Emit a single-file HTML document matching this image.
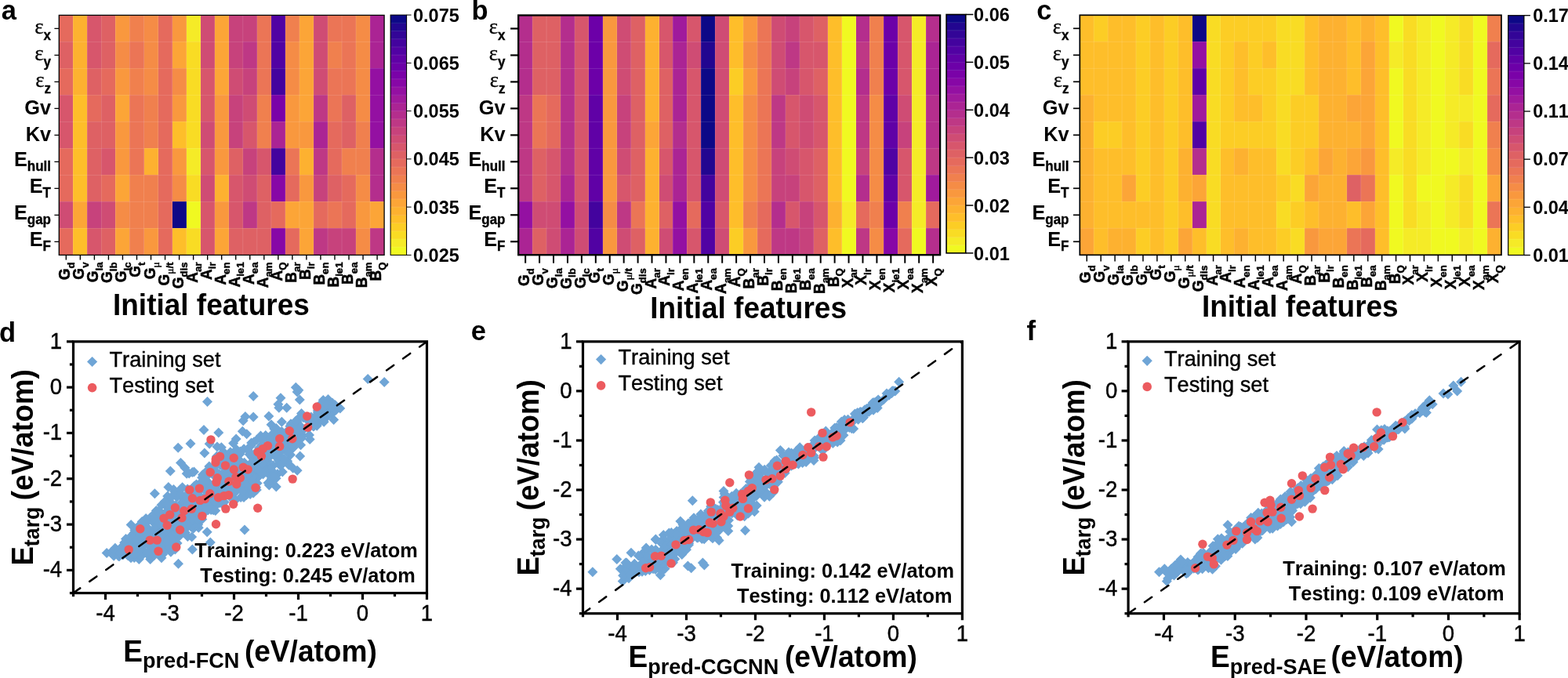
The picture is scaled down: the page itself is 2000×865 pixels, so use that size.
<!DOCTYPE html>
<html lang="en"><head><meta charset="utf-8"><title>Feature importance heatmaps and parity plots</title>
<style>html,body{margin:0;padding:0;background:#fff;}body{width:2000px;height:865px;overflow:hidden;}svg{display:block;font-family:"Liberation Sans", sans-serif;}text{fill:#000;font-kerning:none;}</style>
</head><body>
<svg width="2000" height="865" viewBox="0 0 2000 865">
<rect width="2000" height="865" fill="#fff"/>
<text transform="translate(1.7 25.4) scale(1 1.04)" font-size="34.5" font-weight="bold">a</text>
<text transform="translate(601.5 25.3) scale(1 1.04)" font-size="34.5" font-weight="bold">b</text>
<text transform="translate(1322.2 25.4) scale(1 1.04)" font-size="34.5" font-weight="bold">c</text>
<text transform="translate(-1 436.2) scale(1 1.04)" font-size="34.5" font-weight="bold">d</text>
<text transform="translate(600.8 433.8) scale(1 1.04)" font-size="34.5" font-weight="bold">e</text>
<text transform="translate(1309.5 433.8) scale(1 1.04)" font-size="34.5" font-weight="bold">f</text>
<g shape-rendering="crispEdges">
<rect x="75.3" y="19.4" width="18.33" height="34.3" fill="#e56a5d"/>
<rect x="93.33" y="19.4" width="18.34" height="34.3" fill="#fdb130"/>
<rect x="111.37" y="19.4" width="18.33" height="34.3" fill="#d7566c"/>
<rect x="129.41" y="19.4" width="18.33" height="34.3" fill="#de6164"/>
<rect x="147.44" y="19.4" width="18.33" height="34.3" fill="#f9983e"/>
<rect x="165.47" y="19.4" width="18.33" height="34.3" fill="#f0804e"/>
<rect x="183.51" y="19.4" width="18.34" height="34.3" fill="#f58c46"/>
<rect x="201.55" y="19.4" width="18.33" height="34.3" fill="#e56a5d"/>
<rect x="219.58" y="19.4" width="18.34" height="34.3" fill="#f9983e"/>
<rect x="237.62" y="19.4" width="18.33" height="34.3" fill="#f5eb27"/>
<rect x="255.65" y="19.4" width="18.34" height="34.3" fill="#cf4c74"/>
<rect x="273.69" y="19.4" width="18.34" height="34.3" fill="#fca537"/>
<rect x="291.72" y="19.4" width="18.33" height="34.3" fill="#c7427c"/>
<rect x="309.75" y="19.4" width="18.34" height="34.3" fill="#c7427c"/>
<rect x="327.79" y="19.4" width="18.33" height="34.3" fill="#eb7556"/>
<rect x="345.82" y="19.4" width="18.34" height="34.3" fill="#5102a3"/>
<rect x="363.86" y="19.4" width="18.34" height="34.3" fill="#f0804e"/>
<rect x="381.9" y="19.4" width="18.33" height="34.3" fill="#fca537"/>
<rect x="399.93" y="19.4" width="18.34" height="34.3" fill="#cf4c74"/>
<rect x="417.97" y="19.4" width="18.33" height="34.3" fill="#eb7556"/>
<rect x="436" y="19.4" width="18.34" height="34.3" fill="#eb7556"/>
<rect x="454.04" y="19.4" width="18.33" height="34.3" fill="#f58c46"/>
<rect x="472.07" y="19.4" width="18.34" height="34.3" fill="#ab2494"/>
<rect x="75.3" y="53.4" width="18.33" height="34.3" fill="#de6164"/>
<rect x="93.33" y="53.4" width="18.34" height="34.3" fill="#fdb130"/>
<rect x="111.37" y="53.4" width="18.33" height="34.3" fill="#d7566c"/>
<rect x="129.41" y="53.4" width="18.33" height="34.3" fill="#de6164"/>
<rect x="147.44" y="53.4" width="18.33" height="34.3" fill="#f58c46"/>
<rect x="165.47" y="53.4" width="18.33" height="34.3" fill="#eb7556"/>
<rect x="183.51" y="53.4" width="18.34" height="34.3" fill="#f58c46"/>
<rect x="201.55" y="53.4" width="18.33" height="34.3" fill="#e56a5d"/>
<rect x="219.58" y="53.4" width="18.34" height="34.3" fill="#fca537"/>
<rect x="237.62" y="53.4" width="18.33" height="34.3" fill="#f9dc24"/>
<rect x="255.65" y="53.4" width="18.34" height="34.3" fill="#cf4c74"/>
<rect x="273.69" y="53.4" width="18.34" height="34.3" fill="#fca537"/>
<rect x="291.72" y="53.4" width="18.33" height="34.3" fill="#c7427c"/>
<rect x="309.75" y="53.4" width="18.34" height="34.3" fill="#be3885"/>
<rect x="327.79" y="53.4" width="18.33" height="34.3" fill="#eb7556"/>
<rect x="345.82" y="53.4" width="18.34" height="34.3" fill="#5102a3"/>
<rect x="363.86" y="53.4" width="18.34" height="34.3" fill="#f58c46"/>
<rect x="381.9" y="53.4" width="18.33" height="34.3" fill="#fca537"/>
<rect x="399.93" y="53.4" width="18.34" height="34.3" fill="#cf4c74"/>
<rect x="417.97" y="53.4" width="18.33" height="34.3" fill="#f0804e"/>
<rect x="436" y="53.4" width="18.34" height="34.3" fill="#eb7556"/>
<rect x="454.04" y="53.4" width="18.33" height="34.3" fill="#f58c46"/>
<rect x="472.07" y="53.4" width="18.34" height="34.3" fill="#ab2494"/>
<rect x="75.3" y="87.4" width="18.33" height="34.3" fill="#e56a5d"/>
<rect x="93.33" y="87.4" width="18.34" height="34.3" fill="#fdb130"/>
<rect x="111.37" y="87.4" width="18.33" height="34.3" fill="#de6164"/>
<rect x="129.41" y="87.4" width="18.33" height="34.3" fill="#e56a5d"/>
<rect x="147.44" y="87.4" width="18.33" height="34.3" fill="#f9983e"/>
<rect x="165.47" y="87.4" width="18.33" height="34.3" fill="#f0804e"/>
<rect x="183.51" y="87.4" width="18.34" height="34.3" fill="#f58c46"/>
<rect x="201.55" y="87.4" width="18.33" height="34.3" fill="#e56a5d"/>
<rect x="219.58" y="87.4" width="18.34" height="34.3" fill="#f58c46"/>
<rect x="237.62" y="87.4" width="18.33" height="34.3" fill="#f9dc24"/>
<rect x="255.65" y="87.4" width="18.34" height="34.3" fill="#d7566c"/>
<rect x="273.69" y="87.4" width="18.34" height="34.3" fill="#fca537"/>
<rect x="291.72" y="87.4" width="18.33" height="34.3" fill="#cf4c74"/>
<rect x="309.75" y="87.4" width="18.34" height="34.3" fill="#c7427c"/>
<rect x="327.79" y="87.4" width="18.33" height="34.3" fill="#eb7556"/>
<rect x="345.82" y="87.4" width="18.34" height="34.3" fill="#43039e"/>
<rect x="363.86" y="87.4" width="18.34" height="34.3" fill="#f58c46"/>
<rect x="381.9" y="87.4" width="18.33" height="34.3" fill="#fca537"/>
<rect x="399.93" y="87.4" width="18.34" height="34.3" fill="#cf4c74"/>
<rect x="417.97" y="87.4" width="18.33" height="34.3" fill="#eb7556"/>
<rect x="436" y="87.4" width="18.34" height="34.3" fill="#eb7556"/>
<rect x="454.04" y="87.4" width="18.33" height="34.3" fill="#f58c46"/>
<rect x="472.07" y="87.4" width="18.34" height="34.3" fill="#9410a2"/>
<rect x="75.3" y="121.4" width="18.33" height="34.3" fill="#d7566c"/>
<rect x="93.33" y="121.4" width="18.34" height="34.3" fill="#febe2a"/>
<rect x="111.37" y="121.4" width="18.33" height="34.3" fill="#e56a5d"/>
<rect x="129.41" y="121.4" width="18.33" height="34.3" fill="#de6164"/>
<rect x="147.44" y="121.4" width="18.33" height="34.3" fill="#fca537"/>
<rect x="165.47" y="121.4" width="18.33" height="34.3" fill="#eb7556"/>
<rect x="183.51" y="121.4" width="18.34" height="34.3" fill="#f0804e"/>
<rect x="201.55" y="121.4" width="18.33" height="34.3" fill="#e56a5d"/>
<rect x="219.58" y="121.4" width="18.34" height="34.3" fill="#f9983e"/>
<rect x="237.62" y="121.4" width="18.33" height="34.3" fill="#f9dc24"/>
<rect x="255.65" y="121.4" width="18.34" height="34.3" fill="#d7566c"/>
<rect x="273.69" y="121.4" width="18.34" height="34.3" fill="#f9983e"/>
<rect x="291.72" y="121.4" width="18.33" height="34.3" fill="#c7427c"/>
<rect x="309.75" y="121.4" width="18.34" height="34.3" fill="#cf4c74"/>
<rect x="327.79" y="121.4" width="18.33" height="34.3" fill="#f0804e"/>
<rect x="345.82" y="121.4" width="18.34" height="34.3" fill="#7a02a8"/>
<rect x="363.86" y="121.4" width="18.34" height="34.3" fill="#f9983e"/>
<rect x="381.9" y="121.4" width="18.33" height="34.3" fill="#fca537"/>
<rect x="399.93" y="121.4" width="18.34" height="34.3" fill="#be3885"/>
<rect x="417.97" y="121.4" width="18.33" height="34.3" fill="#eb7556"/>
<rect x="436" y="121.4" width="18.34" height="34.3" fill="#de6164"/>
<rect x="454.04" y="121.4" width="18.33" height="34.3" fill="#f58c46"/>
<rect x="472.07" y="121.4" width="18.34" height="34.3" fill="#9410a2"/>
<rect x="75.3" y="155.4" width="18.33" height="34.3" fill="#d7566c"/>
<rect x="93.33" y="155.4" width="18.34" height="34.3" fill="#febe2a"/>
<rect x="111.37" y="155.4" width="18.33" height="34.3" fill="#de6164"/>
<rect x="129.41" y="155.4" width="18.33" height="34.3" fill="#de6164"/>
<rect x="147.44" y="155.4" width="18.33" height="34.3" fill="#f9983e"/>
<rect x="165.47" y="155.4" width="18.33" height="34.3" fill="#eb7556"/>
<rect x="183.51" y="155.4" width="18.34" height="34.3" fill="#f0804e"/>
<rect x="201.55" y="155.4" width="18.33" height="34.3" fill="#e56a5d"/>
<rect x="219.58" y="155.4" width="18.34" height="34.3" fill="#febe2a"/>
<rect x="237.62" y="155.4" width="18.33" height="34.3" fill="#f9dc24"/>
<rect x="255.65" y="155.4" width="18.34" height="34.3" fill="#cf4c74"/>
<rect x="273.69" y="155.4" width="18.34" height="34.3" fill="#f9983e"/>
<rect x="291.72" y="155.4" width="18.33" height="34.3" fill="#c7427c"/>
<rect x="309.75" y="155.4" width="18.34" height="34.3" fill="#d7566c"/>
<rect x="327.79" y="155.4" width="18.33" height="34.3" fill="#f0804e"/>
<rect x="345.82" y="155.4" width="18.34" height="34.3" fill="#ab2494"/>
<rect x="363.86" y="155.4" width="18.34" height="34.3" fill="#f9983e"/>
<rect x="381.9" y="155.4" width="18.33" height="34.3" fill="#f9983e"/>
<rect x="399.93" y="155.4" width="18.34" height="34.3" fill="#ab2494"/>
<rect x="417.97" y="155.4" width="18.33" height="34.3" fill="#e56a5d"/>
<rect x="436" y="155.4" width="18.34" height="34.3" fill="#de6164"/>
<rect x="454.04" y="155.4" width="18.33" height="34.3" fill="#f0804e"/>
<rect x="472.07" y="155.4" width="18.34" height="34.3" fill="#9410a2"/>
<rect x="75.3" y="189.4" width="18.33" height="34.3" fill="#e56a5d"/>
<rect x="93.33" y="189.4" width="18.34" height="34.3" fill="#febe2a"/>
<rect x="111.37" y="189.4" width="18.33" height="34.3" fill="#de6164"/>
<rect x="129.41" y="189.4" width="18.33" height="34.3" fill="#d7566c"/>
<rect x="147.44" y="189.4" width="18.33" height="34.3" fill="#f9983e"/>
<rect x="165.47" y="189.4" width="18.33" height="34.3" fill="#eb7556"/>
<rect x="183.51" y="189.4" width="18.34" height="34.3" fill="#fdb130"/>
<rect x="201.55" y="189.4" width="18.33" height="34.3" fill="#e56a5d"/>
<rect x="219.58" y="189.4" width="18.34" height="34.3" fill="#f9983e"/>
<rect x="237.62" y="189.4" width="18.33" height="34.3" fill="#f5eb27"/>
<rect x="255.65" y="189.4" width="18.34" height="34.3" fill="#d7566c"/>
<rect x="273.69" y="189.4" width="18.34" height="34.3" fill="#f9983e"/>
<rect x="291.72" y="189.4" width="18.33" height="34.3" fill="#de6164"/>
<rect x="309.75" y="189.4" width="18.34" height="34.3" fill="#c7427c"/>
<rect x="327.79" y="189.4" width="18.33" height="34.3" fill="#d7566c"/>
<rect x="345.82" y="189.4" width="18.34" height="34.3" fill="#43039e"/>
<rect x="363.86" y="189.4" width="18.34" height="34.3" fill="#eb7556"/>
<rect x="381.9" y="189.4" width="18.33" height="34.3" fill="#fdb130"/>
<rect x="399.93" y="189.4" width="18.34" height="34.3" fill="#be3885"/>
<rect x="417.97" y="189.4" width="18.33" height="34.3" fill="#e56a5d"/>
<rect x="436" y="189.4" width="18.34" height="34.3" fill="#f0804e"/>
<rect x="454.04" y="189.4" width="18.33" height="34.3" fill="#f0804e"/>
<rect x="472.07" y="189.4" width="18.34" height="34.3" fill="#b42e8d"/>
<rect x="75.3" y="223.4" width="18.33" height="34.3" fill="#e56a5d"/>
<rect x="93.33" y="223.4" width="18.34" height="34.3" fill="#febe2a"/>
<rect x="111.37" y="223.4" width="18.33" height="34.3" fill="#de6164"/>
<rect x="129.41" y="223.4" width="18.33" height="34.3" fill="#e56a5d"/>
<rect x="147.44" y="223.4" width="18.33" height="34.3" fill="#fca537"/>
<rect x="165.47" y="223.4" width="18.33" height="34.3" fill="#f0804e"/>
<rect x="183.51" y="223.4" width="18.34" height="34.3" fill="#f0804e"/>
<rect x="201.55" y="223.4" width="18.33" height="34.3" fill="#e56a5d"/>
<rect x="219.58" y="223.4" width="18.34" height="34.3" fill="#f58c46"/>
<rect x="237.62" y="223.4" width="18.33" height="34.3" fill="#f9dc24"/>
<rect x="255.65" y="223.4" width="18.34" height="34.3" fill="#cf4c74"/>
<rect x="273.69" y="223.4" width="18.34" height="34.3" fill="#fdb130"/>
<rect x="291.72" y="223.4" width="18.33" height="34.3" fill="#d7566c"/>
<rect x="309.75" y="223.4" width="18.34" height="34.3" fill="#cf4c74"/>
<rect x="327.79" y="223.4" width="18.33" height="34.3" fill="#de6164"/>
<rect x="345.82" y="223.4" width="18.34" height="34.3" fill="#8707a6"/>
<rect x="363.86" y="223.4" width="18.34" height="34.3" fill="#e56a5d"/>
<rect x="381.9" y="223.4" width="18.33" height="34.3" fill="#f9983e"/>
<rect x="399.93" y="223.4" width="18.34" height="34.3" fill="#c7427c"/>
<rect x="417.97" y="223.4" width="18.33" height="34.3" fill="#de6164"/>
<rect x="436" y="223.4" width="18.34" height="34.3" fill="#e56a5d"/>
<rect x="454.04" y="223.4" width="18.33" height="34.3" fill="#f58c46"/>
<rect x="472.07" y="223.4" width="18.34" height="34.3" fill="#b42e8d"/>
<rect x="75.3" y="257.4" width="18.33" height="34.3" fill="#cf4c74"/>
<rect x="93.33" y="257.4" width="18.34" height="34.3" fill="#fca537"/>
<rect x="111.37" y="257.4" width="18.33" height="34.3" fill="#c7427c"/>
<rect x="129.41" y="257.4" width="18.33" height="34.3" fill="#cf4c74"/>
<rect x="147.44" y="257.4" width="18.33" height="34.3" fill="#f58c46"/>
<rect x="165.47" y="257.4" width="18.33" height="34.3" fill="#f0804e"/>
<rect x="183.51" y="257.4" width="18.34" height="34.3" fill="#f0804e"/>
<rect x="201.55" y="257.4" width="18.33" height="34.3" fill="#e56a5d"/>
<rect x="219.58" y="257.4" width="18.34" height="34.3" fill="#0d0887"/>
<rect x="237.62" y="257.4" width="18.33" height="34.3" fill="#f0f921"/>
<rect x="255.65" y="257.4" width="18.34" height="34.3" fill="#d7566c"/>
<rect x="273.69" y="257.4" width="18.34" height="34.3" fill="#f9983e"/>
<rect x="291.72" y="257.4" width="18.33" height="34.3" fill="#d7566c"/>
<rect x="309.75" y="257.4" width="18.34" height="34.3" fill="#be3885"/>
<rect x="327.79" y="257.4" width="18.33" height="34.3" fill="#de6164"/>
<rect x="345.82" y="257.4" width="18.34" height="34.3" fill="#e56a5d"/>
<rect x="363.86" y="257.4" width="18.34" height="34.3" fill="#fca537"/>
<rect x="381.9" y="257.4" width="18.33" height="34.3" fill="#fca537"/>
<rect x="399.93" y="257.4" width="18.34" height="34.3" fill="#e56a5d"/>
<rect x="417.97" y="257.4" width="18.33" height="34.3" fill="#eb7556"/>
<rect x="436" y="257.4" width="18.34" height="34.3" fill="#e56a5d"/>
<rect x="454.04" y="257.4" width="18.33" height="34.3" fill="#f9983e"/>
<rect x="472.07" y="257.4" width="18.34" height="34.3" fill="#fca537"/>
<rect x="75.3" y="291.4" width="18.33" height="34.3" fill="#e56a5d"/>
<rect x="93.33" y="291.4" width="18.34" height="34.3" fill="#febe2a"/>
<rect x="111.37" y="291.4" width="18.33" height="34.3" fill="#d7566c"/>
<rect x="129.41" y="291.4" width="18.33" height="34.3" fill="#de6164"/>
<rect x="147.44" y="291.4" width="18.33" height="34.3" fill="#fca537"/>
<rect x="165.47" y="291.4" width="18.33" height="34.3" fill="#f0804e"/>
<rect x="183.51" y="291.4" width="18.34" height="34.3" fill="#f9983e"/>
<rect x="201.55" y="291.4" width="18.33" height="34.3" fill="#e56a5d"/>
<rect x="219.58" y="291.4" width="18.34" height="34.3" fill="#febe2a"/>
<rect x="237.62" y="291.4" width="18.33" height="34.3" fill="#f9dc24"/>
<rect x="255.65" y="291.4" width="18.34" height="34.3" fill="#d7566c"/>
<rect x="273.69" y="291.4" width="18.34" height="34.3" fill="#fca537"/>
<rect x="291.72" y="291.4" width="18.33" height="34.3" fill="#de6164"/>
<rect x="309.75" y="291.4" width="18.34" height="34.3" fill="#de6164"/>
<rect x="327.79" y="291.4" width="18.33" height="34.3" fill="#de6164"/>
<rect x="345.82" y="291.4" width="18.34" height="34.3" fill="#8707a6"/>
<rect x="363.86" y="291.4" width="18.34" height="34.3" fill="#e56a5d"/>
<rect x="381.9" y="291.4" width="18.33" height="34.3" fill="#fca537"/>
<rect x="399.93" y="291.4" width="18.34" height="34.3" fill="#be3885"/>
<rect x="417.97" y="291.4" width="18.33" height="34.3" fill="#c7427c"/>
<rect x="436" y="291.4" width="18.34" height="34.3" fill="#c7427c"/>
<rect x="454.04" y="291.4" width="18.33" height="34.3" fill="#f58c46"/>
<rect x="472.07" y="291.4" width="18.34" height="34.3" fill="#be3885"/>
</g>
<g stroke="#fff" stroke-opacity="0.22" stroke-width="0.6">
<line x1="75.3" y1="53.4" x2="490.11" y2="53.4"/>
<line x1="75.3" y1="87.4" x2="490.11" y2="87.4"/>
<line x1="75.3" y1="121.4" x2="490.11" y2="121.4"/>
<line x1="75.3" y1="155.4" x2="490.11" y2="155.4"/>
<line x1="75.3" y1="189.4" x2="490.11" y2="189.4"/>
<line x1="75.3" y1="223.4" x2="490.11" y2="223.4"/>
<line x1="75.3" y1="257.4" x2="490.11" y2="257.4"/>
<line x1="75.3" y1="291.4" x2="490.11" y2="291.4"/>
<line x1="93.33" y1="19.4" x2="93.33" y2="325.4"/>
<line x1="111.37" y1="19.4" x2="111.37" y2="325.4"/>
<line x1="129.41" y1="19.4" x2="129.41" y2="325.4"/>
<line x1="147.44" y1="19.4" x2="147.44" y2="325.4"/>
<line x1="165.47" y1="19.4" x2="165.47" y2="325.4"/>
<line x1="183.51" y1="19.4" x2="183.51" y2="325.4"/>
<line x1="201.55" y1="19.4" x2="201.55" y2="325.4"/>
<line x1="219.58" y1="19.4" x2="219.58" y2="325.4"/>
<line x1="237.62" y1="19.4" x2="237.62" y2="325.4"/>
<line x1="255.65" y1="19.4" x2="255.65" y2="325.4"/>
<line x1="273.69" y1="19.4" x2="273.69" y2="325.4"/>
<line x1="291.72" y1="19.4" x2="291.72" y2="325.4"/>
<line x1="309.75" y1="19.4" x2="309.75" y2="325.4"/>
<line x1="327.79" y1="19.4" x2="327.79" y2="325.4"/>
<line x1="345.82" y1="19.4" x2="345.82" y2="325.4"/>
<line x1="363.86" y1="19.4" x2="363.86" y2="325.4"/>
<line x1="381.9" y1="19.4" x2="381.9" y2="325.4"/>
<line x1="399.93" y1="19.4" x2="399.93" y2="325.4"/>
<line x1="417.97" y1="19.4" x2="417.97" y2="325.4"/>
<line x1="436" y1="19.4" x2="436" y2="325.4"/>
<line x1="454.04" y1="19.4" x2="454.04" y2="325.4"/>
<line x1="472.07" y1="19.4" x2="472.07" y2="325.4"/>
</g>
<rect x="75.3" y="19.4" width="414.81" height="306" fill="none" stroke="#000" stroke-width="1.3"/>
<line x1="69.4" y1="36.4" x2="75.3" y2="36.4" stroke="#000" stroke-width="1.3"/>
<text transform="translate(65 42.9) scale(1 1.04)" text-anchor="end" font-weight="bold" font-size="17"><tspan font-family='"Liberation Serif", "DejaVu Serif", serif' font-weight="normal" font-size="27" stroke="#000" stroke-width="0.3">ε</tspan><tspan dy="7.5" dx="0" stroke="#000" stroke-width="0.35">x</tspan></text>
<line x1="69.4" y1="70.4" x2="75.3" y2="70.4" stroke="#000" stroke-width="1.3"/>
<text transform="translate(65 76.9) scale(1 1.04)" text-anchor="end" font-weight="bold" font-size="17"><tspan font-family='"Liberation Serif", "DejaVu Serif", serif' font-weight="normal" font-size="27" stroke="#000" stroke-width="0.3">ε</tspan><tspan dy="7.5" dx="0" stroke="#000" stroke-width="0.35">y</tspan></text>
<line x1="69.4" y1="104.4" x2="75.3" y2="104.4" stroke="#000" stroke-width="1.3"/>
<text transform="translate(65 110.9) scale(1 1.04)" text-anchor="end" font-weight="bold" font-size="17"><tspan font-family='"Liberation Serif", "DejaVu Serif", serif' font-weight="normal" font-size="27" stroke="#000" stroke-width="0.3">ε</tspan><tspan dy="7.5" dx="0" stroke="#000" stroke-width="0.35">z</tspan></text>
<line x1="69.4" y1="138.4" x2="75.3" y2="138.4" stroke="#000" stroke-width="1.3"/>
<text transform="translate(65 146.1) scale(1 1.04)" text-anchor="end" font-weight="bold" font-size="25.3">Gv</text>
<line x1="69.4" y1="172.4" x2="75.3" y2="172.4" stroke="#000" stroke-width="1.3"/>
<text transform="translate(65 180.1) scale(1 1.04)" text-anchor="end" font-weight="bold" font-size="25.3">Kv</text>
<line x1="69.4" y1="206.4" x2="75.3" y2="206.4" stroke="#000" stroke-width="1.3"/>
<text transform="translate(65 211.8) scale(1 1.04)" text-anchor="end" font-weight="bold" font-size="25.3">E<tspan font-size="17" dy="6.2" dx="0" stroke="#000" stroke-width="0.35">hull</tspan></text>
<line x1="69.4" y1="240.4" x2="75.3" y2="240.4" stroke="#000" stroke-width="1.3"/>
<text transform="translate(65 245.8) scale(1 1.04)" text-anchor="end" font-weight="bold" font-size="25.3">E<tspan font-size="17" dy="6.2" dx="0" stroke="#000" stroke-width="0.35">T</tspan></text>
<line x1="69.4" y1="274.4" x2="75.3" y2="274.4" stroke="#000" stroke-width="1.3"/>
<text transform="translate(65 279.8) scale(1 1.04)" text-anchor="end" font-weight="bold" font-size="25.3">E<tspan font-size="17" dy="6.2" dx="0" stroke="#000" stroke-width="0.35">gap</tspan></text>
<line x1="69.4" y1="308.4" x2="75.3" y2="308.4" stroke="#000" stroke-width="1.3"/>
<text transform="translate(65 313.8) scale(1 1.04)" text-anchor="end" font-weight="bold" font-size="25.3">E<tspan font-size="17" dy="6.2" dx="0" stroke="#000" stroke-width="0.35">F</tspan></text>
<line x1="84.32" y1="325.4" x2="84.32" y2="331.6" stroke="#000" stroke-width="1.4"/>
<text transform="translate(94.82 334.5) rotate(-90) scale(1,0.97)" text-anchor="end" font-weight="bold" font-size="13.2" stroke="#000" stroke-width="0.45">d</text>
<text transform="translate(89.32 342.56) rotate(-90) scale(1,1.1)" text-anchor="end" font-weight="bold" font-size="19" stroke="#000" stroke-width="0.5">G</text>
<line x1="102.35" y1="325.4" x2="102.35" y2="331.6" stroke="#000" stroke-width="1.4"/>
<text transform="translate(112.85 334.5) rotate(-90) scale(1,0.97)" text-anchor="end" font-weight="bold" font-size="13.2" stroke="#000" stroke-width="0.45">v</text>
<text transform="translate(107.35 341.84) rotate(-90) scale(1,1.1)" text-anchor="end" font-weight="bold" font-size="19" stroke="#000" stroke-width="0.5">G</text>
<line x1="120.39" y1="325.4" x2="120.39" y2="331.6" stroke="#000" stroke-width="1.4"/>
<text transform="translate(130.89 334.5) rotate(-90) scale(1,0.97)" text-anchor="end" font-weight="bold" font-size="13.2" stroke="#000" stroke-width="0.45">la</text>
<text transform="translate(125.39 345.51) rotate(-90) scale(1,1.1)" text-anchor="end" font-weight="bold" font-size="19" stroke="#000" stroke-width="0.5">G</text>
<line x1="138.42" y1="325.4" x2="138.42" y2="331.6" stroke="#000" stroke-width="1.4"/>
<text transform="translate(148.92 334.5) rotate(-90) scale(1,0.97)" text-anchor="end" font-weight="bold" font-size="13.2" stroke="#000" stroke-width="0.45">lb</text>
<text transform="translate(143.42 346.23) rotate(-90) scale(1,1.1)" text-anchor="end" font-weight="bold" font-size="19" stroke="#000" stroke-width="0.5">G</text>
<line x1="156.46" y1="325.4" x2="156.46" y2="331.6" stroke="#000" stroke-width="1.4"/>
<text transform="translate(166.96 334.5) rotate(-90) scale(1,0.97)" text-anchor="end" font-weight="bold" font-size="13.2" stroke="#000" stroke-width="0.45">lc</text>
<text transform="translate(161.46 345.51) rotate(-90) scale(1,1.1)" text-anchor="end" font-weight="bold" font-size="19" stroke="#000" stroke-width="0.5">G</text>
<line x1="174.49" y1="325.4" x2="174.49" y2="331.6" stroke="#000" stroke-width="1.4"/>
<text transform="translate(184.99 334.5) rotate(-90) scale(1,0.97)" text-anchor="end" font-weight="bold" font-size="13.2" stroke="#000" stroke-width="0.45">t</text>
<text transform="translate(179.49 338.9) rotate(-90) scale(1,1.1)" text-anchor="end" font-weight="bold" font-size="19" stroke="#000" stroke-width="0.5">G</text>
<line x1="192.53" y1="325.4" x2="192.53" y2="331.6" stroke="#000" stroke-width="1.4"/>
<text transform="translate(203.03 334.5) rotate(-90) scale(1,0.97)" text-anchor="end" font-weight="bold" font-size="13.2" stroke="#000" stroke-width="0.45"><tspan font-family='"Liberation Serif", "DejaVu Serif", serif' font-weight="normal">μ</tspan></text>
<text transform="translate(197.53 341.58) rotate(-90) scale(1,1.1)" text-anchor="end" font-weight="bold" font-size="19" stroke="#000" stroke-width="0.5">G</text>
<line x1="210.56" y1="325.4" x2="210.56" y2="331.6" stroke="#000" stroke-width="1.4"/>
<text transform="translate(221.06 334.5) rotate(-90) scale(1,0.97)" text-anchor="end" font-weight="bold" font-size="13.2" stroke="#000" stroke-width="0.45"><tspan font-family='"Liberation Serif", "DejaVu Serif", serif' font-weight="normal">μ</tspan>/t</text>
<text transform="translate(215.56 349.64) rotate(-90) scale(1,1.1)" text-anchor="end" font-weight="bold" font-size="19" stroke="#000" stroke-width="0.5">G</text>
<line x1="228.6" y1="325.4" x2="228.6" y2="331.6" stroke="#000" stroke-width="1.4"/>
<text transform="translate(239.1 334.5) rotate(-90) scale(1,0.97)" text-anchor="end" font-weight="bold" font-size="13.2" stroke="#000" stroke-width="0.45">dis</text>
<text transform="translate(233.6 353.57) rotate(-90) scale(1,1.1)" text-anchor="end" font-weight="bold" font-size="19" stroke="#000" stroke-width="0.5">G</text>
<line x1="246.63" y1="325.4" x2="246.63" y2="331.6" stroke="#000" stroke-width="1.4"/>
<text transform="translate(257.13 334.5) rotate(-90) scale(1,0.97)" text-anchor="end" font-weight="bold" font-size="13.2" stroke="#000" stroke-width="0.45">ar</text>
<text transform="translate(251.63 346.98) rotate(-90) scale(1,1.1)" text-anchor="end" font-weight="bold" font-size="19" stroke="#000" stroke-width="0.5">A</text>
<line x1="264.67" y1="325.4" x2="264.67" y2="331.6" stroke="#000" stroke-width="1.4"/>
<text transform="translate(275.17 334.5) rotate(-90) scale(1,0.97)" text-anchor="end" font-weight="bold" font-size="13.2" stroke="#000" stroke-width="0.45">ir</text>
<text transform="translate(269.67 343.3) rotate(-90) scale(1,1.1)" text-anchor="end" font-weight="bold" font-size="19" stroke="#000" stroke-width="0.5">A</text>
<line x1="282.7" y1="325.4" x2="282.7" y2="331.6" stroke="#000" stroke-width="1.4"/>
<text transform="translate(293.2 334.5) rotate(-90) scale(1,0.97)" text-anchor="end" font-weight="bold" font-size="13.2" stroke="#000" stroke-width="0.45">en</text>
<text transform="translate(287.7 349.9) rotate(-90) scale(1,1.1)" text-anchor="end" font-weight="bold" font-size="19" stroke="#000" stroke-width="0.5">A</text>
<line x1="300.74" y1="325.4" x2="300.74" y2="331.6" stroke="#000" stroke-width="1.4"/>
<text transform="translate(311.24 334.5) rotate(-90) scale(1,0.97)" text-anchor="end" font-weight="bold" font-size="13.2" stroke="#000" stroke-width="0.45">ie1</text>
<text transform="translate(305.74 352.85) rotate(-90) scale(1,1.1)" text-anchor="end" font-weight="bold" font-size="19" stroke="#000" stroke-width="0.5">A</text>
<line x1="318.77" y1="325.4" x2="318.77" y2="331.6" stroke="#000" stroke-width="1.4"/>
<text transform="translate(329.27 334.5) rotate(-90) scale(1,0.97)" text-anchor="end" font-weight="bold" font-size="13.2" stroke="#000" stroke-width="0.45">ea</text>
<text transform="translate(323.77 349.18) rotate(-90) scale(1,1.1)" text-anchor="end" font-weight="bold" font-size="19" stroke="#000" stroke-width="0.5">A</text>
<line x1="336.81" y1="325.4" x2="336.81" y2="331.6" stroke="#000" stroke-width="1.4"/>
<text transform="translate(347.31 334.5) rotate(-90) scale(1,0.97)" text-anchor="end" font-weight="bold" font-size="13.2" stroke="#000" stroke-width="0.45">am</text>
<text transform="translate(341.81 353.58) rotate(-90) scale(1,1.1)" text-anchor="end" font-weight="bold" font-size="19" stroke="#000" stroke-width="0.5">A</text>
<line x1="354.84" y1="325.4" x2="354.84" y2="331.6" stroke="#000" stroke-width="1.4"/>
<text transform="translate(365.34 334.5) rotate(-90) scale(1,0.97)" text-anchor="end" font-weight="bold" font-size="13.2" stroke="#000" stroke-width="0.45">Q</text>
<text transform="translate(359.84 344.77) rotate(-90) scale(1,1.1)" text-anchor="end" font-weight="bold" font-size="19" stroke="#000" stroke-width="0.5">A</text>
<line x1="372.88" y1="325.4" x2="372.88" y2="331.6" stroke="#000" stroke-width="1.4"/>
<text transform="translate(383.38 334.5) rotate(-90) scale(1,0.97)" text-anchor="end" font-weight="bold" font-size="13.2" stroke="#000" stroke-width="0.45">ar</text>
<text transform="translate(377.88 346.98) rotate(-90) scale(1,1.1)" text-anchor="end" font-weight="bold" font-size="19" stroke="#000" stroke-width="0.5">B</text>
<line x1="390.91" y1="325.4" x2="390.91" y2="331.6" stroke="#000" stroke-width="1.4"/>
<text transform="translate(401.41 334.5) rotate(-90) scale(1,0.97)" text-anchor="end" font-weight="bold" font-size="13.2" stroke="#000" stroke-width="0.45">ir</text>
<text transform="translate(395.91 343.3) rotate(-90) scale(1,1.1)" text-anchor="end" font-weight="bold" font-size="19" stroke="#000" stroke-width="0.5">B</text>
<line x1="408.95" y1="325.4" x2="408.95" y2="331.6" stroke="#000" stroke-width="1.4"/>
<text transform="translate(419.45 334.5) rotate(-90) scale(1,0.97)" text-anchor="end" font-weight="bold" font-size="13.2" stroke="#000" stroke-width="0.45">en</text>
<text transform="translate(413.95 349.9) rotate(-90) scale(1,1.1)" text-anchor="end" font-weight="bold" font-size="19" stroke="#000" stroke-width="0.5">B</text>
<line x1="426.98" y1="325.4" x2="426.98" y2="331.6" stroke="#000" stroke-width="1.4"/>
<text transform="translate(437.48 334.5) rotate(-90) scale(1,0.97)" text-anchor="end" font-weight="bold" font-size="13.2" stroke="#000" stroke-width="0.45">ie1</text>
<text transform="translate(431.98 352.85) rotate(-90) scale(1,1.1)" text-anchor="end" font-weight="bold" font-size="19" stroke="#000" stroke-width="0.5">B</text>
<line x1="445.02" y1="325.4" x2="445.02" y2="331.6" stroke="#000" stroke-width="1.4"/>
<text transform="translate(455.52 334.5) rotate(-90) scale(1,0.97)" text-anchor="end" font-weight="bold" font-size="13.2" stroke="#000" stroke-width="0.45">ea</text>
<text transform="translate(450.02 349.18) rotate(-90) scale(1,1.1)" text-anchor="end" font-weight="bold" font-size="19" stroke="#000" stroke-width="0.5">B</text>
<line x1="463.05" y1="325.4" x2="463.05" y2="331.6" stroke="#000" stroke-width="1.4"/>
<text transform="translate(473.55 334.5) rotate(-90) scale(1,0.97)" text-anchor="end" font-weight="bold" font-size="13.2" stroke="#000" stroke-width="0.45">am</text>
<text transform="translate(468.05 353.58) rotate(-90) scale(1,1.1)" text-anchor="end" font-weight="bold" font-size="19" stroke="#000" stroke-width="0.5">B</text>
<line x1="481.09" y1="325.4" x2="481.09" y2="331.6" stroke="#000" stroke-width="1.4"/>
<text transform="translate(491.59 334.5) rotate(-90) scale(1,0.97)" text-anchor="end" font-weight="bold" font-size="13.2" stroke="#000" stroke-width="0.45">Q</text>
<text transform="translate(486.09 344.77) rotate(-90) scale(1,1.1)" text-anchor="end" font-weight="bold" font-size="19" stroke="#000" stroke-width="0.5">B</text>
<g shape-rendering="crispEdges">
<rect x="498.1" y="315.19" width="20.5" height="10.51" fill="#f0f921"/>
<rect x="498.1" y="304.98" width="20.5" height="10.51" fill="#f5eb27"/>
<rect x="498.1" y="294.77" width="20.5" height="10.51" fill="#f9dc24"/>
<rect x="498.1" y="284.56" width="20.5" height="10.51" fill="#fccd25"/>
<rect x="498.1" y="274.35" width="20.5" height="10.51" fill="#febe2a"/>
<rect x="498.1" y="264.14" width="20.5" height="10.51" fill="#fdb130"/>
<rect x="498.1" y="253.93" width="20.5" height="10.51" fill="#fca537"/>
<rect x="498.1" y="243.72" width="20.5" height="10.51" fill="#f9983e"/>
<rect x="498.1" y="233.51" width="20.5" height="10.51" fill="#f58c46"/>
<rect x="498.1" y="223.3" width="20.5" height="10.51" fill="#f0804e"/>
<rect x="498.1" y="213.09" width="20.5" height="10.51" fill="#eb7556"/>
<rect x="498.1" y="202.88" width="20.5" height="10.51" fill="#e56a5d"/>
<rect x="498.1" y="192.67" width="20.5" height="10.51" fill="#de6164"/>
<rect x="498.1" y="182.46" width="20.5" height="10.51" fill="#d7566c"/>
<rect x="498.1" y="172.25" width="20.5" height="10.51" fill="#cf4c74"/>
<rect x="498.1" y="162.04" width="20.5" height="10.51" fill="#c7427c"/>
<rect x="498.1" y="151.83" width="20.5" height="10.51" fill="#be3885"/>
<rect x="498.1" y="141.62" width="20.5" height="10.51" fill="#b42e8d"/>
<rect x="498.1" y="131.41" width="20.5" height="10.51" fill="#ab2494"/>
<rect x="498.1" y="121.2" width="20.5" height="10.51" fill="#a01a9c"/>
<rect x="498.1" y="110.99" width="20.5" height="10.51" fill="#9410a2"/>
<rect x="498.1" y="100.78" width="20.5" height="10.51" fill="#8707a6"/>
<rect x="498.1" y="90.57" width="20.5" height="10.51" fill="#7a02a8"/>
<rect x="498.1" y="80.36" width="20.5" height="10.51" fill="#6c00a8"/>
<rect x="498.1" y="70.15" width="20.5" height="10.51" fill="#6001a6"/>
<rect x="498.1" y="59.94" width="20.5" height="10.51" fill="#5102a3"/>
<rect x="498.1" y="49.73" width="20.5" height="10.51" fill="#43039e"/>
<rect x="498.1" y="39.52" width="20.5" height="10.51" fill="#330597"/>
<rect x="498.1" y="29.31" width="20.5" height="10.51" fill="#220690"/>
<rect x="498.1" y="19.1" width="20.5" height="10.51" fill="#0d0887"/>
</g>
<g stroke="#fff" stroke-opacity="0.2" stroke-width="0.6">
<line x1="498.1" y1="29.31" x2="518.6" y2="29.31"/>
<line x1="498.1" y1="39.52" x2="518.6" y2="39.52"/>
<line x1="498.1" y1="49.73" x2="518.6" y2="49.73"/>
<line x1="498.1" y1="59.94" x2="518.6" y2="59.94"/>
<line x1="498.1" y1="70.15" x2="518.6" y2="70.15"/>
<line x1="498.1" y1="80.36" x2="518.6" y2="80.36"/>
<line x1="498.1" y1="90.57" x2="518.6" y2="90.57"/>
<line x1="498.1" y1="100.78" x2="518.6" y2="100.78"/>
<line x1="498.1" y1="110.99" x2="518.6" y2="110.99"/>
<line x1="498.1" y1="121.2" x2="518.6" y2="121.2"/>
<line x1="498.1" y1="131.41" x2="518.6" y2="131.41"/>
<line x1="498.1" y1="141.62" x2="518.6" y2="141.62"/>
<line x1="498.1" y1="151.83" x2="518.6" y2="151.83"/>
<line x1="498.1" y1="162.04" x2="518.6" y2="162.04"/>
<line x1="498.1" y1="172.25" x2="518.6" y2="172.25"/>
<line x1="498.1" y1="182.46" x2="518.6" y2="182.46"/>
<line x1="498.1" y1="192.67" x2="518.6" y2="192.67"/>
<line x1="498.1" y1="202.88" x2="518.6" y2="202.88"/>
<line x1="498.1" y1="213.09" x2="518.6" y2="213.09"/>
<line x1="498.1" y1="223.3" x2="518.6" y2="223.3"/>
<line x1="498.1" y1="233.51" x2="518.6" y2="233.51"/>
<line x1="498.1" y1="243.72" x2="518.6" y2="243.72"/>
<line x1="498.1" y1="253.93" x2="518.6" y2="253.93"/>
<line x1="498.1" y1="264.14" x2="518.6" y2="264.14"/>
<line x1="498.1" y1="274.35" x2="518.6" y2="274.35"/>
<line x1="498.1" y1="284.56" x2="518.6" y2="284.56"/>
<line x1="498.1" y1="294.77" x2="518.6" y2="294.77"/>
<line x1="498.1" y1="304.98" x2="518.6" y2="304.98"/>
<line x1="498.1" y1="315.19" x2="518.6" y2="315.19"/>
</g>
<rect x="498.1" y="19.1" width="20.5" height="306.3" fill="none" stroke="#000" stroke-width="1"/>
<line x1="518.6" y1="19.1" x2="524.6" y2="19.1" stroke="#000" stroke-width="1"/>
<text transform="translate(527 27.6) scale(1 1.04)" font-size="23.5" font-weight="bold">0.075</text>
<line x1="518.6" y1="80.36" x2="524.6" y2="80.36" stroke="#000" stroke-width="1"/>
<text transform="translate(527 88.86) scale(1 1.04)" font-size="23.5" font-weight="bold">0.065</text>
<line x1="518.6" y1="141.62" x2="524.6" y2="141.62" stroke="#000" stroke-width="1"/>
<text transform="translate(527 150.12) scale(1 1.04)" font-size="23.5" font-weight="bold">0.055</text>
<line x1="518.6" y1="202.88" x2="524.6" y2="202.88" stroke="#000" stroke-width="1"/>
<text transform="translate(527 211.38) scale(1 1.04)" font-size="23.5" font-weight="bold">0.045</text>
<line x1="518.6" y1="264.14" x2="524.6" y2="264.14" stroke="#000" stroke-width="1"/>
<text transform="translate(527 272.64) scale(1 1.04)" font-size="23.5" font-weight="bold">0.035</text>
<line x1="518.6" y1="325.4" x2="524.6" y2="325.4" stroke="#000" stroke-width="1"/>
<text transform="translate(527 333.9) scale(1 1.04)" font-size="23.5" font-weight="bold">0.025</text>
<text transform="translate(144 401.7) scale(1 1.04)" font-size="37" font-weight="bold">Initial features</text>
<g shape-rendering="crispEdges">
<rect x="661.2" y="19.5" width="18.23" height="34.27" fill="#b42e8d"/>
<rect x="679.13" y="19.5" width="18.23" height="34.27" fill="#de6164"/>
<rect x="697.06" y="19.5" width="18.23" height="34.27" fill="#de6164"/>
<rect x="714.99" y="19.5" width="18.23" height="34.27" fill="#b42e8d"/>
<rect x="732.92" y="19.5" width="18.23" height="34.27" fill="#d7566c"/>
<rect x="750.85" y="19.5" width="18.23" height="34.27" fill="#6c00a8"/>
<rect x="768.78" y="19.5" width="18.23" height="34.27" fill="#f9983e"/>
<rect x="786.71" y="19.5" width="18.23" height="34.27" fill="#cf4c74"/>
<rect x="804.64" y="19.5" width="18.23" height="34.27" fill="#de6164"/>
<rect x="822.57" y="19.5" width="18.23" height="34.27" fill="#fdb130"/>
<rect x="840.5" y="19.5" width="18.23" height="34.27" fill="#d7566c"/>
<rect x="858.43" y="19.5" width="18.23" height="34.27" fill="#a01a9c"/>
<rect x="876.36" y="19.5" width="18.23" height="34.27" fill="#d7566c"/>
<rect x="894.29" y="19.5" width="18.23" height="34.27" fill="#0d0887"/>
<rect x="912.22" y="19.5" width="18.23" height="34.27" fill="#cf4c74"/>
<rect x="930.15" y="19.5" width="18.23" height="34.27" fill="#febe2a"/>
<rect x="948.08" y="19.5" width="18.23" height="34.27" fill="#f9983e"/>
<rect x="966.01" y="19.5" width="18.23" height="34.27" fill="#eb7556"/>
<rect x="983.94" y="19.5" width="18.23" height="34.27" fill="#cf4c74"/>
<rect x="1001.87" y="19.5" width="18.23" height="34.27" fill="#c7427c"/>
<rect x="1019.8" y="19.5" width="18.23" height="34.27" fill="#d7566c"/>
<rect x="1037.73" y="19.5" width="18.23" height="34.27" fill="#de6164"/>
<rect x="1055.66" y="19.5" width="18.23" height="34.27" fill="#febe2a"/>
<rect x="1073.59" y="19.5" width="18.23" height="34.27" fill="#f0f921"/>
<rect x="1091.52" y="19.5" width="18.23" height="34.27" fill="#b42e8d"/>
<rect x="1109.45" y="19.5" width="18.23" height="34.27" fill="#f0804e"/>
<rect x="1127.38" y="19.5" width="18.23" height="34.27" fill="#6c00a8"/>
<rect x="1145.31" y="19.5" width="18.23" height="34.27" fill="#d7566c"/>
<rect x="1163.24" y="19.5" width="18.23" height="34.27" fill="#f5eb27"/>
<rect x="1181.17" y="19.5" width="18.23" height="34.27" fill="#b42e8d"/>
<rect x="661.2" y="53.47" width="18.23" height="34.27" fill="#b42e8d"/>
<rect x="679.13" y="53.47" width="18.23" height="34.27" fill="#de6164"/>
<rect x="697.06" y="53.47" width="18.23" height="34.27" fill="#de6164"/>
<rect x="714.99" y="53.47" width="18.23" height="34.27" fill="#b42e8d"/>
<rect x="732.92" y="53.47" width="18.23" height="34.27" fill="#d7566c"/>
<rect x="750.85" y="53.47" width="18.23" height="34.27" fill="#6c00a8"/>
<rect x="768.78" y="53.47" width="18.23" height="34.27" fill="#f9983e"/>
<rect x="786.71" y="53.47" width="18.23" height="34.27" fill="#cf4c74"/>
<rect x="804.64" y="53.47" width="18.23" height="34.27" fill="#de6164"/>
<rect x="822.57" y="53.47" width="18.23" height="34.27" fill="#fdb130"/>
<rect x="840.5" y="53.47" width="18.23" height="34.27" fill="#d7566c"/>
<rect x="858.43" y="53.47" width="18.23" height="34.27" fill="#ab2494"/>
<rect x="876.36" y="53.47" width="18.23" height="34.27" fill="#cf4c74"/>
<rect x="894.29" y="53.47" width="18.23" height="34.27" fill="#220690"/>
<rect x="912.22" y="53.47" width="18.23" height="34.27" fill="#cf4c74"/>
<rect x="930.15" y="53.47" width="18.23" height="34.27" fill="#febe2a"/>
<rect x="948.08" y="53.47" width="18.23" height="34.27" fill="#f58c46"/>
<rect x="966.01" y="53.47" width="18.23" height="34.27" fill="#eb7556"/>
<rect x="983.94" y="53.47" width="18.23" height="34.27" fill="#cf4c74"/>
<rect x="1001.87" y="53.47" width="18.23" height="34.27" fill="#be3885"/>
<rect x="1019.8" y="53.47" width="18.23" height="34.27" fill="#d7566c"/>
<rect x="1037.73" y="53.47" width="18.23" height="34.27" fill="#d7566c"/>
<rect x="1055.66" y="53.47" width="18.23" height="34.27" fill="#febe2a"/>
<rect x="1073.59" y="53.47" width="18.23" height="34.27" fill="#f0f921"/>
<rect x="1091.52" y="53.47" width="18.23" height="34.27" fill="#be3885"/>
<rect x="1109.45" y="53.47" width="18.23" height="34.27" fill="#f0804e"/>
<rect x="1127.38" y="53.47" width="18.23" height="34.27" fill="#6c00a8"/>
<rect x="1145.31" y="53.47" width="18.23" height="34.27" fill="#d7566c"/>
<rect x="1163.24" y="53.47" width="18.23" height="34.27" fill="#f5eb27"/>
<rect x="1181.17" y="53.47" width="18.23" height="34.27" fill="#ab2494"/>
<rect x="661.2" y="87.44" width="18.23" height="34.27" fill="#b42e8d"/>
<rect x="679.13" y="87.44" width="18.23" height="34.27" fill="#de6164"/>
<rect x="697.06" y="87.44" width="18.23" height="34.27" fill="#de6164"/>
<rect x="714.99" y="87.44" width="18.23" height="34.27" fill="#b42e8d"/>
<rect x="732.92" y="87.44" width="18.23" height="34.27" fill="#d7566c"/>
<rect x="750.85" y="87.44" width="18.23" height="34.27" fill="#6c00a8"/>
<rect x="768.78" y="87.44" width="18.23" height="34.27" fill="#f9983e"/>
<rect x="786.71" y="87.44" width="18.23" height="34.27" fill="#cf4c74"/>
<rect x="804.64" y="87.44" width="18.23" height="34.27" fill="#de6164"/>
<rect x="822.57" y="87.44" width="18.23" height="34.27" fill="#fdb130"/>
<rect x="840.5" y="87.44" width="18.23" height="34.27" fill="#de6164"/>
<rect x="858.43" y="87.44" width="18.23" height="34.27" fill="#ab2494"/>
<rect x="876.36" y="87.44" width="18.23" height="34.27" fill="#d7566c"/>
<rect x="894.29" y="87.44" width="18.23" height="34.27" fill="#0d0887"/>
<rect x="912.22" y="87.44" width="18.23" height="34.27" fill="#cf4c74"/>
<rect x="930.15" y="87.44" width="18.23" height="34.27" fill="#fccd25"/>
<rect x="948.08" y="87.44" width="18.23" height="34.27" fill="#f9983e"/>
<rect x="966.01" y="87.44" width="18.23" height="34.27" fill="#eb7556"/>
<rect x="983.94" y="87.44" width="18.23" height="34.27" fill="#cf4c74"/>
<rect x="1001.87" y="87.44" width="18.23" height="34.27" fill="#c7427c"/>
<rect x="1019.8" y="87.44" width="18.23" height="34.27" fill="#d7566c"/>
<rect x="1037.73" y="87.44" width="18.23" height="34.27" fill="#de6164"/>
<rect x="1055.66" y="87.44" width="18.23" height="34.27" fill="#febe2a"/>
<rect x="1073.59" y="87.44" width="18.23" height="34.27" fill="#f0f921"/>
<rect x="1091.52" y="87.44" width="18.23" height="34.27" fill="#b42e8d"/>
<rect x="1109.45" y="87.44" width="18.23" height="34.27" fill="#f0804e"/>
<rect x="1127.38" y="87.44" width="18.23" height="34.27" fill="#6c00a8"/>
<rect x="1145.31" y="87.44" width="18.23" height="34.27" fill="#d7566c"/>
<rect x="1163.24" y="87.44" width="18.23" height="34.27" fill="#f5eb27"/>
<rect x="1181.17" y="87.44" width="18.23" height="34.27" fill="#ab2494"/>
<rect x="661.2" y="121.41" width="18.23" height="34.27" fill="#be3885"/>
<rect x="679.13" y="121.41" width="18.23" height="34.27" fill="#eb7556"/>
<rect x="697.06" y="121.41" width="18.23" height="34.27" fill="#e56a5d"/>
<rect x="714.99" y="121.41" width="18.23" height="34.27" fill="#b42e8d"/>
<rect x="732.92" y="121.41" width="18.23" height="34.27" fill="#d7566c"/>
<rect x="750.85" y="121.41" width="18.23" height="34.27" fill="#6001a6"/>
<rect x="768.78" y="121.41" width="18.23" height="34.27" fill="#f9983e"/>
<rect x="786.71" y="121.41" width="18.23" height="34.27" fill="#c7427c"/>
<rect x="804.64" y="121.41" width="18.23" height="34.27" fill="#de6164"/>
<rect x="822.57" y="121.41" width="18.23" height="34.27" fill="#fdb130"/>
<rect x="840.5" y="121.41" width="18.23" height="34.27" fill="#de6164"/>
<rect x="858.43" y="121.41" width="18.23" height="34.27" fill="#ab2494"/>
<rect x="876.36" y="121.41" width="18.23" height="34.27" fill="#d7566c"/>
<rect x="894.29" y="121.41" width="18.23" height="34.27" fill="#0d0887"/>
<rect x="912.22" y="121.41" width="18.23" height="34.27" fill="#cf4c74"/>
<rect x="930.15" y="121.41" width="18.23" height="34.27" fill="#febe2a"/>
<rect x="948.08" y="121.41" width="18.23" height="34.27" fill="#f58c46"/>
<rect x="966.01" y="121.41" width="18.23" height="34.27" fill="#eb7556"/>
<rect x="983.94" y="121.41" width="18.23" height="34.27" fill="#be3885"/>
<rect x="1001.87" y="121.41" width="18.23" height="34.27" fill="#d7566c"/>
<rect x="1019.8" y="121.41" width="18.23" height="34.27" fill="#cf4c74"/>
<rect x="1037.73" y="121.41" width="18.23" height="34.27" fill="#d7566c"/>
<rect x="1055.66" y="121.41" width="18.23" height="34.27" fill="#febe2a"/>
<rect x="1073.59" y="121.41" width="18.23" height="34.27" fill="#f0f921"/>
<rect x="1091.52" y="121.41" width="18.23" height="34.27" fill="#be3885"/>
<rect x="1109.45" y="121.41" width="18.23" height="34.27" fill="#f58c46"/>
<rect x="1127.38" y="121.41" width="18.23" height="34.27" fill="#6001a6"/>
<rect x="1145.31" y="121.41" width="18.23" height="34.27" fill="#cf4c74"/>
<rect x="1163.24" y="121.41" width="18.23" height="34.27" fill="#f5eb27"/>
<rect x="1181.17" y="121.41" width="18.23" height="34.27" fill="#b42e8d"/>
<rect x="661.2" y="155.38" width="18.23" height="34.27" fill="#be3885"/>
<rect x="679.13" y="155.38" width="18.23" height="34.27" fill="#eb7556"/>
<rect x="697.06" y="155.38" width="18.23" height="34.27" fill="#e56a5d"/>
<rect x="714.99" y="155.38" width="18.23" height="34.27" fill="#b42e8d"/>
<rect x="732.92" y="155.38" width="18.23" height="34.27" fill="#d7566c"/>
<rect x="750.85" y="155.38" width="18.23" height="34.27" fill="#6001a6"/>
<rect x="768.78" y="155.38" width="18.23" height="34.27" fill="#f9983e"/>
<rect x="786.71" y="155.38" width="18.23" height="34.27" fill="#c7427c"/>
<rect x="804.64" y="155.38" width="18.23" height="34.27" fill="#de6164"/>
<rect x="822.57" y="155.38" width="18.23" height="34.27" fill="#fca537"/>
<rect x="840.5" y="155.38" width="18.23" height="34.27" fill="#de6164"/>
<rect x="858.43" y="155.38" width="18.23" height="34.27" fill="#b42e8d"/>
<rect x="876.36" y="155.38" width="18.23" height="34.27" fill="#d7566c"/>
<rect x="894.29" y="155.38" width="18.23" height="34.27" fill="#0d0887"/>
<rect x="912.22" y="155.38" width="18.23" height="34.27" fill="#cf4c74"/>
<rect x="930.15" y="155.38" width="18.23" height="34.27" fill="#febe2a"/>
<rect x="948.08" y="155.38" width="18.23" height="34.27" fill="#f58c46"/>
<rect x="966.01" y="155.38" width="18.23" height="34.27" fill="#eb7556"/>
<rect x="983.94" y="155.38" width="18.23" height="34.27" fill="#be3885"/>
<rect x="1001.87" y="155.38" width="18.23" height="34.27" fill="#d7566c"/>
<rect x="1019.8" y="155.38" width="18.23" height="34.27" fill="#cf4c74"/>
<rect x="1037.73" y="155.38" width="18.23" height="34.27" fill="#d7566c"/>
<rect x="1055.66" y="155.38" width="18.23" height="34.27" fill="#febe2a"/>
<rect x="1073.59" y="155.38" width="18.23" height="34.27" fill="#f0f921"/>
<rect x="1091.52" y="155.38" width="18.23" height="34.27" fill="#be3885"/>
<rect x="1109.45" y="155.38" width="18.23" height="34.27" fill="#f58c46"/>
<rect x="1127.38" y="155.38" width="18.23" height="34.27" fill="#6001a6"/>
<rect x="1145.31" y="155.38" width="18.23" height="34.27" fill="#c7427c"/>
<rect x="1163.24" y="155.38" width="18.23" height="34.27" fill="#f5eb27"/>
<rect x="1181.17" y="155.38" width="18.23" height="34.27" fill="#b42e8d"/>
<rect x="661.2" y="189.35" width="18.23" height="34.27" fill="#be3885"/>
<rect x="679.13" y="189.35" width="18.23" height="34.27" fill="#de6164"/>
<rect x="697.06" y="189.35" width="18.23" height="34.27" fill="#d7566c"/>
<rect x="714.99" y="189.35" width="18.23" height="34.27" fill="#b42e8d"/>
<rect x="732.92" y="189.35" width="18.23" height="34.27" fill="#d7566c"/>
<rect x="750.85" y="189.35" width="18.23" height="34.27" fill="#6001a6"/>
<rect x="768.78" y="189.35" width="18.23" height="34.27" fill="#f9983e"/>
<rect x="786.71" y="189.35" width="18.23" height="34.27" fill="#cf4c74"/>
<rect x="804.64" y="189.35" width="18.23" height="34.27" fill="#de6164"/>
<rect x="822.57" y="189.35" width="18.23" height="34.27" fill="#fdb130"/>
<rect x="840.5" y="189.35" width="18.23" height="34.27" fill="#d7566c"/>
<rect x="858.43" y="189.35" width="18.23" height="34.27" fill="#ab2494"/>
<rect x="876.36" y="189.35" width="18.23" height="34.27" fill="#d7566c"/>
<rect x="894.29" y="189.35" width="18.23" height="34.27" fill="#220690"/>
<rect x="912.22" y="189.35" width="18.23" height="34.27" fill="#cf4c74"/>
<rect x="930.15" y="189.35" width="18.23" height="34.27" fill="#febe2a"/>
<rect x="948.08" y="189.35" width="18.23" height="34.27" fill="#f58c46"/>
<rect x="966.01" y="189.35" width="18.23" height="34.27" fill="#eb7556"/>
<rect x="983.94" y="189.35" width="18.23" height="34.27" fill="#c7427c"/>
<rect x="1001.87" y="189.35" width="18.23" height="34.27" fill="#cf4c74"/>
<rect x="1019.8" y="189.35" width="18.23" height="34.27" fill="#d7566c"/>
<rect x="1037.73" y="189.35" width="18.23" height="34.27" fill="#de6164"/>
<rect x="1055.66" y="189.35" width="18.23" height="34.27" fill="#febe2a"/>
<rect x="1073.59" y="189.35" width="18.23" height="34.27" fill="#f0f921"/>
<rect x="1091.52" y="189.35" width="18.23" height="34.27" fill="#c7427c"/>
<rect x="1109.45" y="189.35" width="18.23" height="34.27" fill="#f58c46"/>
<rect x="1127.38" y="189.35" width="18.23" height="34.27" fill="#5102a3"/>
<rect x="1145.31" y="189.35" width="18.23" height="34.27" fill="#d7566c"/>
<rect x="1163.24" y="189.35" width="18.23" height="34.27" fill="#f5eb27"/>
<rect x="1181.17" y="189.35" width="18.23" height="34.27" fill="#be3885"/>
<rect x="661.2" y="223.32" width="18.23" height="34.27" fill="#be3885"/>
<rect x="679.13" y="223.32" width="18.23" height="34.27" fill="#de6164"/>
<rect x="697.06" y="223.32" width="18.23" height="34.27" fill="#d7566c"/>
<rect x="714.99" y="223.32" width="18.23" height="34.27" fill="#ab2494"/>
<rect x="732.92" y="223.32" width="18.23" height="34.27" fill="#d7566c"/>
<rect x="750.85" y="223.32" width="18.23" height="34.27" fill="#6001a6"/>
<rect x="768.78" y="223.32" width="18.23" height="34.27" fill="#f9983e"/>
<rect x="786.71" y="223.32" width="18.23" height="34.27" fill="#d7566c"/>
<rect x="804.64" y="223.32" width="18.23" height="34.27" fill="#de6164"/>
<rect x="822.57" y="223.32" width="18.23" height="34.27" fill="#fdb130"/>
<rect x="840.5" y="223.32" width="18.23" height="34.27" fill="#cf4c74"/>
<rect x="858.43" y="223.32" width="18.23" height="34.27" fill="#ab2494"/>
<rect x="876.36" y="223.32" width="18.23" height="34.27" fill="#d7566c"/>
<rect x="894.29" y="223.32" width="18.23" height="34.27" fill="#43039e"/>
<rect x="912.22" y="223.32" width="18.23" height="34.27" fill="#cf4c74"/>
<rect x="930.15" y="223.32" width="18.23" height="34.27" fill="#febe2a"/>
<rect x="948.08" y="223.32" width="18.23" height="34.27" fill="#f58c46"/>
<rect x="966.01" y="223.32" width="18.23" height="34.27" fill="#eb7556"/>
<rect x="983.94" y="223.32" width="18.23" height="34.27" fill="#c7427c"/>
<rect x="1001.87" y="223.32" width="18.23" height="34.27" fill="#c7427c"/>
<rect x="1019.8" y="223.32" width="18.23" height="34.27" fill="#d7566c"/>
<rect x="1037.73" y="223.32" width="18.23" height="34.27" fill="#de6164"/>
<rect x="1055.66" y="223.32" width="18.23" height="34.27" fill="#febe2a"/>
<rect x="1073.59" y="223.32" width="18.23" height="34.27" fill="#f0f921"/>
<rect x="1091.52" y="223.32" width="18.23" height="34.27" fill="#b42e8d"/>
<rect x="1109.45" y="223.32" width="18.23" height="34.27" fill="#f58c46"/>
<rect x="1127.38" y="223.32" width="18.23" height="34.27" fill="#6001a6"/>
<rect x="1145.31" y="223.32" width="18.23" height="34.27" fill="#d7566c"/>
<rect x="1163.24" y="223.32" width="18.23" height="34.27" fill="#f5eb27"/>
<rect x="1181.17" y="223.32" width="18.23" height="34.27" fill="#a01a9c"/>
<rect x="661.2" y="257.29" width="18.23" height="34.27" fill="#9410a2"/>
<rect x="679.13" y="257.29" width="18.23" height="34.27" fill="#cf4c74"/>
<rect x="697.06" y="257.29" width="18.23" height="34.27" fill="#cf4c74"/>
<rect x="714.99" y="257.29" width="18.23" height="34.27" fill="#9410a2"/>
<rect x="732.92" y="257.29" width="18.23" height="34.27" fill="#cf4c74"/>
<rect x="750.85" y="257.29" width="18.23" height="34.27" fill="#43039e"/>
<rect x="768.78" y="257.29" width="18.23" height="34.27" fill="#f58c46"/>
<rect x="786.71" y="257.29" width="18.23" height="34.27" fill="#be3885"/>
<rect x="804.64" y="257.29" width="18.23" height="34.27" fill="#eb7556"/>
<rect x="822.57" y="257.29" width="18.23" height="34.27" fill="#fdb130"/>
<rect x="840.5" y="257.29" width="18.23" height="34.27" fill="#de6164"/>
<rect x="858.43" y="257.29" width="18.23" height="34.27" fill="#9410a2"/>
<rect x="876.36" y="257.29" width="18.23" height="34.27" fill="#e56a5d"/>
<rect x="894.29" y="257.29" width="18.23" height="34.27" fill="#5102a3"/>
<rect x="912.22" y="257.29" width="18.23" height="34.27" fill="#d7566c"/>
<rect x="930.15" y="257.29" width="18.23" height="34.27" fill="#febe2a"/>
<rect x="948.08" y="257.29" width="18.23" height="34.27" fill="#f0804e"/>
<rect x="966.01" y="257.29" width="18.23" height="34.27" fill="#e56a5d"/>
<rect x="983.94" y="257.29" width="18.23" height="34.27" fill="#b42e8d"/>
<rect x="1001.87" y="257.29" width="18.23" height="34.27" fill="#d7566c"/>
<rect x="1019.8" y="257.29" width="18.23" height="34.27" fill="#c7427c"/>
<rect x="1037.73" y="257.29" width="18.23" height="34.27" fill="#d7566c"/>
<rect x="1055.66" y="257.29" width="18.23" height="34.27" fill="#fdb130"/>
<rect x="1073.59" y="257.29" width="18.23" height="34.27" fill="#f5eb27"/>
<rect x="1091.52" y="257.29" width="18.23" height="34.27" fill="#e56a5d"/>
<rect x="1109.45" y="257.29" width="18.23" height="34.27" fill="#f0804e"/>
<rect x="1127.38" y="257.29" width="18.23" height="34.27" fill="#6c00a8"/>
<rect x="1145.31" y="257.29" width="18.23" height="34.27" fill="#f0804e"/>
<rect x="1163.24" y="257.29" width="18.23" height="34.27" fill="#f5eb27"/>
<rect x="1181.17" y="257.29" width="18.23" height="34.27" fill="#e56a5d"/>
<rect x="661.2" y="291.26" width="18.23" height="34.27" fill="#ab2494"/>
<rect x="679.13" y="291.26" width="18.23" height="34.27" fill="#de6164"/>
<rect x="697.06" y="291.26" width="18.23" height="34.27" fill="#cf4c74"/>
<rect x="714.99" y="291.26" width="18.23" height="34.27" fill="#ab2494"/>
<rect x="732.92" y="291.26" width="18.23" height="34.27" fill="#cf4c74"/>
<rect x="750.85" y="291.26" width="18.23" height="34.27" fill="#5102a3"/>
<rect x="768.78" y="291.26" width="18.23" height="34.27" fill="#f9983e"/>
<rect x="786.71" y="291.26" width="18.23" height="34.27" fill="#cf4c74"/>
<rect x="804.64" y="291.26" width="18.23" height="34.27" fill="#de6164"/>
<rect x="822.57" y="291.26" width="18.23" height="34.27" fill="#fdb130"/>
<rect x="840.5" y="291.26" width="18.23" height="34.27" fill="#cf4c74"/>
<rect x="858.43" y="291.26" width="18.23" height="34.27" fill="#9410a2"/>
<rect x="876.36" y="291.26" width="18.23" height="34.27" fill="#d7566c"/>
<rect x="894.29" y="291.26" width="18.23" height="34.27" fill="#5102a3"/>
<rect x="912.22" y="291.26" width="18.23" height="34.27" fill="#cf4c74"/>
<rect x="930.15" y="291.26" width="18.23" height="34.27" fill="#fccd25"/>
<rect x="948.08" y="291.26" width="18.23" height="34.27" fill="#f9983e"/>
<rect x="966.01" y="291.26" width="18.23" height="34.27" fill="#e56a5d"/>
<rect x="983.94" y="291.26" width="18.23" height="34.27" fill="#be3885"/>
<rect x="1001.87" y="291.26" width="18.23" height="34.27" fill="#be3885"/>
<rect x="1019.8" y="291.26" width="18.23" height="34.27" fill="#c7427c"/>
<rect x="1037.73" y="291.26" width="18.23" height="34.27" fill="#de6164"/>
<rect x="1055.66" y="291.26" width="18.23" height="34.27" fill="#febe2a"/>
<rect x="1073.59" y="291.26" width="18.23" height="34.27" fill="#f0f921"/>
<rect x="1091.52" y="291.26" width="18.23" height="34.27" fill="#be3885"/>
<rect x="1109.45" y="291.26" width="18.23" height="34.27" fill="#f58c46"/>
<rect x="1127.38" y="291.26" width="18.23" height="34.27" fill="#8707a6"/>
<rect x="1145.31" y="291.26" width="18.23" height="34.27" fill="#e56a5d"/>
<rect x="1163.24" y="291.26" width="18.23" height="34.27" fill="#f0f921"/>
<rect x="1181.17" y="291.26" width="18.23" height="34.27" fill="#b42e8d"/>
</g>
<g stroke="#fff" stroke-opacity="0.22" stroke-width="0.6">
<line x1="661.2" y1="53.47" x2="1199.1" y2="53.47"/>
<line x1="661.2" y1="87.44" x2="1199.1" y2="87.44"/>
<line x1="661.2" y1="121.41" x2="1199.1" y2="121.41"/>
<line x1="661.2" y1="155.38" x2="1199.1" y2="155.38"/>
<line x1="661.2" y1="189.35" x2="1199.1" y2="189.35"/>
<line x1="661.2" y1="223.32" x2="1199.1" y2="223.32"/>
<line x1="661.2" y1="257.29" x2="1199.1" y2="257.29"/>
<line x1="661.2" y1="291.26" x2="1199.1" y2="291.26"/>
<line x1="679.13" y1="19.5" x2="679.13" y2="325.23"/>
<line x1="697.06" y1="19.5" x2="697.06" y2="325.23"/>
<line x1="714.99" y1="19.5" x2="714.99" y2="325.23"/>
<line x1="732.92" y1="19.5" x2="732.92" y2="325.23"/>
<line x1="750.85" y1="19.5" x2="750.85" y2="325.23"/>
<line x1="768.78" y1="19.5" x2="768.78" y2="325.23"/>
<line x1="786.71" y1="19.5" x2="786.71" y2="325.23"/>
<line x1="804.64" y1="19.5" x2="804.64" y2="325.23"/>
<line x1="822.57" y1="19.5" x2="822.57" y2="325.23"/>
<line x1="840.5" y1="19.5" x2="840.5" y2="325.23"/>
<line x1="858.43" y1="19.5" x2="858.43" y2="325.23"/>
<line x1="876.36" y1="19.5" x2="876.36" y2="325.23"/>
<line x1="894.29" y1="19.5" x2="894.29" y2="325.23"/>
<line x1="912.22" y1="19.5" x2="912.22" y2="325.23"/>
<line x1="930.15" y1="19.5" x2="930.15" y2="325.23"/>
<line x1="948.08" y1="19.5" x2="948.08" y2="325.23"/>
<line x1="966.01" y1="19.5" x2="966.01" y2="325.23"/>
<line x1="983.94" y1="19.5" x2="983.94" y2="325.23"/>
<line x1="1001.87" y1="19.5" x2="1001.87" y2="325.23"/>
<line x1="1019.8" y1="19.5" x2="1019.8" y2="325.23"/>
<line x1="1037.73" y1="19.5" x2="1037.73" y2="325.23"/>
<line x1="1055.66" y1="19.5" x2="1055.66" y2="325.23"/>
<line x1="1073.59" y1="19.5" x2="1073.59" y2="325.23"/>
<line x1="1091.52" y1="19.5" x2="1091.52" y2="325.23"/>
<line x1="1109.45" y1="19.5" x2="1109.45" y2="325.23"/>
<line x1="1127.38" y1="19.5" x2="1127.38" y2="325.23"/>
<line x1="1145.31" y1="19.5" x2="1145.31" y2="325.23"/>
<line x1="1163.24" y1="19.5" x2="1163.24" y2="325.23"/>
<line x1="1181.17" y1="19.5" x2="1181.17" y2="325.23"/>
</g>
<rect x="661.2" y="19.5" width="537.9" height="305.73" fill="none" stroke="#000" stroke-width="2.3"/>
<line x1="651.1" y1="36.48" x2="661.2" y2="36.48" stroke="#000" stroke-width="2.2"/>
<text transform="translate(644.5 42.98) scale(1 1.04)" text-anchor="end" font-weight="bold" font-size="17"><tspan font-family='"Liberation Serif", "DejaVu Serif", serif' font-weight="normal" font-size="27" stroke="#000" stroke-width="0.3">ε</tspan><tspan dy="7.5" dx="0" stroke="#000" stroke-width="0.35">x</tspan></text>
<line x1="651.1" y1="70.45" x2="661.2" y2="70.45" stroke="#000" stroke-width="2.2"/>
<text transform="translate(644.5 76.95) scale(1 1.04)" text-anchor="end" font-weight="bold" font-size="17"><tspan font-family='"Liberation Serif", "DejaVu Serif", serif' font-weight="normal" font-size="27" stroke="#000" stroke-width="0.3">ε</tspan><tspan dy="7.5" dx="0" stroke="#000" stroke-width="0.35">y</tspan></text>
<line x1="651.1" y1="104.42" x2="661.2" y2="104.42" stroke="#000" stroke-width="2.2"/>
<text transform="translate(644.5 110.92) scale(1 1.04)" text-anchor="end" font-weight="bold" font-size="17"><tspan font-family='"Liberation Serif", "DejaVu Serif", serif' font-weight="normal" font-size="27" stroke="#000" stroke-width="0.3">ε</tspan><tspan dy="7.5" dx="0" stroke="#000" stroke-width="0.35">z</tspan></text>
<line x1="651.1" y1="138.39" x2="661.2" y2="138.39" stroke="#000" stroke-width="2.2"/>
<text transform="translate(644.5 146.09) scale(1 1.04)" text-anchor="end" font-weight="bold" font-size="25.3">Gv</text>
<line x1="651.1" y1="172.37" x2="661.2" y2="172.37" stroke="#000" stroke-width="2.2"/>
<text transform="translate(644.5 180.06) scale(1 1.04)" text-anchor="end" font-weight="bold" font-size="25.3">Kv</text>
<line x1="651.1" y1="206.33" x2="661.2" y2="206.33" stroke="#000" stroke-width="2.2"/>
<text transform="translate(644.5 211.73) scale(1 1.04)" text-anchor="end" font-weight="bold" font-size="25.3">E<tspan font-size="17" dy="6.2" dx="0" stroke="#000" stroke-width="0.35">hull</tspan></text>
<line x1="651.1" y1="240.31" x2="661.2" y2="240.31" stroke="#000" stroke-width="2.2"/>
<text transform="translate(644.5 245.71) scale(1 1.04)" text-anchor="end" font-weight="bold" font-size="25.3">E<tspan font-size="17" dy="6.2" dx="0" stroke="#000" stroke-width="0.35">T</tspan></text>
<line x1="651.1" y1="274.27" x2="661.2" y2="274.27" stroke="#000" stroke-width="2.2"/>
<text transform="translate(644.5 279.67) scale(1 1.04)" text-anchor="end" font-weight="bold" font-size="25.3">E<tspan font-size="17" dy="6.2" dx="0" stroke="#000" stroke-width="0.35">gap</tspan></text>
<line x1="651.1" y1="308.25" x2="661.2" y2="308.25" stroke="#000" stroke-width="2.2"/>
<text transform="translate(644.5 313.64) scale(1 1.04)" text-anchor="end" font-weight="bold" font-size="25.3">E<tspan font-size="17" dy="6.2" dx="0" stroke="#000" stroke-width="0.35">F</tspan></text>
<line x1="670.17" y1="325.2" x2="670.17" y2="335.7" stroke="#000" stroke-width="2"/>
<text transform="translate(680.67 342.2) rotate(-90) scale(1,0.97)" text-anchor="end" font-weight="bold" font-size="13.2" stroke="#000" stroke-width="0.45">d</text>
<text transform="translate(675.17 350.26) rotate(-90) scale(1,1.1)" text-anchor="end" font-weight="bold" font-size="19" stroke="#000" stroke-width="0.5">G</text>
<line x1="688.1" y1="325.2" x2="688.1" y2="335.7" stroke="#000" stroke-width="2"/>
<text transform="translate(698.6 342.2) rotate(-90) scale(1,0.97)" text-anchor="end" font-weight="bold" font-size="13.2" stroke="#000" stroke-width="0.45">v</text>
<text transform="translate(693.1 349.54) rotate(-90) scale(1,1.1)" text-anchor="end" font-weight="bold" font-size="19" stroke="#000" stroke-width="0.5">G</text>
<line x1="706.03" y1="325.2" x2="706.03" y2="335.7" stroke="#000" stroke-width="2"/>
<text transform="translate(716.53 342.2) rotate(-90) scale(1,0.97)" text-anchor="end" font-weight="bold" font-size="13.2" stroke="#000" stroke-width="0.45">la</text>
<text transform="translate(711.03 353.21) rotate(-90) scale(1,1.1)" text-anchor="end" font-weight="bold" font-size="19" stroke="#000" stroke-width="0.5">G</text>
<line x1="723.96" y1="325.2" x2="723.96" y2="335.7" stroke="#000" stroke-width="2"/>
<text transform="translate(734.46 342.2) rotate(-90) scale(1,0.97)" text-anchor="end" font-weight="bold" font-size="13.2" stroke="#000" stroke-width="0.45">lb</text>
<text transform="translate(728.96 353.93) rotate(-90) scale(1,1.1)" text-anchor="end" font-weight="bold" font-size="19" stroke="#000" stroke-width="0.5">G</text>
<line x1="741.88" y1="325.2" x2="741.88" y2="335.7" stroke="#000" stroke-width="2"/>
<text transform="translate(752.38 342.2) rotate(-90) scale(1,0.97)" text-anchor="end" font-weight="bold" font-size="13.2" stroke="#000" stroke-width="0.45">lc</text>
<text transform="translate(746.88 353.21) rotate(-90) scale(1,1.1)" text-anchor="end" font-weight="bold" font-size="19" stroke="#000" stroke-width="0.5">G</text>
<line x1="759.82" y1="325.2" x2="759.82" y2="335.7" stroke="#000" stroke-width="2"/>
<text transform="translate(770.32 342.2) rotate(-90) scale(1,0.97)" text-anchor="end" font-weight="bold" font-size="13.2" stroke="#000" stroke-width="0.45">t</text>
<text transform="translate(764.82 346.6) rotate(-90) scale(1,1.1)" text-anchor="end" font-weight="bold" font-size="19" stroke="#000" stroke-width="0.5">G</text>
<line x1="777.75" y1="325.2" x2="777.75" y2="335.7" stroke="#000" stroke-width="2"/>
<text transform="translate(788.25 342.2) rotate(-90) scale(1,0.97)" text-anchor="end" font-weight="bold" font-size="13.2" stroke="#000" stroke-width="0.45"><tspan font-family='"Liberation Serif", "DejaVu Serif", serif' font-weight="normal">μ</tspan></text>
<text transform="translate(782.75 349.28) rotate(-90) scale(1,1.1)" text-anchor="end" font-weight="bold" font-size="19" stroke="#000" stroke-width="0.5">G</text>
<line x1="795.68" y1="325.2" x2="795.68" y2="335.7" stroke="#000" stroke-width="2"/>
<text transform="translate(806.18 342.2) rotate(-90) scale(1,0.97)" text-anchor="end" font-weight="bold" font-size="13.2" stroke="#000" stroke-width="0.45"><tspan font-family='"Liberation Serif", "DejaVu Serif", serif' font-weight="normal">μ</tspan>/t</text>
<text transform="translate(800.68 357.34) rotate(-90) scale(1,1.1)" text-anchor="end" font-weight="bold" font-size="19" stroke="#000" stroke-width="0.5">G</text>
<line x1="813.61" y1="325.2" x2="813.61" y2="335.7" stroke="#000" stroke-width="2"/>
<text transform="translate(824.11 342.2) rotate(-90) scale(1,0.97)" text-anchor="end" font-weight="bold" font-size="13.2" stroke="#000" stroke-width="0.45">dis</text>
<text transform="translate(818.61 361.27) rotate(-90) scale(1,1.1)" text-anchor="end" font-weight="bold" font-size="19" stroke="#000" stroke-width="0.5">G</text>
<line x1="831.54" y1="325.2" x2="831.54" y2="335.7" stroke="#000" stroke-width="2"/>
<text transform="translate(842.04 342.2) rotate(-90) scale(1,0.97)" text-anchor="end" font-weight="bold" font-size="13.2" stroke="#000" stroke-width="0.45">ar</text>
<text transform="translate(836.54 354.68) rotate(-90) scale(1,1.1)" text-anchor="end" font-weight="bold" font-size="19" stroke="#000" stroke-width="0.5">A</text>
<line x1="849.47" y1="325.2" x2="849.47" y2="335.7" stroke="#000" stroke-width="2"/>
<text transform="translate(859.97 342.2) rotate(-90) scale(1,0.97)" text-anchor="end" font-weight="bold" font-size="13.2" stroke="#000" stroke-width="0.45">ir</text>
<text transform="translate(854.47 351) rotate(-90) scale(1,1.1)" text-anchor="end" font-weight="bold" font-size="19" stroke="#000" stroke-width="0.5">A</text>
<line x1="867.39" y1="325.2" x2="867.39" y2="335.7" stroke="#000" stroke-width="2"/>
<text transform="translate(877.89 342.2) rotate(-90) scale(1,0.97)" text-anchor="end" font-weight="bold" font-size="13.2" stroke="#000" stroke-width="0.45">en</text>
<text transform="translate(872.39 357.6) rotate(-90) scale(1,1.1)" text-anchor="end" font-weight="bold" font-size="19" stroke="#000" stroke-width="0.5">A</text>
<line x1="885.33" y1="325.2" x2="885.33" y2="335.7" stroke="#000" stroke-width="2"/>
<text transform="translate(895.83 342.2) rotate(-90) scale(1,0.97)" text-anchor="end" font-weight="bold" font-size="13.2" stroke="#000" stroke-width="0.45">ie1</text>
<text transform="translate(890.33 360.55) rotate(-90) scale(1,1.1)" text-anchor="end" font-weight="bold" font-size="19" stroke="#000" stroke-width="0.5">A</text>
<line x1="903.26" y1="325.2" x2="903.26" y2="335.7" stroke="#000" stroke-width="2"/>
<text transform="translate(913.76 342.2) rotate(-90) scale(1,0.97)" text-anchor="end" font-weight="bold" font-size="13.2" stroke="#000" stroke-width="0.45">ea</text>
<text transform="translate(908.26 356.88) rotate(-90) scale(1,1.1)" text-anchor="end" font-weight="bold" font-size="19" stroke="#000" stroke-width="0.5">A</text>
<line x1="921.19" y1="325.2" x2="921.19" y2="335.7" stroke="#000" stroke-width="2"/>
<text transform="translate(931.69 342.2) rotate(-90) scale(1,0.97)" text-anchor="end" font-weight="bold" font-size="13.2" stroke="#000" stroke-width="0.45">am</text>
<text transform="translate(926.19 361.28) rotate(-90) scale(1,1.1)" text-anchor="end" font-weight="bold" font-size="19" stroke="#000" stroke-width="0.5">A</text>
<line x1="939.12" y1="325.2" x2="939.12" y2="335.7" stroke="#000" stroke-width="2"/>
<text transform="translate(949.62 342.2) rotate(-90) scale(1,0.97)" text-anchor="end" font-weight="bold" font-size="13.2" stroke="#000" stroke-width="0.45">Q</text>
<text transform="translate(944.12 352.47) rotate(-90) scale(1,1.1)" text-anchor="end" font-weight="bold" font-size="19" stroke="#000" stroke-width="0.5">A</text>
<line x1="957.05" y1="325.2" x2="957.05" y2="335.7" stroke="#000" stroke-width="2"/>
<text transform="translate(967.55 342.2) rotate(-90) scale(1,0.97)" text-anchor="end" font-weight="bold" font-size="13.2" stroke="#000" stroke-width="0.45">ar</text>
<text transform="translate(962.05 354.68) rotate(-90) scale(1,1.1)" text-anchor="end" font-weight="bold" font-size="19" stroke="#000" stroke-width="0.5">B</text>
<line x1="974.98" y1="325.2" x2="974.98" y2="335.7" stroke="#000" stroke-width="2"/>
<text transform="translate(985.48 342.2) rotate(-90) scale(1,0.97)" text-anchor="end" font-weight="bold" font-size="13.2" stroke="#000" stroke-width="0.45">ir</text>
<text transform="translate(979.98 351) rotate(-90) scale(1,1.1)" text-anchor="end" font-weight="bold" font-size="19" stroke="#000" stroke-width="0.5">B</text>
<line x1="992.9" y1="325.2" x2="992.9" y2="335.7" stroke="#000" stroke-width="2"/>
<text transform="translate(1003.4 342.2) rotate(-90) scale(1,0.97)" text-anchor="end" font-weight="bold" font-size="13.2" stroke="#000" stroke-width="0.45">en</text>
<text transform="translate(997.9 357.6) rotate(-90) scale(1,1.1)" text-anchor="end" font-weight="bold" font-size="19" stroke="#000" stroke-width="0.5">B</text>
<line x1="1010.84" y1="325.2" x2="1010.84" y2="335.7" stroke="#000" stroke-width="2"/>
<text transform="translate(1021.34 342.2) rotate(-90) scale(1,0.97)" text-anchor="end" font-weight="bold" font-size="13.2" stroke="#000" stroke-width="0.45">ie1</text>
<text transform="translate(1015.84 360.55) rotate(-90) scale(1,1.1)" text-anchor="end" font-weight="bold" font-size="19" stroke="#000" stroke-width="0.5">B</text>
<line x1="1028.77" y1="325.2" x2="1028.77" y2="335.7" stroke="#000" stroke-width="2"/>
<text transform="translate(1039.27 342.2) rotate(-90) scale(1,0.97)" text-anchor="end" font-weight="bold" font-size="13.2" stroke="#000" stroke-width="0.45">ea</text>
<text transform="translate(1033.77 356.88) rotate(-90) scale(1,1.1)" text-anchor="end" font-weight="bold" font-size="19" stroke="#000" stroke-width="0.5">B</text>
<line x1="1046.7" y1="325.2" x2="1046.7" y2="335.7" stroke="#000" stroke-width="2"/>
<text transform="translate(1057.2 342.2) rotate(-90) scale(1,0.97)" text-anchor="end" font-weight="bold" font-size="13.2" stroke="#000" stroke-width="0.45">am</text>
<text transform="translate(1051.7 361.28) rotate(-90) scale(1,1.1)" text-anchor="end" font-weight="bold" font-size="19" stroke="#000" stroke-width="0.5">B</text>
<line x1="1064.62" y1="325.2" x2="1064.62" y2="335.7" stroke="#000" stroke-width="2"/>
<text transform="translate(1075.12 342.2) rotate(-90) scale(1,0.97)" text-anchor="end" font-weight="bold" font-size="13.2" stroke="#000" stroke-width="0.45">Q</text>
<text transform="translate(1069.62 352.47) rotate(-90) scale(1,1.1)" text-anchor="end" font-weight="bold" font-size="19" stroke="#000" stroke-width="0.5">B</text>
<line x1="1082.56" y1="325.2" x2="1082.56" y2="335.7" stroke="#000" stroke-width="2"/>
<text transform="translate(1093.06 342.2) rotate(-90) scale(1,0.97)" text-anchor="end" font-weight="bold" font-size="13.2" stroke="#000" stroke-width="0.45">ar</text>
<text transform="translate(1087.56 354.68) rotate(-90) scale(1,1.1)" text-anchor="end" font-weight="bold" font-size="19" stroke="#000" stroke-width="0.5">X</text>
<line x1="1100.49" y1="325.2" x2="1100.49" y2="335.7" stroke="#000" stroke-width="2"/>
<text transform="translate(1110.99 342.2) rotate(-90) scale(1,0.97)" text-anchor="end" font-weight="bold" font-size="13.2" stroke="#000" stroke-width="0.45">ir</text>
<text transform="translate(1105.49 351) rotate(-90) scale(1,1.1)" text-anchor="end" font-weight="bold" font-size="19" stroke="#000" stroke-width="0.5">X</text>
<line x1="1118.41" y1="325.2" x2="1118.41" y2="335.7" stroke="#000" stroke-width="2"/>
<text transform="translate(1128.91 342.2) rotate(-90) scale(1,0.97)" text-anchor="end" font-weight="bold" font-size="13.2" stroke="#000" stroke-width="0.45">en</text>
<text transform="translate(1123.41 357.6) rotate(-90) scale(1,1.1)" text-anchor="end" font-weight="bold" font-size="19" stroke="#000" stroke-width="0.5">X</text>
<line x1="1136.35" y1="325.2" x2="1136.35" y2="335.7" stroke="#000" stroke-width="2"/>
<text transform="translate(1146.85 342.2) rotate(-90) scale(1,0.97)" text-anchor="end" font-weight="bold" font-size="13.2" stroke="#000" stroke-width="0.45">ie1</text>
<text transform="translate(1141.35 360.55) rotate(-90) scale(1,1.1)" text-anchor="end" font-weight="bold" font-size="19" stroke="#000" stroke-width="0.5">X</text>
<line x1="1154.28" y1="325.2" x2="1154.28" y2="335.7" stroke="#000" stroke-width="2"/>
<text transform="translate(1164.78 342.2) rotate(-90) scale(1,0.97)" text-anchor="end" font-weight="bold" font-size="13.2" stroke="#000" stroke-width="0.45">ea</text>
<text transform="translate(1159.28 356.88) rotate(-90) scale(1,1.1)" text-anchor="end" font-weight="bold" font-size="19" stroke="#000" stroke-width="0.5">X</text>
<line x1="1172.2" y1="325.2" x2="1172.2" y2="335.7" stroke="#000" stroke-width="2"/>
<text transform="translate(1182.7 342.2) rotate(-90) scale(1,0.97)" text-anchor="end" font-weight="bold" font-size="13.2" stroke="#000" stroke-width="0.45">am</text>
<text transform="translate(1177.2 361.28) rotate(-90) scale(1,1.1)" text-anchor="end" font-weight="bold" font-size="19" stroke="#000" stroke-width="0.5">X</text>
<line x1="1190.13" y1="325.2" x2="1190.13" y2="335.7" stroke="#000" stroke-width="2"/>
<text transform="translate(1200.63 342.2) rotate(-90) scale(1,0.97)" text-anchor="end" font-weight="bold" font-size="13.2" stroke="#000" stroke-width="0.45">Q</text>
<text transform="translate(1195.13 352.47) rotate(-90) scale(1,1.1)" text-anchor="end" font-weight="bold" font-size="19" stroke="#000" stroke-width="0.5">X</text>
<g shape-rendering="crispEdges">
<rect x="1207.1" y="312.75" width="24.7" height="10.45" fill="#f0f921"/>
<rect x="1207.1" y="302.61" width="24.7" height="10.45" fill="#f5eb27"/>
<rect x="1207.1" y="292.46" width="24.7" height="10.45" fill="#f9dc24"/>
<rect x="1207.1" y="282.31" width="24.7" height="10.45" fill="#fccd25"/>
<rect x="1207.1" y="272.17" width="24.7" height="10.45" fill="#febe2a"/>
<rect x="1207.1" y="262.02" width="24.7" height="10.45" fill="#fdb130"/>
<rect x="1207.1" y="251.87" width="24.7" height="10.45" fill="#fca537"/>
<rect x="1207.1" y="241.73" width="24.7" height="10.45" fill="#f9983e"/>
<rect x="1207.1" y="231.58" width="24.7" height="10.45" fill="#f58c46"/>
<rect x="1207.1" y="221.43" width="24.7" height="10.45" fill="#f0804e"/>
<rect x="1207.1" y="211.29" width="24.7" height="10.45" fill="#eb7556"/>
<rect x="1207.1" y="201.14" width="24.7" height="10.45" fill="#e56a5d"/>
<rect x="1207.1" y="190.99" width="24.7" height="10.45" fill="#de6164"/>
<rect x="1207.1" y="180.85" width="24.7" height="10.45" fill="#d7566c"/>
<rect x="1207.1" y="170.7" width="24.7" height="10.45" fill="#cf4c74"/>
<rect x="1207.1" y="160.55" width="24.7" height="10.45" fill="#c7427c"/>
<rect x="1207.1" y="150.41" width="24.7" height="10.45" fill="#be3885"/>
<rect x="1207.1" y="140.26" width="24.7" height="10.45" fill="#b42e8d"/>
<rect x="1207.1" y="130.11" width="24.7" height="10.45" fill="#ab2494"/>
<rect x="1207.1" y="119.97" width="24.7" height="10.45" fill="#a01a9c"/>
<rect x="1207.1" y="109.82" width="24.7" height="10.45" fill="#9410a2"/>
<rect x="1207.1" y="99.67" width="24.7" height="10.45" fill="#8707a6"/>
<rect x="1207.1" y="89.53" width="24.7" height="10.45" fill="#7a02a8"/>
<rect x="1207.1" y="79.38" width="24.7" height="10.45" fill="#6c00a8"/>
<rect x="1207.1" y="69.23" width="24.7" height="10.45" fill="#6001a6"/>
<rect x="1207.1" y="59.09" width="24.7" height="10.45" fill="#5102a3"/>
<rect x="1207.1" y="48.94" width="24.7" height="10.45" fill="#43039e"/>
<rect x="1207.1" y="38.79" width="24.7" height="10.45" fill="#330597"/>
<rect x="1207.1" y="28.65" width="24.7" height="10.45" fill="#220690"/>
<rect x="1207.1" y="18.5" width="24.7" height="10.45" fill="#0d0887"/>
</g>
<g stroke="#fff" stroke-opacity="0.2" stroke-width="0.6">
<line x1="1207.1" y1="28.65" x2="1231.8" y2="28.65"/>
<line x1="1207.1" y1="38.79" x2="1231.8" y2="38.79"/>
<line x1="1207.1" y1="48.94" x2="1231.8" y2="48.94"/>
<line x1="1207.1" y1="59.09" x2="1231.8" y2="59.09"/>
<line x1="1207.1" y1="69.23" x2="1231.8" y2="69.23"/>
<line x1="1207.1" y1="79.38" x2="1231.8" y2="79.38"/>
<line x1="1207.1" y1="89.53" x2="1231.8" y2="89.53"/>
<line x1="1207.1" y1="99.67" x2="1231.8" y2="99.67"/>
<line x1="1207.1" y1="109.82" x2="1231.8" y2="109.82"/>
<line x1="1207.1" y1="119.97" x2="1231.8" y2="119.97"/>
<line x1="1207.1" y1="130.11" x2="1231.8" y2="130.11"/>
<line x1="1207.1" y1="140.26" x2="1231.8" y2="140.26"/>
<line x1="1207.1" y1="150.41" x2="1231.8" y2="150.41"/>
<line x1="1207.1" y1="160.55" x2="1231.8" y2="160.55"/>
<line x1="1207.1" y1="170.7" x2="1231.8" y2="170.7"/>
<line x1="1207.1" y1="180.85" x2="1231.8" y2="180.85"/>
<line x1="1207.1" y1="190.99" x2="1231.8" y2="190.99"/>
<line x1="1207.1" y1="201.14" x2="1231.8" y2="201.14"/>
<line x1="1207.1" y1="211.29" x2="1231.8" y2="211.29"/>
<line x1="1207.1" y1="221.43" x2="1231.8" y2="221.43"/>
<line x1="1207.1" y1="231.58" x2="1231.8" y2="231.58"/>
<line x1="1207.1" y1="241.73" x2="1231.8" y2="241.73"/>
<line x1="1207.1" y1="251.87" x2="1231.8" y2="251.87"/>
<line x1="1207.1" y1="262.02" x2="1231.8" y2="262.02"/>
<line x1="1207.1" y1="272.17" x2="1231.8" y2="272.17"/>
<line x1="1207.1" y1="282.31" x2="1231.8" y2="282.31"/>
<line x1="1207.1" y1="292.46" x2="1231.8" y2="292.46"/>
<line x1="1207.1" y1="302.61" x2="1231.8" y2="302.61"/>
<line x1="1207.1" y1="312.75" x2="1231.8" y2="312.75"/>
</g>
<rect x="1207.1" y="18.5" width="24.7" height="304.4" fill="none" stroke="#000" stroke-width="1.6"/>
<line x1="1231.8" y1="18.5" x2="1241.4" y2="18.5" stroke="#000" stroke-width="1.5"/>
<text transform="translate(1242.1 27.3) scale(1 1.04)" font-size="23.5" font-weight="bold">0.06</text>
<line x1="1231.8" y1="79.38" x2="1241.4" y2="79.38" stroke="#000" stroke-width="1.5"/>
<text transform="translate(1242.1 88.18) scale(1 1.04)" font-size="23.5" font-weight="bold">0.05</text>
<line x1="1231.8" y1="140.26" x2="1241.4" y2="140.26" stroke="#000" stroke-width="1.5"/>
<text transform="translate(1242.1 149.06) scale(1 1.04)" font-size="23.5" font-weight="bold">0.04</text>
<line x1="1231.8" y1="201.14" x2="1241.4" y2="201.14" stroke="#000" stroke-width="1.5"/>
<text transform="translate(1242.1 209.94) scale(1 1.04)" font-size="23.5" font-weight="bold">0.03</text>
<line x1="1231.8" y1="262.02" x2="1241.4" y2="262.02" stroke="#000" stroke-width="1.5"/>
<text transform="translate(1242.1 270.82) scale(1 1.04)" font-size="23.5" font-weight="bold">0.02</text>
<line x1="1231.8" y1="322.9" x2="1241.4" y2="322.9" stroke="#000" stroke-width="1.5"/>
<text transform="translate(1242.1 331.7) scale(1 1.04)" font-size="23.5" font-weight="bold">0.01</text>
<text transform="translate(829.2 406.3) scale(1 1.04)" font-size="37" font-weight="bold">Initial features</text>
<g shape-rendering="crispEdges">
<rect x="1377.3" y="19.3" width="18.22" height="34.3" fill="#febe2a"/>
<rect x="1395.22" y="19.3" width="18.22" height="34.3" fill="#fccd25"/>
<rect x="1413.15" y="19.3" width="18.22" height="34.3" fill="#febe2a"/>
<rect x="1431.07" y="19.3" width="18.22" height="34.3" fill="#febe2a"/>
<rect x="1448.99" y="19.3" width="18.22" height="34.3" fill="#fccd25"/>
<rect x="1466.91" y="19.3" width="18.22" height="34.3" fill="#febe2a"/>
<rect x="1484.84" y="19.3" width="18.22" height="34.3" fill="#fccd25"/>
<rect x="1502.76" y="19.3" width="18.22" height="34.3" fill="#febe2a"/>
<rect x="1520.68" y="19.3" width="18.22" height="34.3" fill="#0d0887"/>
<rect x="1538.61" y="19.3" width="18.22" height="34.3" fill="#f9dc24"/>
<rect x="1556.53" y="19.3" width="18.22" height="34.3" fill="#fccd25"/>
<rect x="1574.45" y="19.3" width="18.22" height="34.3" fill="#fccd25"/>
<rect x="1592.38" y="19.3" width="18.22" height="34.3" fill="#fccd25"/>
<rect x="1610.3" y="19.3" width="18.22" height="34.3" fill="#fccd25"/>
<rect x="1628.22" y="19.3" width="18.22" height="34.3" fill="#f9dc24"/>
<rect x="1646.14" y="19.3" width="18.22" height="34.3" fill="#f9dc24"/>
<rect x="1664.07" y="19.3" width="18.22" height="34.3" fill="#febe2a"/>
<rect x="1681.99" y="19.3" width="18.22" height="34.3" fill="#fdb130"/>
<rect x="1699.91" y="19.3" width="18.22" height="34.3" fill="#fdb130"/>
<rect x="1717.84" y="19.3" width="18.22" height="34.3" fill="#febe2a"/>
<rect x="1735.76" y="19.3" width="18.22" height="34.3" fill="#fdb130"/>
<rect x="1753.68" y="19.3" width="18.22" height="34.3" fill="#febe2a"/>
<rect x="1771.61" y="19.3" width="18.22" height="34.3" fill="#f0f921"/>
<rect x="1789.53" y="19.3" width="18.22" height="34.3" fill="#f9dc24"/>
<rect x="1807.45" y="19.3" width="18.22" height="34.3" fill="#f5eb27"/>
<rect x="1825.38" y="19.3" width="18.22" height="34.3" fill="#f0f921"/>
<rect x="1843.3" y="19.3" width="18.22" height="34.3" fill="#f5eb27"/>
<rect x="1861.22" y="19.3" width="18.22" height="34.3" fill="#f9dc24"/>
<rect x="1879.14" y="19.3" width="18.22" height="34.3" fill="#f0f921"/>
<rect x="1897.07" y="19.3" width="18.22" height="34.3" fill="#f0804e"/>
<rect x="1377.3" y="53.3" width="18.22" height="34.3" fill="#febe2a"/>
<rect x="1395.22" y="53.3" width="18.22" height="34.3" fill="#febe2a"/>
<rect x="1413.15" y="53.3" width="18.22" height="34.3" fill="#febe2a"/>
<rect x="1431.07" y="53.3" width="18.22" height="34.3" fill="#febe2a"/>
<rect x="1448.99" y="53.3" width="18.22" height="34.3" fill="#fccd25"/>
<rect x="1466.91" y="53.3" width="18.22" height="34.3" fill="#febe2a"/>
<rect x="1484.84" y="53.3" width="18.22" height="34.3" fill="#fccd25"/>
<rect x="1502.76" y="53.3" width="18.22" height="34.3" fill="#febe2a"/>
<rect x="1520.68" y="53.3" width="18.22" height="34.3" fill="#9410a2"/>
<rect x="1538.61" y="53.3" width="18.22" height="34.3" fill="#f9dc24"/>
<rect x="1556.53" y="53.3" width="18.22" height="34.3" fill="#fccd25"/>
<rect x="1574.45" y="53.3" width="18.22" height="34.3" fill="#febe2a"/>
<rect x="1592.38" y="53.3" width="18.22" height="34.3" fill="#fccd25"/>
<rect x="1610.3" y="53.3" width="18.22" height="34.3" fill="#febe2a"/>
<rect x="1628.22" y="53.3" width="18.22" height="34.3" fill="#f9dc24"/>
<rect x="1646.14" y="53.3" width="18.22" height="34.3" fill="#f9dc24"/>
<rect x="1664.07" y="53.3" width="18.22" height="34.3" fill="#febe2a"/>
<rect x="1681.99" y="53.3" width="18.22" height="34.3" fill="#fdb130"/>
<rect x="1699.91" y="53.3" width="18.22" height="34.3" fill="#fdb130"/>
<rect x="1717.84" y="53.3" width="18.22" height="34.3" fill="#febe2a"/>
<rect x="1735.76" y="53.3" width="18.22" height="34.3" fill="#fca537"/>
<rect x="1753.68" y="53.3" width="18.22" height="34.3" fill="#febe2a"/>
<rect x="1771.61" y="53.3" width="18.22" height="34.3" fill="#f5eb27"/>
<rect x="1789.53" y="53.3" width="18.22" height="34.3" fill="#f9dc24"/>
<rect x="1807.45" y="53.3" width="18.22" height="34.3" fill="#f5eb27"/>
<rect x="1825.38" y="53.3" width="18.22" height="34.3" fill="#f0f921"/>
<rect x="1843.3" y="53.3" width="18.22" height="34.3" fill="#f5eb27"/>
<rect x="1861.22" y="53.3" width="18.22" height="34.3" fill="#f9dc24"/>
<rect x="1879.14" y="53.3" width="18.22" height="34.3" fill="#f0f921"/>
<rect x="1897.07" y="53.3" width="18.22" height="34.3" fill="#e56a5d"/>
<rect x="1377.3" y="87.3" width="18.22" height="34.3" fill="#febe2a"/>
<rect x="1395.22" y="87.3" width="18.22" height="34.3" fill="#febe2a"/>
<rect x="1413.15" y="87.3" width="18.22" height="34.3" fill="#febe2a"/>
<rect x="1431.07" y="87.3" width="18.22" height="34.3" fill="#febe2a"/>
<rect x="1448.99" y="87.3" width="18.22" height="34.3" fill="#fccd25"/>
<rect x="1466.91" y="87.3" width="18.22" height="34.3" fill="#febe2a"/>
<rect x="1484.84" y="87.3" width="18.22" height="34.3" fill="#fccd25"/>
<rect x="1502.76" y="87.3" width="18.22" height="34.3" fill="#febe2a"/>
<rect x="1520.68" y="87.3" width="18.22" height="34.3" fill="#6001a6"/>
<rect x="1538.61" y="87.3" width="18.22" height="34.3" fill="#f9dc24"/>
<rect x="1556.53" y="87.3" width="18.22" height="34.3" fill="#fccd25"/>
<rect x="1574.45" y="87.3" width="18.22" height="34.3" fill="#febe2a"/>
<rect x="1592.38" y="87.3" width="18.22" height="34.3" fill="#fccd25"/>
<rect x="1610.3" y="87.3" width="18.22" height="34.3" fill="#fccd25"/>
<rect x="1628.22" y="87.3" width="18.22" height="34.3" fill="#f9dc24"/>
<rect x="1646.14" y="87.3" width="18.22" height="34.3" fill="#f9dc24"/>
<rect x="1664.07" y="87.3" width="18.22" height="34.3" fill="#febe2a"/>
<rect x="1681.99" y="87.3" width="18.22" height="34.3" fill="#fdb130"/>
<rect x="1699.91" y="87.3" width="18.22" height="34.3" fill="#fdb130"/>
<rect x="1717.84" y="87.3" width="18.22" height="34.3" fill="#febe2a"/>
<rect x="1735.76" y="87.3" width="18.22" height="34.3" fill="#fca537"/>
<rect x="1753.68" y="87.3" width="18.22" height="34.3" fill="#febe2a"/>
<rect x="1771.61" y="87.3" width="18.22" height="34.3" fill="#f0f921"/>
<rect x="1789.53" y="87.3" width="18.22" height="34.3" fill="#f9dc24"/>
<rect x="1807.45" y="87.3" width="18.22" height="34.3" fill="#f5eb27"/>
<rect x="1825.38" y="87.3" width="18.22" height="34.3" fill="#f0f921"/>
<rect x="1843.3" y="87.3" width="18.22" height="34.3" fill="#f5eb27"/>
<rect x="1861.22" y="87.3" width="18.22" height="34.3" fill="#f9dc24"/>
<rect x="1879.14" y="87.3" width="18.22" height="34.3" fill="#f0f921"/>
<rect x="1897.07" y="87.3" width="18.22" height="34.3" fill="#eb7556"/>
<rect x="1377.3" y="121.3" width="18.22" height="34.3" fill="#fdb130"/>
<rect x="1395.22" y="121.3" width="18.22" height="34.3" fill="#febe2a"/>
<rect x="1413.15" y="121.3" width="18.22" height="34.3" fill="#febe2a"/>
<rect x="1431.07" y="121.3" width="18.22" height="34.3" fill="#febe2a"/>
<rect x="1448.99" y="121.3" width="18.22" height="34.3" fill="#fccd25"/>
<rect x="1466.91" y="121.3" width="18.22" height="34.3" fill="#febe2a"/>
<rect x="1484.84" y="121.3" width="18.22" height="34.3" fill="#fccd25"/>
<rect x="1502.76" y="121.3" width="18.22" height="34.3" fill="#febe2a"/>
<rect x="1520.68" y="121.3" width="18.22" height="34.3" fill="#a01a9c"/>
<rect x="1538.61" y="121.3" width="18.22" height="34.3" fill="#f9dc24"/>
<rect x="1556.53" y="121.3" width="18.22" height="34.3" fill="#fccd25"/>
<rect x="1574.45" y="121.3" width="18.22" height="34.3" fill="#febe2a"/>
<rect x="1592.38" y="121.3" width="18.22" height="34.3" fill="#febe2a"/>
<rect x="1610.3" y="121.3" width="18.22" height="34.3" fill="#fccd25"/>
<rect x="1628.22" y="121.3" width="18.22" height="34.3" fill="#f9dc24"/>
<rect x="1646.14" y="121.3" width="18.22" height="34.3" fill="#fccd25"/>
<rect x="1664.07" y="121.3" width="18.22" height="34.3" fill="#fccd25"/>
<rect x="1681.99" y="121.3" width="18.22" height="34.3" fill="#fdb130"/>
<rect x="1699.91" y="121.3" width="18.22" height="34.3" fill="#fdb130"/>
<rect x="1717.84" y="121.3" width="18.22" height="34.3" fill="#fca537"/>
<rect x="1735.76" y="121.3" width="18.22" height="34.3" fill="#fca537"/>
<rect x="1753.68" y="121.3" width="18.22" height="34.3" fill="#febe2a"/>
<rect x="1771.61" y="121.3" width="18.22" height="34.3" fill="#f0f921"/>
<rect x="1789.53" y="121.3" width="18.22" height="34.3" fill="#f9dc24"/>
<rect x="1807.45" y="121.3" width="18.22" height="34.3" fill="#f5eb27"/>
<rect x="1825.38" y="121.3" width="18.22" height="34.3" fill="#f0f921"/>
<rect x="1843.3" y="121.3" width="18.22" height="34.3" fill="#f5eb27"/>
<rect x="1861.22" y="121.3" width="18.22" height="34.3" fill="#f5eb27"/>
<rect x="1879.14" y="121.3" width="18.22" height="34.3" fill="#f0f921"/>
<rect x="1897.07" y="121.3" width="18.22" height="34.3" fill="#e56a5d"/>
<rect x="1377.3" y="155.3" width="18.22" height="34.3" fill="#fdb130"/>
<rect x="1395.22" y="155.3" width="18.22" height="34.3" fill="#fccd25"/>
<rect x="1413.15" y="155.3" width="18.22" height="34.3" fill="#fccd25"/>
<rect x="1431.07" y="155.3" width="18.22" height="34.3" fill="#febe2a"/>
<rect x="1448.99" y="155.3" width="18.22" height="34.3" fill="#fccd25"/>
<rect x="1466.91" y="155.3" width="18.22" height="34.3" fill="#febe2a"/>
<rect x="1484.84" y="155.3" width="18.22" height="34.3" fill="#fccd25"/>
<rect x="1502.76" y="155.3" width="18.22" height="34.3" fill="#febe2a"/>
<rect x="1520.68" y="155.3" width="18.22" height="34.3" fill="#5102a3"/>
<rect x="1538.61" y="155.3" width="18.22" height="34.3" fill="#f9dc24"/>
<rect x="1556.53" y="155.3" width="18.22" height="34.3" fill="#fccd25"/>
<rect x="1574.45" y="155.3" width="18.22" height="34.3" fill="#fccd25"/>
<rect x="1592.38" y="155.3" width="18.22" height="34.3" fill="#fccd25"/>
<rect x="1610.3" y="155.3" width="18.22" height="34.3" fill="#fccd25"/>
<rect x="1628.22" y="155.3" width="18.22" height="34.3" fill="#f9dc24"/>
<rect x="1646.14" y="155.3" width="18.22" height="34.3" fill="#fccd25"/>
<rect x="1664.07" y="155.3" width="18.22" height="34.3" fill="#fccd25"/>
<rect x="1681.99" y="155.3" width="18.22" height="34.3" fill="#fdb130"/>
<rect x="1699.91" y="155.3" width="18.22" height="34.3" fill="#fdb130"/>
<rect x="1717.84" y="155.3" width="18.22" height="34.3" fill="#fdb130"/>
<rect x="1735.76" y="155.3" width="18.22" height="34.3" fill="#fca537"/>
<rect x="1753.68" y="155.3" width="18.22" height="34.3" fill="#febe2a"/>
<rect x="1771.61" y="155.3" width="18.22" height="34.3" fill="#f0f921"/>
<rect x="1789.53" y="155.3" width="18.22" height="34.3" fill="#f9dc24"/>
<rect x="1807.45" y="155.3" width="18.22" height="34.3" fill="#f5eb27"/>
<rect x="1825.38" y="155.3" width="18.22" height="34.3" fill="#f0f921"/>
<rect x="1843.3" y="155.3" width="18.22" height="34.3" fill="#f5eb27"/>
<rect x="1861.22" y="155.3" width="18.22" height="34.3" fill="#f9dc24"/>
<rect x="1879.14" y="155.3" width="18.22" height="34.3" fill="#f0f921"/>
<rect x="1897.07" y="155.3" width="18.22" height="34.3" fill="#f0804e"/>
<rect x="1377.3" y="189.3" width="18.22" height="34.3" fill="#fdb130"/>
<rect x="1395.22" y="189.3" width="18.22" height="34.3" fill="#febe2a"/>
<rect x="1413.15" y="189.3" width="18.22" height="34.3" fill="#febe2a"/>
<rect x="1431.07" y="189.3" width="18.22" height="34.3" fill="#febe2a"/>
<rect x="1448.99" y="189.3" width="18.22" height="34.3" fill="#fccd25"/>
<rect x="1466.91" y="189.3" width="18.22" height="34.3" fill="#febe2a"/>
<rect x="1484.84" y="189.3" width="18.22" height="34.3" fill="#fccd25"/>
<rect x="1502.76" y="189.3" width="18.22" height="34.3" fill="#fdb130"/>
<rect x="1520.68" y="189.3" width="18.22" height="34.3" fill="#b42e8d"/>
<rect x="1538.61" y="189.3" width="18.22" height="34.3" fill="#f9dc24"/>
<rect x="1556.53" y="189.3" width="18.22" height="34.3" fill="#febe2a"/>
<rect x="1574.45" y="189.3" width="18.22" height="34.3" fill="#fdb130"/>
<rect x="1592.38" y="189.3" width="18.22" height="34.3" fill="#febe2a"/>
<rect x="1610.3" y="189.3" width="18.22" height="34.3" fill="#febe2a"/>
<rect x="1628.22" y="189.3" width="18.22" height="34.3" fill="#f9dc24"/>
<rect x="1646.14" y="189.3" width="18.22" height="34.3" fill="#fccd25"/>
<rect x="1664.07" y="189.3" width="18.22" height="34.3" fill="#febe2a"/>
<rect x="1681.99" y="189.3" width="18.22" height="34.3" fill="#fca537"/>
<rect x="1699.91" y="189.3" width="18.22" height="34.3" fill="#fdb130"/>
<rect x="1717.84" y="189.3" width="18.22" height="34.3" fill="#fca537"/>
<rect x="1735.76" y="189.3" width="18.22" height="34.3" fill="#f9983e"/>
<rect x="1753.68" y="189.3" width="18.22" height="34.3" fill="#febe2a"/>
<rect x="1771.61" y="189.3" width="18.22" height="34.3" fill="#f5eb27"/>
<rect x="1789.53" y="189.3" width="18.22" height="34.3" fill="#f9dc24"/>
<rect x="1807.45" y="189.3" width="18.22" height="34.3" fill="#f5eb27"/>
<rect x="1825.38" y="189.3" width="18.22" height="34.3" fill="#f0f921"/>
<rect x="1843.3" y="189.3" width="18.22" height="34.3" fill="#f0f921"/>
<rect x="1861.22" y="189.3" width="18.22" height="34.3" fill="#f5eb27"/>
<rect x="1879.14" y="189.3" width="18.22" height="34.3" fill="#f0f921"/>
<rect x="1897.07" y="189.3" width="18.22" height="34.3" fill="#f58c46"/>
<rect x="1377.3" y="223.3" width="18.22" height="34.3" fill="#fdb130"/>
<rect x="1395.22" y="223.3" width="18.22" height="34.3" fill="#febe2a"/>
<rect x="1413.15" y="223.3" width="18.22" height="34.3" fill="#febe2a"/>
<rect x="1431.07" y="223.3" width="18.22" height="34.3" fill="#fca537"/>
<rect x="1448.99" y="223.3" width="18.22" height="34.3" fill="#fccd25"/>
<rect x="1466.91" y="223.3" width="18.22" height="34.3" fill="#febe2a"/>
<rect x="1484.84" y="223.3" width="18.22" height="34.3" fill="#fccd25"/>
<rect x="1502.76" y="223.3" width="18.22" height="34.3" fill="#fdb130"/>
<rect x="1520.68" y="223.3" width="18.22" height="34.3" fill="#fca537"/>
<rect x="1538.61" y="223.3" width="18.22" height="34.3" fill="#f9dc24"/>
<rect x="1556.53" y="223.3" width="18.22" height="34.3" fill="#febe2a"/>
<rect x="1574.45" y="223.3" width="18.22" height="34.3" fill="#febe2a"/>
<rect x="1592.38" y="223.3" width="18.22" height="34.3" fill="#febe2a"/>
<rect x="1610.3" y="223.3" width="18.22" height="34.3" fill="#febe2a"/>
<rect x="1628.22" y="223.3" width="18.22" height="34.3" fill="#fccd25"/>
<rect x="1646.14" y="223.3" width="18.22" height="34.3" fill="#f9dc24"/>
<rect x="1664.07" y="223.3" width="18.22" height="34.3" fill="#fca537"/>
<rect x="1681.99" y="223.3" width="18.22" height="34.3" fill="#fdb130"/>
<rect x="1699.91" y="223.3" width="18.22" height="34.3" fill="#fdb130"/>
<rect x="1717.84" y="223.3" width="18.22" height="34.3" fill="#de6164"/>
<rect x="1735.76" y="223.3" width="18.22" height="34.3" fill="#eb7556"/>
<rect x="1753.68" y="223.3" width="18.22" height="34.3" fill="#febe2a"/>
<rect x="1771.61" y="223.3" width="18.22" height="34.3" fill="#f0f921"/>
<rect x="1789.53" y="223.3" width="18.22" height="34.3" fill="#f9dc24"/>
<rect x="1807.45" y="223.3" width="18.22" height="34.3" fill="#f0f921"/>
<rect x="1825.38" y="223.3" width="18.22" height="34.3" fill="#f0f921"/>
<rect x="1843.3" y="223.3" width="18.22" height="34.3" fill="#f5eb27"/>
<rect x="1861.22" y="223.3" width="18.22" height="34.3" fill="#f9dc24"/>
<rect x="1879.14" y="223.3" width="18.22" height="34.3" fill="#f0f921"/>
<rect x="1897.07" y="223.3" width="18.22" height="34.3" fill="#fca537"/>
<rect x="1377.3" y="257.3" width="18.22" height="34.3" fill="#fdb130"/>
<rect x="1395.22" y="257.3" width="18.22" height="34.3" fill="#febe2a"/>
<rect x="1413.15" y="257.3" width="18.22" height="34.3" fill="#febe2a"/>
<rect x="1431.07" y="257.3" width="18.22" height="34.3" fill="#febe2a"/>
<rect x="1448.99" y="257.3" width="18.22" height="34.3" fill="#febe2a"/>
<rect x="1466.91" y="257.3" width="18.22" height="34.3" fill="#febe2a"/>
<rect x="1484.84" y="257.3" width="18.22" height="34.3" fill="#fccd25"/>
<rect x="1502.76" y="257.3" width="18.22" height="34.3" fill="#febe2a"/>
<rect x="1520.68" y="257.3" width="18.22" height="34.3" fill="#ab2494"/>
<rect x="1538.61" y="257.3" width="18.22" height="34.3" fill="#f9dc24"/>
<rect x="1556.53" y="257.3" width="18.22" height="34.3" fill="#febe2a"/>
<rect x="1574.45" y="257.3" width="18.22" height="34.3" fill="#febe2a"/>
<rect x="1592.38" y="257.3" width="18.22" height="34.3" fill="#febe2a"/>
<rect x="1610.3" y="257.3" width="18.22" height="34.3" fill="#febe2a"/>
<rect x="1628.22" y="257.3" width="18.22" height="34.3" fill="#f9dc24"/>
<rect x="1646.14" y="257.3" width="18.22" height="34.3" fill="#fccd25"/>
<rect x="1664.07" y="257.3" width="18.22" height="34.3" fill="#febe2a"/>
<rect x="1681.99" y="257.3" width="18.22" height="34.3" fill="#fdb130"/>
<rect x="1699.91" y="257.3" width="18.22" height="34.3" fill="#fdb130"/>
<rect x="1717.84" y="257.3" width="18.22" height="34.3" fill="#febe2a"/>
<rect x="1735.76" y="257.3" width="18.22" height="34.3" fill="#fca537"/>
<rect x="1753.68" y="257.3" width="18.22" height="34.3" fill="#febe2a"/>
<rect x="1771.61" y="257.3" width="18.22" height="34.3" fill="#f0f921"/>
<rect x="1789.53" y="257.3" width="18.22" height="34.3" fill="#f9dc24"/>
<rect x="1807.45" y="257.3" width="18.22" height="34.3" fill="#f5eb27"/>
<rect x="1825.38" y="257.3" width="18.22" height="34.3" fill="#f0f921"/>
<rect x="1843.3" y="257.3" width="18.22" height="34.3" fill="#f5eb27"/>
<rect x="1861.22" y="257.3" width="18.22" height="34.3" fill="#f9dc24"/>
<rect x="1879.14" y="257.3" width="18.22" height="34.3" fill="#f0f921"/>
<rect x="1897.07" y="257.3" width="18.22" height="34.3" fill="#eb7556"/>
<rect x="1377.3" y="291.3" width="18.22" height="34.3" fill="#fca537"/>
<rect x="1395.22" y="291.3" width="18.22" height="34.3" fill="#febe2a"/>
<rect x="1413.15" y="291.3" width="18.22" height="34.3" fill="#fdb130"/>
<rect x="1431.07" y="291.3" width="18.22" height="34.3" fill="#fdb130"/>
<rect x="1448.99" y="291.3" width="18.22" height="34.3" fill="#fccd25"/>
<rect x="1466.91" y="291.3" width="18.22" height="34.3" fill="#febe2a"/>
<rect x="1484.84" y="291.3" width="18.22" height="34.3" fill="#fccd25"/>
<rect x="1502.76" y="291.3" width="18.22" height="34.3" fill="#fca537"/>
<rect x="1520.68" y="291.3" width="18.22" height="34.3" fill="#febe2a"/>
<rect x="1538.61" y="291.3" width="18.22" height="34.3" fill="#f9dc24"/>
<rect x="1556.53" y="291.3" width="18.22" height="34.3" fill="#febe2a"/>
<rect x="1574.45" y="291.3" width="18.22" height="34.3" fill="#fdb130"/>
<rect x="1592.38" y="291.3" width="18.22" height="34.3" fill="#febe2a"/>
<rect x="1610.3" y="291.3" width="18.22" height="34.3" fill="#febe2a"/>
<rect x="1628.22" y="291.3" width="18.22" height="34.3" fill="#fccd25"/>
<rect x="1646.14" y="291.3" width="18.22" height="34.3" fill="#f9dc24"/>
<rect x="1664.07" y="291.3" width="18.22" height="34.3" fill="#f9983e"/>
<rect x="1681.99" y="291.3" width="18.22" height="34.3" fill="#fca537"/>
<rect x="1699.91" y="291.3" width="18.22" height="34.3" fill="#fca537"/>
<rect x="1717.84" y="291.3" width="18.22" height="34.3" fill="#eb7556"/>
<rect x="1735.76" y="291.3" width="18.22" height="34.3" fill="#e56a5d"/>
<rect x="1753.68" y="291.3" width="18.22" height="34.3" fill="#febe2a"/>
<rect x="1771.61" y="291.3" width="18.22" height="34.3" fill="#f0f921"/>
<rect x="1789.53" y="291.3" width="18.22" height="34.3" fill="#f5eb27"/>
<rect x="1807.45" y="291.3" width="18.22" height="34.3" fill="#f5eb27"/>
<rect x="1825.38" y="291.3" width="18.22" height="34.3" fill="#f0f921"/>
<rect x="1843.3" y="291.3" width="18.22" height="34.3" fill="#f0f921"/>
<rect x="1861.22" y="291.3" width="18.22" height="34.3" fill="#f5eb27"/>
<rect x="1879.14" y="291.3" width="18.22" height="34.3" fill="#f0f921"/>
<rect x="1897.07" y="291.3" width="18.22" height="34.3" fill="#fdb130"/>
</g>
<g stroke="#fff" stroke-opacity="0.22" stroke-width="0.6">
<line x1="1377.3" y1="53.3" x2="1914.99" y2="53.3"/>
<line x1="1377.3" y1="87.3" x2="1914.99" y2="87.3"/>
<line x1="1377.3" y1="121.3" x2="1914.99" y2="121.3"/>
<line x1="1377.3" y1="155.3" x2="1914.99" y2="155.3"/>
<line x1="1377.3" y1="189.3" x2="1914.99" y2="189.3"/>
<line x1="1377.3" y1="223.3" x2="1914.99" y2="223.3"/>
<line x1="1377.3" y1="257.3" x2="1914.99" y2="257.3"/>
<line x1="1377.3" y1="291.3" x2="1914.99" y2="291.3"/>
<line x1="1395.22" y1="19.3" x2="1395.22" y2="325.3"/>
<line x1="1413.15" y1="19.3" x2="1413.15" y2="325.3"/>
<line x1="1431.07" y1="19.3" x2="1431.07" y2="325.3"/>
<line x1="1448.99" y1="19.3" x2="1448.99" y2="325.3"/>
<line x1="1466.91" y1="19.3" x2="1466.91" y2="325.3"/>
<line x1="1484.84" y1="19.3" x2="1484.84" y2="325.3"/>
<line x1="1502.76" y1="19.3" x2="1502.76" y2="325.3"/>
<line x1="1520.68" y1="19.3" x2="1520.68" y2="325.3"/>
<line x1="1538.61" y1="19.3" x2="1538.61" y2="325.3"/>
<line x1="1556.53" y1="19.3" x2="1556.53" y2="325.3"/>
<line x1="1574.45" y1="19.3" x2="1574.45" y2="325.3"/>
<line x1="1592.38" y1="19.3" x2="1592.38" y2="325.3"/>
<line x1="1610.3" y1="19.3" x2="1610.3" y2="325.3"/>
<line x1="1628.22" y1="19.3" x2="1628.22" y2="325.3"/>
<line x1="1646.14" y1="19.3" x2="1646.14" y2="325.3"/>
<line x1="1664.07" y1="19.3" x2="1664.07" y2="325.3"/>
<line x1="1681.99" y1="19.3" x2="1681.99" y2="325.3"/>
<line x1="1699.91" y1="19.3" x2="1699.91" y2="325.3"/>
<line x1="1717.84" y1="19.3" x2="1717.84" y2="325.3"/>
<line x1="1735.76" y1="19.3" x2="1735.76" y2="325.3"/>
<line x1="1753.68" y1="19.3" x2="1753.68" y2="325.3"/>
<line x1="1771.61" y1="19.3" x2="1771.61" y2="325.3"/>
<line x1="1789.53" y1="19.3" x2="1789.53" y2="325.3"/>
<line x1="1807.45" y1="19.3" x2="1807.45" y2="325.3"/>
<line x1="1825.38" y1="19.3" x2="1825.38" y2="325.3"/>
<line x1="1843.3" y1="19.3" x2="1843.3" y2="325.3"/>
<line x1="1861.22" y1="19.3" x2="1861.22" y2="325.3"/>
<line x1="1879.14" y1="19.3" x2="1879.14" y2="325.3"/>
<line x1="1897.07" y1="19.3" x2="1897.07" y2="325.3"/>
</g>
<rect x="1377.3" y="19.3" width="537.69" height="306" fill="none" stroke="#000" stroke-width="1.7"/>
<line x1="1369" y1="36.3" x2="1377.3" y2="36.3" stroke="#000" stroke-width="1.7"/>
<text transform="translate(1363.5 42.8) scale(1 1.04)" text-anchor="end" font-weight="bold" font-size="17"><tspan font-family='"Liberation Serif", "DejaVu Serif", serif' font-weight="normal" font-size="27" stroke="#000" stroke-width="0.3">ε</tspan><tspan dy="7.5" dx="0" stroke="#000" stroke-width="0.35">x</tspan></text>
<line x1="1369" y1="70.3" x2="1377.3" y2="70.3" stroke="#000" stroke-width="1.7"/>
<text transform="translate(1363.5 76.8) scale(1 1.04)" text-anchor="end" font-weight="bold" font-size="17"><tspan font-family='"Liberation Serif", "DejaVu Serif", serif' font-weight="normal" font-size="27" stroke="#000" stroke-width="0.3">ε</tspan><tspan dy="7.5" dx="0" stroke="#000" stroke-width="0.35">y</tspan></text>
<line x1="1369" y1="104.3" x2="1377.3" y2="104.3" stroke="#000" stroke-width="1.7"/>
<text transform="translate(1363.5 110.8) scale(1 1.04)" text-anchor="end" font-weight="bold" font-size="17"><tspan font-family='"Liberation Serif", "DejaVu Serif", serif' font-weight="normal" font-size="27" stroke="#000" stroke-width="0.3">ε</tspan><tspan dy="7.5" dx="0" stroke="#000" stroke-width="0.35">z</tspan></text>
<line x1="1369" y1="138.3" x2="1377.3" y2="138.3" stroke="#000" stroke-width="1.7"/>
<text transform="translate(1363.5 146) scale(1 1.04)" text-anchor="end" font-weight="bold" font-size="25.3">Gv</text>
<line x1="1369" y1="172.3" x2="1377.3" y2="172.3" stroke="#000" stroke-width="1.7"/>
<text transform="translate(1363.5 180) scale(1 1.04)" text-anchor="end" font-weight="bold" font-size="25.3">Kv</text>
<line x1="1369" y1="206.3" x2="1377.3" y2="206.3" stroke="#000" stroke-width="1.7"/>
<text transform="translate(1363.5 211.7) scale(1 1.04)" text-anchor="end" font-weight="bold" font-size="25.3">E<tspan font-size="17" dy="6.2" dx="0" stroke="#000" stroke-width="0.35">hull</tspan></text>
<line x1="1369" y1="240.3" x2="1377.3" y2="240.3" stroke="#000" stroke-width="1.7"/>
<text transform="translate(1363.5 245.7) scale(1 1.04)" text-anchor="end" font-weight="bold" font-size="25.3">E<tspan font-size="17" dy="6.2" dx="0" stroke="#000" stroke-width="0.35">T</tspan></text>
<line x1="1369" y1="274.3" x2="1377.3" y2="274.3" stroke="#000" stroke-width="1.7"/>
<text transform="translate(1363.5 279.7) scale(1 1.04)" text-anchor="end" font-weight="bold" font-size="25.3">E<tspan font-size="17" dy="6.2" dx="0" stroke="#000" stroke-width="0.35">gap</tspan></text>
<line x1="1369" y1="308.3" x2="1377.3" y2="308.3" stroke="#000" stroke-width="1.7"/>
<text transform="translate(1363.5 313.7) scale(1 1.04)" text-anchor="end" font-weight="bold" font-size="25.3">E<tspan font-size="17" dy="6.2" dx="0" stroke="#000" stroke-width="0.35">F</tspan></text>
<line x1="1386.26" y1="325.3" x2="1386.26" y2="333.5" stroke="#000" stroke-width="1.5"/>
<text transform="translate(1396.76 338.3) rotate(-90) scale(1,0.97)" text-anchor="end" font-weight="bold" font-size="13.2" stroke="#000" stroke-width="0.45">d</text>
<text transform="translate(1391.26 346.36) rotate(-90) scale(1,1.1)" text-anchor="end" font-weight="bold" font-size="19" stroke="#000" stroke-width="0.5">G</text>
<line x1="1404.18" y1="325.3" x2="1404.18" y2="333.5" stroke="#000" stroke-width="1.5"/>
<text transform="translate(1414.68 338.3) rotate(-90) scale(1,0.97)" text-anchor="end" font-weight="bold" font-size="13.2" stroke="#000" stroke-width="0.45">v</text>
<text transform="translate(1409.18 345.64) rotate(-90) scale(1,1.1)" text-anchor="end" font-weight="bold" font-size="19" stroke="#000" stroke-width="0.5">G</text>
<line x1="1422.11" y1="325.3" x2="1422.11" y2="333.5" stroke="#000" stroke-width="1.5"/>
<text transform="translate(1432.61 338.3) rotate(-90) scale(1,0.97)" text-anchor="end" font-weight="bold" font-size="13.2" stroke="#000" stroke-width="0.45">la</text>
<text transform="translate(1427.11 349.31) rotate(-90) scale(1,1.1)" text-anchor="end" font-weight="bold" font-size="19" stroke="#000" stroke-width="0.5">G</text>
<line x1="1440.03" y1="325.3" x2="1440.03" y2="333.5" stroke="#000" stroke-width="1.5"/>
<text transform="translate(1450.53 338.3) rotate(-90) scale(1,0.97)" text-anchor="end" font-weight="bold" font-size="13.2" stroke="#000" stroke-width="0.45">lb</text>
<text transform="translate(1445.03 350.03) rotate(-90) scale(1,1.1)" text-anchor="end" font-weight="bold" font-size="19" stroke="#000" stroke-width="0.5">G</text>
<line x1="1457.95" y1="325.3" x2="1457.95" y2="333.5" stroke="#000" stroke-width="1.5"/>
<text transform="translate(1468.45 338.3) rotate(-90) scale(1,0.97)" text-anchor="end" font-weight="bold" font-size="13.2" stroke="#000" stroke-width="0.45">lc</text>
<text transform="translate(1462.95 349.31) rotate(-90) scale(1,1.1)" text-anchor="end" font-weight="bold" font-size="19" stroke="#000" stroke-width="0.5">G</text>
<line x1="1475.88" y1="325.3" x2="1475.88" y2="333.5" stroke="#000" stroke-width="1.5"/>
<text transform="translate(1486.38 338.3) rotate(-90) scale(1,0.97)" text-anchor="end" font-weight="bold" font-size="13.2" stroke="#000" stroke-width="0.45">t</text>
<text transform="translate(1480.88 342.7) rotate(-90) scale(1,1.1)" text-anchor="end" font-weight="bold" font-size="19" stroke="#000" stroke-width="0.5">G</text>
<line x1="1493.8" y1="325.3" x2="1493.8" y2="333.5" stroke="#000" stroke-width="1.5"/>
<text transform="translate(1504.3 338.3) rotate(-90) scale(1,0.97)" text-anchor="end" font-weight="bold" font-size="13.2" stroke="#000" stroke-width="0.45"><tspan font-family='"Liberation Serif", "DejaVu Serif", serif' font-weight="normal">μ</tspan></text>
<text transform="translate(1498.8 345.38) rotate(-90) scale(1,1.1)" text-anchor="end" font-weight="bold" font-size="19" stroke="#000" stroke-width="0.5">G</text>
<line x1="1511.72" y1="325.3" x2="1511.72" y2="333.5" stroke="#000" stroke-width="1.5"/>
<text transform="translate(1522.22 338.3) rotate(-90) scale(1,0.97)" text-anchor="end" font-weight="bold" font-size="13.2" stroke="#000" stroke-width="0.45"><tspan font-family='"Liberation Serif", "DejaVu Serif", serif' font-weight="normal">μ</tspan>/t</text>
<text transform="translate(1516.72 353.44) rotate(-90) scale(1,1.1)" text-anchor="end" font-weight="bold" font-size="19" stroke="#000" stroke-width="0.5">G</text>
<line x1="1529.65" y1="325.3" x2="1529.65" y2="333.5" stroke="#000" stroke-width="1.5"/>
<text transform="translate(1540.15 338.3) rotate(-90) scale(1,0.97)" text-anchor="end" font-weight="bold" font-size="13.2" stroke="#000" stroke-width="0.45">dis</text>
<text transform="translate(1534.65 357.37) rotate(-90) scale(1,1.1)" text-anchor="end" font-weight="bold" font-size="19" stroke="#000" stroke-width="0.5">G</text>
<line x1="1547.57" y1="325.3" x2="1547.57" y2="333.5" stroke="#000" stroke-width="1.5"/>
<text transform="translate(1558.07 338.3) rotate(-90) scale(1,0.97)" text-anchor="end" font-weight="bold" font-size="13.2" stroke="#000" stroke-width="0.45">ar</text>
<text transform="translate(1552.57 350.78) rotate(-90) scale(1,1.1)" text-anchor="end" font-weight="bold" font-size="19" stroke="#000" stroke-width="0.5">A</text>
<line x1="1565.49" y1="325.3" x2="1565.49" y2="333.5" stroke="#000" stroke-width="1.5"/>
<text transform="translate(1575.99 338.3) rotate(-90) scale(1,0.97)" text-anchor="end" font-weight="bold" font-size="13.2" stroke="#000" stroke-width="0.45">ir</text>
<text transform="translate(1570.49 347.1) rotate(-90) scale(1,1.1)" text-anchor="end" font-weight="bold" font-size="19" stroke="#000" stroke-width="0.5">A</text>
<line x1="1583.41" y1="325.3" x2="1583.41" y2="333.5" stroke="#000" stroke-width="1.5"/>
<text transform="translate(1593.91 338.3) rotate(-90) scale(1,0.97)" text-anchor="end" font-weight="bold" font-size="13.2" stroke="#000" stroke-width="0.45">en</text>
<text transform="translate(1588.41 353.7) rotate(-90) scale(1,1.1)" text-anchor="end" font-weight="bold" font-size="19" stroke="#000" stroke-width="0.5">A</text>
<line x1="1601.34" y1="325.3" x2="1601.34" y2="333.5" stroke="#000" stroke-width="1.5"/>
<text transform="translate(1611.84 338.3) rotate(-90) scale(1,0.97)" text-anchor="end" font-weight="bold" font-size="13.2" stroke="#000" stroke-width="0.45">ie1</text>
<text transform="translate(1606.34 356.65) rotate(-90) scale(1,1.1)" text-anchor="end" font-weight="bold" font-size="19" stroke="#000" stroke-width="0.5">A</text>
<line x1="1619.26" y1="325.3" x2="1619.26" y2="333.5" stroke="#000" stroke-width="1.5"/>
<text transform="translate(1629.76 338.3) rotate(-90) scale(1,0.97)" text-anchor="end" font-weight="bold" font-size="13.2" stroke="#000" stroke-width="0.45">ea</text>
<text transform="translate(1624.26 352.98) rotate(-90) scale(1,1.1)" text-anchor="end" font-weight="bold" font-size="19" stroke="#000" stroke-width="0.5">A</text>
<line x1="1637.18" y1="325.3" x2="1637.18" y2="333.5" stroke="#000" stroke-width="1.5"/>
<text transform="translate(1647.68 338.3) rotate(-90) scale(1,0.97)" text-anchor="end" font-weight="bold" font-size="13.2" stroke="#000" stroke-width="0.45">am</text>
<text transform="translate(1642.18 357.38) rotate(-90) scale(1,1.1)" text-anchor="end" font-weight="bold" font-size="19" stroke="#000" stroke-width="0.5">A</text>
<line x1="1655.11" y1="325.3" x2="1655.11" y2="333.5" stroke="#000" stroke-width="1.5"/>
<text transform="translate(1665.61 338.3) rotate(-90) scale(1,0.97)" text-anchor="end" font-weight="bold" font-size="13.2" stroke="#000" stroke-width="0.45">Q</text>
<text transform="translate(1660.11 348.57) rotate(-90) scale(1,1.1)" text-anchor="end" font-weight="bold" font-size="19" stroke="#000" stroke-width="0.5">A</text>
<line x1="1673.03" y1="325.3" x2="1673.03" y2="333.5" stroke="#000" stroke-width="1.5"/>
<text transform="translate(1683.53 338.3) rotate(-90) scale(1,0.97)" text-anchor="end" font-weight="bold" font-size="13.2" stroke="#000" stroke-width="0.45">ar</text>
<text transform="translate(1678.03 350.78) rotate(-90) scale(1,1.1)" text-anchor="end" font-weight="bold" font-size="19" stroke="#000" stroke-width="0.5">B</text>
<line x1="1690.95" y1="325.3" x2="1690.95" y2="333.5" stroke="#000" stroke-width="1.5"/>
<text transform="translate(1701.45 338.3) rotate(-90) scale(1,0.97)" text-anchor="end" font-weight="bold" font-size="13.2" stroke="#000" stroke-width="0.45">ir</text>
<text transform="translate(1695.95 347.1) rotate(-90) scale(1,1.1)" text-anchor="end" font-weight="bold" font-size="19" stroke="#000" stroke-width="0.5">B</text>
<line x1="1708.88" y1="325.3" x2="1708.88" y2="333.5" stroke="#000" stroke-width="1.5"/>
<text transform="translate(1719.38 338.3) rotate(-90) scale(1,0.97)" text-anchor="end" font-weight="bold" font-size="13.2" stroke="#000" stroke-width="0.45">en</text>
<text transform="translate(1713.88 353.7) rotate(-90) scale(1,1.1)" text-anchor="end" font-weight="bold" font-size="19" stroke="#000" stroke-width="0.5">B</text>
<line x1="1726.8" y1="325.3" x2="1726.8" y2="333.5" stroke="#000" stroke-width="1.5"/>
<text transform="translate(1737.3 338.3) rotate(-90) scale(1,0.97)" text-anchor="end" font-weight="bold" font-size="13.2" stroke="#000" stroke-width="0.45">ie1</text>
<text transform="translate(1731.8 356.65) rotate(-90) scale(1,1.1)" text-anchor="end" font-weight="bold" font-size="19" stroke="#000" stroke-width="0.5">B</text>
<line x1="1744.72" y1="325.3" x2="1744.72" y2="333.5" stroke="#000" stroke-width="1.5"/>
<text transform="translate(1755.22 338.3) rotate(-90) scale(1,0.97)" text-anchor="end" font-weight="bold" font-size="13.2" stroke="#000" stroke-width="0.45">ea</text>
<text transform="translate(1749.72 352.98) rotate(-90) scale(1,1.1)" text-anchor="end" font-weight="bold" font-size="19" stroke="#000" stroke-width="0.5">B</text>
<line x1="1762.64" y1="325.3" x2="1762.64" y2="333.5" stroke="#000" stroke-width="1.5"/>
<text transform="translate(1773.14 338.3) rotate(-90) scale(1,0.97)" text-anchor="end" font-weight="bold" font-size="13.2" stroke="#000" stroke-width="0.45">am</text>
<text transform="translate(1767.64 357.38) rotate(-90) scale(1,1.1)" text-anchor="end" font-weight="bold" font-size="19" stroke="#000" stroke-width="0.5">B</text>
<line x1="1780.57" y1="325.3" x2="1780.57" y2="333.5" stroke="#000" stroke-width="1.5"/>
<text transform="translate(1791.07 338.3) rotate(-90) scale(1,0.97)" text-anchor="end" font-weight="bold" font-size="13.2" stroke="#000" stroke-width="0.45">Q</text>
<text transform="translate(1785.57 348.57) rotate(-90) scale(1,1.1)" text-anchor="end" font-weight="bold" font-size="19" stroke="#000" stroke-width="0.5">B</text>
<line x1="1798.49" y1="325.3" x2="1798.49" y2="333.5" stroke="#000" stroke-width="1.5"/>
<text transform="translate(1808.99 338.3) rotate(-90) scale(1,0.97)" text-anchor="end" font-weight="bold" font-size="13.2" stroke="#000" stroke-width="0.45">ar</text>
<text transform="translate(1803.49 350.78) rotate(-90) scale(1,1.1)" text-anchor="end" font-weight="bold" font-size="19" stroke="#000" stroke-width="0.5">X</text>
<line x1="1816.41" y1="325.3" x2="1816.41" y2="333.5" stroke="#000" stroke-width="1.5"/>
<text transform="translate(1826.91 338.3) rotate(-90) scale(1,0.97)" text-anchor="end" font-weight="bold" font-size="13.2" stroke="#000" stroke-width="0.45">ir</text>
<text transform="translate(1821.41 347.1) rotate(-90) scale(1,1.1)" text-anchor="end" font-weight="bold" font-size="19" stroke="#000" stroke-width="0.5">X</text>
<line x1="1834.34" y1="325.3" x2="1834.34" y2="333.5" stroke="#000" stroke-width="1.5"/>
<text transform="translate(1844.84 338.3) rotate(-90) scale(1,0.97)" text-anchor="end" font-weight="bold" font-size="13.2" stroke="#000" stroke-width="0.45">en</text>
<text transform="translate(1839.34 353.7) rotate(-90) scale(1,1.1)" text-anchor="end" font-weight="bold" font-size="19" stroke="#000" stroke-width="0.5">X</text>
<line x1="1852.26" y1="325.3" x2="1852.26" y2="333.5" stroke="#000" stroke-width="1.5"/>
<text transform="translate(1862.76 338.3) rotate(-90) scale(1,0.97)" text-anchor="end" font-weight="bold" font-size="13.2" stroke="#000" stroke-width="0.45">ie1</text>
<text transform="translate(1857.26 356.65) rotate(-90) scale(1,1.1)" text-anchor="end" font-weight="bold" font-size="19" stroke="#000" stroke-width="0.5">X</text>
<line x1="1870.18" y1="325.3" x2="1870.18" y2="333.5" stroke="#000" stroke-width="1.5"/>
<text transform="translate(1880.68 338.3) rotate(-90) scale(1,0.97)" text-anchor="end" font-weight="bold" font-size="13.2" stroke="#000" stroke-width="0.45">ea</text>
<text transform="translate(1875.18 352.98) rotate(-90) scale(1,1.1)" text-anchor="end" font-weight="bold" font-size="19" stroke="#000" stroke-width="0.5">X</text>
<line x1="1888.11" y1="325.3" x2="1888.11" y2="333.5" stroke="#000" stroke-width="1.5"/>
<text transform="translate(1898.61 338.3) rotate(-90) scale(1,0.97)" text-anchor="end" font-weight="bold" font-size="13.2" stroke="#000" stroke-width="0.45">am</text>
<text transform="translate(1893.11 357.38) rotate(-90) scale(1,1.1)" text-anchor="end" font-weight="bold" font-size="19" stroke="#000" stroke-width="0.5">X</text>
<line x1="1906.03" y1="325.3" x2="1906.03" y2="333.5" stroke="#000" stroke-width="1.5"/>
<text transform="translate(1916.53 338.3) rotate(-90) scale(1,0.97)" text-anchor="end" font-weight="bold" font-size="13.2" stroke="#000" stroke-width="0.45">Q</text>
<text transform="translate(1911.03 348.57) rotate(-90) scale(1,1.1)" text-anchor="end" font-weight="bold" font-size="19" stroke="#000" stroke-width="0.5">X</text>
<g shape-rendering="crispEdges">
<rect x="1923.7" y="315.31" width="20.2" height="10.49" fill="#f0f921"/>
<rect x="1923.7" y="305.11" width="20.2" height="10.49" fill="#f5eb27"/>
<rect x="1923.7" y="294.92" width="20.2" height="10.49" fill="#f9dc24"/>
<rect x="1923.7" y="284.73" width="20.2" height="10.49" fill="#fccd25"/>
<rect x="1923.7" y="274.53" width="20.2" height="10.49" fill="#febe2a"/>
<rect x="1923.7" y="264.34" width="20.2" height="10.49" fill="#fdb130"/>
<rect x="1923.7" y="254.15" width="20.2" height="10.49" fill="#fca537"/>
<rect x="1923.7" y="243.95" width="20.2" height="10.49" fill="#f9983e"/>
<rect x="1923.7" y="233.76" width="20.2" height="10.49" fill="#f58c46"/>
<rect x="1923.7" y="223.57" width="20.2" height="10.49" fill="#f0804e"/>
<rect x="1923.7" y="213.37" width="20.2" height="10.49" fill="#eb7556"/>
<rect x="1923.7" y="203.18" width="20.2" height="10.49" fill="#e56a5d"/>
<rect x="1923.7" y="192.99" width="20.2" height="10.49" fill="#de6164"/>
<rect x="1923.7" y="182.79" width="20.2" height="10.49" fill="#d7566c"/>
<rect x="1923.7" y="172.6" width="20.2" height="10.49" fill="#cf4c74"/>
<rect x="1923.7" y="162.41" width="20.2" height="10.49" fill="#c7427c"/>
<rect x="1923.7" y="152.21" width="20.2" height="10.49" fill="#be3885"/>
<rect x="1923.7" y="142.02" width="20.2" height="10.49" fill="#b42e8d"/>
<rect x="1923.7" y="131.83" width="20.2" height="10.49" fill="#ab2494"/>
<rect x="1923.7" y="121.63" width="20.2" height="10.49" fill="#a01a9c"/>
<rect x="1923.7" y="111.44" width="20.2" height="10.49" fill="#9410a2"/>
<rect x="1923.7" y="101.25" width="20.2" height="10.49" fill="#8707a6"/>
<rect x="1923.7" y="91.05" width="20.2" height="10.49" fill="#7a02a8"/>
<rect x="1923.7" y="80.86" width="20.2" height="10.49" fill="#6c00a8"/>
<rect x="1923.7" y="70.67" width="20.2" height="10.49" fill="#6001a6"/>
<rect x="1923.7" y="60.47" width="20.2" height="10.49" fill="#5102a3"/>
<rect x="1923.7" y="50.28" width="20.2" height="10.49" fill="#43039e"/>
<rect x="1923.7" y="40.09" width="20.2" height="10.49" fill="#330597"/>
<rect x="1923.7" y="29.89" width="20.2" height="10.49" fill="#220690"/>
<rect x="1923.7" y="19.7" width="20.2" height="10.49" fill="#0d0887"/>
</g>
<g stroke="#fff" stroke-opacity="0.2" stroke-width="0.6">
<line x1="1923.7" y1="29.89" x2="1943.9" y2="29.89"/>
<line x1="1923.7" y1="40.09" x2="1943.9" y2="40.09"/>
<line x1="1923.7" y1="50.28" x2="1943.9" y2="50.28"/>
<line x1="1923.7" y1="60.47" x2="1943.9" y2="60.47"/>
<line x1="1923.7" y1="70.67" x2="1943.9" y2="70.67"/>
<line x1="1923.7" y1="80.86" x2="1943.9" y2="80.86"/>
<line x1="1923.7" y1="91.05" x2="1943.9" y2="91.05"/>
<line x1="1923.7" y1="101.25" x2="1943.9" y2="101.25"/>
<line x1="1923.7" y1="111.44" x2="1943.9" y2="111.44"/>
<line x1="1923.7" y1="121.63" x2="1943.9" y2="121.63"/>
<line x1="1923.7" y1="131.83" x2="1943.9" y2="131.83"/>
<line x1="1923.7" y1="142.02" x2="1943.9" y2="142.02"/>
<line x1="1923.7" y1="152.21" x2="1943.9" y2="152.21"/>
<line x1="1923.7" y1="162.41" x2="1943.9" y2="162.41"/>
<line x1="1923.7" y1="172.6" x2="1943.9" y2="172.6"/>
<line x1="1923.7" y1="182.79" x2="1943.9" y2="182.79"/>
<line x1="1923.7" y1="192.99" x2="1943.9" y2="192.99"/>
<line x1="1923.7" y1="203.18" x2="1943.9" y2="203.18"/>
<line x1="1923.7" y1="213.37" x2="1943.9" y2="213.37"/>
<line x1="1923.7" y1="223.57" x2="1943.9" y2="223.57"/>
<line x1="1923.7" y1="233.76" x2="1943.9" y2="233.76"/>
<line x1="1923.7" y1="243.95" x2="1943.9" y2="243.95"/>
<line x1="1923.7" y1="254.15" x2="1943.9" y2="254.15"/>
<line x1="1923.7" y1="264.34" x2="1943.9" y2="264.34"/>
<line x1="1923.7" y1="274.53" x2="1943.9" y2="274.53"/>
<line x1="1923.7" y1="284.73" x2="1943.9" y2="284.73"/>
<line x1="1923.7" y1="294.92" x2="1943.9" y2="294.92"/>
<line x1="1923.7" y1="305.11" x2="1943.9" y2="305.11"/>
<line x1="1923.7" y1="315.31" x2="1943.9" y2="315.31"/>
</g>
<rect x="1923.7" y="19.7" width="20.2" height="305.8" fill="none" stroke="#000" stroke-width="1.2"/>
<line x1="1943.9" y1="19.7" x2="1951.9" y2="19.7" stroke="#000" stroke-width="1.3"/>
<text transform="translate(1955.2 28) scale(1 1.04)" font-size="23.5" font-weight="bold">0.17</text>
<line x1="1943.9" y1="80.86" x2="1951.9" y2="80.86" stroke="#000" stroke-width="1.3"/>
<text transform="translate(1955.2 89.16) scale(1 1.04)" font-size="23.5" font-weight="bold">0.14</text>
<line x1="1943.9" y1="142.02" x2="1951.9" y2="142.02" stroke="#000" stroke-width="1.3"/>
<text transform="translate(1955.2 150.32) scale(1 1.04)" font-size="23.5" font-weight="bold">0.11</text>
<line x1="1943.9" y1="203.18" x2="1951.9" y2="203.18" stroke="#000" stroke-width="1.3"/>
<text transform="translate(1955.2 211.48) scale(1 1.04)" font-size="23.5" font-weight="bold">0.07</text>
<line x1="1943.9" y1="264.34" x2="1951.9" y2="264.34" stroke="#000" stroke-width="1.3"/>
<text transform="translate(1955.2 272.64) scale(1 1.04)" font-size="23.5" font-weight="bold">0.04</text>
<line x1="1943.9" y1="325.5" x2="1951.9" y2="325.5" stroke="#000" stroke-width="1.3"/>
<text transform="translate(1955.2 333.8) scale(1 1.04)" font-size="23.5" font-weight="bold">0.01</text>
<text transform="translate(1532.9 403.9) scale(1 1.04)" font-size="37" font-weight="bold">Initial features</text>
<g fill="#6fa5d6">
<path d="M217.3 594.6l6.5 6.5l-6.5 6.5l-6.5 -6.5z"/>
<path d="M197.4 623.3l6.5 6.5l-6.5 6.5l-6.5 -6.5z"/>
<path d="M214.9 614.9l6.5 6.5l-6.5 6.5l-6.5 -6.5z"/>
<path d="M167.1 662.9l6.5 6.5l-6.5 6.5l-6.5 -6.5z"/>
<path d="M312 669.5l6.5 6.5l-6.5 6.5l-6.5 -6.5z"/>
<path d="M227.5 712.8l6.5 6.5l-6.5 6.5l-6.5 -6.5z"/>
<path d="M264.2 672.2l6.5 6.5l-6.5 6.5l-6.5 -6.5z"/>
<path d="M268.3 685.6l6.5 6.5l-6.5 6.5l-6.5 -6.5z"/>
<path d="M136.1 699l6.5 6.5l-6.5 6.5l-6.5 -6.5z"/>
<path d="M141.5 698.2l6.5 6.5l-6.5 6.5l-6.5 -6.5z"/>
<path d="M146.9 699l6.5 6.5l-6.5 6.5l-6.5 -6.5z"/>
<path d="M152.2 698.2l6.5 6.5l-6.5 6.5l-6.5 -6.5z"/>
<path d="M157.6 699l6.5 6.5l-6.5 6.5l-6.5 -6.5z"/>
<path d="M146.9 692.8l6.5 6.5l-6.5 6.5l-6.5 -6.5z"/>
<path d="M155.8 691l6.5 6.5l-6.5 6.5l-6.5 -6.5z"/>
<path d="M161.2 698.2l6.5 6.5l-6.5 6.5l-6.5 -6.5z"/>
<path d="M177.3 707.1l6.5 6.5l-6.5 6.5l-6.5 -6.5z"/>
<path d="M191.7 707.1l6.5 6.5l-6.5 6.5l-6.5 -6.5z"/>
<path d="M206 705.3l6.5 6.5l-6.5 6.5l-6.5 -6.5z"/>
<path d="M236.4 673.1l6.5 6.5l-6.5 6.5l-6.5 -6.5z"/>
<path d="M245.4 694.6l6.5 6.5l-6.5 6.5l-6.5 -6.5z"/>
<path d="M238.2 597.8l6.5 6.5l-6.5 6.5l-6.5 -6.5z"/>
<path d="M245.4 596l6.5 6.5l-6.5 6.5l-6.5 -6.5z"/>
<path d="M469.2 477l6.5 6.5l-6.5 6.5l-6.5 -6.5z"/>
<path d="M490.2 481l6.5 6.5l-6.5 6.5l-6.5 -6.5z"/>
<path d="M377.3 487.8l6.5 6.5l-6.5 6.5l-6.5 -6.5z"/>
<path d="M380.9 491.3l6.5 6.5l-6.5 6.5l-6.5 -6.5z"/>
<path d="M323.2 498.9l6.5 6.5l-6.5 6.5l-6.5 -6.5z"/>
<path d="M358 501.2l6.5 6.5l-6.5 6.5l-6.5 -6.5z"/>
<path d="M382.3 503.4l6.5 6.5l-6.5 6.5l-6.5 -6.5z"/>
<path d="M354.9 509.3l6.5 6.5l-6.5 6.5l-6.5 -6.5z"/>
<path d="M365.7 513.7l6.5 6.5l-6.5 6.5l-6.5 -6.5z"/>
<path d="M355.8 513.7l6.5 6.5l-6.5 6.5l-6.5 -6.5z"/>
<path d="M412.3 503.9l6.5 6.5l-6.5 6.5l-6.5 -6.5z"/>
<path d="M418.5 503l6.5 6.5l-6.5 6.5l-6.5 -6.5z"/>
<path d="M423.9 507.5l6.5 6.5l-6.5 6.5l-6.5 -6.5z"/>
<path d="M417.6 512l6.5 6.5l-6.5 6.5l-6.5 -6.5z"/>
<path d="M427.5 510.2l6.5 6.5l-6.5 6.5l-6.5 -6.5z"/>
<path d="M433.8 514.6l6.5 6.5l-6.5 6.5l-6.5 -6.5z"/>
<path d="M406 520l6.5 6.5l-6.5 6.5l-6.5 -6.5z"/>
<path d="M416.7 517.3l6.5 6.5l-6.5 6.5l-6.5 -6.5z"/>
<path d="M423 521.8l6.5 6.5l-6.5 6.5l-6.5 -6.5z"/>
<path d="M425.7 529l6.5 6.5l-6.5 6.5l-6.5 -6.5z"/>
<path d="M413.2 531.7l6.5 6.5l-6.5 6.5l-6.5 -6.5z"/>
<path d="M406 533.4l6.5 6.5l-6.5 6.5l-6.5 -6.5z"/>
<path d="M400.6 537l6.5 6.5l-6.5 6.5l-6.5 -6.5z"/>
<path d="M323.2 525.4l6.5 6.5l-6.5 6.5l-6.5 -6.5z"/>
<path d="M342.9 524.5l6.5 6.5l-6.5 6.5l-6.5 -6.5z"/>
<path d="M359.4 531.7l6.5 6.5l-6.5 6.5l-6.5 -6.5z"/>
<path d="M346 535.2l6.5 6.5l-6.5 6.5l-6.5 -6.5z"/>
<path d="M349.6 540.6l6.5 6.5l-6.5 6.5l-6.5 -6.5z"/>
<path d="M381.8 526.3l6.5 6.5l-6.5 6.5l-6.5 -6.5z"/>
<path d="M379.1 531.7l6.5 6.5l-6.5 6.5l-6.5 -6.5z"/>
<path d="M373.7 538.8l6.5 6.5l-6.5 6.5l-6.5 -6.5z"/>
<path d="M380.9 544.2l6.5 6.5l-6.5 6.5l-6.5 -6.5z"/>
<path d="M384.5 520.9l6.5 6.5l-6.5 6.5l-6.5 -6.5z"/>
<path d="M332.5 549.6l6.5 6.5l-6.5 6.5l-6.5 -6.5z"/>
<path d="M337.9 551.4l6.5 6.5l-6.5 6.5l-6.5 -6.5z"/>
<path d="M395.2 554l6.5 6.5l-6.5 6.5l-6.5 -6.5z"/>
<path d="M383.6 561.2l6.5 6.5l-6.5 6.5l-6.5 -6.5z"/>
<path d="M382.7 575.5l6.5 6.5l-6.5 6.5l-6.5 -6.5z"/>
<path d="M363 560.3l6.5 6.5l-6.5 6.5l-6.5 -6.5z"/>
<path d="M368.4 563.9l6.5 6.5l-6.5 6.5l-6.5 -6.5z"/>
<path d="M346.9 567.5l6.5 6.5l-6.5 6.5l-6.5 -6.5z"/>
<path d="M352.2 574.7l6.5 6.5l-6.5 6.5l-6.5 -6.5z"/>
<path d="M361.2 580l6.5 6.5l-6.5 6.5l-6.5 -6.5z"/>
<path d="M366.6 581.8l6.5 6.5l-6.5 6.5l-6.5 -6.5z"/>
<path d="M341.5 581.8l6.5 6.5l-6.5 6.5l-6.5 -6.5z"/>
<path d="M330.7 581.8l6.5 6.5l-6.5 6.5l-6.5 -6.5z"/>
<path d="M373.7 590.8l6.5 6.5l-6.5 6.5l-6.5 -6.5z"/>
<path d="M355.8 585.4l6.5 6.5l-6.5 6.5l-6.5 -6.5z"/>
<path d="M325.4 587.2l6.5 6.5l-6.5 6.5l-6.5 -6.5z"/>
<path d="M264.5 506l6.5 6.5l-6.5 6.5l-6.5 -6.5z"/>
<path d="M379.1 493.5l6.5 6.5l-6.5 6.5l-6.5 -6.5z"/>
<path d="M312.9 524.9l6.5 6.5l-6.5 6.5l-6.5 -6.5z"/>
<path d="M310.2 530.2l6.5 6.5l-6.5 6.5l-6.5 -6.5z"/>
<path d="M352.3 540.1l6.5 6.5l-6.5 6.5l-6.5 -6.5z"/>
<path d="M260 541.9l6.5 6.5l-6.5 6.5l-6.5 -6.5z"/>
<path d="M278.8 545.5l6.5 6.5l-6.5 6.5l-6.5 -6.5z"/>
<path d="M309.3 543.7l6.5 6.5l-6.5 6.5l-6.5 -6.5z"/>
<path d="M314.7 547.2l6.5 6.5l-6.5 6.5l-6.5 -6.5z"/>
<path d="M338.8 549l6.5 6.5l-6.5 6.5l-6.5 -6.5z"/>
<path d="M301.2 553.5l6.5 6.5l-6.5 6.5l-6.5 -6.5z"/>
<path d="M243 559.4l6.5 6.5l-6.5 6.5l-6.5 -6.5z"/>
<path d="M227.2 564.8l6.5 6.5l-6.5 6.5l-6.5 -6.5z"/>
<path d="M267.2 559.8l6.5 6.5l-6.5 6.5l-6.5 -6.5z"/>
<path d="M277 563.4l6.5 6.5l-6.5 6.5l-6.5 -6.5z"/>
<path d="M282.4 564.3l6.5 6.5l-6.5 6.5l-6.5 -6.5z"/>
<path d="M260.9 571.4l6.5 6.5l-6.5 6.5l-6.5 -6.5z"/>
<path d="M297.6 558.9l6.5 6.5l-6.5 6.5l-6.5 -6.5z"/>
<path d="M230.5 584l6.5 6.5l-6.5 6.5l-6.5 -6.5z"/>
<path d="M235.8 590.2l6.5 6.5l-6.5 6.5l-6.5 -6.5z"/>
<path d="M241.2 597.4l6.5 6.5l-6.5 6.5l-6.5 -6.5z"/>
<path d="M247.5 595.6l6.5 6.5l-6.5 6.5l-6.5 -6.5z"/>
<path d="M379.1 593.8l6.5 6.5l-6.5 6.5l-6.5 -6.5z"/>
<path d="M368.4 586.7l6.5 6.5l-6.5 6.5l-6.5 -6.5z"/>
<path d="M354.1 598.3l6.5 6.5l-6.5 6.5l-6.5 -6.5z"/>
<path d="M346.9 602.8l6.5 6.5l-6.5 6.5l-6.5 -6.5z"/>
<path d="M343.3 612.6l6.5 6.5l-6.5 6.5l-6.5 -6.5z"/>
<path d="M352.3 614.4l6.5 6.5l-6.5 6.5l-6.5 -6.5z"/>
<path d="M271.3 617.7l6.5 6.5l-6.5 6.5l-6.5 -6.5z"/>
<path d="M288.2 623.5l6.5 6.5l-6.5 6.5l-6.5 -6.5z"/>
<path d="M367 584l6.5 6.5l-6.5 6.5l-6.5 -6.5z"/>
<path d="M370.7 556.4l6.5 6.5l-6.5 6.5l-6.5 -6.5z"/>
<path d="M376.3 536.9l6.5 6.5l-6.5 6.5l-6.5 -6.5z"/>
<path d="M303.9 593.9l6.5 6.5l-6.5 6.5l-6.5 -6.5z"/>
<path d="M191.5 654l6.5 6.5l-6.5 6.5l-6.5 -6.5z"/>
<path d="M226.1 686.4l6.5 6.5l-6.5 6.5l-6.5 -6.5z"/>
<path d="M368.9 568.9l6.5 6.5l-6.5 6.5l-6.5 -6.5z"/>
<path d="M193.3 700.2l6.5 6.5l-6.5 6.5l-6.5 -6.5z"/>
<path d="M145.2 702.8l6.5 6.5l-6.5 6.5l-6.5 -6.5z"/>
<path d="M206.1 648.3l6.5 6.5l-6.5 6.5l-6.5 -6.5z"/>
<path d="M211.7 673.5l6.5 6.5l-6.5 6.5l-6.5 -6.5z"/>
<path d="M320.6 558.6l6.5 6.5l-6.5 6.5l-6.5 -6.5z"/>
<path d="M240.6 644.2l6.5 6.5l-6.5 6.5l-6.5 -6.5z"/>
<path d="M323.9 580.2l6.5 6.5l-6.5 6.5l-6.5 -6.5z"/>
<path d="M311 628.1l6.5 6.5l-6.5 6.5l-6.5 -6.5z"/>
<path d="M355.4 581.5l6.5 6.5l-6.5 6.5l-6.5 -6.5z"/>
<path d="M346.3 604.5l6.5 6.5l-6.5 6.5l-6.5 -6.5z"/>
<path d="M225.2 642.7l6.5 6.5l-6.5 6.5l-6.5 -6.5z"/>
<path d="M233.1 640.1l6.5 6.5l-6.5 6.5l-6.5 -6.5z"/>
<path d="M311.1 566.3l6.5 6.5l-6.5 6.5l-6.5 -6.5z"/>
<path d="M324.1 603.8l6.5 6.5l-6.5 6.5l-6.5 -6.5z"/>
<path d="M229.5 676.7l6.5 6.5l-6.5 6.5l-6.5 -6.5z"/>
<path d="M227.6 666.6l6.5 6.5l-6.5 6.5l-6.5 -6.5z"/>
<path d="M386.3 549.6l6.5 6.5l-6.5 6.5l-6.5 -6.5z"/>
<path d="M325.2 593.7l6.5 6.5l-6.5 6.5l-6.5 -6.5z"/>
<path d="M345.9 609.4l6.5 6.5l-6.5 6.5l-6.5 -6.5z"/>
<path d="M253.3 666.7l6.5 6.5l-6.5 6.5l-6.5 -6.5z"/>
<path d="M409.6 517.8l6.5 6.5l-6.5 6.5l-6.5 -6.5z"/>
<path d="M248.2 619.6l6.5 6.5l-6.5 6.5l-6.5 -6.5z"/>
<path d="M198.4 689.6l6.5 6.5l-6.5 6.5l-6.5 -6.5z"/>
<path d="M235.5 665.9l6.5 6.5l-6.5 6.5l-6.5 -6.5z"/>
<path d="M422.7 517.6l6.5 6.5l-6.5 6.5l-6.5 -6.5z"/>
<path d="M221.8 653.4l6.5 6.5l-6.5 6.5l-6.5 -6.5z"/>
<path d="M328.1 609.9l6.5 6.5l-6.5 6.5l-6.5 -6.5z"/>
<path d="M196.9 679.2l6.5 6.5l-6.5 6.5l-6.5 -6.5z"/>
<path d="M296.7 605.7l6.5 6.5l-6.5 6.5l-6.5 -6.5z"/>
<path d="M305 603.2l6.5 6.5l-6.5 6.5l-6.5 -6.5z"/>
<path d="M297.6 586.8l6.5 6.5l-6.5 6.5l-6.5 -6.5z"/>
<path d="M415.4 526.8l6.5 6.5l-6.5 6.5l-6.5 -6.5z"/>
<path d="M342.8 567.5l6.5 6.5l-6.5 6.5l-6.5 -6.5z"/>
<path d="M241.7 630.4l6.5 6.5l-6.5 6.5l-6.5 -6.5z"/>
<path d="M295.1 591.7l6.5 6.5l-6.5 6.5l-6.5 -6.5z"/>
<path d="M394.5 548.6l6.5 6.5l-6.5 6.5l-6.5 -6.5z"/>
<path d="M206.4 652.9l6.5 6.5l-6.5 6.5l-6.5 -6.5z"/>
<path d="M256.2 644.2l6.5 6.5l-6.5 6.5l-6.5 -6.5z"/>
<path d="M301.5 608.2l6.5 6.5l-6.5 6.5l-6.5 -6.5z"/>
<path d="M152.3 700.5l6.5 6.5l-6.5 6.5l-6.5 -6.5z"/>
<path d="M290.5 590.3l6.5 6.5l-6.5 6.5l-6.5 -6.5z"/>
<path d="M358.7 585l6.5 6.5l-6.5 6.5l-6.5 -6.5z"/>
<path d="M325.2 584.9l6.5 6.5l-6.5 6.5l-6.5 -6.5z"/>
<path d="M316.2 606l6.5 6.5l-6.5 6.5l-6.5 -6.5z"/>
<path d="M212.1 692l6.5 6.5l-6.5 6.5l-6.5 -6.5z"/>
<path d="M204.1 699l6.5 6.5l-6.5 6.5l-6.5 -6.5z"/>
<path d="M336.4 570.8l6.5 6.5l-6.5 6.5l-6.5 -6.5z"/>
<path d="M295.9 581.7l6.5 6.5l-6.5 6.5l-6.5 -6.5z"/>
<path d="M147.2 695.9l6.5 6.5l-6.5 6.5l-6.5 -6.5z"/>
<path d="M294 625.7l6.5 6.5l-6.5 6.5l-6.5 -6.5z"/>
<path d="M219.8 650.8l6.5 6.5l-6.5 6.5l-6.5 -6.5z"/>
<path d="M181.1 658.9l6.5 6.5l-6.5 6.5l-6.5 -6.5z"/>
<path d="M155.8 690.7l6.5 6.5l-6.5 6.5l-6.5 -6.5z"/>
<path d="M264.3 600.3l6.5 6.5l-6.5 6.5l-6.5 -6.5z"/>
<path d="M353.7 598.4l6.5 6.5l-6.5 6.5l-6.5 -6.5z"/>
<path d="M268.4 640.5l6.5 6.5l-6.5 6.5l-6.5 -6.5z"/>
<path d="M310.9 588l6.5 6.5l-6.5 6.5l-6.5 -6.5z"/>
<path d="M357.2 549.8l6.5 6.5l-6.5 6.5l-6.5 -6.5z"/>
<path d="M168.1 688l6.5 6.5l-6.5 6.5l-6.5 -6.5z"/>
<path d="M367.7 544.4l6.5 6.5l-6.5 6.5l-6.5 -6.5z"/>
<path d="M232.6 615.3l6.5 6.5l-6.5 6.5l-6.5 -6.5z"/>
<path d="M163 684.3l6.5 6.5l-6.5 6.5l-6.5 -6.5z"/>
<path d="M342.3 562.6l6.5 6.5l-6.5 6.5l-6.5 -6.5z"/>
<path d="M242.5 652.8l6.5 6.5l-6.5 6.5l-6.5 -6.5z"/>
<path d="M187.2 659.8l6.5 6.5l-6.5 6.5l-6.5 -6.5z"/>
<path d="M299.3 619.3l6.5 6.5l-6.5 6.5l-6.5 -6.5z"/>
<path d="M200.6 661.1l6.5 6.5l-6.5 6.5l-6.5 -6.5z"/>
<path d="M283.9 612.9l6.5 6.5l-6.5 6.5l-6.5 -6.5z"/>
<path d="M369.9 537.3l6.5 6.5l-6.5 6.5l-6.5 -6.5z"/>
<path d="M212.8 686.9l6.5 6.5l-6.5 6.5l-6.5 -6.5z"/>
<path d="M148.6 699.6l6.5 6.5l-6.5 6.5l-6.5 -6.5z"/>
<path d="M294.2 608.4l6.5 6.5l-6.5 6.5l-6.5 -6.5z"/>
<path d="M246.7 667.8l6.5 6.5l-6.5 6.5l-6.5 -6.5z"/>
<path d="M179.3 662.2l6.5 6.5l-6.5 6.5l-6.5 -6.5z"/>
<path d="M279.7 598.4l6.5 6.5l-6.5 6.5l-6.5 -6.5z"/>
<path d="M412.8 518.6l6.5 6.5l-6.5 6.5l-6.5 -6.5z"/>
<path d="M385.3 543.4l6.5 6.5l-6.5 6.5l-6.5 -6.5z"/>
<path d="M299 610.5l6.5 6.5l-6.5 6.5l-6.5 -6.5z"/>
<path d="M181.4 675.2l6.5 6.5l-6.5 6.5l-6.5 -6.5z"/>
<path d="M349.8 549.6l6.5 6.5l-6.5 6.5l-6.5 -6.5z"/>
<path d="M305.3 596.2l6.5 6.5l-6.5 6.5l-6.5 -6.5z"/>
<path d="M377.1 543.1l6.5 6.5l-6.5 6.5l-6.5 -6.5z"/>
<path d="M248 613.5l6.5 6.5l-6.5 6.5l-6.5 -6.5z"/>
<path d="M252.9 640.3l6.5 6.5l-6.5 6.5l-6.5 -6.5z"/>
<path d="M356.3 569l6.5 6.5l-6.5 6.5l-6.5 -6.5z"/>
<path d="M255.5 647.3l6.5 6.5l-6.5 6.5l-6.5 -6.5z"/>
<path d="M237.7 636.9l6.5 6.5l-6.5 6.5l-6.5 -6.5z"/>
<path d="M171.2 705.1l6.5 6.5l-6.5 6.5l-6.5 -6.5z"/>
<path d="M174.7 690.4l6.5 6.5l-6.5 6.5l-6.5 -6.5z"/>
<path d="M170.8 673.6l6.5 6.5l-6.5 6.5l-6.5 -6.5z"/>
<path d="M221.4 688.9l6.5 6.5l-6.5 6.5l-6.5 -6.5z"/>
<path d="M334.1 564.4l6.5 6.5l-6.5 6.5l-6.5 -6.5z"/>
<path d="M249.7 624.5l6.5 6.5l-6.5 6.5l-6.5 -6.5z"/>
<path d="M306.5 569.6l6.5 6.5l-6.5 6.5l-6.5 -6.5z"/>
<path d="M276.6 586.3l6.5 6.5l-6.5 6.5l-6.5 -6.5z"/>
<path d="M362.6 563.8l6.5 6.5l-6.5 6.5l-6.5 -6.5z"/>
<path d="M286.6 583.2l6.5 6.5l-6.5 6.5l-6.5 -6.5z"/>
<path d="M201 657.2l6.5 6.5l-6.5 6.5l-6.5 -6.5z"/>
<path d="M223.4 694.4l6.5 6.5l-6.5 6.5l-6.5 -6.5z"/>
<path d="M191.8 685.4l6.5 6.5l-6.5 6.5l-6.5 -6.5z"/>
<path d="M354.6 565.5l6.5 6.5l-6.5 6.5l-6.5 -6.5z"/>
<path d="M246.9 639.3l6.5 6.5l-6.5 6.5l-6.5 -6.5z"/>
<path d="M217.8 634.6l6.5 6.5l-6.5 6.5l-6.5 -6.5z"/>
<path d="M267.6 611l6.5 6.5l-6.5 6.5l-6.5 -6.5z"/>
<path d="M209.9 669.1l6.5 6.5l-6.5 6.5l-6.5 -6.5z"/>
<path d="M363.7 551.4l6.5 6.5l-6.5 6.5l-6.5 -6.5z"/>
<path d="M190.2 688.9l6.5 6.5l-6.5 6.5l-6.5 -6.5z"/>
<path d="M243 638.5l6.5 6.5l-6.5 6.5l-6.5 -6.5z"/>
<path d="M342 609.4l6.5 6.5l-6.5 6.5l-6.5 -6.5z"/>
<path d="M371 534.3l6.5 6.5l-6.5 6.5l-6.5 -6.5z"/>
<path d="M265.9 592.7l6.5 6.5l-6.5 6.5l-6.5 -6.5z"/>
<path d="M213.5 668.1l6.5 6.5l-6.5 6.5l-6.5 -6.5z"/>
<path d="M306.8 614.2l6.5 6.5l-6.5 6.5l-6.5 -6.5z"/>
<path d="M322.7 610.4l6.5 6.5l-6.5 6.5l-6.5 -6.5z"/>
<path d="M238 646.2l6.5 6.5l-6.5 6.5l-6.5 -6.5z"/>
<path d="M249.6 664.5l6.5 6.5l-6.5 6.5l-6.5 -6.5z"/>
<path d="M344.1 576.1l6.5 6.5l-6.5 6.5l-6.5 -6.5z"/>
<path d="M351.4 556.2l6.5 6.5l-6.5 6.5l-6.5 -6.5z"/>
<path d="M158.7 685.8l6.5 6.5l-6.5 6.5l-6.5 -6.5z"/>
<path d="M232.5 662.3l6.5 6.5l-6.5 6.5l-6.5 -6.5z"/>
<path d="M348.8 554.4l6.5 6.5l-6.5 6.5l-6.5 -6.5z"/>
<path d="M199.3 645l6.5 6.5l-6.5 6.5l-6.5 -6.5z"/>
<path d="M312 598.5l6.5 6.5l-6.5 6.5l-6.5 -6.5z"/>
<path d="M213.2 640.6l6.5 6.5l-6.5 6.5l-6.5 -6.5z"/>
<path d="M243.9 621.1l6.5 6.5l-6.5 6.5l-6.5 -6.5z"/>
<path d="M217.6 674.7l6.5 6.5l-6.5 6.5l-6.5 -6.5z"/>
<path d="M410.6 507.5l6.5 6.5l-6.5 6.5l-6.5 -6.5z"/>
<path d="M283.9 636.8l6.5 6.5l-6.5 6.5l-6.5 -6.5z"/>
<path d="M300.5 631.3l6.5 6.5l-6.5 6.5l-6.5 -6.5z"/>
<path d="M228.9 650.7l6.5 6.5l-6.5 6.5l-6.5 -6.5z"/>
<path d="M283 618.5l6.5 6.5l-6.5 6.5l-6.5 -6.5z"/>
<path d="M183 682.4l6.5 6.5l-6.5 6.5l-6.5 -6.5z"/>
<path d="M351.6 552.6l6.5 6.5l-6.5 6.5l-6.5 -6.5z"/>
<path d="M351.6 568.5l6.5 6.5l-6.5 6.5l-6.5 -6.5z"/>
<path d="M235.2 659.8l6.5 6.5l-6.5 6.5l-6.5 -6.5z"/>
<path d="M306.4 588.3l6.5 6.5l-6.5 6.5l-6.5 -6.5z"/>
<path d="M343 588l6.5 6.5l-6.5 6.5l-6.5 -6.5z"/>
<path d="M298.8 601.5l6.5 6.5l-6.5 6.5l-6.5 -6.5z"/>
<path d="M377.3 530.4l6.5 6.5l-6.5 6.5l-6.5 -6.5z"/>
<path d="M324 557.3l6.5 6.5l-6.5 6.5l-6.5 -6.5z"/>
<path d="M195 682.7l6.5 6.5l-6.5 6.5l-6.5 -6.5z"/>
<path d="M281 587l6.5 6.5l-6.5 6.5l-6.5 -6.5z"/>
<path d="M217.9 697.8l6.5 6.5l-6.5 6.5l-6.5 -6.5z"/>
<path d="M242.8 658.6l6.5 6.5l-6.5 6.5l-6.5 -6.5z"/>
<path d="M244.6 634.2l6.5 6.5l-6.5 6.5l-6.5 -6.5z"/>
<path d="M359.4 544.1l6.5 6.5l-6.5 6.5l-6.5 -6.5z"/>
<path d="M195.8 685.4l6.5 6.5l-6.5 6.5l-6.5 -6.5z"/>
<path d="M231.2 658.7l6.5 6.5l-6.5 6.5l-6.5 -6.5z"/>
<path d="M216.7 642.5l6.5 6.5l-6.5 6.5l-6.5 -6.5z"/>
<path d="M326.9 579.3l6.5 6.5l-6.5 6.5l-6.5 -6.5z"/>
<path d="M287.3 619.4l6.5 6.5l-6.5 6.5l-6.5 -6.5z"/>
<path d="M168.2 676.4l6.5 6.5l-6.5 6.5l-6.5 -6.5z"/>
<path d="M343.7 595.2l6.5 6.5l-6.5 6.5l-6.5 -6.5z"/>
<path d="M336.2 588l6.5 6.5l-6.5 6.5l-6.5 -6.5z"/>
<path d="M316.5 620.4l6.5 6.5l-6.5 6.5l-6.5 -6.5z"/>
<path d="M314.3 625l6.5 6.5l-6.5 6.5l-6.5 -6.5z"/>
<path d="M358.3 565.5l6.5 6.5l-6.5 6.5l-6.5 -6.5z"/>
<path d="M271.8 612.7l6.5 6.5l-6.5 6.5l-6.5 -6.5z"/>
<path d="M207.1 668.4l6.5 6.5l-6.5 6.5l-6.5 -6.5z"/>
<path d="M344.9 598l6.5 6.5l-6.5 6.5l-6.5 -6.5z"/>
<path d="M357.8 575.5l6.5 6.5l-6.5 6.5l-6.5 -6.5z"/>
<path d="M220.2 683.8l6.5 6.5l-6.5 6.5l-6.5 -6.5z"/>
<path d="M220.7 679.9l6.5 6.5l-6.5 6.5l-6.5 -6.5z"/>
<path d="M339.7 595.5l6.5 6.5l-6.5 6.5l-6.5 -6.5z"/>
<path d="M222.7 646.2l6.5 6.5l-6.5 6.5l-6.5 -6.5z"/>
<path d="M313.4 614.8l6.5 6.5l-6.5 6.5l-6.5 -6.5z"/>
<path d="M163.7 688.8l6.5 6.5l-6.5 6.5l-6.5 -6.5z"/>
<path d="M247.5 652.2l6.5 6.5l-6.5 6.5l-6.5 -6.5z"/>
<path d="M276.4 575.8l6.5 6.5l-6.5 6.5l-6.5 -6.5z"/>
<path d="M255.7 638l6.5 6.5l-6.5 6.5l-6.5 -6.5z"/>
<path d="M296.7 612.2l6.5 6.5l-6.5 6.5l-6.5 -6.5z"/>
<path d="M370.4 551.5l6.5 6.5l-6.5 6.5l-6.5 -6.5z"/>
<path d="M257.3 628.8l6.5 6.5l-6.5 6.5l-6.5 -6.5z"/>
<path d="M180.3 672.3l6.5 6.5l-6.5 6.5l-6.5 -6.5z"/>
<path d="M167.5 693.5l6.5 6.5l-6.5 6.5l-6.5 -6.5z"/>
<path d="M358.7 554l6.5 6.5l-6.5 6.5l-6.5 -6.5z"/>
<path d="M300.3 583.9l6.5 6.5l-6.5 6.5l-6.5 -6.5z"/>
<path d="M244.8 625.8l6.5 6.5l-6.5 6.5l-6.5 -6.5z"/>
<path d="M319.1 623.9l6.5 6.5l-6.5 6.5l-6.5 -6.5z"/>
<path d="M220.5 643.1l6.5 6.5l-6.5 6.5l-6.5 -6.5z"/>
<path d="M230.1 672.5l6.5 6.5l-6.5 6.5l-6.5 -6.5z"/>
<path d="M358 587.8l6.5 6.5l-6.5 6.5l-6.5 -6.5z"/>
<path d="M362.5 579.2l6.5 6.5l-6.5 6.5l-6.5 -6.5z"/>
<path d="M269.9 591.7l6.5 6.5l-6.5 6.5l-6.5 -6.5z"/>
<path d="M171 684l6.5 6.5l-6.5 6.5l-6.5 -6.5z"/>
<path d="M313.7 609.3l6.5 6.5l-6.5 6.5l-6.5 -6.5z"/>
<path d="M251.8 620.7l6.5 6.5l-6.5 6.5l-6.5 -6.5z"/>
<path d="M346 548.8l6.5 6.5l-6.5 6.5l-6.5 -6.5z"/>
<path d="M213 653.7l6.5 6.5l-6.5 6.5l-6.5 -6.5z"/>
<path d="M265.3 629.9l6.5 6.5l-6.5 6.5l-6.5 -6.5z"/>
<path d="M226.8 678.5l6.5 6.5l-6.5 6.5l-6.5 -6.5z"/>
<path d="M372.4 545.6l6.5 6.5l-6.5 6.5l-6.5 -6.5z"/>
<path d="M355 555.3l6.5 6.5l-6.5 6.5l-6.5 -6.5z"/>
<path d="M399.7 533.2l6.5 6.5l-6.5 6.5l-6.5 -6.5z"/>
<path d="M319.1 614.3l6.5 6.5l-6.5 6.5l-6.5 -6.5z"/>
<path d="M150 697.3l6.5 6.5l-6.5 6.5l-6.5 -6.5z"/>
<path d="M243.9 665.8l6.5 6.5l-6.5 6.5l-6.5 -6.5z"/>
<path d="M305.9 573.1l6.5 6.5l-6.5 6.5l-6.5 -6.5z"/>
<path d="M167 698.1l6.5 6.5l-6.5 6.5l-6.5 -6.5z"/>
<path d="M293.9 574.2l6.5 6.5l-6.5 6.5l-6.5 -6.5z"/>
<path d="M348.3 587.6l6.5 6.5l-6.5 6.5l-6.5 -6.5z"/>
<path d="M235.7 647.8l6.5 6.5l-6.5 6.5l-6.5 -6.5z"/>
<path d="M417.9 517.7l6.5 6.5l-6.5 6.5l-6.5 -6.5z"/>
<path d="M291.8 622l6.5 6.5l-6.5 6.5l-6.5 -6.5z"/>
<path d="M293.8 570.3l6.5 6.5l-6.5 6.5l-6.5 -6.5z"/>
<path d="M204.8 685.7l6.5 6.5l-6.5 6.5l-6.5 -6.5z"/>
<path d="M206 637.7l6.5 6.5l-6.5 6.5l-6.5 -6.5z"/>
<path d="M211.1 684.7l6.5 6.5l-6.5 6.5l-6.5 -6.5z"/>
<path d="M412.1 529.7l6.5 6.5l-6.5 6.5l-6.5 -6.5z"/>
<path d="M227.7 660.1l6.5 6.5l-6.5 6.5l-6.5 -6.5z"/>
<path d="M273.5 626.8l6.5 6.5l-6.5 6.5l-6.5 -6.5z"/>
<path d="M186.1 655l6.5 6.5l-6.5 6.5l-6.5 -6.5z"/>
<path d="M200.4 668.3l6.5 6.5l-6.5 6.5l-6.5 -6.5z"/>
<path d="M322 577.4l6.5 6.5l-6.5 6.5l-6.5 -6.5z"/>
<path d="M277.5 631.2l6.5 6.5l-6.5 6.5l-6.5 -6.5z"/>
<path d="M260.5 613.5l6.5 6.5l-6.5 6.5l-6.5 -6.5z"/>
<path d="M353.9 549.1l6.5 6.5l-6.5 6.5l-6.5 -6.5z"/>
<path d="M239.2 617.6l6.5 6.5l-6.5 6.5l-6.5 -6.5z"/>
<path d="M290.1 579.5l6.5 6.5l-6.5 6.5l-6.5 -6.5z"/>
<path d="M326 597.1l6.5 6.5l-6.5 6.5l-6.5 -6.5z"/>
<path d="M280.2 634.9l6.5 6.5l-6.5 6.5l-6.5 -6.5z"/>
<path d="M287 589.5l6.5 6.5l-6.5 6.5l-6.5 -6.5z"/>
<path d="M282.7 601.3l6.5 6.5l-6.5 6.5l-6.5 -6.5z"/>
<path d="M222 677.1l6.5 6.5l-6.5 6.5l-6.5 -6.5z"/>
<path d="M286.7 571.8l6.5 6.5l-6.5 6.5l-6.5 -6.5z"/>
<path d="M207.8 693.7l6.5 6.5l-6.5 6.5l-6.5 -6.5z"/>
<path d="M238 666.7l6.5 6.5l-6.5 6.5l-6.5 -6.5z"/>
<path d="M328.2 603.3l6.5 6.5l-6.5 6.5l-6.5 -6.5z"/>
<path d="M292.7 602.5l6.5 6.5l-6.5 6.5l-6.5 -6.5z"/>
<path d="M296.6 599.4l6.5 6.5l-6.5 6.5l-6.5 -6.5z"/>
<path d="M265.4 644.3l6.5 6.5l-6.5 6.5l-6.5 -6.5z"/>
<path d="M216.5 651.5l6.5 6.5l-6.5 6.5l-6.5 -6.5z"/>
<path d="M348.6 595.9l6.5 6.5l-6.5 6.5l-6.5 -6.5z"/>
<path d="M345.1 591.9l6.5 6.5l-6.5 6.5l-6.5 -6.5z"/>
<path d="M281.7 623.6l6.5 6.5l-6.5 6.5l-6.5 -6.5z"/>
<path d="M200.7 682.3l6.5 6.5l-6.5 6.5l-6.5 -6.5z"/>
<path d="M288.5 586.1l6.5 6.5l-6.5 6.5l-6.5 -6.5z"/>
<path d="M226 662.7l6.5 6.5l-6.5 6.5l-6.5 -6.5z"/>
<path d="M272.1 599.5l6.5 6.5l-6.5 6.5l-6.5 -6.5z"/>
<path d="M255.8 641.2l6.5 6.5l-6.5 6.5l-6.5 -6.5z"/>
<path d="M359.2 562l6.5 6.5l-6.5 6.5l-6.5 -6.5z"/>
<path d="M266 637.5l6.5 6.5l-6.5 6.5l-6.5 -6.5z"/>
<path d="M237.5 649.8l6.5 6.5l-6.5 6.5l-6.5 -6.5z"/>
<path d="M367 554.2l6.5 6.5l-6.5 6.5l-6.5 -6.5z"/>
<path d="M193.3 692.3l6.5 6.5l-6.5 6.5l-6.5 -6.5z"/>
<path d="M252.7 624.1l6.5 6.5l-6.5 6.5l-6.5 -6.5z"/>
<path d="M210.1 648.4l6.5 6.5l-6.5 6.5l-6.5 -6.5z"/>
<path d="M221.5 669.7l6.5 6.5l-6.5 6.5l-6.5 -6.5z"/>
<path d="M318.1 596.7l6.5 6.5l-6.5 6.5l-6.5 -6.5z"/>
<path d="M197.8 648l6.5 6.5l-6.5 6.5l-6.5 -6.5z"/>
<path d="M346.5 570.6l6.5 6.5l-6.5 6.5l-6.5 -6.5z"/>
<path d="M307.1 628.1l6.5 6.5l-6.5 6.5l-6.5 -6.5z"/>
<path d="M179.2 703.1l6.5 6.5l-6.5 6.5l-6.5 -6.5z"/>
<path d="M203.1 651.2l6.5 6.5l-6.5 6.5l-6.5 -6.5z"/>
<path d="M299 622.6l6.5 6.5l-6.5 6.5l-6.5 -6.5z"/>
<path d="M221.5 618l6.5 6.5l-6.5 6.5l-6.5 -6.5z"/>
<path d="M228 624.5l6.5 6.5l-6.5 6.5l-6.5 -6.5z"/>
<path d="M287.1 598.4l6.5 6.5l-6.5 6.5l-6.5 -6.5z"/>
<path d="M360.3 595.5l6.5 6.5l-6.5 6.5l-6.5 -6.5z"/>
<path d="M254.5 616.2l6.5 6.5l-6.5 6.5l-6.5 -6.5z"/>
<path d="M299.1 570.6l6.5 6.5l-6.5 6.5l-6.5 -6.5z"/>
<path d="M327.5 554.8l6.5 6.5l-6.5 6.5l-6.5 -6.5z"/>
<path d="M305.1 580.3l6.5 6.5l-6.5 6.5l-6.5 -6.5z"/>
<path d="M384.4 552.7l6.5 6.5l-6.5 6.5l-6.5 -6.5z"/>
<path d="M352.1 603.7l6.5 6.5l-6.5 6.5l-6.5 -6.5z"/>
<path d="M250.5 611.6l6.5 6.5l-6.5 6.5l-6.5 -6.5z"/>
<path d="M296.6 578.7l6.5 6.5l-6.5 6.5l-6.5 -6.5z"/>
<path d="M252.9 613.9l6.5 6.5l-6.5 6.5l-6.5 -6.5z"/>
<path d="M250.3 649l6.5 6.5l-6.5 6.5l-6.5 -6.5z"/>
<path d="M246.8 648.7l6.5 6.5l-6.5 6.5l-6.5 -6.5z"/>
<path d="M231.8 627.6l6.5 6.5l-6.5 6.5l-6.5 -6.5z"/>
<path d="M303.1 571.1l6.5 6.5l-6.5 6.5l-6.5 -6.5z"/>
<path d="M220.9 663l6.5 6.5l-6.5 6.5l-6.5 -6.5z"/>
<path d="M213.7 626.5l6.5 6.5l-6.5 6.5l-6.5 -6.5z"/>
<path d="M288.7 607.3l6.5 6.5l-6.5 6.5l-6.5 -6.5z"/>
<path d="M280.9 583.5l6.5 6.5l-6.5 6.5l-6.5 -6.5z"/>
<path d="M279.6 574.9l6.5 6.5l-6.5 6.5l-6.5 -6.5z"/>
<path d="M177.3 664.3l6.5 6.5l-6.5 6.5l-6.5 -6.5z"/>
<path d="M332.1 598.7l6.5 6.5l-6.5 6.5l-6.5 -6.5z"/>
<path d="M155.8 694.6l6.5 6.5l-6.5 6.5l-6.5 -6.5z"/>
<path d="M231 652.4l6.5 6.5l-6.5 6.5l-6.5 -6.5z"/>
<path d="M329.8 576.4l6.5 6.5l-6.5 6.5l-6.5 -6.5z"/>
<path d="M251.1 635.2l6.5 6.5l-6.5 6.5l-6.5 -6.5z"/>
<path d="M405.3 517.1l6.5 6.5l-6.5 6.5l-6.5 -6.5z"/>
<path d="M211 659.8l6.5 6.5l-6.5 6.5l-6.5 -6.5z"/>
<path d="M202.2 684.9l6.5 6.5l-6.5 6.5l-6.5 -6.5z"/>
<path d="M315.9 566.9l6.5 6.5l-6.5 6.5l-6.5 -6.5z"/>
<path d="M171.8 670.1l6.5 6.5l-6.5 6.5l-6.5 -6.5z"/>
<path d="M295 586.8l6.5 6.5l-6.5 6.5l-6.5 -6.5z"/>
<path d="M267.2 597.7l6.5 6.5l-6.5 6.5l-6.5 -6.5z"/>
<path d="M295.8 622.3l6.5 6.5l-6.5 6.5l-6.5 -6.5z"/>
<path d="M203.9 689.6l6.5 6.5l-6.5 6.5l-6.5 -6.5z"/>
<path d="M272.1 644.2l6.5 6.5l-6.5 6.5l-6.5 -6.5z"/>
<path d="M375.3 554.7l6.5 6.5l-6.5 6.5l-6.5 -6.5z"/>
<path d="M195.5 689.1l6.5 6.5l-6.5 6.5l-6.5 -6.5z"/>
<path d="M255.3 618.8l6.5 6.5l-6.5 6.5l-6.5 -6.5z"/>
<path d="M339 570.3l6.5 6.5l-6.5 6.5l-6.5 -6.5z"/>
<path d="M283.2 579.2l6.5 6.5l-6.5 6.5l-6.5 -6.5z"/>
<path d="M283.8 572l6.5 6.5l-6.5 6.5l-6.5 -6.5z"/>
<path d="M258.5 599.3l6.5 6.5l-6.5 6.5l-6.5 -6.5z"/>
<path d="M266 625.3l6.5 6.5l-6.5 6.5l-6.5 -6.5z"/>
<path d="M273.5 635.3l6.5 6.5l-6.5 6.5l-6.5 -6.5z"/>
<path d="M318.2 573.3l6.5 6.5l-6.5 6.5l-6.5 -6.5z"/>
<path d="M197.2 653.8l6.5 6.5l-6.5 6.5l-6.5 -6.5z"/>
<path d="M232.2 634.5l6.5 6.5l-6.5 6.5l-6.5 -6.5z"/>
<path d="M260.1 646.3l6.5 6.5l-6.5 6.5l-6.5 -6.5z"/>
<path d="M174.4 704l6.5 6.5l-6.5 6.5l-6.5 -6.5z"/>
<path d="M225.6 627.7l6.5 6.5l-6.5 6.5l-6.5 -6.5z"/>
<path d="M239.9 662.4l6.5 6.5l-6.5 6.5l-6.5 -6.5z"/>
<path d="M283.9 588.1l6.5 6.5l-6.5 6.5l-6.5 -6.5z"/>
<path d="M302.3 612.8l6.5 6.5l-6.5 6.5l-6.5 -6.5z"/>
<path d="M170.2 697l6.5 6.5l-6.5 6.5l-6.5 -6.5z"/>
<path d="M318.1 600.1l6.5 6.5l-6.5 6.5l-6.5 -6.5z"/>
<path d="M379 545l6.5 6.5l-6.5 6.5l-6.5 -6.5z"/>
<path d="M216.2 629.7l6.5 6.5l-6.5 6.5l-6.5 -6.5z"/>
<path d="M303.7 585.8l6.5 6.5l-6.5 6.5l-6.5 -6.5z"/>
<path d="M218.7 627.6l6.5 6.5l-6.5 6.5l-6.5 -6.5z"/>
<path d="M221.7 659.9l6.5 6.5l-6.5 6.5l-6.5 -6.5z"/>
<path d="M330.6 565l6.5 6.5l-6.5 6.5l-6.5 -6.5z"/>
<path d="M323.1 622.4l6.5 6.5l-6.5 6.5l-6.5 -6.5z"/>
<path d="M222.8 620.8l6.5 6.5l-6.5 6.5l-6.5 -6.5z"/>
<path d="M291.4 595.3l6.5 6.5l-6.5 6.5l-6.5 -6.5z"/>
<path d="M187.7 666.2l6.5 6.5l-6.5 6.5l-6.5 -6.5z"/>
<path d="M323.8 600.9l6.5 6.5l-6.5 6.5l-6.5 -6.5z"/>
<path d="M320.1 561.9l6.5 6.5l-6.5 6.5l-6.5 -6.5z"/>
<path d="M274.8 644.9l6.5 6.5l-6.5 6.5l-6.5 -6.5z"/>
<path d="M367.5 560.3l6.5 6.5l-6.5 6.5l-6.5 -6.5z"/>
<path d="M189.9 701l6.5 6.5l-6.5 6.5l-6.5 -6.5z"/>
<path d="M326.7 615.3l6.5 6.5l-6.5 6.5l-6.5 -6.5z"/>
<path d="M404.2 536.8l6.5 6.5l-6.5 6.5l-6.5 -6.5z"/>
<path d="M160.5 680.9l6.5 6.5l-6.5 6.5l-6.5 -6.5z"/>
<path d="M277.1 616.2l6.5 6.5l-6.5 6.5l-6.5 -6.5z"/>
<path d="M266.8 588.6l6.5 6.5l-6.5 6.5l-6.5 -6.5z"/>
<path d="M211.4 681.2l6.5 6.5l-6.5 6.5l-6.5 -6.5z"/>
<path d="M214 683.3l6.5 6.5l-6.5 6.5l-6.5 -6.5z"/>
<path d="M309.4 609.9l6.5 6.5l-6.5 6.5l-6.5 -6.5z"/>
<path d="M378.8 557.2l6.5 6.5l-6.5 6.5l-6.5 -6.5z"/>
<path d="M202.7 644.9l6.5 6.5l-6.5 6.5l-6.5 -6.5z"/>
<path d="M252.7 662.7l6.5 6.5l-6.5 6.5l-6.5 -6.5z"/>
<path d="M315.5 590.4l6.5 6.5l-6.5 6.5l-6.5 -6.5z"/>
<path d="M204.4 663.9l6.5 6.5l-6.5 6.5l-6.5 -6.5z"/>
<path d="M367.2 548.9l6.5 6.5l-6.5 6.5l-6.5 -6.5z"/>
<path d="M317.4 610.4l6.5 6.5l-6.5 6.5l-6.5 -6.5z"/>
<path d="M315.1 596.7l6.5 6.5l-6.5 6.5l-6.5 -6.5z"/>
<path d="M327.3 618.6l6.5 6.5l-6.5 6.5l-6.5 -6.5z"/>
<path d="M330.2 586.2l6.5 6.5l-6.5 6.5l-6.5 -6.5z"/>
<path d="M318.5 590.1l6.5 6.5l-6.5 6.5l-6.5 -6.5z"/>
<path d="M221.6 640.2l6.5 6.5l-6.5 6.5l-6.5 -6.5z"/>
<path d="M399.6 537.4l6.5 6.5l-6.5 6.5l-6.5 -6.5z"/>
<path d="M196.1 660.5l6.5 6.5l-6.5 6.5l-6.5 -6.5z"/>
<path d="M276.8 597.9l6.5 6.5l-6.5 6.5l-6.5 -6.5z"/>
<path d="M240.7 622.1l6.5 6.5l-6.5 6.5l-6.5 -6.5z"/>
<path d="M239.4 678l6.5 6.5l-6.5 6.5l-6.5 -6.5z"/>
<path d="M207.8 700.5l6.5 6.5l-6.5 6.5l-6.5 -6.5z"/>
<path d="M241.2 649.9l6.5 6.5l-6.5 6.5l-6.5 -6.5z"/>
<path d="M420.1 516.2l6.5 6.5l-6.5 6.5l-6.5 -6.5z"/>
<path d="M233.8 652.2l6.5 6.5l-6.5 6.5l-6.5 -6.5z"/>
<path d="M292.9 578.5l6.5 6.5l-6.5 6.5l-6.5 -6.5z"/>
<path d="M263.8 610.6l6.5 6.5l-6.5 6.5l-6.5 -6.5z"/>
<path d="M321 603l6.5 6.5l-6.5 6.5l-6.5 -6.5z"/>
<path d="M262.4 595.8l6.5 6.5l-6.5 6.5l-6.5 -6.5z"/>
<path d="M274.2 593.7l6.5 6.5l-6.5 6.5l-6.5 -6.5z"/>
<path d="M216.2 688.8l6.5 6.5l-6.5 6.5l-6.5 -6.5z"/>
<path d="M336.6 592l6.5 6.5l-6.5 6.5l-6.5 -6.5z"/>
<path d="M301.7 567.1l6.5 6.5l-6.5 6.5l-6.5 -6.5z"/>
<path d="M223.9 673.5l6.5 6.5l-6.5 6.5l-6.5 -6.5z"/>
<path d="M212.1 657l6.5 6.5l-6.5 6.5l-6.5 -6.5z"/>
<path d="M331.8 581.2l6.5 6.5l-6.5 6.5l-6.5 -6.5z"/>
<path d="M167.2 683.6l6.5 6.5l-6.5 6.5l-6.5 -6.5z"/>
<path d="M428.6 516.4l6.5 6.5l-6.5 6.5l-6.5 -6.5z"/>
<path d="M277.7 636.2l6.5 6.5l-6.5 6.5l-6.5 -6.5z"/>
<path d="M236.5 642.6l6.5 6.5l-6.5 6.5l-6.5 -6.5z"/>
<path d="M424.2 509.7l6.5 6.5l-6.5 6.5l-6.5 -6.5z"/>
<path d="M164.9 694.4l6.5 6.5l-6.5 6.5l-6.5 -6.5z"/>
<path d="M311.7 583.8l6.5 6.5l-6.5 6.5l-6.5 -6.5z"/>
<path d="M370.5 573.8l6.5 6.5l-6.5 6.5l-6.5 -6.5z"/>
<path d="M244.6 678.4l6.5 6.5l-6.5 6.5l-6.5 -6.5z"/>
<path d="M277.1 622.3l6.5 6.5l-6.5 6.5l-6.5 -6.5z"/>
<path d="M186.7 678.6l6.5 6.5l-6.5 6.5l-6.5 -6.5z"/>
<path d="M196.8 702l6.5 6.5l-6.5 6.5l-6.5 -6.5z"/>
<path d="M282.2 610.6l6.5 6.5l-6.5 6.5l-6.5 -6.5z"/>
<path d="M213.6 662.7l6.5 6.5l-6.5 6.5l-6.5 -6.5z"/>
<path d="M263.6 621.6l6.5 6.5l-6.5 6.5l-6.5 -6.5z"/>
<path d="M173 685.9l6.5 6.5l-6.5 6.5l-6.5 -6.5z"/>
<path d="M257.6 602.8l6.5 6.5l-6.5 6.5l-6.5 -6.5z"/>
<path d="M326.7 590.2l6.5 6.5l-6.5 6.5l-6.5 -6.5z"/>
<path d="M284.3 606.4l6.5 6.5l-6.5 6.5l-6.5 -6.5z"/>
<path d="M351.2 572l6.5 6.5l-6.5 6.5l-6.5 -6.5z"/>
<path d="M230.2 617.9l6.5 6.5l-6.5 6.5l-6.5 -6.5z"/>
<path d="M325.4 571.8l6.5 6.5l-6.5 6.5l-6.5 -6.5z"/>
<path d="M345.6 601.6l6.5 6.5l-6.5 6.5l-6.5 -6.5z"/>
<path d="M170.4 700.1l6.5 6.5l-6.5 6.5l-6.5 -6.5z"/>
<path d="M349.5 601.4l6.5 6.5l-6.5 6.5l-6.5 -6.5z"/>
<path d="M201.8 647.6l6.5 6.5l-6.5 6.5l-6.5 -6.5z"/>
<path d="M182.1 691.2l6.5 6.5l-6.5 6.5l-6.5 -6.5z"/>
<path d="M199.1 675.5l6.5 6.5l-6.5 6.5l-6.5 -6.5z"/>
<path d="M231.4 624.3l6.5 6.5l-6.5 6.5l-6.5 -6.5z"/>
<path d="M256 609.2l6.5 6.5l-6.5 6.5l-6.5 -6.5z"/>
<path d="M245.8 656.8l6.5 6.5l-6.5 6.5l-6.5 -6.5z"/>
<path d="M286.2 633.9l6.5 6.5l-6.5 6.5l-6.5 -6.5z"/>
<path d="M321.7 606.6l6.5 6.5l-6.5 6.5l-6.5 -6.5z"/>
<path d="M215.4 694.1l6.5 6.5l-6.5 6.5l-6.5 -6.5z"/>
<path d="M313.6 587.7l6.5 6.5l-6.5 6.5l-6.5 -6.5z"/>
<path d="M339.8 575.5l6.5 6.5l-6.5 6.5l-6.5 -6.5z"/>
<path d="M283.1 598.4l6.5 6.5l-6.5 6.5l-6.5 -6.5z"/>
<path d="M210.1 633.4l6.5 6.5l-6.5 6.5l-6.5 -6.5z"/>
<path d="M173.5 693.2l6.5 6.5l-6.5 6.5l-6.5 -6.5z"/>
<path d="M268.2 621.7l6.5 6.5l-6.5 6.5l-6.5 -6.5z"/>
<path d="M208.2 697.1l6.5 6.5l-6.5 6.5l-6.5 -6.5z"/>
<path d="M309.2 620.6l6.5 6.5l-6.5 6.5l-6.5 -6.5z"/>
<path d="M198.3 698.7l6.5 6.5l-6.5 6.5l-6.5 -6.5z"/>
<path d="M336.5 578.4l6.5 6.5l-6.5 6.5l-6.5 -6.5z"/>
<path d="M251.9 646.6l6.5 6.5l-6.5 6.5l-6.5 -6.5z"/>
<path d="M259.4 649.1l6.5 6.5l-6.5 6.5l-6.5 -6.5z"/>
<path d="M287.4 580.3l6.5 6.5l-6.5 6.5l-6.5 -6.5z"/>
<path d="M301 591.1l6.5 6.5l-6.5 6.5l-6.5 -6.5z"/>
<path d="M262.9 605.9l6.5 6.5l-6.5 6.5l-6.5 -6.5z"/>
<path d="M374.3 564.6l6.5 6.5l-6.5 6.5l-6.5 -6.5z"/>
<path d="M343.2 555.1l6.5 6.5l-6.5 6.5l-6.5 -6.5z"/>
<path d="M334 554.7l6.5 6.5l-6.5 6.5l-6.5 -6.5z"/>
<path d="M213.9 636.9l6.5 6.5l-6.5 6.5l-6.5 -6.5z"/>
<path d="M331.6 573.2l6.5 6.5l-6.5 6.5l-6.5 -6.5z"/>
<path d="M335.5 598.4l6.5 6.5l-6.5 6.5l-6.5 -6.5z"/>
<path d="M179.7 677.9l6.5 6.5l-6.5 6.5l-6.5 -6.5z"/>
<path d="M333 590.4l6.5 6.5l-6.5 6.5l-6.5 -6.5z"/>
<path d="M372.4 561l6.5 6.5l-6.5 6.5l-6.5 -6.5z"/>
<path d="M367.9 571.8l6.5 6.5l-6.5 6.5l-6.5 -6.5z"/>
<path d="M257.8 655.9l6.5 6.5l-6.5 6.5l-6.5 -6.5z"/>
<path d="M161.2 698l6.5 6.5l-6.5 6.5l-6.5 -6.5z"/>
<path d="M181.7 677.7l6.5 6.5l-6.5 6.5l-6.5 -6.5z"/>
<path d="M168.5 700.3l6.5 6.5l-6.5 6.5l-6.5 -6.5z"/>
<path d="M182.6 673.8l6.5 6.5l-6.5 6.5l-6.5 -6.5z"/>
<path d="M188.2 682.8l6.5 6.5l-6.5 6.5l-6.5 -6.5z"/>
<path d="M178.6 690.2l6.5 6.5l-6.5 6.5l-6.5 -6.5z"/>
<path d="M199.7 686.4l6.5 6.5l-6.5 6.5l-6.5 -6.5z"/>
<path d="M170.6 700.7l6.5 6.5l-6.5 6.5l-6.5 -6.5z"/>
<path d="M208.6 674.9l6.5 6.5l-6.5 6.5l-6.5 -6.5z"/>
<path d="M214.8 662.4l6.5 6.5l-6.5 6.5l-6.5 -6.5z"/>
<path d="M174.6 691.1l6.5 6.5l-6.5 6.5l-6.5 -6.5z"/>
<path d="M194 692.1l6.5 6.5l-6.5 6.5l-6.5 -6.5z"/>
<path d="M183.8 697.9l6.5 6.5l-6.5 6.5l-6.5 -6.5z"/>
<path d="M163.1 702.2l6.5 6.5l-6.5 6.5l-6.5 -6.5z"/>
<path d="M217.7 658.3l6.5 6.5l-6.5 6.5l-6.5 -6.5z"/>
<path d="M181.3 681.2l6.5 6.5l-6.5 6.5l-6.5 -6.5z"/>
<path d="M185.6 682.4l6.5 6.5l-6.5 6.5l-6.5 -6.5z"/>
<path d="M169.8 699.2l6.5 6.5l-6.5 6.5l-6.5 -6.5z"/>
<path d="M210.8 671.6l6.5 6.5l-6.5 6.5l-6.5 -6.5z"/>
<path d="M224.5 673.1l6.5 6.5l-6.5 6.5l-6.5 -6.5z"/>
<path d="M207 670.2l6.5 6.5l-6.5 6.5l-6.5 -6.5z"/>
<path d="M200.2 664.5l6.5 6.5l-6.5 6.5l-6.5 -6.5z"/>
<path d="M153.5 693.8l6.5 6.5l-6.5 6.5l-6.5 -6.5z"/>
<path d="M166.7 700.1l6.5 6.5l-6.5 6.5l-6.5 -6.5z"/>
<path d="M221.7 664.6l6.5 6.5l-6.5 6.5l-6.5 -6.5z"/>
<path d="M175.5 686.8l6.5 6.5l-6.5 6.5l-6.5 -6.5z"/>
<path d="M176.6 674.8l6.5 6.5l-6.5 6.5l-6.5 -6.5z"/>
<path d="M186.9 699.4l6.5 6.5l-6.5 6.5l-6.5 -6.5z"/>
<path d="M227.2 661.5l6.5 6.5l-6.5 6.5l-6.5 -6.5z"/>
<path d="M183.1 677.1l6.5 6.5l-6.5 6.5l-6.5 -6.5z"/>
<path d="M206.3 670.3l6.5 6.5l-6.5 6.5l-6.5 -6.5z"/>
<path d="M163.8 692.8l6.5 6.5l-6.5 6.5l-6.5 -6.5z"/>
<path d="M194 672.6l6.5 6.5l-6.5 6.5l-6.5 -6.5z"/>
<path d="M165.8 702l6.5 6.5l-6.5 6.5l-6.5 -6.5z"/>
<path d="M222.1 664.6l6.5 6.5l-6.5 6.5l-6.5 -6.5z"/>
<path d="M174 687.6l6.5 6.5l-6.5 6.5l-6.5 -6.5z"/>
<path d="M156.8 701.4l6.5 6.5l-6.5 6.5l-6.5 -6.5z"/>
<path d="M173 681.8l6.5 6.5l-6.5 6.5l-6.5 -6.5z"/>
<path d="M198 668.7l6.5 6.5l-6.5 6.5l-6.5 -6.5z"/>
<path d="M215 649.6l6.5 6.5l-6.5 6.5l-6.5 -6.5z"/>
<path d="M188.6 698.7l6.5 6.5l-6.5 6.5l-6.5 -6.5z"/>
<path d="M193.9 677.4l6.5 6.5l-6.5 6.5l-6.5 -6.5z"/>
<path d="M212.7 658.2l6.5 6.5l-6.5 6.5l-6.5 -6.5z"/>
<path d="M169.3 696.6l6.5 6.5l-6.5 6.5l-6.5 -6.5z"/>
<path d="M216.2 664.2l6.5 6.5l-6.5 6.5l-6.5 -6.5z"/>
<path d="M211.5 668.6l6.5 6.5l-6.5 6.5l-6.5 -6.5z"/>
<path d="M201.4 659.4l6.5 6.5l-6.5 6.5l-6.5 -6.5z"/>
<path d="M169 694.5l6.5 6.5l-6.5 6.5l-6.5 -6.5z"/>
<path d="M167 705.3l6.5 6.5l-6.5 6.5l-6.5 -6.5z"/>
<path d="M152.1 700.1l6.5 6.5l-6.5 6.5l-6.5 -6.5z"/>
<path d="M229.8 666.6l6.5 6.5l-6.5 6.5l-6.5 -6.5z"/>
<path d="M203.3 666.4l6.5 6.5l-6.5 6.5l-6.5 -6.5z"/>
<path d="M222 659.4l6.5 6.5l-6.5 6.5l-6.5 -6.5z"/>
<path d="M189.6 681.5l6.5 6.5l-6.5 6.5l-6.5 -6.5z"/>
<path d="M165.7 697l6.5 6.5l-6.5 6.5l-6.5 -6.5z"/>
<path d="M214.8 668.1l6.5 6.5l-6.5 6.5l-6.5 -6.5z"/>
<path d="M188.4 668l6.5 6.5l-6.5 6.5l-6.5 -6.5z"/>
<path d="M176.4 678.6l6.5 6.5l-6.5 6.5l-6.5 -6.5z"/>
<path d="M170.3 688.5l6.5 6.5l-6.5 6.5l-6.5 -6.5z"/>
<path d="M189.4 679.9l6.5 6.5l-6.5 6.5l-6.5 -6.5z"/>
<path d="M202.2 674.3l6.5 6.5l-6.5 6.5l-6.5 -6.5z"/>
<path d="M194.5 677.8l6.5 6.5l-6.5 6.5l-6.5 -6.5z"/>
<path d="M201.2 679.3l6.5 6.5l-6.5 6.5l-6.5 -6.5z"/>
<path d="M166.2 690.6l6.5 6.5l-6.5 6.5l-6.5 -6.5z"/>
<path d="M188.1 698.2l6.5 6.5l-6.5 6.5l-6.5 -6.5z"/>
<path d="M158.8 699.5l6.5 6.5l-6.5 6.5l-6.5 -6.5z"/>
<path d="M184.3 686.4l6.5 6.5l-6.5 6.5l-6.5 -6.5z"/>
<path d="M156.5 697.3l6.5 6.5l-6.5 6.5l-6.5 -6.5z"/>
<path d="M188.8 678.4l6.5 6.5l-6.5 6.5l-6.5 -6.5z"/>
<path d="M170.7 702.8l6.5 6.5l-6.5 6.5l-6.5 -6.5z"/>
<path d="M164.5 702.5l6.5 6.5l-6.5 6.5l-6.5 -6.5z"/>
<path d="M206.4 676.4l6.5 6.5l-6.5 6.5l-6.5 -6.5z"/>
<path d="M196.7 687.8l6.5 6.5l-6.5 6.5l-6.5 -6.5z"/>
<path d="M217 665.6l6.5 6.5l-6.5 6.5l-6.5 -6.5z"/>
<path d="M208.1 668.8l6.5 6.5l-6.5 6.5l-6.5 -6.5z"/>
<path d="M184.7 684.3l6.5 6.5l-6.5 6.5l-6.5 -6.5z"/>
<path d="M201.3 668.9l6.5 6.5l-6.5 6.5l-6.5 -6.5z"/>
<path d="M168.6 694.6l6.5 6.5l-6.5 6.5l-6.5 -6.5z"/>
<path d="M151.1 703.1l6.5 6.5l-6.5 6.5l-6.5 -6.5z"/>
<path d="M176.9 685l6.5 6.5l-6.5 6.5l-6.5 -6.5z"/>
<path d="M179.6 703.6l6.5 6.5l-6.5 6.5l-6.5 -6.5z"/>
<path d="M180.4 672.1l6.5 6.5l-6.5 6.5l-6.5 -6.5z"/>
<path d="M155.6 700.5l6.5 6.5l-6.5 6.5l-6.5 -6.5z"/>
<path d="M189.6 669.8l6.5 6.5l-6.5 6.5l-6.5 -6.5z"/>
<path d="M222 658.1l6.5 6.5l-6.5 6.5l-6.5 -6.5z"/>
<path d="M172.5 691.1l6.5 6.5l-6.5 6.5l-6.5 -6.5z"/>
<path d="M188.2 674.2l6.5 6.5l-6.5 6.5l-6.5 -6.5z"/>
<path d="M169.5 679.9l6.5 6.5l-6.5 6.5l-6.5 -6.5z"/>
<path d="M176 694.9l6.5 6.5l-6.5 6.5l-6.5 -6.5z"/>
<path d="M178.6 678.2l6.5 6.5l-6.5 6.5l-6.5 -6.5z"/>
<path d="M201.7 683.6l6.5 6.5l-6.5 6.5l-6.5 -6.5z"/>
<path d="M184.2 686.9l6.5 6.5l-6.5 6.5l-6.5 -6.5z"/>
<path d="M186.4 678.3l6.5 6.5l-6.5 6.5l-6.5 -6.5z"/>
<path d="M169.8 700.6l6.5 6.5l-6.5 6.5l-6.5 -6.5z"/>
<path d="M152.1 703.3l6.5 6.5l-6.5 6.5l-6.5 -6.5z"/>
<path d="M203.9 673.8l6.5 6.5l-6.5 6.5l-6.5 -6.5z"/>
<path d="M210.6 665.5l6.5 6.5l-6.5 6.5l-6.5 -6.5z"/>
<path d="M164.6 691.5l6.5 6.5l-6.5 6.5l-6.5 -6.5z"/>
<path d="M174.4 682.1l6.5 6.5l-6.5 6.5l-6.5 -6.5z"/>
<path d="M222.4 659.3l6.5 6.5l-6.5 6.5l-6.5 -6.5z"/>
<path d="M153.2 699.1l6.5 6.5l-6.5 6.5l-6.5 -6.5z"/>
<path d="M204.3 672.3l6.5 6.5l-6.5 6.5l-6.5 -6.5z"/>
<path d="M217.5 663.8l6.5 6.5l-6.5 6.5l-6.5 -6.5z"/>
<path d="M202.1 662.7l6.5 6.5l-6.5 6.5l-6.5 -6.5z"/>
<path d="M203.6 679l6.5 6.5l-6.5 6.5l-6.5 -6.5z"/>
<path d="M197.1 667.5l6.5 6.5l-6.5 6.5l-6.5 -6.5z"/>
<path d="M172 700.6l6.5 6.5l-6.5 6.5l-6.5 -6.5z"/>
<path d="M194.5 674.6l6.5 6.5l-6.5 6.5l-6.5 -6.5z"/>
<path d="M293.1 627l6.5 6.5l-6.5 6.5l-6.5 -6.5z"/>
<path d="M214.3 658.4l6.5 6.5l-6.5 6.5l-6.5 -6.5z"/>
<path d="M240.6 642.2l6.5 6.5l-6.5 6.5l-6.5 -6.5z"/>
<path d="M232.2 659.4l6.5 6.5l-6.5 6.5l-6.5 -6.5z"/>
<path d="M264.9 634.6l6.5 6.5l-6.5 6.5l-6.5 -6.5z"/>
<path d="M295.5 609.9l6.5 6.5l-6.5 6.5l-6.5 -6.5z"/>
<path d="M275.5 616.6l6.5 6.5l-6.5 6.5l-6.5 -6.5z"/>
<path d="M295.3 607.5l6.5 6.5l-6.5 6.5l-6.5 -6.5z"/>
<path d="M275.2 623l6.5 6.5l-6.5 6.5l-6.5 -6.5z"/>
<path d="M272.6 630.1l6.5 6.5l-6.5 6.5l-6.5 -6.5z"/>
<path d="M271.7 621.9l6.5 6.5l-6.5 6.5l-6.5 -6.5z"/>
<path d="M251.8 656.4l6.5 6.5l-6.5 6.5l-6.5 -6.5z"/>
<path d="M238.7 649.6l6.5 6.5l-6.5 6.5l-6.5 -6.5z"/>
<path d="M270.4 620.2l6.5 6.5l-6.5 6.5l-6.5 -6.5z"/>
<path d="M230.2 647.2l6.5 6.5l-6.5 6.5l-6.5 -6.5z"/>
<path d="M245.7 637.8l6.5 6.5l-6.5 6.5l-6.5 -6.5z"/>
<path d="M289.4 601.8l6.5 6.5l-6.5 6.5l-6.5 -6.5z"/>
<path d="M268 627.9l6.5 6.5l-6.5 6.5l-6.5 -6.5z"/>
<path d="M241.3 648.8l6.5 6.5l-6.5 6.5l-6.5 -6.5z"/>
<path d="M242.4 651.7l6.5 6.5l-6.5 6.5l-6.5 -6.5z"/>
<path d="M233 653.1l6.5 6.5l-6.5 6.5l-6.5 -6.5z"/>
<path d="M282.7 615l6.5 6.5l-6.5 6.5l-6.5 -6.5z"/>
<path d="M292.9 607.8l6.5 6.5l-6.5 6.5l-6.5 -6.5z"/>
<path d="M256.8 632.3l6.5 6.5l-6.5 6.5l-6.5 -6.5z"/>
<path d="M214.8 653.4l6.5 6.5l-6.5 6.5l-6.5 -6.5z"/>
<path d="M232.2 643l6.5 6.5l-6.5 6.5l-6.5 -6.5z"/>
<path d="M215.4 659.7l6.5 6.5l-6.5 6.5l-6.5 -6.5z"/>
<path d="M241.3 643.9l6.5 6.5l-6.5 6.5l-6.5 -6.5z"/>
<path d="M256.8 640.4l6.5 6.5l-6.5 6.5l-6.5 -6.5z"/>
<path d="M225.2 651.4l6.5 6.5l-6.5 6.5l-6.5 -6.5z"/>
<path d="M283.6 619.5l6.5 6.5l-6.5 6.5l-6.5 -6.5z"/>
<path d="M216.1 653.4l6.5 6.5l-6.5 6.5l-6.5 -6.5z"/>
<path d="M227.7 645.7l6.5 6.5l-6.5 6.5l-6.5 -6.5z"/>
<path d="M237.9 653.6l6.5 6.5l-6.5 6.5l-6.5 -6.5z"/>
<path d="M287.4 623l6.5 6.5l-6.5 6.5l-6.5 -6.5z"/>
<path d="M281.3 600.3l6.5 6.5l-6.5 6.5l-6.5 -6.5z"/>
<path d="M216.5 659.5l6.5 6.5l-6.5 6.5l-6.5 -6.5z"/>
<path d="M289.5 609l6.5 6.5l-6.5 6.5l-6.5 -6.5z"/>
<path d="M277.9 619.3l6.5 6.5l-6.5 6.5l-6.5 -6.5z"/>
<path d="M218.8 655.4l6.5 6.5l-6.5 6.5l-6.5 -6.5z"/>
<path d="M278.9 608.8l6.5 6.5l-6.5 6.5l-6.5 -6.5z"/>
<path d="M251.6 630.2l6.5 6.5l-6.5 6.5l-6.5 -6.5z"/>
<path d="M280.4 613.6l6.5 6.5l-6.5 6.5l-6.5 -6.5z"/>
<path d="M248.2 645.9l6.5 6.5l-6.5 6.5l-6.5 -6.5z"/>
<path d="M235 636.9l6.5 6.5l-6.5 6.5l-6.5 -6.5z"/>
<path d="M216.2 649.9l6.5 6.5l-6.5 6.5l-6.5 -6.5z"/>
<path d="M216 650.1l6.5 6.5l-6.5 6.5l-6.5 -6.5z"/>
<path d="M231.6 650.9l6.5 6.5l-6.5 6.5l-6.5 -6.5z"/>
<path d="M239.7 648.3l6.5 6.5l-6.5 6.5l-6.5 -6.5z"/>
<path d="M257.5 634.3l6.5 6.5l-6.5 6.5l-6.5 -6.5z"/>
<path d="M271 621l6.5 6.5l-6.5 6.5l-6.5 -6.5z"/>
<path d="M223.1 653.8l6.5 6.5l-6.5 6.5l-6.5 -6.5z"/>
<path d="M288.8 602.6l6.5 6.5l-6.5 6.5l-6.5 -6.5z"/>
<path d="M272.2 620.9l6.5 6.5l-6.5 6.5l-6.5 -6.5z"/>
<path d="M274.6 617.9l6.5 6.5l-6.5 6.5l-6.5 -6.5z"/>
<path d="M284.1 614l6.5 6.5l-6.5 6.5l-6.5 -6.5z"/>
<path d="M237.7 655.3l6.5 6.5l-6.5 6.5l-6.5 -6.5z"/>
<path d="M261.1 632.9l6.5 6.5l-6.5 6.5l-6.5 -6.5z"/>
<path d="M270.9 630.1l6.5 6.5l-6.5 6.5l-6.5 -6.5z"/>
<path d="M262.7 641.8l6.5 6.5l-6.5 6.5l-6.5 -6.5z"/>
<path d="M234.1 659.3l6.5 6.5l-6.5 6.5l-6.5 -6.5z"/>
<path d="M284.9 601.4l6.5 6.5l-6.5 6.5l-6.5 -6.5z"/>
<path d="M273.7 625l6.5 6.5l-6.5 6.5l-6.5 -6.5z"/>
<path d="M297.4 619.6l6.5 6.5l-6.5 6.5l-6.5 -6.5z"/>
<path d="M269.2 644l6.5 6.5l-6.5 6.5l-6.5 -6.5z"/>
<path d="M242.6 631.6l6.5 6.5l-6.5 6.5l-6.5 -6.5z"/>
<path d="M300.4 617l6.5 6.5l-6.5 6.5l-6.5 -6.5z"/>
<path d="M214.6 658l6.5 6.5l-6.5 6.5l-6.5 -6.5z"/>
<path d="M241.2 636.2l6.5 6.5l-6.5 6.5l-6.5 -6.5z"/>
<path d="M274.8 613.4l6.5 6.5l-6.5 6.5l-6.5 -6.5z"/>
<path d="M274.5 631.8l6.5 6.5l-6.5 6.5l-6.5 -6.5z"/>
<path d="M268.4 642.5l6.5 6.5l-6.5 6.5l-6.5 -6.5z"/>
<path d="M292.6 616.6l6.5 6.5l-6.5 6.5l-6.5 -6.5z"/>
<path d="M270.9 642.8l6.5 6.5l-6.5 6.5l-6.5 -6.5z"/>
<path d="M279.6 616.6l6.5 6.5l-6.5 6.5l-6.5 -6.5z"/>
<path d="M237.8 629.7l6.5 6.5l-6.5 6.5l-6.5 -6.5z"/>
<path d="M221.2 654.8l6.5 6.5l-6.5 6.5l-6.5 -6.5z"/>
<path d="M262.2 633.1l6.5 6.5l-6.5 6.5l-6.5 -6.5z"/>
<path d="M281.9 613.1l6.5 6.5l-6.5 6.5l-6.5 -6.5z"/>
<path d="M220.4 663.3l6.5 6.5l-6.5 6.5l-6.5 -6.5z"/>
<path d="M250.4 636.8l6.5 6.5l-6.5 6.5l-6.5 -6.5z"/>
<path d="M270.6 623.2l6.5 6.5l-6.5 6.5l-6.5 -6.5z"/>
<path d="M241.1 660.5l6.5 6.5l-6.5 6.5l-6.5 -6.5z"/>
<path d="M265.2 640.2l6.5 6.5l-6.5 6.5l-6.5 -6.5z"/>
<path d="M287.8 607.5l6.5 6.5l-6.5 6.5l-6.5 -6.5z"/>
<path d="M236 648.3l6.5 6.5l-6.5 6.5l-6.5 -6.5z"/>
<path d="M246.9 631.7l6.5 6.5l-6.5 6.5l-6.5 -6.5z"/>
<path d="M272.7 611.2l6.5 6.5l-6.5 6.5l-6.5 -6.5z"/>
<path d="M269.8 624.5l6.5 6.5l-6.5 6.5l-6.5 -6.5z"/>
<path d="M251.8 646.6l6.5 6.5l-6.5 6.5l-6.5 -6.5z"/>
<path d="M256.2 633.4l6.5 6.5l-6.5 6.5l-6.5 -6.5z"/>
<path d="M259.1 642.9l6.5 6.5l-6.5 6.5l-6.5 -6.5z"/>
<path d="M221.8 663.9l6.5 6.5l-6.5 6.5l-6.5 -6.5z"/>
<path d="M277.5 609l6.5 6.5l-6.5 6.5l-6.5 -6.5z"/>
<path d="M275.4 617.5l6.5 6.5l-6.5 6.5l-6.5 -6.5z"/>
<path d="M238.5 628.1l6.5 6.5l-6.5 6.5l-6.5 -6.5z"/>
<path d="M254.8 648.1l6.5 6.5l-6.5 6.5l-6.5 -6.5z"/>
<path d="M264.3 628.9l6.5 6.5l-6.5 6.5l-6.5 -6.5z"/>
<path d="M266.5 632.8l6.5 6.5l-6.5 6.5l-6.5 -6.5z"/>
<path d="M235.1 649.3l6.5 6.5l-6.5 6.5l-6.5 -6.5z"/>
<path d="M278.5 622.3l6.5 6.5l-6.5 6.5l-6.5 -6.5z"/>
<path d="M216.7 653.3l6.5 6.5l-6.5 6.5l-6.5 -6.5z"/>
<path d="M249.1 644.1l6.5 6.5l-6.5 6.5l-6.5 -6.5z"/>
<path d="M250.1 629.7l6.5 6.5l-6.5 6.5l-6.5 -6.5z"/>
<path d="M244.6 634.6l6.5 6.5l-6.5 6.5l-6.5 -6.5z"/>
<path d="M269.4 616.6l6.5 6.5l-6.5 6.5l-6.5 -6.5z"/>
<path d="M287.5 612.2l6.5 6.5l-6.5 6.5l-6.5 -6.5z"/>
<path d="M233.1 642.5l6.5 6.5l-6.5 6.5l-6.5 -6.5z"/>
<path d="M283.1 620.5l6.5 6.5l-6.5 6.5l-6.5 -6.5z"/>
<path d="M223.9 638.5l6.5 6.5l-6.5 6.5l-6.5 -6.5z"/>
<path d="M287.3 614.9l6.5 6.5l-6.5 6.5l-6.5 -6.5z"/>
<path d="M240.7 643.2l6.5 6.5l-6.5 6.5l-6.5 -6.5z"/>
<path d="M273.1 632.2l6.5 6.5l-6.5 6.5l-6.5 -6.5z"/>
<path d="M244.3 655.7l6.5 6.5l-6.5 6.5l-6.5 -6.5z"/>
<path d="M271.6 621.7l6.5 6.5l-6.5 6.5l-6.5 -6.5z"/>
<path d="M236.2 654.4l6.5 6.5l-6.5 6.5l-6.5 -6.5z"/>
<path d="M256.6 632.7l6.5 6.5l-6.5 6.5l-6.5 -6.5z"/>
<path d="M270 618.7l6.5 6.5l-6.5 6.5l-6.5 -6.5z"/>
<path d="M241.7 639.8l6.5 6.5l-6.5 6.5l-6.5 -6.5z"/>
<path d="M229.2 646.9l6.5 6.5l-6.5 6.5l-6.5 -6.5z"/>
<path d="M233.9 662.6l6.5 6.5l-6.5 6.5l-6.5 -6.5z"/>
<path d="M252.6 641.6l6.5 6.5l-6.5 6.5l-6.5 -6.5z"/>
<path d="M230.9 661.5l6.5 6.5l-6.5 6.5l-6.5 -6.5z"/>
<path d="M214.2 655.7l6.5 6.5l-6.5 6.5l-6.5 -6.5z"/>
<path d="M272.3 615.2l6.5 6.5l-6.5 6.5l-6.5 -6.5z"/>
<path d="M255.1 629.9l6.5 6.5l-6.5 6.5l-6.5 -6.5z"/>
<path d="M291.3 600.8l6.5 6.5l-6.5 6.5l-6.5 -6.5z"/>
<path d="M272.7 631.3l6.5 6.5l-6.5 6.5l-6.5 -6.5z"/>
<path d="M242.6 635.8l6.5 6.5l-6.5 6.5l-6.5 -6.5z"/>
<path d="M274.2 633.4l6.5 6.5l-6.5 6.5l-6.5 -6.5z"/>
<path d="M251.1 631.9l6.5 6.5l-6.5 6.5l-6.5 -6.5z"/>
<path d="M281 616.2l6.5 6.5l-6.5 6.5l-6.5 -6.5z"/>
<path d="M215.3 657.5l6.5 6.5l-6.5 6.5l-6.5 -6.5z"/>
<path d="M231.2 644.8l6.5 6.5l-6.5 6.5l-6.5 -6.5z"/>
<path d="M263.1 626.3l6.5 6.5l-6.5 6.5l-6.5 -6.5z"/>
<path d="M255.8 632.8l6.5 6.5l-6.5 6.5l-6.5 -6.5z"/>
<path d="M231.1 654.5l6.5 6.5l-6.5 6.5l-6.5 -6.5z"/>
<path d="M240 638.6l6.5 6.5l-6.5 6.5l-6.5 -6.5z"/>
<path d="M236.7 653.5l6.5 6.5l-6.5 6.5l-6.5 -6.5z"/>
<path d="M229.7 654.8l6.5 6.5l-6.5 6.5l-6.5 -6.5z"/>
<path d="M337.8 577.6l6.5 6.5l-6.5 6.5l-6.5 -6.5z"/>
<path d="M296.5 599.7l6.5 6.5l-6.5 6.5l-6.5 -6.5z"/>
<path d="M332.4 584l6.5 6.5l-6.5 6.5l-6.5 -6.5z"/>
<path d="M348.8 571.7l6.5 6.5l-6.5 6.5l-6.5 -6.5z"/>
<path d="M303.9 595.8l6.5 6.5l-6.5 6.5l-6.5 -6.5z"/>
<path d="M292.5 598.1l6.5 6.5l-6.5 6.5l-6.5 -6.5z"/>
<path d="M306.9 593.8l6.5 6.5l-6.5 6.5l-6.5 -6.5z"/>
<path d="M304.4 596.4l6.5 6.5l-6.5 6.5l-6.5 -6.5z"/>
<path d="M334.6 580.5l6.5 6.5l-6.5 6.5l-6.5 -6.5z"/>
<path d="M335.4 568.1l6.5 6.5l-6.5 6.5l-6.5 -6.5z"/>
<path d="M290 606.5l6.5 6.5l-6.5 6.5l-6.5 -6.5z"/>
<path d="M360.6 564.5l6.5 6.5l-6.5 6.5l-6.5 -6.5z"/>
<path d="M316.9 589.9l6.5 6.5l-6.5 6.5l-6.5 -6.5z"/>
<path d="M326.2 580.9l6.5 6.5l-6.5 6.5l-6.5 -6.5z"/>
<path d="M356.7 562.4l6.5 6.5l-6.5 6.5l-6.5 -6.5z"/>
<path d="M299.2 592.4l6.5 6.5l-6.5 6.5l-6.5 -6.5z"/>
<path d="M366.3 570.5l6.5 6.5l-6.5 6.5l-6.5 -6.5z"/>
<path d="M351.9 573.7l6.5 6.5l-6.5 6.5l-6.5 -6.5z"/>
<path d="M341.4 567.7l6.5 6.5l-6.5 6.5l-6.5 -6.5z"/>
<path d="M315.1 589.9l6.5 6.5l-6.5 6.5l-6.5 -6.5z"/>
<path d="M337.4 570.8l6.5 6.5l-6.5 6.5l-6.5 -6.5z"/>
<path d="M346.6 562.3l6.5 6.5l-6.5 6.5l-6.5 -6.5z"/>
<path d="M293.9 605.1l6.5 6.5l-6.5 6.5l-6.5 -6.5z"/>
<path d="M315.7 593.4l6.5 6.5l-6.5 6.5l-6.5 -6.5z"/>
<path d="M348.9 566.8l6.5 6.5l-6.5 6.5l-6.5 -6.5z"/>
<path d="M311.1 589.4l6.5 6.5l-6.5 6.5l-6.5 -6.5z"/>
<path d="M296.6 599.7l6.5 6.5l-6.5 6.5l-6.5 -6.5z"/>
<path d="M304.2 591.7l6.5 6.5l-6.5 6.5l-6.5 -6.5z"/>
<path d="M320.3 592.1l6.5 6.5l-6.5 6.5l-6.5 -6.5z"/>
<path d="M338.5 568.2l6.5 6.5l-6.5 6.5l-6.5 -6.5z"/>
<path d="M332.3 569.3l6.5 6.5l-6.5 6.5l-6.5 -6.5z"/>
<path d="M317.9 590.3l6.5 6.5l-6.5 6.5l-6.5 -6.5z"/>
<path d="M302 593.8l6.5 6.5l-6.5 6.5l-6.5 -6.5z"/>
<path d="M314.8 591.2l6.5 6.5l-6.5 6.5l-6.5 -6.5z"/>
<path d="M307.2 603l6.5 6.5l-6.5 6.5l-6.5 -6.5z"/>
<path d="M303.2 595.2l6.5 6.5l-6.5 6.5l-6.5 -6.5z"/>
<path d="M294.2 608.9l6.5 6.5l-6.5 6.5l-6.5 -6.5z"/>
<path d="M322 600.3l6.5 6.5l-6.5 6.5l-6.5 -6.5z"/>
<path d="M340.1 574.2l6.5 6.5l-6.5 6.5l-6.5 -6.5z"/>
<path d="M328.5 591.8l6.5 6.5l-6.5 6.5l-6.5 -6.5z"/>
<path d="M341.3 565l6.5 6.5l-6.5 6.5l-6.5 -6.5z"/>
<path d="M310.4 592.8l6.5 6.5l-6.5 6.5l-6.5 -6.5z"/>
<path d="M336.8 580.9l6.5 6.5l-6.5 6.5l-6.5 -6.5z"/>
<path d="M321.1 576.6l6.5 6.5l-6.5 6.5l-6.5 -6.5z"/>
<path d="M319.8 598.5l6.5 6.5l-6.5 6.5l-6.5 -6.5z"/>
<path d="M296.8 594.7l6.5 6.5l-6.5 6.5l-6.5 -6.5z"/>
<path d="M341.1 573.7l6.5 6.5l-6.5 6.5l-6.5 -6.5z"/>
<path d="M356.3 550.5l6.5 6.5l-6.5 6.5l-6.5 -6.5z"/>
<path d="M355.5 562.6l6.5 6.5l-6.5 6.5l-6.5 -6.5z"/>
<path d="M322.1 601.9l6.5 6.5l-6.5 6.5l-6.5 -6.5z"/>
<path d="M320.4 591.3l6.5 6.5l-6.5 6.5l-6.5 -6.5z"/>
<path d="M319.2 587.2l6.5 6.5l-6.5 6.5l-6.5 -6.5z"/>
<path d="M336.1 574.9l6.5 6.5l-6.5 6.5l-6.5 -6.5z"/>
<path d="M351.6 570.5l6.5 6.5l-6.5 6.5l-6.5 -6.5z"/>
<path d="M335.3 575.9l6.5 6.5l-6.5 6.5l-6.5 -6.5z"/>
<path d="M348.5 553.9l6.5 6.5l-6.5 6.5l-6.5 -6.5z"/>
<path d="M360.5 567.5l6.5 6.5l-6.5 6.5l-6.5 -6.5z"/>
<path d="M319.5 571.4l6.5 6.5l-6.5 6.5l-6.5 -6.5z"/>
<path d="M334.4 560.8l6.5 6.5l-6.5 6.5l-6.5 -6.5z"/>
<path d="M337.8 572.8l6.5 6.5l-6.5 6.5l-6.5 -6.5z"/>
<path d="M320.6 583.7l6.5 6.5l-6.5 6.5l-6.5 -6.5z"/>
<path d="M297.4 598.1l6.5 6.5l-6.5 6.5l-6.5 -6.5z"/>
<path d="M319 588.4l6.5 6.5l-6.5 6.5l-6.5 -6.5z"/>
<path d="M297.4 603.8l6.5 6.5l-6.5 6.5l-6.5 -6.5z"/>
<path d="M323.9 584.6l6.5 6.5l-6.5 6.5l-6.5 -6.5z"/>
<path d="M336.2 573.4l6.5 6.5l-6.5 6.5l-6.5 -6.5z"/>
<path d="M295.6 598.4l6.5 6.5l-6.5 6.5l-6.5 -6.5z"/>
<path d="M323 584.7l6.5 6.5l-6.5 6.5l-6.5 -6.5z"/>
<path d="M339.9 566.8l6.5 6.5l-6.5 6.5l-6.5 -6.5z"/>
<path d="M345.9 572.6l6.5 6.5l-6.5 6.5l-6.5 -6.5z"/>
<path d="M295.7 597.8l6.5 6.5l-6.5 6.5l-6.5 -6.5z"/>
<path d="M356.3 570.7l6.5 6.5l-6.5 6.5l-6.5 -6.5z"/>
<path d="M362.4 556.6l6.5 6.5l-6.5 6.5l-6.5 -6.5z"/>
<path d="M318.2 598.8l6.5 6.5l-6.5 6.5l-6.5 -6.5z"/>
<path d="M343.2 573l6.5 6.5l-6.5 6.5l-6.5 -6.5z"/>
<path d="M314.2 588.1l6.5 6.5l-6.5 6.5l-6.5 -6.5z"/>
<path d="M356.4 555.1l6.5 6.5l-6.5 6.5l-6.5 -6.5z"/>
<path d="M354.6 570.9l6.5 6.5l-6.5 6.5l-6.5 -6.5z"/>
<path d="M310.9 593.8l6.5 6.5l-6.5 6.5l-6.5 -6.5z"/>
<path d="M315.1 590.1l6.5 6.5l-6.5 6.5l-6.5 -6.5z"/>
<path d="M301.3 597.7l6.5 6.5l-6.5 6.5l-6.5 -6.5z"/>
<path d="M294.2 609.8l6.5 6.5l-6.5 6.5l-6.5 -6.5z"/>
<path d="M351.7 569.1l6.5 6.5l-6.5 6.5l-6.5 -6.5z"/>
<path d="M335.2 584.9l6.5 6.5l-6.5 6.5l-6.5 -6.5z"/>
<path d="M355.8 567.7l6.5 6.5l-6.5 6.5l-6.5 -6.5z"/>
<path d="M298.8 593.9l6.5 6.5l-6.5 6.5l-6.5 -6.5z"/>
<path d="M353 577.6l6.5 6.5l-6.5 6.5l-6.5 -6.5z"/>
<path d="M317.7 598.6l6.5 6.5l-6.5 6.5l-6.5 -6.5z"/>
<path d="M309.7 596.1l6.5 6.5l-6.5 6.5l-6.5 -6.5z"/>
<path d="M352.1 571.6l6.5 6.5l-6.5 6.5l-6.5 -6.5z"/>
<path d="M368.7 542.5l6.5 6.5l-6.5 6.5l-6.5 -6.5z"/>
<path d="M419.5 520.9l6.5 6.5l-6.5 6.5l-6.5 -6.5z"/>
<path d="M364.6 545.2l6.5 6.5l-6.5 6.5l-6.5 -6.5z"/>
<path d="M418.8 514.5l6.5 6.5l-6.5 6.5l-6.5 -6.5z"/>
<path d="M361.1 555.4l6.5 6.5l-6.5 6.5l-6.5 -6.5z"/>
<path d="M366.3 550.5l6.5 6.5l-6.5 6.5l-6.5 -6.5z"/>
<path d="M411.6 520.1l6.5 6.5l-6.5 6.5l-6.5 -6.5z"/>
<path d="M366.2 554.1l6.5 6.5l-6.5 6.5l-6.5 -6.5z"/>
<path d="M399.5 528.1l6.5 6.5l-6.5 6.5l-6.5 -6.5z"/>
<path d="M421.5 512.4l6.5 6.5l-6.5 6.5l-6.5 -6.5z"/>
<path d="M382.5 544.3l6.5 6.5l-6.5 6.5l-6.5 -6.5z"/>
<path d="M409.8 525.7l6.5 6.5l-6.5 6.5l-6.5 -6.5z"/>
<path d="M367.6 549.4l6.5 6.5l-6.5 6.5l-6.5 -6.5z"/>
<path d="M362 559l6.5 6.5l-6.5 6.5l-6.5 -6.5z"/>
<path d="M395.8 537.3l6.5 6.5l-6.5 6.5l-6.5 -6.5z"/>
<path d="M363.2 553.6l6.5 6.5l-6.5 6.5l-6.5 -6.5z"/>
<path d="M361.2 556.4l6.5 6.5l-6.5 6.5l-6.5 -6.5z"/>
<path d="M370.1 550.7l6.5 6.5l-6.5 6.5l-6.5 -6.5z"/>
<path d="M412.6 516.8l6.5 6.5l-6.5 6.5l-6.5 -6.5z"/>
<path d="M407.2 518.8l6.5 6.5l-6.5 6.5l-6.5 -6.5z"/>
<path d="M402.3 524.5l6.5 6.5l-6.5 6.5l-6.5 -6.5z"/>
<path d="M416.9 509.3l6.5 6.5l-6.5 6.5l-6.5 -6.5z"/>
<path d="M370.9 542.7l6.5 6.5l-6.5 6.5l-6.5 -6.5z"/>
<path d="M387 526.3l6.5 6.5l-6.5 6.5l-6.5 -6.5z"/>
<path d="M376.7 550.7l6.5 6.5l-6.5 6.5l-6.5 -6.5z"/>
<path d="M405.3 519.3l6.5 6.5l-6.5 6.5l-6.5 -6.5z"/>
<path d="M374.7 550.3l6.5 6.5l-6.5 6.5l-6.5 -6.5z"/>
<path d="M396.9 525.4l6.5 6.5l-6.5 6.5l-6.5 -6.5z"/>
<path d="M362.1 552.2l6.5 6.5l-6.5 6.5l-6.5 -6.5z"/>
<path d="M391.6 528.9l6.5 6.5l-6.5 6.5l-6.5 -6.5z"/>
<path d="M423.9 513l6.5 6.5l-6.5 6.5l-6.5 -6.5z"/>
<path d="M383.6 537.5l6.5 6.5l-6.5 6.5l-6.5 -6.5z"/>
<path d="M370.5 542.6l6.5 6.5l-6.5 6.5l-6.5 -6.5z"/>
<path d="M403.7 525.6l6.5 6.5l-6.5 6.5l-6.5 -6.5z"/>
<path d="M397.5 532.5l6.5 6.5l-6.5 6.5l-6.5 -6.5z"/>
<path d="M380.6 541.8l6.5 6.5l-6.5 6.5l-6.5 -6.5z"/>
<path d="M362.2 561l6.5 6.5l-6.5 6.5l-6.5 -6.5z"/>
<path d="M368.3 550.6l6.5 6.5l-6.5 6.5l-6.5 -6.5z"/>
<path d="M379.8 544.7l6.5 6.5l-6.5 6.5l-6.5 -6.5z"/>
<path d="M407.8 519.8l6.5 6.5l-6.5 6.5l-6.5 -6.5z"/>
<path d="M364.5 547.1l6.5 6.5l-6.5 6.5l-6.5 -6.5z"/>
</g>
<g fill="#ec5b5f">
<circle cx="164.2" cy="701.1" r="5.7"/>
<circle cx="178.8" cy="674.7" r="5.7"/>
<circle cx="191.3" cy="689.1" r="5.7"/>
<circle cx="200.3" cy="689.1" r="5.7"/>
<circle cx="202" cy="703.2" r="5.7"/>
<circle cx="224.8" cy="698" r="5.7"/>
<circle cx="229.6" cy="676" r="5.7"/>
<circle cx="213.2" cy="670.3" r="5.7"/>
<circle cx="209" cy="661.3" r="5.7"/>
<circle cx="216.7" cy="656.6" r="5.7"/>
<circle cx="223.4" cy="647.7" r="5.7"/>
<circle cx="232" cy="660.8" r="5.7"/>
<circle cx="234.7" cy="651.8" r="5.7"/>
<circle cx="244.5" cy="649.1" r="5.7"/>
<circle cx="257.9" cy="658.4" r="5.7"/>
<circle cx="275.5" cy="668.8" r="5.7"/>
<circle cx="241.8" cy="624.9" r="5.7"/>
<circle cx="254.4" cy="623.1" r="5.7"/>
<circle cx="245.4" cy="635.7" r="5.7"/>
<circle cx="255.3" cy="638.4" r="5.7"/>
<circle cx="267.8" cy="629.8" r="5.7"/>
<circle cx="261.5" cy="636.6" r="5.7"/>
<circle cx="278.5" cy="634.8" r="5.7"/>
<circle cx="285.7" cy="632.6" r="5.7"/>
<circle cx="291.6" cy="631.6" r="5.7"/>
<circle cx="287.9" cy="649.1" r="5.7"/>
<circle cx="297.7" cy="643.2" r="5.7"/>
<circle cx="328.7" cy="648.2" r="5.7"/>
<circle cx="326" cy="622.2" r="5.7"/>
<circle cx="268.2" cy="602.5" r="5.7"/>
<circle cx="277.3" cy="609.7" r="5.7"/>
<circle cx="275.9" cy="615.1" r="5.7"/>
<circle cx="287.5" cy="593.9" r="5.7"/>
<circle cx="298.3" cy="599" r="5.7"/>
<circle cx="310.3" cy="596.3" r="5.7"/>
<circle cx="316.2" cy="599" r="5.7"/>
<circle cx="300.9" cy="608.8" r="5.7"/>
<circle cx="292" cy="614.2" r="5.7"/>
<circle cx="306.3" cy="609.7" r="5.7"/>
<circle cx="301.8" cy="617.8" r="5.7"/>
<circle cx="275" cy="590" r="5.7"/>
<circle cx="404.2" cy="519" r="5.7"/>
<circle cx="391.7" cy="531" r="5.7"/>
<circle cx="392.6" cy="545.3" r="5.7"/>
<circle cx="369.3" cy="549.8" r="5.7"/>
<circle cx="372.8" cy="559.7" r="5.7"/>
<circle cx="356.7" cy="559.7" r="5.7"/>
<circle cx="356.7" cy="569.5" r="5.7"/>
<circle cx="341.5" cy="568.6" r="5.7"/>
<circle cx="329" cy="576.7" r="5.7"/>
<circle cx="333.4" cy="582" r="5.7"/>
<circle cx="335.3" cy="572.6" r="5.7"/>
<circle cx="269" cy="560.9" r="5.7"/>
<circle cx="280.6" cy="582.4" r="5.7"/>
<circle cx="275.2" cy="586" r="5.7"/>
<circle cx="298.2" cy="584.2" r="5.7"/>
<circle cx="373.2" cy="611.1" r="5.7"/>
</g>
<line x1="93.5" y1="756.6" x2="544.5" y2="435.8" stroke="#000" stroke-width="2.5" stroke-dasharray="11.2 14.63" stroke-dashoffset="0.45" stroke-linecap="round"/>
<rect x="93.5" y="435.8" width="451" height="320.8" fill="none" stroke="#000" stroke-width="3.2"/>
<line x1="93.5" y1="756.6" x2="93.5" y2="761.2" stroke="#000" stroke-width="3.2"/>
<line x1="88.9" y1="756.6" x2="93.5" y2="756.6" stroke="#000" stroke-width="3.2"/>
<line x1="134.5" y1="756.6" x2="134.5" y2="765.1" stroke="#000" stroke-width="3.2"/>
<line x1="85" y1="727.44" x2="93.5" y2="727.44" stroke="#000" stroke-width="3.2"/>
<text transform="translate(134.5 792) scale(1 1.04)" font-size="27.6" text-anchor="middle" stroke="#000" stroke-width="0.4">-4</text>
<text transform="translate(79.2 736.34) scale(1 1.04)" font-size="27.6" text-anchor="end" stroke="#000" stroke-width="0.4">-4</text>
<line x1="175.5" y1="756.6" x2="175.5" y2="761.2" stroke="#000" stroke-width="3.2"/>
<line x1="88.9" y1="698.27" x2="93.5" y2="698.27" stroke="#000" stroke-width="3.2"/>
<line x1="216.5" y1="756.6" x2="216.5" y2="765.1" stroke="#000" stroke-width="3.2"/>
<line x1="85" y1="669.11" x2="93.5" y2="669.11" stroke="#000" stroke-width="3.2"/>
<text transform="translate(216.5 792) scale(1 1.04)" font-size="27.6" text-anchor="middle" stroke="#000" stroke-width="0.4">-3</text>
<text transform="translate(79.2 678.01) scale(1 1.04)" font-size="27.6" text-anchor="end" stroke="#000" stroke-width="0.4">-3</text>
<line x1="257.5" y1="756.6" x2="257.5" y2="761.2" stroke="#000" stroke-width="3.2"/>
<line x1="88.9" y1="639.95" x2="93.5" y2="639.95" stroke="#000" stroke-width="3.2"/>
<line x1="298.5" y1="756.6" x2="298.5" y2="765.1" stroke="#000" stroke-width="3.2"/>
<line x1="85" y1="610.78" x2="93.5" y2="610.78" stroke="#000" stroke-width="3.2"/>
<text transform="translate(298.5 792) scale(1 1.04)" font-size="27.6" text-anchor="middle" stroke="#000" stroke-width="0.4">-2</text>
<text transform="translate(79.2 619.68) scale(1 1.04)" font-size="27.6" text-anchor="end" stroke="#000" stroke-width="0.4">-2</text>
<line x1="339.5" y1="756.6" x2="339.5" y2="761.2" stroke="#000" stroke-width="3.2"/>
<line x1="88.9" y1="581.62" x2="93.5" y2="581.62" stroke="#000" stroke-width="3.2"/>
<line x1="380.5" y1="756.6" x2="380.5" y2="765.1" stroke="#000" stroke-width="3.2"/>
<line x1="85" y1="552.45" x2="93.5" y2="552.45" stroke="#000" stroke-width="3.2"/>
<text transform="translate(380.5 792) scale(1 1.04)" font-size="27.6" text-anchor="middle" stroke="#000" stroke-width="0.4">-1</text>
<text transform="translate(79.2 561.35) scale(1 1.04)" font-size="27.6" text-anchor="end" stroke="#000" stroke-width="0.4">-1</text>
<line x1="421.5" y1="756.6" x2="421.5" y2="761.2" stroke="#000" stroke-width="3.2"/>
<line x1="88.9" y1="523.29" x2="93.5" y2="523.29" stroke="#000" stroke-width="3.2"/>
<line x1="462.5" y1="756.6" x2="462.5" y2="765.1" stroke="#000" stroke-width="3.2"/>
<line x1="85" y1="494.13" x2="93.5" y2="494.13" stroke="#000" stroke-width="3.2"/>
<text transform="translate(462.5 792) scale(1 1.04)" font-size="27.6" text-anchor="middle" stroke="#000" stroke-width="0.4">0</text>
<text transform="translate(79.2 503.03) scale(1 1.04)" font-size="27.6" text-anchor="end" stroke="#000" stroke-width="0.4">0</text>
<line x1="503.5" y1="756.6" x2="503.5" y2="761.2" stroke="#000" stroke-width="3.2"/>
<line x1="88.9" y1="464.96" x2="93.5" y2="464.96" stroke="#000" stroke-width="3.2"/>
<line x1="544.5" y1="756.6" x2="544.5" y2="765.1" stroke="#000" stroke-width="3.2"/>
<line x1="85" y1="435.8" x2="93.5" y2="435.8" stroke="#000" stroke-width="3.2"/>
<text transform="translate(544.5 792) scale(1 1.04)" font-size="27.6" text-anchor="middle" stroke="#000" stroke-width="0.4">1</text>
<text transform="translate(79.2 444.7) scale(1 1.04)" font-size="27.6" text-anchor="end" stroke="#000" stroke-width="0.4">1</text>
<g fill="#6fa5d6"><path d="M117.6 454.9l6.6 6.6l-6.6 6.6l-6.6 -6.6z"/></g>
<circle cx="117.6" cy="494.6" r="5.8" fill="#ec5b5f"/>
<text transform="translate(139.5 468.2) scale(1 1.04)" font-size="27.2" stroke="#000" stroke-width="0.4">Training set</text>
<text transform="translate(139.5 501) scale(1 1.04)" font-size="27.2" stroke="#000" stroke-width="0.4">Testing set</text>
<text transform="translate(532.8 711) scale(1 1.04)" font-size="25.35" font-weight="bold" text-anchor="end">Training: 0.223 eV/atom</text>
<text transform="translate(529.9 743) scale(1 1.04)" font-size="25.35" font-weight="bold" text-anchor="end">Testing: 0.245 eV/atom</text>
<text transform="translate(157.3 843.6) scale(1 1.04)" font-size="37.1" font-weight="bold">E<tspan font-size="27.1" dy="8.4">pred-FCN</tspan><tspan dy="-8.4" dx="-3.8"> (eV/atom)</tspan></text>
<text transform="translate(41.5 721.6) rotate(-90) scale(0.9885 1.04)" font-size="37.1" font-weight="bold">E<tspan font-size="27.1" dy="8.4">targ</tspan><tspan dy="-8.4" dx="-2"> (eV/atom)</tspan></text>
<g fill="#6fa5d6">
<path d="M755.9 723.2l6.5 6.5l-6.5 6.5l-6.5 -6.5z"/>
<path d="M786.8 706.9l6.5 6.5l-6.5 6.5l-6.5 -6.5z"/>
<path d="M805 698.7l6.5 6.5l-6.5 6.5l-6.5 -6.5z"/>
<path d="M794.2 735l6.5 6.5l-6.5 6.5l-6.5 -6.5z"/>
<path d="M883.3 632.2l6.5 6.5l-6.5 6.5l-6.5 -6.5z"/>
<path d="M877.4 715.4l6.5 6.5l-6.5 6.5l-6.5 -6.5z"/>
<path d="M881.7 718.3l6.5 6.5l-6.5 6.5l-6.5 -6.5z"/>
<path d="M896.4 711.4l6.5 6.5l-6.5 6.5l-6.5 -6.5z"/>
<path d="M898.4 714.4l6.5 6.5l-6.5 6.5l-6.5 -6.5z"/>
<path d="M950.5 670.2l6.5 6.5l-6.5 6.5l-6.5 -6.5z"/>
<path d="M917.1 682.9l6.5 6.5l-6.5 6.5l-6.5 -6.5z"/>
<path d="M928.9 671.1l6.5 6.5l-6.5 6.5l-6.5 -6.5z"/>
<path d="M842.4 727.2l6.5 6.5l-6.5 6.5l-6.5 -6.5z"/>
<path d="M923 620l6.5 6.5l-6.5 6.5l-6.5 -6.5z"/>
<path d="M791.3 719.3l6.5 6.5l-6.5 6.5l-6.5 -6.5z"/>
<path d="M799.1 711.4l6.5 6.5l-6.5 6.5l-6.5 -6.5z"/>
<path d="M809 719.3l6.5 6.5l-6.5 6.5l-6.5 -6.5z"/>
<path d="M816.8 703.6l6.5 6.5l-6.5 6.5l-6.5 -6.5z"/>
<path d="M836.5 682l6.5 6.5l-6.5 6.5l-6.5 -6.5z"/>
<path d="M846.3 676.1l6.5 6.5l-6.5 6.5l-6.5 -6.5z"/>
<path d="M867.9 658.4l6.5 6.5l-6.5 6.5l-6.5 -6.5z"/>
<path d="M995.4 568.1l6.5 6.5l-6.5 6.5l-6.5 -6.5z"/>
<path d="M1072 555.4l6.5 6.5l-6.5 6.5l-6.5 -6.5z"/>
<path d="M1088.7 540.6l6.5 6.5l-6.5 6.5l-6.5 -6.5z"/>
<path d="M1146.7 480.7l6.5 6.5l-6.5 6.5l-6.5 -6.5z"/>
<path d="M1141.8 492.5l6.5 6.5l-6.5 6.5l-6.5 -6.5z"/>
<path d="M1131 495.4l6.5 6.5l-6.5 6.5l-6.5 -6.5z"/>
<path d="M1113.3 507.2l6.5 6.5l-6.5 6.5l-6.5 -6.5z"/>
<path d="M1119.2 514.1l6.5 6.5l-6.5 6.5l-6.5 -6.5z"/>
<path d="M1093.7 520l6.5 6.5l-6.5 6.5l-6.5 -6.5z"/>
<path d="M1101.5 525.9l6.5 6.5l-6.5 6.5l-6.5 -6.5z"/>
<path d="M846.1 714.1l6.5 6.5l-6.5 6.5l-6.5 -6.5z"/>
<path d="M808.7 716.5l6.5 6.5l-6.5 6.5l-6.5 -6.5z"/>
<path d="M849.4 690.3l6.5 6.5l-6.5 6.5l-6.5 -6.5z"/>
<path d="M913.1 643l6.5 6.5l-6.5 6.5l-6.5 -6.5z"/>
<path d="M848.1 718.9l6.5 6.5l-6.5 6.5l-6.5 -6.5z"/>
<path d="M962.2 640.4l6.5 6.5l-6.5 6.5l-6.5 -6.5z"/>
<path d="M834.9 709l6.5 6.5l-6.5 6.5l-6.5 -6.5z"/>
<path d="M905.5 655.8l6.5 6.5l-6.5 6.5l-6.5 -6.5z"/>
<path d="M901.4 658.6l6.5 6.5l-6.5 6.5l-6.5 -6.5z"/>
<path d="M1032.1 564.9l6.5 6.5l-6.5 6.5l-6.5 -6.5z"/>
<path d="M1037 567.3l6.5 6.5l-6.5 6.5l-6.5 -6.5z"/>
<path d="M1056 559.9l6.5 6.5l-6.5 6.5l-6.5 -6.5z"/>
<path d="M918.5 668.9l6.5 6.5l-6.5 6.5l-6.5 -6.5z"/>
<path d="M983.8 593.2l6.5 6.5l-6.5 6.5l-6.5 -6.5z"/>
<path d="M1019.8 577.4l6.5 6.5l-6.5 6.5l-6.5 -6.5z"/>
<path d="M1049.7 548.4l6.5 6.5l-6.5 6.5l-6.5 -6.5z"/>
<path d="M928.3 636.6l6.5 6.5l-6.5 6.5l-6.5 -6.5z"/>
<path d="M998.9 574.7l6.5 6.5l-6.5 6.5l-6.5 -6.5z"/>
<path d="M971.4 596.3l6.5 6.5l-6.5 6.5l-6.5 -6.5z"/>
<path d="M908.8 648.5l6.5 6.5l-6.5 6.5l-6.5 -6.5z"/>
<path d="M878.5 688.7l6.5 6.5l-6.5 6.5l-6.5 -6.5z"/>
<path d="M1049.4 568.6l6.5 6.5l-6.5 6.5l-6.5 -6.5z"/>
<path d="M831.2 694.5l6.5 6.5l-6.5 6.5l-6.5 -6.5z"/>
<path d="M1120.2 503.5l6.5 6.5l-6.5 6.5l-6.5 -6.5z"/>
<path d="M815 717.9l6.5 6.5l-6.5 6.5l-6.5 -6.5z"/>
<path d="M978.6 623.2l6.5 6.5l-6.5 6.5l-6.5 -6.5z"/>
<path d="M1025.8 570.7l6.5 6.5l-6.5 6.5l-6.5 -6.5z"/>
<path d="M851.6 693.2l6.5 6.5l-6.5 6.5l-6.5 -6.5z"/>
<path d="M1062.9 550.2l6.5 6.5l-6.5 6.5l-6.5 -6.5z"/>
<path d="M1015.5 569.3l6.5 6.5l-6.5 6.5l-6.5 -6.5z"/>
<path d="M1139.7 492.2l6.5 6.5l-6.5 6.5l-6.5 -6.5z"/>
<path d="M1114 516.8l6.5 6.5l-6.5 6.5l-6.5 -6.5z"/>
<path d="M819 722.7l6.5 6.5l-6.5 6.5l-6.5 -6.5z"/>
<path d="M883.3 665.3l6.5 6.5l-6.5 6.5l-6.5 -6.5z"/>
<path d="M880.9 677.7l6.5 6.5l-6.5 6.5l-6.5 -6.5z"/>
<path d="M836 719.9l6.5 6.5l-6.5 6.5l-6.5 -6.5z"/>
<path d="M988 581.8l6.5 6.5l-6.5 6.5l-6.5 -6.5z"/>
<path d="M907.8 665l6.5 6.5l-6.5 6.5l-6.5 -6.5z"/>
<path d="M794.2 719.9l6.5 6.5l-6.5 6.5l-6.5 -6.5z"/>
<path d="M1076.8 542.5l6.5 6.5l-6.5 6.5l-6.5 -6.5z"/>
<path d="M952.9 640.4l6.5 6.5l-6.5 6.5l-6.5 -6.5z"/>
<path d="M954.5 648.4l6.5 6.5l-6.5 6.5l-6.5 -6.5z"/>
<path d="M858.5 711.3l6.5 6.5l-6.5 6.5l-6.5 -6.5z"/>
<path d="M809.3 712.7l6.5 6.5l-6.5 6.5l-6.5 -6.5z"/>
<path d="M808.3 725.3l6.5 6.5l-6.5 6.5l-6.5 -6.5z"/>
<path d="M966.3 594.9l6.5 6.5l-6.5 6.5l-6.5 -6.5z"/>
<path d="M997.8 589.2l6.5 6.5l-6.5 6.5l-6.5 -6.5z"/>
<path d="M852 690.2l6.5 6.5l-6.5 6.5l-6.5 -6.5z"/>
<path d="M924.1 623.6l6.5 6.5l-6.5 6.5l-6.5 -6.5z"/>
<path d="M836.3 694.7l6.5 6.5l-6.5 6.5l-6.5 -6.5z"/>
<path d="M870.5 683.8l6.5 6.5l-6.5 6.5l-6.5 -6.5z"/>
<path d="M840.9 707.8l6.5 6.5l-6.5 6.5l-6.5 -6.5z"/>
<path d="M1089.3 527.1l6.5 6.5l-6.5 6.5l-6.5 -6.5z"/>
<path d="M824.4 696.5l6.5 6.5l-6.5 6.5l-6.5 -6.5z"/>
<path d="M950 636.4l6.5 6.5l-6.5 6.5l-6.5 -6.5z"/>
<path d="M942.4 643.4l6.5 6.5l-6.5 6.5l-6.5 -6.5z"/>
<path d="M798 711.5l6.5 6.5l-6.5 6.5l-6.5 -6.5z"/>
<path d="M943 625.2l6.5 6.5l-6.5 6.5l-6.5 -6.5z"/>
<path d="M913.3 646.9l6.5 6.5l-6.5 6.5l-6.5 -6.5z"/>
<path d="M907 678.2l6.5 6.5l-6.5 6.5l-6.5 -6.5z"/>
<path d="M893.9 649.6l6.5 6.5l-6.5 6.5l-6.5 -6.5z"/>
<path d="M991.4 605.4l6.5 6.5l-6.5 6.5l-6.5 -6.5z"/>
<path d="M903.4 645.2l6.5 6.5l-6.5 6.5l-6.5 -6.5z"/>
<path d="M975.2 592.8l6.5 6.5l-6.5 6.5l-6.5 -6.5z"/>
<path d="M873.2 694.2l6.5 6.5l-6.5 6.5l-6.5 -6.5z"/>
<path d="M880.4 668.7l6.5 6.5l-6.5 6.5l-6.5 -6.5z"/>
<path d="M1083.4 539l6.5 6.5l-6.5 6.5l-6.5 -6.5z"/>
<path d="M905.8 673.4l6.5 6.5l-6.5 6.5l-6.5 -6.5z"/>
<path d="M881.2 681.5l6.5 6.5l-6.5 6.5l-6.5 -6.5z"/>
<path d="M910.3 641l6.5 6.5l-6.5 6.5l-6.5 -6.5z"/>
<path d="M990.1 587.3l6.5 6.5l-6.5 6.5l-6.5 -6.5z"/>
<path d="M862.7 692.3l6.5 6.5l-6.5 6.5l-6.5 -6.5z"/>
<path d="M919.5 653.9l6.5 6.5l-6.5 6.5l-6.5 -6.5z"/>
<path d="M1100.1 522.8l6.5 6.5l-6.5 6.5l-6.5 -6.5z"/>
<path d="M1086.4 540.2l6.5 6.5l-6.5 6.5l-6.5 -6.5z"/>
<path d="M853.4 673.4l6.5 6.5l-6.5 6.5l-6.5 -6.5z"/>
<path d="M819.8 699.3l6.5 6.5l-6.5 6.5l-6.5 -6.5z"/>
<path d="M976.8 608.8l6.5 6.5l-6.5 6.5l-6.5 -6.5z"/>
<path d="M885 654.2l6.5 6.5l-6.5 6.5l-6.5 -6.5z"/>
<path d="M846.3 681l6.5 6.5l-6.5 6.5l-6.5 -6.5z"/>
<path d="M987.6 597.8l6.5 6.5l-6.5 6.5l-6.5 -6.5z"/>
<path d="M871 666l6.5 6.5l-6.5 6.5l-6.5 -6.5z"/>
<path d="M847.7 712.1l6.5 6.5l-6.5 6.5l-6.5 -6.5z"/>
<path d="M1077 535l6.5 6.5l-6.5 6.5l-6.5 -6.5z"/>
<path d="M1053.3 543.5l6.5 6.5l-6.5 6.5l-6.5 -6.5z"/>
<path d="M863.2 671l6.5 6.5l-6.5 6.5l-6.5 -6.5z"/>
<path d="M909 680.2l6.5 6.5l-6.5 6.5l-6.5 -6.5z"/>
<path d="M876.3 689.2l6.5 6.5l-6.5 6.5l-6.5 -6.5z"/>
<path d="M894.3 654.4l6.5 6.5l-6.5 6.5l-6.5 -6.5z"/>
<path d="M1002.4 582.9l6.5 6.5l-6.5 6.5l-6.5 -6.5z"/>
<path d="M1070.3 541.6l6.5 6.5l-6.5 6.5l-6.5 -6.5z"/>
<path d="M860.9 706.8l6.5 6.5l-6.5 6.5l-6.5 -6.5z"/>
<path d="M1065.3 551.5l6.5 6.5l-6.5 6.5l-6.5 -6.5z"/>
<path d="M857.1 678.1l6.5 6.5l-6.5 6.5l-6.5 -6.5z"/>
<path d="M855.6 680.6l6.5 6.5l-6.5 6.5l-6.5 -6.5z"/>
<path d="M924.8 649.6l6.5 6.5l-6.5 6.5l-6.5 -6.5z"/>
<path d="M843.1 708.7l6.5 6.5l-6.5 6.5l-6.5 -6.5z"/>
<path d="M922.5 634.3l6.5 6.5l-6.5 6.5l-6.5 -6.5z"/>
<path d="M933.3 626.8l6.5 6.5l-6.5 6.5l-6.5 -6.5z"/>
<path d="M844.2 687.1l6.5 6.5l-6.5 6.5l-6.5 -6.5z"/>
<path d="M1067.5 552.2l6.5 6.5l-6.5 6.5l-6.5 -6.5z"/>
<path d="M1032.9 567.6l6.5 6.5l-6.5 6.5l-6.5 -6.5z"/>
<path d="M876.5 671.5l6.5 6.5l-6.5 6.5l-6.5 -6.5z"/>
<path d="M1023.9 574.6l6.5 6.5l-6.5 6.5l-6.5 -6.5z"/>
<path d="M865.6 672.3l6.5 6.5l-6.5 6.5l-6.5 -6.5z"/>
<path d="M933.8 648.3l6.5 6.5l-6.5 6.5l-6.5 -6.5z"/>
<path d="M1075.5 540.2l6.5 6.5l-6.5 6.5l-6.5 -6.5z"/>
<path d="M958.7 640l6.5 6.5l-6.5 6.5l-6.5 -6.5z"/>
<path d="M1058.6 552.1l6.5 6.5l-6.5 6.5l-6.5 -6.5z"/>
<path d="M878.5 670.1l6.5 6.5l-6.5 6.5l-6.5 -6.5z"/>
<path d="M1023.6 584l6.5 6.5l-6.5 6.5l-6.5 -6.5z"/>
<path d="M851.4 688l6.5 6.5l-6.5 6.5l-6.5 -6.5z"/>
<path d="M1055.4 551.5l6.5 6.5l-6.5 6.5l-6.5 -6.5z"/>
<path d="M1037.9 574.8l6.5 6.5l-6.5 6.5l-6.5 -6.5z"/>
<path d="M933.8 640.1l6.5 6.5l-6.5 6.5l-6.5 -6.5z"/>
<path d="M992.8 600.8l6.5 6.5l-6.5 6.5l-6.5 -6.5z"/>
<path d="M924.7 632l6.5 6.5l-6.5 6.5l-6.5 -6.5z"/>
<path d="M906.7 639.4l6.5 6.5l-6.5 6.5l-6.5 -6.5z"/>
<path d="M1020.2 564.2l6.5 6.5l-6.5 6.5l-6.5 -6.5z"/>
<path d="M827.7 703.8l6.5 6.5l-6.5 6.5l-6.5 -6.5z"/>
<path d="M955.8 646.3l6.5 6.5l-6.5 6.5l-6.5 -6.5z"/>
<path d="M896.2 657.1l6.5 6.5l-6.5 6.5l-6.5 -6.5z"/>
<path d="M942.9 646.6l6.5 6.5l-6.5 6.5l-6.5 -6.5z"/>
<path d="M984.2 608.5l6.5 6.5l-6.5 6.5l-6.5 -6.5z"/>
<path d="M1006 570.4l6.5 6.5l-6.5 6.5l-6.5 -6.5z"/>
<path d="M867.1 675.3l6.5 6.5l-6.5 6.5l-6.5 -6.5z"/>
<path d="M870.4 688.5l6.5 6.5l-6.5 6.5l-6.5 -6.5z"/>
<path d="M1045.6 561.9l6.5 6.5l-6.5 6.5l-6.5 -6.5z"/>
<path d="M1010 583.1l6.5 6.5l-6.5 6.5l-6.5 -6.5z"/>
<path d="M914.6 679.4l6.5 6.5l-6.5 6.5l-6.5 -6.5z"/>
<path d="M957.8 604.1l6.5 6.5l-6.5 6.5l-6.5 -6.5z"/>
<path d="M961.1 638.3l6.5 6.5l-6.5 6.5l-6.5 -6.5z"/>
<path d="M938.1 641.1l6.5 6.5l-6.5 6.5l-6.5 -6.5z"/>
<path d="M895.3 681l6.5 6.5l-6.5 6.5l-6.5 -6.5z"/>
<path d="M954.8 623.4l6.5 6.5l-6.5 6.5l-6.5 -6.5z"/>
<path d="M872 670l6.5 6.5l-6.5 6.5l-6.5 -6.5z"/>
<path d="M867.5 697.7l6.5 6.5l-6.5 6.5l-6.5 -6.5z"/>
<path d="M965 626l6.5 6.5l-6.5 6.5l-6.5 -6.5z"/>
<path d="M1093 524l6.5 6.5l-6.5 6.5l-6.5 -6.5z"/>
<path d="M934.9 642.3l6.5 6.5l-6.5 6.5l-6.5 -6.5z"/>
<path d="M1001.8 587.4l6.5 6.5l-6.5 6.5l-6.5 -6.5z"/>
<path d="M912.9 674.4l6.5 6.5l-6.5 6.5l-6.5 -6.5z"/>
<path d="M929.5 657.3l6.5 6.5l-6.5 6.5l-6.5 -6.5z"/>
<path d="M880.9 660.7l6.5 6.5l-6.5 6.5l-6.5 -6.5z"/>
<path d="M1048.8 565.1l6.5 6.5l-6.5 6.5l-6.5 -6.5z"/>
<path d="M1094.6 528.7l6.5 6.5l-6.5 6.5l-6.5 -6.5z"/>
<path d="M1064.7 539.4l6.5 6.5l-6.5 6.5l-6.5 -6.5z"/>
<path d="M983.3 587.4l6.5 6.5l-6.5 6.5l-6.5 -6.5z"/>
<path d="M928.8 664.4l6.5 6.5l-6.5 6.5l-6.5 -6.5z"/>
<path d="M965.8 607.2l6.5 6.5l-6.5 6.5l-6.5 -6.5z"/>
<path d="M1026.3 581.2l6.5 6.5l-6.5 6.5l-6.5 -6.5z"/>
<path d="M915.6 643.9l6.5 6.5l-6.5 6.5l-6.5 -6.5z"/>
<path d="M839.3 702.7l6.5 6.5l-6.5 6.5l-6.5 -6.5z"/>
<path d="M1052.7 551.8l6.5 6.5l-6.5 6.5l-6.5 -6.5z"/>
<path d="M865.7 687.1l6.5 6.5l-6.5 6.5l-6.5 -6.5z"/>
<path d="M800.7 719.1l6.5 6.5l-6.5 6.5l-6.5 -6.5z"/>
<path d="M962.3 646.3l6.5 6.5l-6.5 6.5l-6.5 -6.5z"/>
<path d="M986.5 613l6.5 6.5l-6.5 6.5l-6.5 -6.5z"/>
<path d="M1068.1 557.5l6.5 6.5l-6.5 6.5l-6.5 -6.5z"/>
<path d="M951.5 616.9l6.5 6.5l-6.5 6.5l-6.5 -6.5z"/>
<path d="M802.5 728.9l6.5 6.5l-6.5 6.5l-6.5 -6.5z"/>
<path d="M969.4 602.6l6.5 6.5l-6.5 6.5l-6.5 -6.5z"/>
<path d="M1089.1 529.7l6.5 6.5l-6.5 6.5l-6.5 -6.5z"/>
<path d="M941.2 629.9l6.5 6.5l-6.5 6.5l-6.5 -6.5z"/>
<path d="M841.2 718.7l6.5 6.5l-6.5 6.5l-6.5 -6.5z"/>
<path d="M963.2 600.3l6.5 6.5l-6.5 6.5l-6.5 -6.5z"/>
<path d="M860.4 674.1l6.5 6.5l-6.5 6.5l-6.5 -6.5z"/>
<path d="M889.1 679.6l6.5 6.5l-6.5 6.5l-6.5 -6.5z"/>
<path d="M802 731.3l6.5 6.5l-6.5 6.5l-6.5 -6.5z"/>
<path d="M1073.4 538.1l6.5 6.5l-6.5 6.5l-6.5 -6.5z"/>
<path d="M1120.1 509.4l6.5 6.5l-6.5 6.5l-6.5 -6.5z"/>
<path d="M798 722.6l6.5 6.5l-6.5 6.5l-6.5 -6.5z"/>
<path d="M975 627.7l6.5 6.5l-6.5 6.5l-6.5 -6.5z"/>
<path d="M886.1 669.1l6.5 6.5l-6.5 6.5l-6.5 -6.5z"/>
<path d="M1134 497.5l6.5 6.5l-6.5 6.5l-6.5 -6.5z"/>
<path d="M796.6 729.5l6.5 6.5l-6.5 6.5l-6.5 -6.5z"/>
<path d="M1038.5 577.6l6.5 6.5l-6.5 6.5l-6.5 -6.5z"/>
<path d="M833 719.2l6.5 6.5l-6.5 6.5l-6.5 -6.5z"/>
<path d="M1077.2 528.9l6.5 6.5l-6.5 6.5l-6.5 -6.5z"/>
<path d="M1067.2 539l6.5 6.5l-6.5 6.5l-6.5 -6.5z"/>
<path d="M1006.8 577.6l6.5 6.5l-6.5 6.5l-6.5 -6.5z"/>
<path d="M1038.1 559.7l6.5 6.5l-6.5 6.5l-6.5 -6.5z"/>
<path d="M951.1 631.6l6.5 6.5l-6.5 6.5l-6.5 -6.5z"/>
<path d="M891 672.5l6.5 6.5l-6.5 6.5l-6.5 -6.5z"/>
<path d="M869.8 701l6.5 6.5l-6.5 6.5l-6.5 -6.5z"/>
<path d="M872 696.5l6.5 6.5l-6.5 6.5l-6.5 -6.5z"/>
<path d="M1029.3 565.2l6.5 6.5l-6.5 6.5l-6.5 -6.5z"/>
<path d="M1081.6 528.7l6.5 6.5l-6.5 6.5l-6.5 -6.5z"/>
<path d="M849.6 697.5l6.5 6.5l-6.5 6.5l-6.5 -6.5z"/>
<path d="M960.9 611.2l6.5 6.5l-6.5 6.5l-6.5 -6.5z"/>
<path d="M911.3 664l6.5 6.5l-6.5 6.5l-6.5 -6.5z"/>
<path d="M1137.5 495l6.5 6.5l-6.5 6.5l-6.5 -6.5z"/>
<path d="M907 660l6.5 6.5l-6.5 6.5l-6.5 -6.5z"/>
<path d="M850 708.1l6.5 6.5l-6.5 6.5l-6.5 -6.5z"/>
<path d="M965.2 638.5l6.5 6.5l-6.5 6.5l-6.5 -6.5z"/>
<path d="M1058.2 555.8l6.5 6.5l-6.5 6.5l-6.5 -6.5z"/>
<path d="M1007.3 575.2l6.5 6.5l-6.5 6.5l-6.5 -6.5z"/>
<path d="M949.7 648.7l6.5 6.5l-6.5 6.5l-6.5 -6.5z"/>
<path d="M960 630.1l6.5 6.5l-6.5 6.5l-6.5 -6.5z"/>
<path d="M1101.5 520.3l6.5 6.5l-6.5 6.5l-6.5 -6.5z"/>
<path d="M808.2 718.9l6.5 6.5l-6.5 6.5l-6.5 -6.5z"/>
<path d="M955.5 616.8l6.5 6.5l-6.5 6.5l-6.5 -6.5z"/>
<path d="M834.6 701.1l6.5 6.5l-6.5 6.5l-6.5 -6.5z"/>
<path d="M1100.3 526.9l6.5 6.5l-6.5 6.5l-6.5 -6.5z"/>
<path d="M945 623.3l6.5 6.5l-6.5 6.5l-6.5 -6.5z"/>
<path d="M903.9 650.2l6.5 6.5l-6.5 6.5l-6.5 -6.5z"/>
<path d="M888.2 657.3l6.5 6.5l-6.5 6.5l-6.5 -6.5z"/>
<path d="M968 589.7l6.5 6.5l-6.5 6.5l-6.5 -6.5z"/>
<path d="M858.3 689.7l6.5 6.5l-6.5 6.5l-6.5 -6.5z"/>
<path d="M939.4 637.2l6.5 6.5l-6.5 6.5l-6.5 -6.5z"/>
<path d="M1071.5 548l6.5 6.5l-6.5 6.5l-6.5 -6.5z"/>
<path d="M971.3 605.2l6.5 6.5l-6.5 6.5l-6.5 -6.5z"/>
<path d="M823.7 700.8l6.5 6.5l-6.5 6.5l-6.5 -6.5z"/>
<path d="M875.5 694.8l6.5 6.5l-6.5 6.5l-6.5 -6.5z"/>
<path d="M824.2 692.5l6.5 6.5l-6.5 6.5l-6.5 -6.5z"/>
<path d="M1001.2 585.2l6.5 6.5l-6.5 6.5l-6.5 -6.5z"/>
<path d="M908.5 645.3l6.5 6.5l-6.5 6.5l-6.5 -6.5z"/>
<path d="M957.6 628.5l6.5 6.5l-6.5 6.5l-6.5 -6.5z"/>
<path d="M932 628.8l6.5 6.5l-6.5 6.5l-6.5 -6.5z"/>
<path d="M992.4 608.3l6.5 6.5l-6.5 6.5l-6.5 -6.5z"/>
<path d="M972.3 618.1l6.5 6.5l-6.5 6.5l-6.5 -6.5z"/>
<path d="M953.8 643.5l6.5 6.5l-6.5 6.5l-6.5 -6.5z"/>
<path d="M955 639.1l6.5 6.5l-6.5 6.5l-6.5 -6.5z"/>
<path d="M924.1 664l6.5 6.5l-6.5 6.5l-6.5 -6.5z"/>
<path d="M1073.9 541.8l6.5 6.5l-6.5 6.5l-6.5 -6.5z"/>
<path d="M1040.7 556.3l6.5 6.5l-6.5 6.5l-6.5 -6.5z"/>
<path d="M875.5 684.6l6.5 6.5l-6.5 6.5l-6.5 -6.5z"/>
<path d="M898.2 681.2l6.5 6.5l-6.5 6.5l-6.5 -6.5z"/>
<path d="M1028.1 583l6.5 6.5l-6.5 6.5l-6.5 -6.5z"/>
<path d="M872.6 674.3l6.5 6.5l-6.5 6.5l-6.5 -6.5z"/>
<path d="M997.9 596.7l6.5 6.5l-6.5 6.5l-6.5 -6.5z"/>
<path d="M921.6 641.2l6.5 6.5l-6.5 6.5l-6.5 -6.5z"/>
<path d="M859.8 700.7l6.5 6.5l-6.5 6.5l-6.5 -6.5z"/>
<path d="M817.1 702.9l6.5 6.5l-6.5 6.5l-6.5 -6.5z"/>
<path d="M794.6 727.8l6.5 6.5l-6.5 6.5l-6.5 -6.5z"/>
<path d="M869.6 677l6.5 6.5l-6.5 6.5l-6.5 -6.5z"/>
<path d="M939.1 622.8l6.5 6.5l-6.5 6.5l-6.5 -6.5z"/>
<path d="M956.4 608.1l6.5 6.5l-6.5 6.5l-6.5 -6.5z"/>
<path d="M935.3 636.3l6.5 6.5l-6.5 6.5l-6.5 -6.5z"/>
<path d="M965 596.9l6.5 6.5l-6.5 6.5l-6.5 -6.5z"/>
<path d="M844.4 722.1l6.5 6.5l-6.5 6.5l-6.5 -6.5z"/>
<path d="M920.3 661.6l6.5 6.5l-6.5 6.5l-6.5 -6.5z"/>
<path d="M1062.5 555.5l6.5 6.5l-6.5 6.5l-6.5 -6.5z"/>
<path d="M871 662.9l6.5 6.5l-6.5 6.5l-6.5 -6.5z"/>
<path d="M893.2 664.8l6.5 6.5l-6.5 6.5l-6.5 -6.5z"/>
<path d="M843.7 703l6.5 6.5l-6.5 6.5l-6.5 -6.5z"/>
<path d="M940.3 651.1l6.5 6.5l-6.5 6.5l-6.5 -6.5z"/>
<path d="M814.3 702.4l6.5 6.5l-6.5 6.5l-6.5 -6.5z"/>
<path d="M993.5 592l6.5 6.5l-6.5 6.5l-6.5 -6.5z"/>
<path d="M924 637.7l6.5 6.5l-6.5 6.5l-6.5 -6.5z"/>
<path d="M994.7 587.1l6.5 6.5l-6.5 6.5l-6.5 -6.5z"/>
<path d="M1073.3 531.6l6.5 6.5l-6.5 6.5l-6.5 -6.5z"/>
<path d="M1064.5 546.9l6.5 6.5l-6.5 6.5l-6.5 -6.5z"/>
<path d="M968.4 622l6.5 6.5l-6.5 6.5l-6.5 -6.5z"/>
<path d="M1076.3 537.6l6.5 6.5l-6.5 6.5l-6.5 -6.5z"/>
<path d="M856.3 673l6.5 6.5l-6.5 6.5l-6.5 -6.5z"/>
<path d="M1108.5 518.7l6.5 6.5l-6.5 6.5l-6.5 -6.5z"/>
<path d="M912.4 669.6l6.5 6.5l-6.5 6.5l-6.5 -6.5z"/>
<path d="M815 723.3l6.5 6.5l-6.5 6.5l-6.5 -6.5z"/>
<path d="M973.2 622.8l6.5 6.5l-6.5 6.5l-6.5 -6.5z"/>
<path d="M868.2 671.3l6.5 6.5l-6.5 6.5l-6.5 -6.5z"/>
<path d="M878.8 682.2l6.5 6.5l-6.5 6.5l-6.5 -6.5z"/>
<path d="M843.2 715.3l6.5 6.5l-6.5 6.5l-6.5 -6.5z"/>
<path d="M1076 548.8l6.5 6.5l-6.5 6.5l-6.5 -6.5z"/>
<path d="M823.3 722.1l6.5 6.5l-6.5 6.5l-6.5 -6.5z"/>
<path d="M1062.4 558.9l6.5 6.5l-6.5 6.5l-6.5 -6.5z"/>
<path d="M878 661.3l6.5 6.5l-6.5 6.5l-6.5 -6.5z"/>
<path d="M923.1 627.9l6.5 6.5l-6.5 6.5l-6.5 -6.5z"/>
<path d="M963.1 620.8l6.5 6.5l-6.5 6.5l-6.5 -6.5z"/>
<path d="M966.4 620.8l6.5 6.5l-6.5 6.5l-6.5 -6.5z"/>
<path d="M924.9 646.9l6.5 6.5l-6.5 6.5l-6.5 -6.5z"/>
<path d="M877.9 677.6l6.5 6.5l-6.5 6.5l-6.5 -6.5z"/>
<path d="M897 675l6.5 6.5l-6.5 6.5l-6.5 -6.5z"/>
<path d="M843.5 711.6l6.5 6.5l-6.5 6.5l-6.5 -6.5z"/>
<path d="M942.3 638.5l6.5 6.5l-6.5 6.5l-6.5 -6.5z"/>
<path d="M1113.7 509.5l6.5 6.5l-6.5 6.5l-6.5 -6.5z"/>
<path d="M1038 580.9l6.5 6.5l-6.5 6.5l-6.5 -6.5z"/>
<path d="M903.2 663.1l6.5 6.5l-6.5 6.5l-6.5 -6.5z"/>
<path d="M903.9 676l6.5 6.5l-6.5 6.5l-6.5 -6.5z"/>
<path d="M916.7 660.1l6.5 6.5l-6.5 6.5l-6.5 -6.5z"/>
<path d="M990.6 580.5l6.5 6.5l-6.5 6.5l-6.5 -6.5z"/>
<path d="M997.3 592.5l6.5 6.5l-6.5 6.5l-6.5 -6.5z"/>
<path d="M820.5 715.9l6.5 6.5l-6.5 6.5l-6.5 -6.5z"/>
<path d="M836.3 681.5l6.5 6.5l-6.5 6.5l-6.5 -6.5z"/>
<path d="M863.2 689.8l6.5 6.5l-6.5 6.5l-6.5 -6.5z"/>
<path d="M1090.4 521.4l6.5 6.5l-6.5 6.5l-6.5 -6.5z"/>
<path d="M804.1 726.2l6.5 6.5l-6.5 6.5l-6.5 -6.5z"/>
<path d="M986 621.9l6.5 6.5l-6.5 6.5l-6.5 -6.5z"/>
<path d="M1018.4 585.5l6.5 6.5l-6.5 6.5l-6.5 -6.5z"/>
<path d="M888.1 666.2l6.5 6.5l-6.5 6.5l-6.5 -6.5z"/>
<path d="M1009.5 571.5l6.5 6.5l-6.5 6.5l-6.5 -6.5z"/>
<path d="M1065.4 554.5l6.5 6.5l-6.5 6.5l-6.5 -6.5z"/>
<path d="M1044.8 554.5l6.5 6.5l-6.5 6.5l-6.5 -6.5z"/>
<path d="M965.1 614.3l6.5 6.5l-6.5 6.5l-6.5 -6.5z"/>
<path d="M981.4 626.8l6.5 6.5l-6.5 6.5l-6.5 -6.5z"/>
<path d="M800 713.7l6.5 6.5l-6.5 6.5l-6.5 -6.5z"/>
<path d="M949.6 652.3l6.5 6.5l-6.5 6.5l-6.5 -6.5z"/>
<path d="M860.5 688.8l6.5 6.5l-6.5 6.5l-6.5 -6.5z"/>
<path d="M925.5 652l6.5 6.5l-6.5 6.5l-6.5 -6.5z"/>
<path d="M1111.4 515.9l6.5 6.5l-6.5 6.5l-6.5 -6.5z"/>
<path d="M907.3 657l6.5 6.5l-6.5 6.5l-6.5 -6.5z"/>
<path d="M911 654.5l6.5 6.5l-6.5 6.5l-6.5 -6.5z"/>
<path d="M841.7 709.2l6.5 6.5l-6.5 6.5l-6.5 -6.5z"/>
<path d="M855.7 698.8l6.5 6.5l-6.5 6.5l-6.5 -6.5z"/>
<path d="M901.7 661.9l6.5 6.5l-6.5 6.5l-6.5 -6.5z"/>
<path d="M856.6 704.8l6.5 6.5l-6.5 6.5l-6.5 -6.5z"/>
<path d="M879.2 684.1l6.5 6.5l-6.5 6.5l-6.5 -6.5z"/>
<path d="M902.3 656.3l6.5 6.5l-6.5 6.5l-6.5 -6.5z"/>
<path d="M890.1 679.5l6.5 6.5l-6.5 6.5l-6.5 -6.5z"/>
<path d="M876.2 682l6.5 6.5l-6.5 6.5l-6.5 -6.5z"/>
<path d="M851.9 699.9l6.5 6.5l-6.5 6.5l-6.5 -6.5z"/>
<path d="M878.7 686.8l6.5 6.5l-6.5 6.5l-6.5 -6.5z"/>
<path d="M906.2 659.2l6.5 6.5l-6.5 6.5l-6.5 -6.5z"/>
<path d="M866.7 673.2l6.5 6.5l-6.5 6.5l-6.5 -6.5z"/>
<path d="M882.6 670.7l6.5 6.5l-6.5 6.5l-6.5 -6.5z"/>
<path d="M905.5 654.7l6.5 6.5l-6.5 6.5l-6.5 -6.5z"/>
<path d="M851.4 699l6.5 6.5l-6.5 6.5l-6.5 -6.5z"/>
<path d="M874.2 667.8l6.5 6.5l-6.5 6.5l-6.5 -6.5z"/>
<path d="M837 710.4l6.5 6.5l-6.5 6.5l-6.5 -6.5z"/>
<path d="M835.5 700.4l6.5 6.5l-6.5 6.5l-6.5 -6.5z"/>
<path d="M826.3 712.9l6.5 6.5l-6.5 6.5l-6.5 -6.5z"/>
<path d="M903.9 658.4l6.5 6.5l-6.5 6.5l-6.5 -6.5z"/>
<path d="M864.5 681.3l6.5 6.5l-6.5 6.5l-6.5 -6.5z"/>
<path d="M880.5 674.8l6.5 6.5l-6.5 6.5l-6.5 -6.5z"/>
<path d="M902.4 657.9l6.5 6.5l-6.5 6.5l-6.5 -6.5z"/>
<path d="M876.3 683.5l6.5 6.5l-6.5 6.5l-6.5 -6.5z"/>
<path d="M846.1 694.4l6.5 6.5l-6.5 6.5l-6.5 -6.5z"/>
<path d="M859 687l6.5 6.5l-6.5 6.5l-6.5 -6.5z"/>
<path d="M880.8 672.9l6.5 6.5l-6.5 6.5l-6.5 -6.5z"/>
<path d="M910.2 653.8l6.5 6.5l-6.5 6.5l-6.5 -6.5z"/>
<path d="M851.6 691.1l6.5 6.5l-6.5 6.5l-6.5 -6.5z"/>
<path d="M905.6 659.8l6.5 6.5l-6.5 6.5l-6.5 -6.5z"/>
<path d="M903.8 653.2l6.5 6.5l-6.5 6.5l-6.5 -6.5z"/>
<path d="M831 710.5l6.5 6.5l-6.5 6.5l-6.5 -6.5z"/>
<path d="M903 662.6l6.5 6.5l-6.5 6.5l-6.5 -6.5z"/>
<path d="M856.3 698.9l6.5 6.5l-6.5 6.5l-6.5 -6.5z"/>
<path d="M850.5 694.7l6.5 6.5l-6.5 6.5l-6.5 -6.5z"/>
<path d="M827.3 716.4l6.5 6.5l-6.5 6.5l-6.5 -6.5z"/>
<path d="M870.9 684.6l6.5 6.5l-6.5 6.5l-6.5 -6.5z"/>
<path d="M836.8 699.1l6.5 6.5l-6.5 6.5l-6.5 -6.5z"/>
<path d="M886.3 676.7l6.5 6.5l-6.5 6.5l-6.5 -6.5z"/>
<path d="M896.4 665.9l6.5 6.5l-6.5 6.5l-6.5 -6.5z"/>
<path d="M898.8 652l6.5 6.5l-6.5 6.5l-6.5 -6.5z"/>
<path d="M867.8 687.2l6.5 6.5l-6.5 6.5l-6.5 -6.5z"/>
<path d="M863 675.8l6.5 6.5l-6.5 6.5l-6.5 -6.5z"/>
<path d="M884 664.3l6.5 6.5l-6.5 6.5l-6.5 -6.5z"/>
<path d="M863.8 686.3l6.5 6.5l-6.5 6.5l-6.5 -6.5z"/>
<path d="M850.1 689.4l6.5 6.5l-6.5 6.5l-6.5 -6.5z"/>
<path d="M893.2 669.6l6.5 6.5l-6.5 6.5l-6.5 -6.5z"/>
<path d="M902.4 652.9l6.5 6.5l-6.5 6.5l-6.5 -6.5z"/>
<path d="M820.6 710.6l6.5 6.5l-6.5 6.5l-6.5 -6.5z"/>
<path d="M852.6 695.4l6.5 6.5l-6.5 6.5l-6.5 -6.5z"/>
<path d="M836.8 704.7l6.5 6.5l-6.5 6.5l-6.5 -6.5z"/>
<path d="M843.7 696.3l6.5 6.5l-6.5 6.5l-6.5 -6.5z"/>
<path d="M828.8 717.6l6.5 6.5l-6.5 6.5l-6.5 -6.5z"/>
<path d="M832.6 708.8l6.5 6.5l-6.5 6.5l-6.5 -6.5z"/>
<path d="M841.6 703l6.5 6.5l-6.5 6.5l-6.5 -6.5z"/>
<path d="M843.8 712.9l6.5 6.5l-6.5 6.5l-6.5 -6.5z"/>
<path d="M849.4 702.9l6.5 6.5l-6.5 6.5l-6.5 -6.5z"/>
<path d="M842.7 706.2l6.5 6.5l-6.5 6.5l-6.5 -6.5z"/>
<path d="M852.4 694.4l6.5 6.5l-6.5 6.5l-6.5 -6.5z"/>
<path d="M890.3 656.3l6.5 6.5l-6.5 6.5l-6.5 -6.5z"/>
<path d="M822.4 709.4l6.5 6.5l-6.5 6.5l-6.5 -6.5z"/>
<path d="M829.1 719.8l6.5 6.5l-6.5 6.5l-6.5 -6.5z"/>
<path d="M838 700.5l6.5 6.5l-6.5 6.5l-6.5 -6.5z"/>
<path d="M888.9 669.8l6.5 6.5l-6.5 6.5l-6.5 -6.5z"/>
<path d="M883.9 668.9l6.5 6.5l-6.5 6.5l-6.5 -6.5z"/>
<path d="M843.4 703l6.5 6.5l-6.5 6.5l-6.5 -6.5z"/>
<path d="M849.7 705.1l6.5 6.5l-6.5 6.5l-6.5 -6.5z"/>
<path d="M838.1 709.1l6.5 6.5l-6.5 6.5l-6.5 -6.5z"/>
<path d="M900.4 660.1l6.5 6.5l-6.5 6.5l-6.5 -6.5z"/>
<path d="M865.9 684.5l6.5 6.5l-6.5 6.5l-6.5 -6.5z"/>
<path d="M878.7 682.9l6.5 6.5l-6.5 6.5l-6.5 -6.5z"/>
<path d="M826.1 716.1l6.5 6.5l-6.5 6.5l-6.5 -6.5z"/>
<path d="M893.8 673.8l6.5 6.5l-6.5 6.5l-6.5 -6.5z"/>
<path d="M909.5 654.9l6.5 6.5l-6.5 6.5l-6.5 -6.5z"/>
<path d="M897.5 664l6.5 6.5l-6.5 6.5l-6.5 -6.5z"/>
<path d="M838.2 712.6l6.5 6.5l-6.5 6.5l-6.5 -6.5z"/>
<path d="M856 699.8l6.5 6.5l-6.5 6.5l-6.5 -6.5z"/>
<path d="M819.8 711.2l6.5 6.5l-6.5 6.5l-6.5 -6.5z"/>
<path d="M855.1 691.5l6.5 6.5l-6.5 6.5l-6.5 -6.5z"/>
<path d="M892 664.5l6.5 6.5l-6.5 6.5l-6.5 -6.5z"/>
<path d="M898.9 657.3l6.5 6.5l-6.5 6.5l-6.5 -6.5z"/>
<path d="M896.5 662.3l6.5 6.5l-6.5 6.5l-6.5 -6.5z"/>
<path d="M868.6 685.7l6.5 6.5l-6.5 6.5l-6.5 -6.5z"/>
<path d="M838.6 709.6l6.5 6.5l-6.5 6.5l-6.5 -6.5z"/>
<path d="M892.4 658.4l6.5 6.5l-6.5 6.5l-6.5 -6.5z"/>
<path d="M894.3 665l6.5 6.5l-6.5 6.5l-6.5 -6.5z"/>
<path d="M909.3 656.9l6.5 6.5l-6.5 6.5l-6.5 -6.5z"/>
<path d="M902.1 665.3l6.5 6.5l-6.5 6.5l-6.5 -6.5z"/>
<path d="M886.8 664.8l6.5 6.5l-6.5 6.5l-6.5 -6.5z"/>
<path d="M842.3 708.1l6.5 6.5l-6.5 6.5l-6.5 -6.5z"/>
<path d="M839.3 710.1l6.5 6.5l-6.5 6.5l-6.5 -6.5z"/>
<path d="M844.2 703.2l6.5 6.5l-6.5 6.5l-6.5 -6.5z"/>
<path d="M869.7 686.3l6.5 6.5l-6.5 6.5l-6.5 -6.5z"/>
<path d="M871.5 681.3l6.5 6.5l-6.5 6.5l-6.5 -6.5z"/>
<path d="M896.1 658.7l6.5 6.5l-6.5 6.5l-6.5 -6.5z"/>
<path d="M888.4 665.9l6.5 6.5l-6.5 6.5l-6.5 -6.5z"/>
<path d="M828.4 720.8l6.5 6.5l-6.5 6.5l-6.5 -6.5z"/>
<path d="M892.4 664.3l6.5 6.5l-6.5 6.5l-6.5 -6.5z"/>
<path d="M896.1 666l6.5 6.5l-6.5 6.5l-6.5 -6.5z"/>
<path d="M838.9 706.5l6.5 6.5l-6.5 6.5l-6.5 -6.5z"/>
<path d="M872.4 692.5l6.5 6.5l-6.5 6.5l-6.5 -6.5z"/>
<path d="M856.8 687.9l6.5 6.5l-6.5 6.5l-6.5 -6.5z"/>
<path d="M877.3 677.4l6.5 6.5l-6.5 6.5l-6.5 -6.5z"/>
<path d="M905.7 652.4l6.5 6.5l-6.5 6.5l-6.5 -6.5z"/>
<path d="M904.7 656.4l6.5 6.5l-6.5 6.5l-6.5 -6.5z"/>
<path d="M887.6 658.6l6.5 6.5l-6.5 6.5l-6.5 -6.5z"/>
<path d="M879.1 674.5l6.5 6.5l-6.5 6.5l-6.5 -6.5z"/>
<path d="M845.6 704.6l6.5 6.5l-6.5 6.5l-6.5 -6.5z"/>
<path d="M908.7 661.5l6.5 6.5l-6.5 6.5l-6.5 -6.5z"/>
<path d="M903.1 659.9l6.5 6.5l-6.5 6.5l-6.5 -6.5z"/>
<path d="M931.7 645.6l6.5 6.5l-6.5 6.5l-6.5 -6.5z"/>
<path d="M932.6 643.9l6.5 6.5l-6.5 6.5l-6.5 -6.5z"/>
<path d="M914.9 648.3l6.5 6.5l-6.5 6.5l-6.5 -6.5z"/>
<path d="M933.4 640.8l6.5 6.5l-6.5 6.5l-6.5 -6.5z"/>
<path d="M972.4 610l6.5 6.5l-6.5 6.5l-6.5 -6.5z"/>
<path d="M981.8 611.1l6.5 6.5l-6.5 6.5l-6.5 -6.5z"/>
<path d="M985.8 601.5l6.5 6.5l-6.5 6.5l-6.5 -6.5z"/>
<path d="M986 603.4l6.5 6.5l-6.5 6.5l-6.5 -6.5z"/>
<path d="M947.3 630.6l6.5 6.5l-6.5 6.5l-6.5 -6.5z"/>
<path d="M924.1 649.3l6.5 6.5l-6.5 6.5l-6.5 -6.5z"/>
<path d="M929.7 643.8l6.5 6.5l-6.5 6.5l-6.5 -6.5z"/>
<path d="M989.9 600.7l6.5 6.5l-6.5 6.5l-6.5 -6.5z"/>
<path d="M976 613.8l6.5 6.5l-6.5 6.5l-6.5 -6.5z"/>
<path d="M974.1 614.6l6.5 6.5l-6.5 6.5l-6.5 -6.5z"/>
<path d="M948.2 633.5l6.5 6.5l-6.5 6.5l-6.5 -6.5z"/>
<path d="M936.3 639.9l6.5 6.5l-6.5 6.5l-6.5 -6.5z"/>
<path d="M980.1 601.9l6.5 6.5l-6.5 6.5l-6.5 -6.5z"/>
<path d="M956.1 621.1l6.5 6.5l-6.5 6.5l-6.5 -6.5z"/>
<path d="M904.5 657.3l6.5 6.5l-6.5 6.5l-6.5 -6.5z"/>
<path d="M957 614.9l6.5 6.5l-6.5 6.5l-6.5 -6.5z"/>
<path d="M933.5 639.8l6.5 6.5l-6.5 6.5l-6.5 -6.5z"/>
<path d="M909.4 658l6.5 6.5l-6.5 6.5l-6.5 -6.5z"/>
<path d="M911.6 647.5l6.5 6.5l-6.5 6.5l-6.5 -6.5z"/>
<path d="M922.1 650.6l6.5 6.5l-6.5 6.5l-6.5 -6.5z"/>
<path d="M941.3 629.9l6.5 6.5l-6.5 6.5l-6.5 -6.5z"/>
<path d="M901.2 657.9l6.5 6.5l-6.5 6.5l-6.5 -6.5z"/>
<path d="M981.2 602.2l6.5 6.5l-6.5 6.5l-6.5 -6.5z"/>
<path d="M921.9 646.2l6.5 6.5l-6.5 6.5l-6.5 -6.5z"/>
<path d="M964.4 621.9l6.5 6.5l-6.5 6.5l-6.5 -6.5z"/>
<path d="M936 636.4l6.5 6.5l-6.5 6.5l-6.5 -6.5z"/>
<path d="M952 629l6.5 6.5l-6.5 6.5l-6.5 -6.5z"/>
<path d="M984.7 607.8l6.5 6.5l-6.5 6.5l-6.5 -6.5z"/>
<path d="M951.6 628.7l6.5 6.5l-6.5 6.5l-6.5 -6.5z"/>
<path d="M976.7 605.6l6.5 6.5l-6.5 6.5l-6.5 -6.5z"/>
<path d="M971.2 613.9l6.5 6.5l-6.5 6.5l-6.5 -6.5z"/>
<path d="M964.7 623.6l6.5 6.5l-6.5 6.5l-6.5 -6.5z"/>
<path d="M950.9 624.6l6.5 6.5l-6.5 6.5l-6.5 -6.5z"/>
<path d="M949.6 626.3l6.5 6.5l-6.5 6.5l-6.5 -6.5z"/>
<path d="M933.7 641.2l6.5 6.5l-6.5 6.5l-6.5 -6.5z"/>
<path d="M985.9 597.9l6.5 6.5l-6.5 6.5l-6.5 -6.5z"/>
<path d="M953.3 626.5l6.5 6.5l-6.5 6.5l-6.5 -6.5z"/>
<path d="M915.5 657.9l6.5 6.5l-6.5 6.5l-6.5 -6.5z"/>
<path d="M969.7 620.5l6.5 6.5l-6.5 6.5l-6.5 -6.5z"/>
<path d="M929.9 644.5l6.5 6.5l-6.5 6.5l-6.5 -6.5z"/>
<path d="M972.7 617.1l6.5 6.5l-6.5 6.5l-6.5 -6.5z"/>
<path d="M967.2 621.2l6.5 6.5l-6.5 6.5l-6.5 -6.5z"/>
<path d="M923.9 650.1l6.5 6.5l-6.5 6.5l-6.5 -6.5z"/>
<path d="M960.6 624l6.5 6.5l-6.5 6.5l-6.5 -6.5z"/>
<path d="M927.3 649.7l6.5 6.5l-6.5 6.5l-6.5 -6.5z"/>
<path d="M973.2 611.9l6.5 6.5l-6.5 6.5l-6.5 -6.5z"/>
<path d="M918.3 656.3l6.5 6.5l-6.5 6.5l-6.5 -6.5z"/>
<path d="M915 651.1l6.5 6.5l-6.5 6.5l-6.5 -6.5z"/>
<path d="M908.8 653.8l6.5 6.5l-6.5 6.5l-6.5 -6.5z"/>
<path d="M919.2 654.3l6.5 6.5l-6.5 6.5l-6.5 -6.5z"/>
<path d="M907.5 654.9l6.5 6.5l-6.5 6.5l-6.5 -6.5z"/>
<path d="M940.9 634.6l6.5 6.5l-6.5 6.5l-6.5 -6.5z"/>
<path d="M940.5 632.9l6.5 6.5l-6.5 6.5l-6.5 -6.5z"/>
<path d="M919.1 644.2l6.5 6.5l-6.5 6.5l-6.5 -6.5z"/>
<path d="M918.1 652l6.5 6.5l-6.5 6.5l-6.5 -6.5z"/>
<path d="M912.1 654.1l6.5 6.5l-6.5 6.5l-6.5 -6.5z"/>
<path d="M909.4 660.1l6.5 6.5l-6.5 6.5l-6.5 -6.5z"/>
<path d="M980.6 600.8l6.5 6.5l-6.5 6.5l-6.5 -6.5z"/>
<path d="M955.7 621.4l6.5 6.5l-6.5 6.5l-6.5 -6.5z"/>
<path d="M968.4 619.4l6.5 6.5l-6.5 6.5l-6.5 -6.5z"/>
<path d="M923 649.2l6.5 6.5l-6.5 6.5l-6.5 -6.5z"/>
<path d="M903.3 656.9l6.5 6.5l-6.5 6.5l-6.5 -6.5z"/>
<path d="M930.9 639.3l6.5 6.5l-6.5 6.5l-6.5 -6.5z"/>
<path d="M981 604.9l6.5 6.5l-6.5 6.5l-6.5 -6.5z"/>
<path d="M978.3 597.2l6.5 6.5l-6.5 6.5l-6.5 -6.5z"/>
<path d="M962.2 618.7l6.5 6.5l-6.5 6.5l-6.5 -6.5z"/>
<path d="M952.3 633.1l6.5 6.5l-6.5 6.5l-6.5 -6.5z"/>
<path d="M987.6 611.4l6.5 6.5l-6.5 6.5l-6.5 -6.5z"/>
<path d="M940.9 633.2l6.5 6.5l-6.5 6.5l-6.5 -6.5z"/>
<path d="M956.9 624.5l6.5 6.5l-6.5 6.5l-6.5 -6.5z"/>
<path d="M975.6 606.7l6.5 6.5l-6.5 6.5l-6.5 -6.5z"/>
<path d="M957 625.7l6.5 6.5l-6.5 6.5l-6.5 -6.5z"/>
<path d="M972.6 613.9l6.5 6.5l-6.5 6.5l-6.5 -6.5z"/>
<path d="M960 624.5l6.5 6.5l-6.5 6.5l-6.5 -6.5z"/>
<path d="M906.3 661.2l6.5 6.5l-6.5 6.5l-6.5 -6.5z"/>
<path d="M973.2 607.6l6.5 6.5l-6.5 6.5l-6.5 -6.5z"/>
<path d="M942.1 634.3l6.5 6.5l-6.5 6.5l-6.5 -6.5z"/>
<path d="M912.2 656.1l6.5 6.5l-6.5 6.5l-6.5 -6.5z"/>
<path d="M925 646.5l6.5 6.5l-6.5 6.5l-6.5 -6.5z"/>
<path d="M953.3 617.1l6.5 6.5l-6.5 6.5l-6.5 -6.5z"/>
<path d="M926.9 640.6l6.5 6.5l-6.5 6.5l-6.5 -6.5z"/>
<path d="M930.9 635l6.5 6.5l-6.5 6.5l-6.5 -6.5z"/>
<path d="M907.4 655.3l6.5 6.5l-6.5 6.5l-6.5 -6.5z"/>
<path d="M918.8 651.2l6.5 6.5l-6.5 6.5l-6.5 -6.5z"/>
<path d="M940.7 644.2l6.5 6.5l-6.5 6.5l-6.5 -6.5z"/>
<path d="M928.8 648.1l6.5 6.5l-6.5 6.5l-6.5 -6.5z"/>
<path d="M980.9 606l6.5 6.5l-6.5 6.5l-6.5 -6.5z"/>
<path d="M980.6 605.5l6.5 6.5l-6.5 6.5l-6.5 -6.5z"/>
<path d="M968.3 605l6.5 6.5l-6.5 6.5l-6.5 -6.5z"/>
<path d="M943.2 631.4l6.5 6.5l-6.5 6.5l-6.5 -6.5z"/>
<path d="M905.3 662.7l6.5 6.5l-6.5 6.5l-6.5 -6.5z"/>
<path d="M979 610.8l6.5 6.5l-6.5 6.5l-6.5 -6.5z"/>
<path d="M976.4 612.6l6.5 6.5l-6.5 6.5l-6.5 -6.5z"/>
<path d="M913.1 657.7l6.5 6.5l-6.5 6.5l-6.5 -6.5z"/>
<path d="M920.5 646.3l6.5 6.5l-6.5 6.5l-6.5 -6.5z"/>
<path d="M917 655.9l6.5 6.5l-6.5 6.5l-6.5 -6.5z"/>
<path d="M960 621.5l6.5 6.5l-6.5 6.5l-6.5 -6.5z"/>
<path d="M949.1 639.1l6.5 6.5l-6.5 6.5l-6.5 -6.5z"/>
<path d="M939.9 635.9l6.5 6.5l-6.5 6.5l-6.5 -6.5z"/>
<path d="M922.3 643.5l6.5 6.5l-6.5 6.5l-6.5 -6.5z"/>
<path d="M912.2 654.3l6.5 6.5l-6.5 6.5l-6.5 -6.5z"/>
<path d="M968.2 618.6l6.5 6.5l-6.5 6.5l-6.5 -6.5z"/>
<path d="M932.6 639.6l6.5 6.5l-6.5 6.5l-6.5 -6.5z"/>
<path d="M906.2 655.8l6.5 6.5l-6.5 6.5l-6.5 -6.5z"/>
<path d="M1004.7 582.2l6.5 6.5l-6.5 6.5l-6.5 -6.5z"/>
<path d="M1001.1 596.9l6.5 6.5l-6.5 6.5l-6.5 -6.5z"/>
<path d="M1000.5 593.7l6.5 6.5l-6.5 6.5l-6.5 -6.5z"/>
<path d="M1066.7 547l6.5 6.5l-6.5 6.5l-6.5 -6.5z"/>
<path d="M1063.1 547.3l6.5 6.5l-6.5 6.5l-6.5 -6.5z"/>
<path d="M1024.4 576.1l6.5 6.5l-6.5 6.5l-6.5 -6.5z"/>
<path d="M1034 571.1l6.5 6.5l-6.5 6.5l-6.5 -6.5z"/>
<path d="M1049.9 559.2l6.5 6.5l-6.5 6.5l-6.5 -6.5z"/>
<path d="M980.6 605.1l6.5 6.5l-6.5 6.5l-6.5 -6.5z"/>
<path d="M1047.5 552.4l6.5 6.5l-6.5 6.5l-6.5 -6.5z"/>
<path d="M1021.7 572.1l6.5 6.5l-6.5 6.5l-6.5 -6.5z"/>
<path d="M993.5 598l6.5 6.5l-6.5 6.5l-6.5 -6.5z"/>
<path d="M1026.4 573.7l6.5 6.5l-6.5 6.5l-6.5 -6.5z"/>
<path d="M986.6 605.4l6.5 6.5l-6.5 6.5l-6.5 -6.5z"/>
<path d="M997.2 599l6.5 6.5l-6.5 6.5l-6.5 -6.5z"/>
<path d="M1002.6 592.1l6.5 6.5l-6.5 6.5l-6.5 -6.5z"/>
<path d="M1028.6 569l6.5 6.5l-6.5 6.5l-6.5 -6.5z"/>
<path d="M992.2 597.9l6.5 6.5l-6.5 6.5l-6.5 -6.5z"/>
<path d="M1032.2 566.5l6.5 6.5l-6.5 6.5l-6.5 -6.5z"/>
<path d="M1023.2 570.3l6.5 6.5l-6.5 6.5l-6.5 -6.5z"/>
<path d="M1033.7 571.5l6.5 6.5l-6.5 6.5l-6.5 -6.5z"/>
<path d="M1051.7 555.8l6.5 6.5l-6.5 6.5l-6.5 -6.5z"/>
<path d="M1015.8 584.3l6.5 6.5l-6.5 6.5l-6.5 -6.5z"/>
<path d="M1055.6 555l6.5 6.5l-6.5 6.5l-6.5 -6.5z"/>
<path d="M991.3 602.1l6.5 6.5l-6.5 6.5l-6.5 -6.5z"/>
<path d="M1059.2 552.9l6.5 6.5l-6.5 6.5l-6.5 -6.5z"/>
<path d="M1015.4 581.3l6.5 6.5l-6.5 6.5l-6.5 -6.5z"/>
<path d="M992.5 604.4l6.5 6.5l-6.5 6.5l-6.5 -6.5z"/>
<path d="M1004.1 583.2l6.5 6.5l-6.5 6.5l-6.5 -6.5z"/>
<path d="M1054.7 548.7l6.5 6.5l-6.5 6.5l-6.5 -6.5z"/>
<path d="M1009.5 585.1l6.5 6.5l-6.5 6.5l-6.5 -6.5z"/>
<path d="M993.5 600.7l6.5 6.5l-6.5 6.5l-6.5 -6.5z"/>
<path d="M1005.6 589.5l6.5 6.5l-6.5 6.5l-6.5 -6.5z"/>
<path d="M1000.7 583.1l6.5 6.5l-6.5 6.5l-6.5 -6.5z"/>
<path d="M987.1 600.9l6.5 6.5l-6.5 6.5l-6.5 -6.5z"/>
<path d="M1046.8 550.1l6.5 6.5l-6.5 6.5l-6.5 -6.5z"/>
<path d="M1017.2 579.7l6.5 6.5l-6.5 6.5l-6.5 -6.5z"/>
<path d="M1043.4 554.6l6.5 6.5l-6.5 6.5l-6.5 -6.5z"/>
<path d="M1027.7 579.4l6.5 6.5l-6.5 6.5l-6.5 -6.5z"/>
<path d="M1001.7 591.1l6.5 6.5l-6.5 6.5l-6.5 -6.5z"/>
<path d="M1020.5 580.9l6.5 6.5l-6.5 6.5l-6.5 -6.5z"/>
<path d="M1053.9 555.7l6.5 6.5l-6.5 6.5l-6.5 -6.5z"/>
<path d="M1020.6 570.8l6.5 6.5l-6.5 6.5l-6.5 -6.5z"/>
<path d="M988.2 599.7l6.5 6.5l-6.5 6.5l-6.5 -6.5z"/>
<path d="M1010 580.6l6.5 6.5l-6.5 6.5l-6.5 -6.5z"/>
<path d="M1041.5 563l6.5 6.5l-6.5 6.5l-6.5 -6.5z"/>
<path d="M1064.2 547.9l6.5 6.5l-6.5 6.5l-6.5 -6.5z"/>
<path d="M1039 559.7l6.5 6.5l-6.5 6.5l-6.5 -6.5z"/>
<path d="M1030.9 575.4l6.5 6.5l-6.5 6.5l-6.5 -6.5z"/>
<path d="M1033.1 568.1l6.5 6.5l-6.5 6.5l-6.5 -6.5z"/>
<path d="M1013.1 577.1l6.5 6.5l-6.5 6.5l-6.5 -6.5z"/>
<path d="M1015.4 584.5l6.5 6.5l-6.5 6.5l-6.5 -6.5z"/>
<path d="M1059.9 548l6.5 6.5l-6.5 6.5l-6.5 -6.5z"/>
<path d="M1039.1 555.6l6.5 6.5l-6.5 6.5l-6.5 -6.5z"/>
<path d="M1031 569.6l6.5 6.5l-6.5 6.5l-6.5 -6.5z"/>
<path d="M1039.5 564.6l6.5 6.5l-6.5 6.5l-6.5 -6.5z"/>
<path d="M1046.6 557.8l6.5 6.5l-6.5 6.5l-6.5 -6.5z"/>
<path d="M981.1 599.3l6.5 6.5l-6.5 6.5l-6.5 -6.5z"/>
<path d="M1040.9 562.3l6.5 6.5l-6.5 6.5l-6.5 -6.5z"/>
<path d="M1059.3 553.7l6.5 6.5l-6.5 6.5l-6.5 -6.5z"/>
<path d="M1016.1 579.5l6.5 6.5l-6.5 6.5l-6.5 -6.5z"/>
<path d="M997.1 594.6l6.5 6.5l-6.5 6.5l-6.5 -6.5z"/>
<path d="M1000 593.3l6.5 6.5l-6.5 6.5l-6.5 -6.5z"/>
<path d="M987.4 606l6.5 6.5l-6.5 6.5l-6.5 -6.5z"/>
<path d="M991.5 603.9l6.5 6.5l-6.5 6.5l-6.5 -6.5z"/>
<path d="M1068 546.9l6.5 6.5l-6.5 6.5l-6.5 -6.5z"/>
<path d="M1046.1 557.2l6.5 6.5l-6.5 6.5l-6.5 -6.5z"/>
<path d="M1049.9 556.3l6.5 6.5l-6.5 6.5l-6.5 -6.5z"/>
<path d="M994.4 600.5l6.5 6.5l-6.5 6.5l-6.5 -6.5z"/>
<path d="M1058 553l6.5 6.5l-6.5 6.5l-6.5 -6.5z"/>
<path d="M1009.5 587.8l6.5 6.5l-6.5 6.5l-6.5 -6.5z"/>
<path d="M1064.8 543.2l6.5 6.5l-6.5 6.5l-6.5 -6.5z"/>
<path d="M1049.6 564.3l6.5 6.5l-6.5 6.5l-6.5 -6.5z"/>
<path d="M1048.9 548.8l6.5 6.5l-6.5 6.5l-6.5 -6.5z"/>
<path d="M996 590.3l6.5 6.5l-6.5 6.5l-6.5 -6.5z"/>
<path d="M1044.4 560l6.5 6.5l-6.5 6.5l-6.5 -6.5z"/>
<path d="M999.9 589.5l6.5 6.5l-6.5 6.5l-6.5 -6.5z"/>
<path d="M996.5 593.3l6.5 6.5l-6.5 6.5l-6.5 -6.5z"/>
<path d="M1021.4 578.6l6.5 6.5l-6.5 6.5l-6.5 -6.5z"/>
<path d="M1010 580.4l6.5 6.5l-6.5 6.5l-6.5 -6.5z"/>
<path d="M1079.1 533.6l6.5 6.5l-6.5 6.5l-6.5 -6.5z"/>
<path d="M1085.3 533.7l6.5 6.5l-6.5 6.5l-6.5 -6.5z"/>
<path d="M1087.8 529.8l6.5 6.5l-6.5 6.5l-6.5 -6.5z"/>
<path d="M1120.7 508.4l6.5 6.5l-6.5 6.5l-6.5 -6.5z"/>
<path d="M1070.2 538.8l6.5 6.5l-6.5 6.5l-6.5 -6.5z"/>
<path d="M1126.9 503.5l6.5 6.5l-6.5 6.5l-6.5 -6.5z"/>
<path d="M1108.3 517.7l6.5 6.5l-6.5 6.5l-6.5 -6.5z"/>
<path d="M1118.8 509.2l6.5 6.5l-6.5 6.5l-6.5 -6.5z"/>
<path d="M1063.6 547.5l6.5 6.5l-6.5 6.5l-6.5 -6.5z"/>
<path d="M1104.5 517.4l6.5 6.5l-6.5 6.5l-6.5 -6.5z"/>
<path d="M1105.5 515.1l6.5 6.5l-6.5 6.5l-6.5 -6.5z"/>
<path d="M1111.7 510.1l6.5 6.5l-6.5 6.5l-6.5 -6.5z"/>
<path d="M1067.9 542.8l6.5 6.5l-6.5 6.5l-6.5 -6.5z"/>
<path d="M1061 546.3l6.5 6.5l-6.5 6.5l-6.5 -6.5z"/>
<path d="M1100.2 526.9l6.5 6.5l-6.5 6.5l-6.5 -6.5z"/>
<path d="M1097.1 518.9l6.5 6.5l-6.5 6.5l-6.5 -6.5z"/>
<path d="M1110.4 514.7l6.5 6.5l-6.5 6.5l-6.5 -6.5z"/>
<path d="M1072.8 537.7l6.5 6.5l-6.5 6.5l-6.5 -6.5z"/>
<path d="M1094.3 522.4l6.5 6.5l-6.5 6.5l-6.5 -6.5z"/>
<path d="M1066.7 539.4l6.5 6.5l-6.5 6.5l-6.5 -6.5z"/>
<path d="M1103 516.2l6.5 6.5l-6.5 6.5l-6.5 -6.5z"/>
<path d="M1121.5 505l6.5 6.5l-6.5 6.5l-6.5 -6.5z"/>
<path d="M1115 507l6.5 6.5l-6.5 6.5l-6.5 -6.5z"/>
<path d="M1117.6 506l6.5 6.5l-6.5 6.5l-6.5 -6.5z"/>
<path d="M1117.3 509l6.5 6.5l-6.5 6.5l-6.5 -6.5z"/>
<path d="M1065.9 548.6l6.5 6.5l-6.5 6.5l-6.5 -6.5z"/>
<path d="M1115.4 511.7l6.5 6.5l-6.5 6.5l-6.5 -6.5z"/>
<path d="M1098.8 523.3l6.5 6.5l-6.5 6.5l-6.5 -6.5z"/>
<path d="M1081.5 537.3l6.5 6.5l-6.5 6.5l-6.5 -6.5z"/>
<path d="M1103.1 517.9l6.5 6.5l-6.5 6.5l-6.5 -6.5z"/>
<path d="M1098.3 519.2l6.5 6.5l-6.5 6.5l-6.5 -6.5z"/>
<path d="M1138.1 492.2l6.5 6.5l-6.5 6.5l-6.5 -6.5z"/>
<path d="M1072.1 543.8l6.5 6.5l-6.5 6.5l-6.5 -6.5z"/>
<path d="M1104.5 521.2l6.5 6.5l-6.5 6.5l-6.5 -6.5z"/>
<path d="M1097 523.6l6.5 6.5l-6.5 6.5l-6.5 -6.5z"/>
<path d="M1134 497.4l6.5 6.5l-6.5 6.5l-6.5 -6.5z"/>
<path d="M1121.1 506.3l6.5 6.5l-6.5 6.5l-6.5 -6.5z"/>
</g>
<g fill="#ec5b5f">
<circle cx="823.7" cy="724.8" r="5.7"/>
<circle cx="828.6" cy="723.8" r="5.7"/>
<circle cx="835.5" cy="709.7" r="5.7"/>
<circle cx="843.4" cy="709.1" r="5.7"/>
<circle cx="856.1" cy="718.9" r="5.7"/>
<circle cx="862" cy="694.9" r="5.7"/>
<circle cx="872.9" cy="689.4" r="5.7"/>
<circle cx="878.7" cy="688.5" r="5.7"/>
<circle cx="884.6" cy="676.3" r="5.7"/>
<circle cx="891.5" cy="675.7" r="5.7"/>
<circle cx="897.4" cy="678.6" r="5.7"/>
<circle cx="902.3" cy="679.6" r="5.7"/>
<circle cx="905.3" cy="666.8" r="5.7"/>
<circle cx="909.2" cy="667.8" r="5.7"/>
<circle cx="907.2" cy="653.1" r="5.7"/>
<circle cx="906.3" cy="640.9" r="5.7"/>
<circle cx="919" cy="655" r="5.7"/>
<circle cx="923" cy="659" r="5.7"/>
<circle cx="920" cy="665.8" r="5.7"/>
<circle cx="924.9" cy="638.3" r="5.7"/>
<circle cx="925.9" cy="645.2" r="5.7"/>
<circle cx="930.8" cy="653.1" r="5.7"/>
<circle cx="934.8" cy="648.2" r="5.7"/>
<circle cx="944.2" cy="659" r="5.7"/>
<circle cx="946.6" cy="630.5" r="5.7"/>
<circle cx="947.5" cy="636.4" r="5.7"/>
<circle cx="954.4" cy="626.5" r="5.7"/>
<circle cx="959.3" cy="622.6" r="5.7"/>
<circle cx="954.4" cy="648.7" r="5.7"/>
<circle cx="930.8" cy="615.7" r="5.7"/>
<circle cx="955.4" cy="605.9" r="5.7"/>
<circle cx="977" cy="612.2" r="5.7"/>
<circle cx="984.9" cy="610.8" r="5.7"/>
<circle cx="987.8" cy="624.6" r="5.7"/>
<circle cx="1034.7" cy="525.9" r="5.7"/>
<circle cx="1084.2" cy="538.9" r="5.7"/>
<circle cx="1049" cy="552.4" r="5.7"/>
<circle cx="1062.2" cy="557.9" r="5.7"/>
<circle cx="1067.1" cy="556" r="5.7"/>
<circle cx="1054.3" cy="569.7" r="5.7"/>
<circle cx="1044.5" cy="569.7" r="5.7"/>
<circle cx="1030.8" cy="570.7" r="5.7"/>
<circle cx="1034.7" cy="577.6" r="5.7"/>
<circle cx="1023.9" cy="580.5" r="5.7"/>
<circle cx="1050" cy="583.1" r="5.7"/>
<circle cx="1002.3" cy="588.4" r="5.7"/>
<circle cx="1011.1" cy="593.3" r="5.7"/>
<circle cx="991.4" cy="594.3" r="5.7"/>
<circle cx="1002.3" cy="598.2" r="5.7"/>
<circle cx="995.4" cy="607.1" r="5.7"/>
</g>
<line x1="743.5" y1="782.7" x2="1227.4" y2="435.8" stroke="#000" stroke-width="2.5" stroke-dasharray="11.2 14.63" stroke-dashoffset="0.45" stroke-linecap="round"/>
<rect x="743.5" y="435.8" width="483.9" height="346.9" fill="none" stroke="#000" stroke-width="3.2"/>
<line x1="743.5" y1="782.7" x2="743.5" y2="787.3" stroke="#000" stroke-width="3.2"/>
<line x1="738.9" y1="782.7" x2="743.5" y2="782.7" stroke="#000" stroke-width="3.2"/>
<line x1="787.49" y1="782.7" x2="787.49" y2="791.2" stroke="#000" stroke-width="3.2"/>
<line x1="735" y1="751.16" x2="743.5" y2="751.16" stroke="#000" stroke-width="3.2"/>
<text transform="translate(787.49 818.1) scale(1 1.04)" font-size="27.6" text-anchor="middle" stroke="#000" stroke-width="0.4">-4</text>
<text transform="translate(729.5 760.06) scale(1 1.04)" font-size="27.6" text-anchor="end" stroke="#000" stroke-width="0.4">-4</text>
<line x1="831.48" y1="782.7" x2="831.48" y2="787.3" stroke="#000" stroke-width="3.2"/>
<line x1="738.9" y1="719.63" x2="743.5" y2="719.63" stroke="#000" stroke-width="3.2"/>
<line x1="875.47" y1="782.7" x2="875.47" y2="791.2" stroke="#000" stroke-width="3.2"/>
<line x1="735" y1="688.09" x2="743.5" y2="688.09" stroke="#000" stroke-width="3.2"/>
<text transform="translate(875.47 818.1) scale(1 1.04)" font-size="27.6" text-anchor="middle" stroke="#000" stroke-width="0.4">-3</text>
<text transform="translate(729.5 696.99) scale(1 1.04)" font-size="27.6" text-anchor="end" stroke="#000" stroke-width="0.4">-3</text>
<line x1="919.46" y1="782.7" x2="919.46" y2="787.3" stroke="#000" stroke-width="3.2"/>
<line x1="738.9" y1="656.55" x2="743.5" y2="656.55" stroke="#000" stroke-width="3.2"/>
<line x1="963.45" y1="782.7" x2="963.45" y2="791.2" stroke="#000" stroke-width="3.2"/>
<line x1="735" y1="625.02" x2="743.5" y2="625.02" stroke="#000" stroke-width="3.2"/>
<text transform="translate(963.45 818.1) scale(1 1.04)" font-size="27.6" text-anchor="middle" stroke="#000" stroke-width="0.4">-2</text>
<text transform="translate(729.5 633.92) scale(1 1.04)" font-size="27.6" text-anchor="end" stroke="#000" stroke-width="0.4">-2</text>
<line x1="1007.45" y1="782.7" x2="1007.45" y2="787.3" stroke="#000" stroke-width="3.2"/>
<line x1="738.9" y1="593.48" x2="743.5" y2="593.48" stroke="#000" stroke-width="3.2"/>
<line x1="1051.44" y1="782.7" x2="1051.44" y2="791.2" stroke="#000" stroke-width="3.2"/>
<line x1="735" y1="561.95" x2="743.5" y2="561.95" stroke="#000" stroke-width="3.2"/>
<text transform="translate(1051.44 818.1) scale(1 1.04)" font-size="27.6" text-anchor="middle" stroke="#000" stroke-width="0.4">-1</text>
<text transform="translate(729.5 570.85) scale(1 1.04)" font-size="27.6" text-anchor="end" stroke="#000" stroke-width="0.4">-1</text>
<line x1="1095.43" y1="782.7" x2="1095.43" y2="787.3" stroke="#000" stroke-width="3.2"/>
<line x1="738.9" y1="530.41" x2="743.5" y2="530.41" stroke="#000" stroke-width="3.2"/>
<line x1="1139.42" y1="782.7" x2="1139.42" y2="791.2" stroke="#000" stroke-width="3.2"/>
<line x1="735" y1="498.87" x2="743.5" y2="498.87" stroke="#000" stroke-width="3.2"/>
<text transform="translate(1139.42 818.1) scale(1 1.04)" font-size="27.6" text-anchor="middle" stroke="#000" stroke-width="0.4">0</text>
<text transform="translate(729.5 507.77) scale(1 1.04)" font-size="27.6" text-anchor="end" stroke="#000" stroke-width="0.4">0</text>
<line x1="1183.41" y1="782.7" x2="1183.41" y2="787.3" stroke="#000" stroke-width="3.2"/>
<line x1="738.9" y1="467.34" x2="743.5" y2="467.34" stroke="#000" stroke-width="3.2"/>
<line x1="1227.4" y1="782.7" x2="1227.4" y2="791.2" stroke="#000" stroke-width="3.2"/>
<line x1="735" y1="435.8" x2="743.5" y2="435.8" stroke="#000" stroke-width="3.2"/>
<text transform="translate(1227.4 818.1) scale(1 1.04)" font-size="27.6" text-anchor="middle" stroke="#000" stroke-width="0.4">1</text>
<text transform="translate(729.5 444.7) scale(1 1.04)" font-size="27.6" text-anchor="end" stroke="#000" stroke-width="0.4">1</text>
<g fill="#6fa5d6"><path d="M766.6 452l6.6 6.6l-6.6 6.6l-6.6 -6.6z"/></g>
<circle cx="766.6" cy="491.9" r="5.8" fill="#ec5b5f"/>
<text transform="translate(788.5 465.3) scale(1 1.04)" font-size="27.2" stroke="#000" stroke-width="0.4">Training set</text>
<text transform="translate(788.5 498.1) scale(1 1.04)" font-size="27.2" stroke="#000" stroke-width="0.4">Testing set</text>
<text transform="translate(1217 736.5) scale(1 1.04)" font-size="25.35" font-weight="bold" text-anchor="end">Training: 0.142 eV/atom</text>
<text transform="translate(1214.6 768.5) scale(1 1.04)" font-size="25.35" font-weight="bold" text-anchor="end">Testing: 0.112 eV/atom</text>
<text transform="translate(801.5 851.1) scale(1 1.04)" font-size="37.1" font-weight="bold">E<tspan font-size="27.1" dy="8.4">pred-CGCNN</tspan><tspan dy="-8.4" dx="-2.6"> (eV/atom)</tspan></text>
<text transform="translate(686.6 734.6) rotate(-90) scale(0.9885 1.04)" font-size="37.1" font-weight="bold">E<tspan font-size="27.1" dy="8.4">targ</tspan><tspan dy="-8.4" dx="-2"> (eV/atom)</tspan></text>
<g fill="#6fa5d6">
<path d="M1478.5 723.2l6.5 6.5l-6.5 6.5l-6.5 -6.5z"/>
<path d="M1488.3 735l6.5 6.5l-6.5 6.5l-6.5 -6.5z"/>
<path d="M1506 707.5l6.5 6.5l-6.5 6.5l-6.5 -6.5z"/>
<path d="M1566 663.3l6.5 6.5l-6.5 6.5l-6.5 -6.5z"/>
<path d="M1647.5 659.3l6.5 6.5l-6.5 6.5l-6.5 -6.5z"/>
<path d="M1485.4 719.3l6.5 6.5l-6.5 6.5l-6.5 -6.5z"/>
<path d="M1495.2 721.3l6.5 6.5l-6.5 6.5l-6.5 -6.5z"/>
<path d="M1501.1 713.4l6.5 6.5l-6.5 6.5l-6.5 -6.5z"/>
<path d="M1841 495.4l6.5 6.5l-6.5 6.5l-6.5 -6.5z"/>
<path d="M1853.8 485.6l6.5 6.5l-6.5 6.5l-6.5 -6.5z"/>
<path d="M1858.7 492.5l6.5 6.5l-6.5 6.5l-6.5 -6.5z"/>
<path d="M1863.6 480.7l6.5 6.5l-6.5 6.5l-6.5 -6.5z"/>
<path d="M1846.9 496.4l6.5 6.5l-6.5 6.5l-6.5 -6.5z"/>
<path d="M1823.3 504.3l6.5 6.5l-6.5 6.5l-6.5 -6.5z"/>
<path d="M1827.2 509.2l6.5 6.5l-6.5 6.5l-6.5 -6.5z"/>
<path d="M1819.4 520l6.5 6.5l-6.5 6.5l-6.5 -6.5z"/>
<path d="M1714.2 569.1l6.5 6.5l-6.5 6.5l-6.5 -6.5z"/>
<path d="M1756.5 541.6l6.5 6.5l-6.5 6.5l-6.5 -6.5z"/>
<path d="M1791.9 540.6l6.5 6.5l-6.5 6.5l-6.5 -6.5z"/>
<path d="M1526.3 708.1l6.5 6.5l-6.5 6.5l-6.5 -6.5z"/>
<path d="M1565.9 703l6.5 6.5l-6.5 6.5l-6.5 -6.5z"/>
<path d="M1676.4 602.3l6.5 6.5l-6.5 6.5l-6.5 -6.5z"/>
<path d="M1691.3 594.2l6.5 6.5l-6.5 6.5l-6.5 -6.5z"/>
<path d="M1546.6 703.9l6.5 6.5l-6.5 6.5l-6.5 -6.5z"/>
<path d="M1608.3 671l6.5 6.5l-6.5 6.5l-6.5 -6.5z"/>
<path d="M1602.8 673.7l6.5 6.5l-6.5 6.5l-6.5 -6.5z"/>
<path d="M1659.4 613l6.5 6.5l-6.5 6.5l-6.5 -6.5z"/>
<path d="M1714.3 570.4l6.5 6.5l-6.5 6.5l-6.5 -6.5z"/>
<path d="M1646.4 632.2l6.5 6.5l-6.5 6.5l-6.5 -6.5z"/>
<path d="M1769.7 551.6l6.5 6.5l-6.5 6.5l-6.5 -6.5z"/>
<path d="M1785.7 535.2l6.5 6.5l-6.5 6.5l-6.5 -6.5z"/>
<path d="M1632 636.7l6.5 6.5l-6.5 6.5l-6.5 -6.5z"/>
<path d="M1796.3 527l6.5 6.5l-6.5 6.5l-6.5 -6.5z"/>
<path d="M1626.2 648.4l6.5 6.5l-6.5 6.5l-6.5 -6.5z"/>
<path d="M1578 681.9l6.5 6.5l-6.5 6.5l-6.5 -6.5z"/>
<path d="M1569.9 687.4l6.5 6.5l-6.5 6.5l-6.5 -6.5z"/>
<path d="M1562.5 703l6.5 6.5l-6.5 6.5l-6.5 -6.5z"/>
<path d="M1648.5 645l6.5 6.5l-6.5 6.5l-6.5 -6.5z"/>
<path d="M1509.7 718.4l6.5 6.5l-6.5 6.5l-6.5 -6.5z"/>
<path d="M1679.2 598.5l6.5 6.5l-6.5 6.5l-6.5 -6.5z"/>
<path d="M1719.4 589.3l6.5 6.5l-6.5 6.5l-6.5 -6.5z"/>
<path d="M1780.3 536.5l6.5 6.5l-6.5 6.5l-6.5 -6.5z"/>
<path d="M1660.1 624.2l6.5 6.5l-6.5 6.5l-6.5 -6.5z"/>
<path d="M1574.3 670.8l6.5 6.5l-6.5 6.5l-6.5 -6.5z"/>
<path d="M1531.4 704.8l6.5 6.5l-6.5 6.5l-6.5 -6.5z"/>
<path d="M1764.2 552l6.5 6.5l-6.5 6.5l-6.5 -6.5z"/>
<path d="M1603.9 679.4l6.5 6.5l-6.5 6.5l-6.5 -6.5z"/>
<path d="M1696.3 589.6l6.5 6.5l-6.5 6.5l-6.5 -6.5z"/>
<path d="M1684.6 606.6l6.5 6.5l-6.5 6.5l-6.5 -6.5z"/>
<path d="M1568.6 671.8l6.5 6.5l-6.5 6.5l-6.5 -6.5z"/>
<path d="M1682.2 600.6l6.5 6.5l-6.5 6.5l-6.5 -6.5z"/>
<path d="M1523.3 709.9l6.5 6.5l-6.5 6.5l-6.5 -6.5z"/>
<path d="M1604.8 647.7l6.5 6.5l-6.5 6.5l-6.5 -6.5z"/>
<path d="M1595.8 676l6.5 6.5l-6.5 6.5l-6.5 -6.5z"/>
<path d="M1576.1 693.9l6.5 6.5l-6.5 6.5l-6.5 -6.5z"/>
<path d="M1819.1 511.4l6.5 6.5l-6.5 6.5l-6.5 -6.5z"/>
<path d="M1517.7 713.5l6.5 6.5l-6.5 6.5l-6.5 -6.5z"/>
<path d="M1580.1 664.8l6.5 6.5l-6.5 6.5l-6.5 -6.5z"/>
<path d="M1550.4 715.8l6.5 6.5l-6.5 6.5l-6.5 -6.5z"/>
<path d="M1649.5 623.9l6.5 6.5l-6.5 6.5l-6.5 -6.5z"/>
<path d="M1625.7 645.8l6.5 6.5l-6.5 6.5l-6.5 -6.5z"/>
<path d="M1646.1 643.8l6.5 6.5l-6.5 6.5l-6.5 -6.5z"/>
<path d="M1646.1 620.7l6.5 6.5l-6.5 6.5l-6.5 -6.5z"/>
<path d="M1560.1 687.4l6.5 6.5l-6.5 6.5l-6.5 -6.5z"/>
<path d="M1512.3 715.2l6.5 6.5l-6.5 6.5l-6.5 -6.5z"/>
<path d="M1714.9 581.1l6.5 6.5l-6.5 6.5l-6.5 -6.5z"/>
<path d="M1546.5 719.7l6.5 6.5l-6.5 6.5l-6.5 -6.5z"/>
<path d="M1800.7 522.9l6.5 6.5l-6.5 6.5l-6.5 -6.5z"/>
<path d="M1567.2 698.5l6.5 6.5l-6.5 6.5l-6.5 -6.5z"/>
<path d="M1621.9 652.4l6.5 6.5l-6.5 6.5l-6.5 -6.5z"/>
<path d="M1665 611.4l6.5 6.5l-6.5 6.5l-6.5 -6.5z"/>
<path d="M1519 718.6l6.5 6.5l-6.5 6.5l-6.5 -6.5z"/>
<path d="M1675.6 619l6.5 6.5l-6.5 6.5l-6.5 -6.5z"/>
<path d="M1514.9 711.1l6.5 6.5l-6.5 6.5l-6.5 -6.5z"/>
<path d="M1703.4 585.9l6.5 6.5l-6.5 6.5l-6.5 -6.5z"/>
<path d="M1737 567.3l6.5 6.5l-6.5 6.5l-6.5 -6.5z"/>
<path d="M1610.4 670.3l6.5 6.5l-6.5 6.5l-6.5 -6.5z"/>
<path d="M1646 627.7l6.5 6.5l-6.5 6.5l-6.5 -6.5z"/>
<path d="M1562.8 699l6.5 6.5l-6.5 6.5l-6.5 -6.5z"/>
<path d="M1564.5 695.2l6.5 6.5l-6.5 6.5l-6.5 -6.5z"/>
<path d="M1639 655.3l6.5 6.5l-6.5 6.5l-6.5 -6.5z"/>
<path d="M1560.2 703.3l6.5 6.5l-6.5 6.5l-6.5 -6.5z"/>
<path d="M1615 646l6.5 6.5l-6.5 6.5l-6.5 -6.5z"/>
<path d="M1599.5 653l6.5 6.5l-6.5 6.5l-6.5 -6.5z"/>
<path d="M1489.3 724.7l6.5 6.5l-6.5 6.5l-6.5 -6.5z"/>
<path d="M1682.3 591l6.5 6.5l-6.5 6.5l-6.5 -6.5z"/>
<path d="M1569.5 684.6l6.5 6.5l-6.5 6.5l-6.5 -6.5z"/>
<path d="M1713.4 585.2l6.5 6.5l-6.5 6.5l-6.5 -6.5z"/>
<path d="M1615.9 649.6l6.5 6.5l-6.5 6.5l-6.5 -6.5z"/>
<path d="M1543.4 703.9l6.5 6.5l-6.5 6.5l-6.5 -6.5z"/>
<path d="M1633.3 630.6l6.5 6.5l-6.5 6.5l-6.5 -6.5z"/>
<path d="M1679.4 607.2l6.5 6.5l-6.5 6.5l-6.5 -6.5z"/>
<path d="M1719.5 570.5l6.5 6.5l-6.5 6.5l-6.5 -6.5z"/>
<path d="M1723.1 569.1l6.5 6.5l-6.5 6.5l-6.5 -6.5z"/>
<path d="M1691.4 586.2l6.5 6.5l-6.5 6.5l-6.5 -6.5z"/>
<path d="M1535.1 703.8l6.5 6.5l-6.5 6.5l-6.5 -6.5z"/>
<path d="M1522.8 718.4l6.5 6.5l-6.5 6.5l-6.5 -6.5z"/>
<path d="M1761.7 546.6l6.5 6.5l-6.5 6.5l-6.5 -6.5z"/>
<path d="M1791.5 538.3l6.5 6.5l-6.5 6.5l-6.5 -6.5z"/>
<path d="M1583.2 676.5l6.5 6.5l-6.5 6.5l-6.5 -6.5z"/>
<path d="M1631 661.5l6.5 6.5l-6.5 6.5l-6.5 -6.5z"/>
<path d="M1504.2 717l6.5 6.5l-6.5 6.5l-6.5 -6.5z"/>
<path d="M1676.7 609.7l6.5 6.5l-6.5 6.5l-6.5 -6.5z"/>
<path d="M1645.7 653.3l6.5 6.5l-6.5 6.5l-6.5 -6.5z"/>
<path d="M1701.2 585.1l6.5 6.5l-6.5 6.5l-6.5 -6.5z"/>
<path d="M1693.4 592.9l6.5 6.5l-6.5 6.5l-6.5 -6.5z"/>
<path d="M1760 549.8l6.5 6.5l-6.5 6.5l-6.5 -6.5z"/>
<path d="M1630 658.7l6.5 6.5l-6.5 6.5l-6.5 -6.5z"/>
<path d="M1561.4 683.6l6.5 6.5l-6.5 6.5l-6.5 -6.5z"/>
<path d="M1537 708.2l6.5 6.5l-6.5 6.5l-6.5 -6.5z"/>
<path d="M1684.1 598.4l6.5 6.5l-6.5 6.5l-6.5 -6.5z"/>
<path d="M1703.9 579.3l6.5 6.5l-6.5 6.5l-6.5 -6.5z"/>
<path d="M1668.1 621l6.5 6.5l-6.5 6.5l-6.5 -6.5z"/>
<path d="M1557.5 707.8l6.5 6.5l-6.5 6.5l-6.5 -6.5z"/>
<path d="M1580.2 688.9l6.5 6.5l-6.5 6.5l-6.5 -6.5z"/>
<path d="M1577 686.6l6.5 6.5l-6.5 6.5l-6.5 -6.5z"/>
<path d="M1594 660.3l6.5 6.5l-6.5 6.5l-6.5 -6.5z"/>
<path d="M1564 692.1l6.5 6.5l-6.5 6.5l-6.5 -6.5z"/>
<path d="M1527.8 720.6l6.5 6.5l-6.5 6.5l-6.5 -6.5z"/>
<path d="M1547.2 690.1l6.5 6.5l-6.5 6.5l-6.5 -6.5z"/>
<path d="M1526 718.8l6.5 6.5l-6.5 6.5l-6.5 -6.5z"/>
<path d="M1787.9 532.9l6.5 6.5l-6.5 6.5l-6.5 -6.5z"/>
<path d="M1602.6 665.2l6.5 6.5l-6.5 6.5l-6.5 -6.5z"/>
<path d="M1720.1 580.1l6.5 6.5l-6.5 6.5l-6.5 -6.5z"/>
<path d="M1709.2 577.4l6.5 6.5l-6.5 6.5l-6.5 -6.5z"/>
<path d="M1637.3 648.4l6.5 6.5l-6.5 6.5l-6.5 -6.5z"/>
<path d="M1797.4 530.2l6.5 6.5l-6.5 6.5l-6.5 -6.5z"/>
<path d="M1764.1 544.5l6.5 6.5l-6.5 6.5l-6.5 -6.5z"/>
<path d="M1695.2 597.8l6.5 6.5l-6.5 6.5l-6.5 -6.5z"/>
<path d="M1758.1 566.5l6.5 6.5l-6.5 6.5l-6.5 -6.5z"/>
<path d="M1601.1 668.4l6.5 6.5l-6.5 6.5l-6.5 -6.5z"/>
<path d="M1709.7 586.4l6.5 6.5l-6.5 6.5l-6.5 -6.5z"/>
<path d="M1699.3 605.3l6.5 6.5l-6.5 6.5l-6.5 -6.5z"/>
<path d="M1713.8 573.4l6.5 6.5l-6.5 6.5l-6.5 -6.5z"/>
<path d="M1701.5 593.7l6.5 6.5l-6.5 6.5l-6.5 -6.5z"/>
<path d="M1547.9 713.9l6.5 6.5l-6.5 6.5l-6.5 -6.5z"/>
<path d="M1705 574.9l6.5 6.5l-6.5 6.5l-6.5 -6.5z"/>
<path d="M1541.4 718.3l6.5 6.5l-6.5 6.5l-6.5 -6.5z"/>
<path d="M1612 668.1l6.5 6.5l-6.5 6.5l-6.5 -6.5z"/>
<path d="M1671.3 628.5l6.5 6.5l-6.5 6.5l-6.5 -6.5z"/>
<path d="M1540.3 701.6l6.5 6.5l-6.5 6.5l-6.5 -6.5z"/>
<path d="M1636.9 640.6l6.5 6.5l-6.5 6.5l-6.5 -6.5z"/>
<path d="M1687.7 588.7l6.5 6.5l-6.5 6.5l-6.5 -6.5z"/>
<path d="M1664.5 628l6.5 6.5l-6.5 6.5l-6.5 -6.5z"/>
<path d="M1663.4 625.2l6.5 6.5l-6.5 6.5l-6.5 -6.5z"/>
<path d="M1528 703.9l6.5 6.5l-6.5 6.5l-6.5 -6.5z"/>
<path d="M1489.6 731.5l6.5 6.5l-6.5 6.5l-6.5 -6.5z"/>
<path d="M1671.6 604.1l6.5 6.5l-6.5 6.5l-6.5 -6.5z"/>
<path d="M1547.9 709.8l6.5 6.5l-6.5 6.5l-6.5 -6.5z"/>
<path d="M1494 719.3l6.5 6.5l-6.5 6.5l-6.5 -6.5z"/>
<path d="M1706.1 600.2l6.5 6.5l-6.5 6.5l-6.5 -6.5z"/>
<path d="M1684 611.1l6.5 6.5l-6.5 6.5l-6.5 -6.5z"/>
<path d="M1652.5 630.9l6.5 6.5l-6.5 6.5l-6.5 -6.5z"/>
<path d="M1639.5 649.5l6.5 6.5l-6.5 6.5l-6.5 -6.5z"/>
<path d="M1557.7 690l6.5 6.5l-6.5 6.5l-6.5 -6.5z"/>
<path d="M1613.4 664.9l6.5 6.5l-6.5 6.5l-6.5 -6.5z"/>
<path d="M1507.4 715.9l6.5 6.5l-6.5 6.5l-6.5 -6.5z"/>
<path d="M1623.2 667.8l6.5 6.5l-6.5 6.5l-6.5 -6.5z"/>
<path d="M1553.9 686l6.5 6.5l-6.5 6.5l-6.5 -6.5z"/>
<path d="M1817.7 519.1l6.5 6.5l-6.5 6.5l-6.5 -6.5z"/>
<path d="M1761.8 552.2l6.5 6.5l-6.5 6.5l-6.5 -6.5z"/>
<path d="M1639.1 627.1l6.5 6.5l-6.5 6.5l-6.5 -6.5z"/>
<path d="M1710.7 588.4l6.5 6.5l-6.5 6.5l-6.5 -6.5z"/>
<path d="M1553.3 681.3l6.5 6.5l-6.5 6.5l-6.5 -6.5z"/>
<path d="M1558 680.2l6.5 6.5l-6.5 6.5l-6.5 -6.5z"/>
<path d="M1546.3 715.7l6.5 6.5l-6.5 6.5l-6.5 -6.5z"/>
<path d="M1690.2 603l6.5 6.5l-6.5 6.5l-6.5 -6.5z"/>
<path d="M1595.7 653.9l6.5 6.5l-6.5 6.5l-6.5 -6.5z"/>
<path d="M1577.8 670.9l6.5 6.5l-6.5 6.5l-6.5 -6.5z"/>
<path d="M1574.9 687.8l6.5 6.5l-6.5 6.5l-6.5 -6.5z"/>
<path d="M1502.7 715.1l6.5 6.5l-6.5 6.5l-6.5 -6.5z"/>
<path d="M1486.4 722l6.5 6.5l-6.5 6.5l-6.5 -6.5z"/>
<path d="M1501.7 723.6l6.5 6.5l-6.5 6.5l-6.5 -6.5z"/>
<path d="M1540 706.8l6.5 6.5l-6.5 6.5l-6.5 -6.5z"/>
<path d="M1768.5 544.3l6.5 6.5l-6.5 6.5l-6.5 -6.5z"/>
<path d="M1716.6 571.8l6.5 6.5l-6.5 6.5l-6.5 -6.5z"/>
<path d="M1610.9 655.4l6.5 6.5l-6.5 6.5l-6.5 -6.5z"/>
<path d="M1639.8 644.1l6.5 6.5l-6.5 6.5l-6.5 -6.5z"/>
<path d="M1776.8 546.1l6.5 6.5l-6.5 6.5l-6.5 -6.5z"/>
<path d="M1615.4 662.6l6.5 6.5l-6.5 6.5l-6.5 -6.5z"/>
<path d="M1609.8 664.7l6.5 6.5l-6.5 6.5l-6.5 -6.5z"/>
<path d="M1527.8 713.5l6.5 6.5l-6.5 6.5l-6.5 -6.5z"/>
<path d="M1553.4 688.7l6.5 6.5l-6.5 6.5l-6.5 -6.5z"/>
<path d="M1604.3 656.3l6.5 6.5l-6.5 6.5l-6.5 -6.5z"/>
<path d="M1679.5 602.7l6.5 6.5l-6.5 6.5l-6.5 -6.5z"/>
<path d="M1619.9 668.1l6.5 6.5l-6.5 6.5l-6.5 -6.5z"/>
<path d="M1754 559.6l6.5 6.5l-6.5 6.5l-6.5 -6.5z"/>
<path d="M1774.3 544.1l6.5 6.5l-6.5 6.5l-6.5 -6.5z"/>
<path d="M1766 541.1l6.5 6.5l-6.5 6.5l-6.5 -6.5z"/>
<path d="M1582.3 665.8l6.5 6.5l-6.5 6.5l-6.5 -6.5z"/>
<path d="M1585.9 668.4l6.5 6.5l-6.5 6.5l-6.5 -6.5z"/>
<path d="M1551.6 694.8l6.5 6.5l-6.5 6.5l-6.5 -6.5z"/>
<path d="M1547.5 694.5l6.5 6.5l-6.5 6.5l-6.5 -6.5z"/>
<path d="M1570.8 695.7l6.5 6.5l-6.5 6.5l-6.5 -6.5z"/>
<path d="M1726 583l6.5 6.5l-6.5 6.5l-6.5 -6.5z"/>
<path d="M1590.2 662.8l6.5 6.5l-6.5 6.5l-6.5 -6.5z"/>
<path d="M1549.6 698.6l6.5 6.5l-6.5 6.5l-6.5 -6.5z"/>
<path d="M1656 633.2l6.5 6.5l-6.5 6.5l-6.5 -6.5z"/>
<path d="M1497.5 727.5l6.5 6.5l-6.5 6.5l-6.5 -6.5z"/>
<path d="M1584.7 684.3l6.5 6.5l-6.5 6.5l-6.5 -6.5z"/>
<path d="M1627.7 636.9l6.5 6.5l-6.5 6.5l-6.5 -6.5z"/>
<path d="M1559 696.5l6.5 6.5l-6.5 6.5l-6.5 -6.5z"/>
<path d="M1629.5 664.5l6.5 6.5l-6.5 6.5l-6.5 -6.5z"/>
<path d="M1679.7 609.6l6.5 6.5l-6.5 6.5l-6.5 -6.5z"/>
<path d="M1728.6 573.2l6.5 6.5l-6.5 6.5l-6.5 -6.5z"/>
<path d="M1767 551.6l6.5 6.5l-6.5 6.5l-6.5 -6.5z"/>
<path d="M1712.4 575.2l6.5 6.5l-6.5 6.5l-6.5 -6.5z"/>
<path d="M1756.4 561.3l6.5 6.5l-6.5 6.5l-6.5 -6.5z"/>
<path d="M1656.2 628.6l6.5 6.5l-6.5 6.5l-6.5 -6.5z"/>
<path d="M1572 681.4l6.5 6.5l-6.5 6.5l-6.5 -6.5z"/>
<path d="M1811 520.1l6.5 6.5l-6.5 6.5l-6.5 -6.5z"/>
<path d="M1637 659.6l6.5 6.5l-6.5 6.5l-6.5 -6.5z"/>
<path d="M1535 698.9l6.5 6.5l-6.5 6.5l-6.5 -6.5z"/>
<path d="M1617.2 660.5l6.5 6.5l-6.5 6.5l-6.5 -6.5z"/>
<path d="M1754.5 565.5l6.5 6.5l-6.5 6.5l-6.5 -6.5z"/>
<path d="M1731.8 572.3l6.5 6.5l-6.5 6.5l-6.5 -6.5z"/>
<path d="M1576.6 678.2l6.5 6.5l-6.5 6.5l-6.5 -6.5z"/>
<path d="M1657.5 616.3l6.5 6.5l-6.5 6.5l-6.5 -6.5z"/>
<path d="M1640.2 633.6l6.5 6.5l-6.5 6.5l-6.5 -6.5z"/>
<path d="M1783.9 541.3l6.5 6.5l-6.5 6.5l-6.5 -6.5z"/>
<path d="M1625.6 655.7l6.5 6.5l-6.5 6.5l-6.5 -6.5z"/>
<path d="M1730.1 576.3l6.5 6.5l-6.5 6.5l-6.5 -6.5z"/>
<path d="M1577.7 690.6l6.5 6.5l-6.5 6.5l-6.5 -6.5z"/>
<path d="M1761.9 542.3l6.5 6.5l-6.5 6.5l-6.5 -6.5z"/>
<path d="M1815.9 516.1l6.5 6.5l-6.5 6.5l-6.5 -6.5z"/>
<path d="M1600.8 681.5l6.5 6.5l-6.5 6.5l-6.5 -6.5z"/>
<path d="M1697.6 602.6l6.5 6.5l-6.5 6.5l-6.5 -6.5z"/>
<path d="M1771.9 550.6l6.5 6.5l-6.5 6.5l-6.5 -6.5z"/>
<path d="M1762.7 549.6l6.5 6.5l-6.5 6.5l-6.5 -6.5z"/>
<path d="M1603.9 650.6l6.5 6.5l-6.5 6.5l-6.5 -6.5z"/>
<path d="M1655.4 636l6.5 6.5l-6.5 6.5l-6.5 -6.5z"/>
<path d="M1663.6 616.3l6.5 6.5l-6.5 6.5l-6.5 -6.5z"/>
<path d="M1609.3 648.5l6.5 6.5l-6.5 6.5l-6.5 -6.5z"/>
<path d="M1502.5 720.7l6.5 6.5l-6.5 6.5l-6.5 -6.5z"/>
<path d="M1701.9 578.1l6.5 6.5l-6.5 6.5l-6.5 -6.5z"/>
<path d="M1664.4 633.7l6.5 6.5l-6.5 6.5l-6.5 -6.5z"/>
<path d="M1633.3 661.9l6.5 6.5l-6.5 6.5l-6.5 -6.5z"/>
<path d="M1736.2 565l6.5 6.5l-6.5 6.5l-6.5 -6.5z"/>
<path d="M1628.2 640.1l6.5 6.5l-6.5 6.5l-6.5 -6.5z"/>
<path d="M1708.4 582.7l6.5 6.5l-6.5 6.5l-6.5 -6.5z"/>
<path d="M1623.2 650.1l6.5 6.5l-6.5 6.5l-6.5 -6.5z"/>
<path d="M1645 647.8l6.5 6.5l-6.5 6.5l-6.5 -6.5z"/>
<path d="M1578.8 684l6.5 6.5l-6.5 6.5l-6.5 -6.5z"/>
<path d="M1627.1 660.7l6.5 6.5l-6.5 6.5l-6.5 -6.5z"/>
<path d="M1573.5 674.7l6.5 6.5l-6.5 6.5l-6.5 -6.5z"/>
<path d="M1512.8 717.6l6.5 6.5l-6.5 6.5l-6.5 -6.5z"/>
<path d="M1739.3 575.1l6.5 6.5l-6.5 6.5l-6.5 -6.5z"/>
<path d="M1544.4 706.1l6.5 6.5l-6.5 6.5l-6.5 -6.5z"/>
<path d="M1683.8 613.4l6.5 6.5l-6.5 6.5l-6.5 -6.5z"/>
<path d="M1720.6 575.1l6.5 6.5l-6.5 6.5l-6.5 -6.5z"/>
<path d="M1708.5 590.2l6.5 6.5l-6.5 6.5l-6.5 -6.5z"/>
<path d="M1625 653.5l6.5 6.5l-6.5 6.5l-6.5 -6.5z"/>
<path d="M1608.4 656.6l6.5 6.5l-6.5 6.5l-6.5 -6.5z"/>
<path d="M1584.6 686.8l6.5 6.5l-6.5 6.5l-6.5 -6.5z"/>
<path d="M1601.9 653l6.5 6.5l-6.5 6.5l-6.5 -6.5z"/>
<path d="M1673.1 621.4l6.5 6.5l-6.5 6.5l-6.5 -6.5z"/>
<path d="M1593.6 674.1l6.5 6.5l-6.5 6.5l-6.5 -6.5z"/>
<path d="M1499.1 714.5l6.5 6.5l-6.5 6.5l-6.5 -6.5z"/>
<path d="M1589.7 666.9l6.5 6.5l-6.5 6.5l-6.5 -6.5z"/>
<path d="M1649.2 632.6l6.5 6.5l-6.5 6.5l-6.5 -6.5z"/>
<path d="M1752.3 554.8l6.5 6.5l-6.5 6.5l-6.5 -6.5z"/>
<path d="M1713.8 590.7l6.5 6.5l-6.5 6.5l-6.5 -6.5z"/>
<path d="M1745 571.6l6.5 6.5l-6.5 6.5l-6.5 -6.5z"/>
<path d="M1630.9 649.3l6.5 6.5l-6.5 6.5l-6.5 -6.5z"/>
<path d="M1507.6 710.2l6.5 6.5l-6.5 6.5l-6.5 -6.5z"/>
<path d="M1767.5 546.8l6.5 6.5l-6.5 6.5l-6.5 -6.5z"/>
<path d="M1589.5 679.9l6.5 6.5l-6.5 6.5l-6.5 -6.5z"/>
<path d="M1635.6 656l6.5 6.5l-6.5 6.5l-6.5 -6.5z"/>
<path d="M1572.8 677.5l6.5 6.5l-6.5 6.5l-6.5 -6.5z"/>
<path d="M1712.5 579.1l6.5 6.5l-6.5 6.5l-6.5 -6.5z"/>
<path d="M1510.4 720.8l6.5 6.5l-6.5 6.5l-6.5 -6.5z"/>
<path d="M1693.9 584.8l6.5 6.5l-6.5 6.5l-6.5 -6.5z"/>
<path d="M1578.9 679.3l6.5 6.5l-6.5 6.5l-6.5 -6.5z"/>
<path d="M1641.4 656.1l6.5 6.5l-6.5 6.5l-6.5 -6.5z"/>
<path d="M1588.1 663.9l6.5 6.5l-6.5 6.5l-6.5 -6.5z"/>
<path d="M1666.8 606.4l6.5 6.5l-6.5 6.5l-6.5 -6.5z"/>
<path d="M1616.8 643.7l6.5 6.5l-6.5 6.5l-6.5 -6.5z"/>
<path d="M1555.4 696.8l6.5 6.5l-6.5 6.5l-6.5 -6.5z"/>
<path d="M1648.6 628.5l6.5 6.5l-6.5 6.5l-6.5 -6.5z"/>
<path d="M1777.5 541.8l6.5 6.5l-6.5 6.5l-6.5 -6.5z"/>
<path d="M1628.1 644.9l6.5 6.5l-6.5 6.5l-6.5 -6.5z"/>
<path d="M1630.5 653.3l6.5 6.5l-6.5 6.5l-6.5 -6.5z"/>
<path d="M1514.5 723.8l6.5 6.5l-6.5 6.5l-6.5 -6.5z"/>
<path d="M1658.9 636.2l6.5 6.5l-6.5 6.5l-6.5 -6.5z"/>
<path d="M1805 521.2l6.5 6.5l-6.5 6.5l-6.5 -6.5z"/>
<path d="M1493.3 722.3l6.5 6.5l-6.5 6.5l-6.5 -6.5z"/>
<path d="M1618.9 638.5l6.5 6.5l-6.5 6.5l-6.5 -6.5z"/>
<path d="M1684.1 593.2l6.5 6.5l-6.5 6.5l-6.5 -6.5z"/>
<path d="M1651.7 638.6l6.5 6.5l-6.5 6.5l-6.5 -6.5z"/>
<path d="M1586.5 673.7l6.5 6.5l-6.5 6.5l-6.5 -6.5z"/>
<path d="M1705.1 581.8l6.5 6.5l-6.5 6.5l-6.5 -6.5z"/>
<path d="M1531.1 711.3l6.5 6.5l-6.5 6.5l-6.5 -6.5z"/>
<path d="M1745.9 561l6.5 6.5l-6.5 6.5l-6.5 -6.5z"/>
<path d="M1618.5 665.5l6.5 6.5l-6.5 6.5l-6.5 -6.5z"/>
<path d="M1546.3 711.7l6.5 6.5l-6.5 6.5l-6.5 -6.5z"/>
<path d="M1670.1 608l6.5 6.5l-6.5 6.5l-6.5 -6.5z"/>
<path d="M1669.7 618l6.5 6.5l-6.5 6.5l-6.5 -6.5z"/>
<path d="M1615.3 658.1l6.5 6.5l-6.5 6.5l-6.5 -6.5z"/>
<path d="M1531.4 699.8l6.5 6.5l-6.5 6.5l-6.5 -6.5z"/>
<path d="M1608.6 666.3l6.5 6.5l-6.5 6.5l-6.5 -6.5z"/>
<path d="M1518.5 715.9l6.5 6.5l-6.5 6.5l-6.5 -6.5z"/>
<path d="M1568.3 679.2l6.5 6.5l-6.5 6.5l-6.5 -6.5z"/>
<path d="M1526 716.7l6.5 6.5l-6.5 6.5l-6.5 -6.5z"/>
<path d="M1529.3 708.3l6.5 6.5l-6.5 6.5l-6.5 -6.5z"/>
<path d="M1557.7 693.1l6.5 6.5l-6.5 6.5l-6.5 -6.5z"/>
<path d="M1555.6 697.3l6.5 6.5l-6.5 6.5l-6.5 -6.5z"/>
<path d="M1562.7 688l6.5 6.5l-6.5 6.5l-6.5 -6.5z"/>
<path d="M1515.3 716.8l6.5 6.5l-6.5 6.5l-6.5 -6.5z"/>
<path d="M1587 665.4l6.5 6.5l-6.5 6.5l-6.5 -6.5z"/>
<path d="M1571.9 678.2l6.5 6.5l-6.5 6.5l-6.5 -6.5z"/>
<path d="M1606.1 652.9l6.5 6.5l-6.5 6.5l-6.5 -6.5z"/>
<path d="M1551.4 702.5l6.5 6.5l-6.5 6.5l-6.5 -6.5z"/>
<path d="M1567.7 682.6l6.5 6.5l-6.5 6.5l-6.5 -6.5z"/>
<path d="M1518.6 715.5l6.5 6.5l-6.5 6.5l-6.5 -6.5z"/>
<path d="M1558.4 690.1l6.5 6.5l-6.5 6.5l-6.5 -6.5z"/>
<path d="M1553.4 688.5l6.5 6.5l-6.5 6.5l-6.5 -6.5z"/>
<path d="M1576.4 680.1l6.5 6.5l-6.5 6.5l-6.5 -6.5z"/>
<path d="M1545.3 703.3l6.5 6.5l-6.5 6.5l-6.5 -6.5z"/>
<path d="M1593.5 667.8l6.5 6.5l-6.5 6.5l-6.5 -6.5z"/>
<path d="M1522.6 718.5l6.5 6.5l-6.5 6.5l-6.5 -6.5z"/>
<path d="M1515.1 720.5l6.5 6.5l-6.5 6.5l-6.5 -6.5z"/>
<path d="M1596.6 671.1l6.5 6.5l-6.5 6.5l-6.5 -6.5z"/>
<path d="M1543.4 699.1l6.5 6.5l-6.5 6.5l-6.5 -6.5z"/>
<path d="M1543.5 704.7l6.5 6.5l-6.5 6.5l-6.5 -6.5z"/>
<path d="M1587.6 667.5l6.5 6.5l-6.5 6.5l-6.5 -6.5z"/>
<path d="M1521.9 715.7l6.5 6.5l-6.5 6.5l-6.5 -6.5z"/>
<path d="M1588.8 667.8l6.5 6.5l-6.5 6.5l-6.5 -6.5z"/>
<path d="M1531.3 701.4l6.5 6.5l-6.5 6.5l-6.5 -6.5z"/>
<path d="M1568.8 689.8l6.5 6.5l-6.5 6.5l-6.5 -6.5z"/>
<path d="M1604.6 656.1l6.5 6.5l-6.5 6.5l-6.5 -6.5z"/>
<path d="M1529.2 713.3l6.5 6.5l-6.5 6.5l-6.5 -6.5z"/>
<path d="M1553.1 694.8l6.5 6.5l-6.5 6.5l-6.5 -6.5z"/>
<path d="M1515.3 724.1l6.5 6.5l-6.5 6.5l-6.5 -6.5z"/>
<path d="M1605.7 651.6l6.5 6.5l-6.5 6.5l-6.5 -6.5z"/>
<path d="M1594.7 671.9l6.5 6.5l-6.5 6.5l-6.5 -6.5z"/>
<path d="M1609.5 654l6.5 6.5l-6.5 6.5l-6.5 -6.5z"/>
<path d="M1583 666.8l6.5 6.5l-6.5 6.5l-6.5 -6.5z"/>
<path d="M1554.4 704.9l6.5 6.5l-6.5 6.5l-6.5 -6.5z"/>
<path d="M1533.3 713.7l6.5 6.5l-6.5 6.5l-6.5 -6.5z"/>
<path d="M1532.5 711.9l6.5 6.5l-6.5 6.5l-6.5 -6.5z"/>
<path d="M1606.4 661.3l6.5 6.5l-6.5 6.5l-6.5 -6.5z"/>
<path d="M1521.5 716l6.5 6.5l-6.5 6.5l-6.5 -6.5z"/>
<path d="M1565.9 689.1l6.5 6.5l-6.5 6.5l-6.5 -6.5z"/>
<path d="M1595.3 671.1l6.5 6.5l-6.5 6.5l-6.5 -6.5z"/>
<path d="M1532.6 700.1l6.5 6.5l-6.5 6.5l-6.5 -6.5z"/>
<path d="M1558.4 696.3l6.5 6.5l-6.5 6.5l-6.5 -6.5z"/>
<path d="M1549.2 704.8l6.5 6.5l-6.5 6.5l-6.5 -6.5z"/>
<path d="M1598.4 658l6.5 6.5l-6.5 6.5l-6.5 -6.5z"/>
<path d="M1577.4 671.8l6.5 6.5l-6.5 6.5l-6.5 -6.5z"/>
<path d="M1596.4 668.9l6.5 6.5l-6.5 6.5l-6.5 -6.5z"/>
<path d="M1575.7 679.7l6.5 6.5l-6.5 6.5l-6.5 -6.5z"/>
<path d="M1554.5 698.2l6.5 6.5l-6.5 6.5l-6.5 -6.5z"/>
<path d="M1586 666.4l6.5 6.5l-6.5 6.5l-6.5 -6.5z"/>
<path d="M1593.2 665.1l6.5 6.5l-6.5 6.5l-6.5 -6.5z"/>
<path d="M1521.1 714.3l6.5 6.5l-6.5 6.5l-6.5 -6.5z"/>
<path d="M1566 682.9l6.5 6.5l-6.5 6.5l-6.5 -6.5z"/>
<path d="M1595.1 666l6.5 6.5l-6.5 6.5l-6.5 -6.5z"/>
<path d="M1566.2 682.5l6.5 6.5l-6.5 6.5l-6.5 -6.5z"/>
<path d="M1567.3 684.3l6.5 6.5l-6.5 6.5l-6.5 -6.5z"/>
<path d="M1555.2 686.2l6.5 6.5l-6.5 6.5l-6.5 -6.5z"/>
<path d="M1513.2 725.2l6.5 6.5l-6.5 6.5l-6.5 -6.5z"/>
<path d="M1549.6 698.1l6.5 6.5l-6.5 6.5l-6.5 -6.5z"/>
<path d="M1597.1 661.9l6.5 6.5l-6.5 6.5l-6.5 -6.5z"/>
<path d="M1531.4 708.9l6.5 6.5l-6.5 6.5l-6.5 -6.5z"/>
<path d="M1555.3 690.8l6.5 6.5l-6.5 6.5l-6.5 -6.5z"/>
<path d="M1557 699l6.5 6.5l-6.5 6.5l-6.5 -6.5z"/>
<path d="M1561.4 693l6.5 6.5l-6.5 6.5l-6.5 -6.5z"/>
<path d="M1577.7 672l6.5 6.5l-6.5 6.5l-6.5 -6.5z"/>
<path d="M1563.5 686.3l6.5 6.5l-6.5 6.5l-6.5 -6.5z"/>
<path d="M1542.2 704.3l6.5 6.5l-6.5 6.5l-6.5 -6.5z"/>
<path d="M1598.6 662.2l6.5 6.5l-6.5 6.5l-6.5 -6.5z"/>
<path d="M1593.9 658.3l6.5 6.5l-6.5 6.5l-6.5 -6.5z"/>
<path d="M1579 677.2l6.5 6.5l-6.5 6.5l-6.5 -6.5z"/>
<path d="M1571.6 681.1l6.5 6.5l-6.5 6.5l-6.5 -6.5z"/>
<path d="M1548.5 702.4l6.5 6.5l-6.5 6.5l-6.5 -6.5z"/>
<path d="M1543.9 705.8l6.5 6.5l-6.5 6.5l-6.5 -6.5z"/>
<path d="M1549.9 696.2l6.5 6.5l-6.5 6.5l-6.5 -6.5z"/>
<path d="M1554.6 696.3l6.5 6.5l-6.5 6.5l-6.5 -6.5z"/>
<path d="M1564.6 682l6.5 6.5l-6.5 6.5l-6.5 -6.5z"/>
<path d="M1537 705.9l6.5 6.5l-6.5 6.5l-6.5 -6.5z"/>
<path d="M1534.4 710.2l6.5 6.5l-6.5 6.5l-6.5 -6.5z"/>
<path d="M1539.7 707.9l6.5 6.5l-6.5 6.5l-6.5 -6.5z"/>
<path d="M1520.6 713.1l6.5 6.5l-6.5 6.5l-6.5 -6.5z"/>
<path d="M1560 694.8l6.5 6.5l-6.5 6.5l-6.5 -6.5z"/>
<path d="M1557.9 696.1l6.5 6.5l-6.5 6.5l-6.5 -6.5z"/>
<path d="M1597.1 663.9l6.5 6.5l-6.5 6.5l-6.5 -6.5z"/>
<path d="M1540.9 713.1l6.5 6.5l-6.5 6.5l-6.5 -6.5z"/>
<path d="M1609.3 655l6.5 6.5l-6.5 6.5l-6.5 -6.5z"/>
<path d="M1591.8 667.1l6.5 6.5l-6.5 6.5l-6.5 -6.5z"/>
<path d="M1538.4 703.5l6.5 6.5l-6.5 6.5l-6.5 -6.5z"/>
<path d="M1596.3 667.2l6.5 6.5l-6.5 6.5l-6.5 -6.5z"/>
<path d="M1520.6 717.3l6.5 6.5l-6.5 6.5l-6.5 -6.5z"/>
<path d="M1577.2 673.4l6.5 6.5l-6.5 6.5l-6.5 -6.5z"/>
<path d="M1545.4 710l6.5 6.5l-6.5 6.5l-6.5 -6.5z"/>
<path d="M1579.5 681.9l6.5 6.5l-6.5 6.5l-6.5 -6.5z"/>
<path d="M1533.6 719.2l6.5 6.5l-6.5 6.5l-6.5 -6.5z"/>
<path d="M1529.2 710.1l6.5 6.5l-6.5 6.5l-6.5 -6.5z"/>
<path d="M1512.6 721.1l6.5 6.5l-6.5 6.5l-6.5 -6.5z"/>
<path d="M1584 671.9l6.5 6.5l-6.5 6.5l-6.5 -6.5z"/>
<path d="M1557.8 690.2l6.5 6.5l-6.5 6.5l-6.5 -6.5z"/>
<path d="M1585.8 666.3l6.5 6.5l-6.5 6.5l-6.5 -6.5z"/>
<path d="M1591.3 663.3l6.5 6.5l-6.5 6.5l-6.5 -6.5z"/>
<path d="M1542.5 698.5l6.5 6.5l-6.5 6.5l-6.5 -6.5z"/>
<path d="M1528.8 720l6.5 6.5l-6.5 6.5l-6.5 -6.5z"/>
<path d="M1534.7 713.1l6.5 6.5l-6.5 6.5l-6.5 -6.5z"/>
<path d="M1553 692.4l6.5 6.5l-6.5 6.5l-6.5 -6.5z"/>
<path d="M1567.8 691l6.5 6.5l-6.5 6.5l-6.5 -6.5z"/>
<path d="M1678.6 605.9l6.5 6.5l-6.5 6.5l-6.5 -6.5z"/>
<path d="M1662.3 622.7l6.5 6.5l-6.5 6.5l-6.5 -6.5z"/>
<path d="M1671.6 618l6.5 6.5l-6.5 6.5l-6.5 -6.5z"/>
<path d="M1682.1 605.6l6.5 6.5l-6.5 6.5l-6.5 -6.5z"/>
<path d="M1692.6 602.3l6.5 6.5l-6.5 6.5l-6.5 -6.5z"/>
<path d="M1636.8 638.5l6.5 6.5l-6.5 6.5l-6.5 -6.5z"/>
<path d="M1673 614.3l6.5 6.5l-6.5 6.5l-6.5 -6.5z"/>
<path d="M1637.8 637l6.5 6.5l-6.5 6.5l-6.5 -6.5z"/>
<path d="M1668.3 617.2l6.5 6.5l-6.5 6.5l-6.5 -6.5z"/>
<path d="M1619 645.7l6.5 6.5l-6.5 6.5l-6.5 -6.5z"/>
<path d="M1641 639.4l6.5 6.5l-6.5 6.5l-6.5 -6.5z"/>
<path d="M1641.9 636.6l6.5 6.5l-6.5 6.5l-6.5 -6.5z"/>
<path d="M1675.3 608.2l6.5 6.5l-6.5 6.5l-6.5 -6.5z"/>
<path d="M1623.6 645.5l6.5 6.5l-6.5 6.5l-6.5 -6.5z"/>
<path d="M1630 641.3l6.5 6.5l-6.5 6.5l-6.5 -6.5z"/>
<path d="M1616.2 648.9l6.5 6.5l-6.5 6.5l-6.5 -6.5z"/>
<path d="M1672.5 604.3l6.5 6.5l-6.5 6.5l-6.5 -6.5z"/>
<path d="M1648.7 625.3l6.5 6.5l-6.5 6.5l-6.5 -6.5z"/>
<path d="M1656.5 619.7l6.5 6.5l-6.5 6.5l-6.5 -6.5z"/>
<path d="M1687.1 606.5l6.5 6.5l-6.5 6.5l-6.5 -6.5z"/>
<path d="M1690.3 599.1l6.5 6.5l-6.5 6.5l-6.5 -6.5z"/>
<path d="M1606.3 656.1l6.5 6.5l-6.5 6.5l-6.5 -6.5z"/>
<path d="M1677.1 607.4l6.5 6.5l-6.5 6.5l-6.5 -6.5z"/>
<path d="M1608.9 660.9l6.5 6.5l-6.5 6.5l-6.5 -6.5z"/>
<path d="M1601.2 654.3l6.5 6.5l-6.5 6.5l-6.5 -6.5z"/>
<path d="M1673.2 621.1l6.5 6.5l-6.5 6.5l-6.5 -6.5z"/>
<path d="M1666 616.8l6.5 6.5l-6.5 6.5l-6.5 -6.5z"/>
<path d="M1616.3 650l6.5 6.5l-6.5 6.5l-6.5 -6.5z"/>
<path d="M1659.6 628.3l6.5 6.5l-6.5 6.5l-6.5 -6.5z"/>
<path d="M1650.2 631.8l6.5 6.5l-6.5 6.5l-6.5 -6.5z"/>
<path d="M1652.2 629.3l6.5 6.5l-6.5 6.5l-6.5 -6.5z"/>
<path d="M1645.9 633.6l6.5 6.5l-6.5 6.5l-6.5 -6.5z"/>
<path d="M1614.5 651.9l6.5 6.5l-6.5 6.5l-6.5 -6.5z"/>
<path d="M1657.4 621.6l6.5 6.5l-6.5 6.5l-6.5 -6.5z"/>
<path d="M1668.5 612.5l6.5 6.5l-6.5 6.5l-6.5 -6.5z"/>
<path d="M1618.8 648l6.5 6.5l-6.5 6.5l-6.5 -6.5z"/>
<path d="M1635.6 643.1l6.5 6.5l-6.5 6.5l-6.5 -6.5z"/>
<path d="M1628 644.4l6.5 6.5l-6.5 6.5l-6.5 -6.5z"/>
<path d="M1643.7 626.6l6.5 6.5l-6.5 6.5l-6.5 -6.5z"/>
<path d="M1628.2 642.6l6.5 6.5l-6.5 6.5l-6.5 -6.5z"/>
<path d="M1693.4 607.1l6.5 6.5l-6.5 6.5l-6.5 -6.5z"/>
<path d="M1654.7 627.5l6.5 6.5l-6.5 6.5l-6.5 -6.5z"/>
<path d="M1686 608.4l6.5 6.5l-6.5 6.5l-6.5 -6.5z"/>
<path d="M1691 606.6l6.5 6.5l-6.5 6.5l-6.5 -6.5z"/>
<path d="M1666.5 625.7l6.5 6.5l-6.5 6.5l-6.5 -6.5z"/>
<path d="M1693.4 605.8l6.5 6.5l-6.5 6.5l-6.5 -6.5z"/>
<path d="M1612.9 656.2l6.5 6.5l-6.5 6.5l-6.5 -6.5z"/>
<path d="M1609.1 656.5l6.5 6.5l-6.5 6.5l-6.5 -6.5z"/>
<path d="M1673.7 611.1l6.5 6.5l-6.5 6.5l-6.5 -6.5z"/>
<path d="M1655.3 616.3l6.5 6.5l-6.5 6.5l-6.5 -6.5z"/>
<path d="M1648.5 629.9l6.5 6.5l-6.5 6.5l-6.5 -6.5z"/>
<path d="M1695.2 603.9l6.5 6.5l-6.5 6.5l-6.5 -6.5z"/>
<path d="M1662.1 623.3l6.5 6.5l-6.5 6.5l-6.5 -6.5z"/>
<path d="M1668.2 614.9l6.5 6.5l-6.5 6.5l-6.5 -6.5z"/>
<path d="M1672.3 621.5l6.5 6.5l-6.5 6.5l-6.5 -6.5z"/>
<path d="M1620.1 653.9l6.5 6.5l-6.5 6.5l-6.5 -6.5z"/>
<path d="M1625 653l6.5 6.5l-6.5 6.5l-6.5 -6.5z"/>
<path d="M1616.5 655.3l6.5 6.5l-6.5 6.5l-6.5 -6.5z"/>
<path d="M1694.7 606.5l6.5 6.5l-6.5 6.5l-6.5 -6.5z"/>
<path d="M1671.3 614.8l6.5 6.5l-6.5 6.5l-6.5 -6.5z"/>
<path d="M1650.8 622l6.5 6.5l-6.5 6.5l-6.5 -6.5z"/>
<path d="M1658.6 620.2l6.5 6.5l-6.5 6.5l-6.5 -6.5z"/>
<path d="M1615.7 654.7l6.5 6.5l-6.5 6.5l-6.5 -6.5z"/>
<path d="M1653.6 623.2l6.5 6.5l-6.5 6.5l-6.5 -6.5z"/>
<path d="M1650.7 632.9l6.5 6.5l-6.5 6.5l-6.5 -6.5z"/>
<path d="M1678.7 607.1l6.5 6.5l-6.5 6.5l-6.5 -6.5z"/>
<path d="M1608.5 655.5l6.5 6.5l-6.5 6.5l-6.5 -6.5z"/>
<path d="M1660.7 628l6.5 6.5l-6.5 6.5l-6.5 -6.5z"/>
<path d="M1679 611.6l6.5 6.5l-6.5 6.5l-6.5 -6.5z"/>
<path d="M1678.2 617.6l6.5 6.5l-6.5 6.5l-6.5 -6.5z"/>
<path d="M1617.2 656.2l6.5 6.5l-6.5 6.5l-6.5 -6.5z"/>
<path d="M1693.1 604.2l6.5 6.5l-6.5 6.5l-6.5 -6.5z"/>
<path d="M1655.9 620.8l6.5 6.5l-6.5 6.5l-6.5 -6.5z"/>
<path d="M1677 613.2l6.5 6.5l-6.5 6.5l-6.5 -6.5z"/>
<path d="M1647.2 625.9l6.5 6.5l-6.5 6.5l-6.5 -6.5z"/>
<path d="M1686.4 603l6.5 6.5l-6.5 6.5l-6.5 -6.5z"/>
<path d="M1675.9 613.4l6.5 6.5l-6.5 6.5l-6.5 -6.5z"/>
<path d="M1655.5 622.9l6.5 6.5l-6.5 6.5l-6.5 -6.5z"/>
<path d="M1676.1 609.3l6.5 6.5l-6.5 6.5l-6.5 -6.5z"/>
<path d="M1681 598.4l6.5 6.5l-6.5 6.5l-6.5 -6.5z"/>
<path d="M1612.1 651.8l6.5 6.5l-6.5 6.5l-6.5 -6.5z"/>
<path d="M1621 649.6l6.5 6.5l-6.5 6.5l-6.5 -6.5z"/>
<path d="M1651.4 636.1l6.5 6.5l-6.5 6.5l-6.5 -6.5z"/>
<path d="M1611.1 655.9l6.5 6.5l-6.5 6.5l-6.5 -6.5z"/>
<path d="M1622 642.8l6.5 6.5l-6.5 6.5l-6.5 -6.5z"/>
<path d="M1647.3 638.2l6.5 6.5l-6.5 6.5l-6.5 -6.5z"/>
<path d="M1615.5 650.5l6.5 6.5l-6.5 6.5l-6.5 -6.5z"/>
<path d="M1605.4 659.6l6.5 6.5l-6.5 6.5l-6.5 -6.5z"/>
<path d="M1659.8 630.4l6.5 6.5l-6.5 6.5l-6.5 -6.5z"/>
<path d="M1669.1 615.9l6.5 6.5l-6.5 6.5l-6.5 -6.5z"/>
<path d="M1613.6 649.2l6.5 6.5l-6.5 6.5l-6.5 -6.5z"/>
<path d="M1670.2 613.2l6.5 6.5l-6.5 6.5l-6.5 -6.5z"/>
<path d="M1647.4 640.9l6.5 6.5l-6.5 6.5l-6.5 -6.5z"/>
<path d="M1628.1 648.2l6.5 6.5l-6.5 6.5l-6.5 -6.5z"/>
<path d="M1666 611.1l6.5 6.5l-6.5 6.5l-6.5 -6.5z"/>
<path d="M1633.9 642.5l6.5 6.5l-6.5 6.5l-6.5 -6.5z"/>
<path d="M1608.7 653.8l6.5 6.5l-6.5 6.5l-6.5 -6.5z"/>
<path d="M1675.4 614.2l6.5 6.5l-6.5 6.5l-6.5 -6.5z"/>
<path d="M1638.1 635.8l6.5 6.5l-6.5 6.5l-6.5 -6.5z"/>
<path d="M1667.2 614l6.5 6.5l-6.5 6.5l-6.5 -6.5z"/>
<path d="M1621.9 656.9l6.5 6.5l-6.5 6.5l-6.5 -6.5z"/>
<path d="M1601.2 656.3l6.5 6.5l-6.5 6.5l-6.5 -6.5z"/>
<path d="M1680.9 609.3l6.5 6.5l-6.5 6.5l-6.5 -6.5z"/>
<path d="M1609 651.5l6.5 6.5l-6.5 6.5l-6.5 -6.5z"/>
<path d="M1669.3 617l6.5 6.5l-6.5 6.5l-6.5 -6.5z"/>
<path d="M1687 597.8l6.5 6.5l-6.5 6.5l-6.5 -6.5z"/>
<path d="M1685.3 598.5l6.5 6.5l-6.5 6.5l-6.5 -6.5z"/>
<path d="M1612 648.6l6.5 6.5l-6.5 6.5l-6.5 -6.5z"/>
<path d="M1627.1 640.3l6.5 6.5l-6.5 6.5l-6.5 -6.5z"/>
<path d="M1688.5 601.9l6.5 6.5l-6.5 6.5l-6.5 -6.5z"/>
<path d="M1740.1 563.3l6.5 6.5l-6.5 6.5l-6.5 -6.5z"/>
<path d="M1768.3 543.9l6.5 6.5l-6.5 6.5l-6.5 -6.5z"/>
<path d="M1720.3 580.4l6.5 6.5l-6.5 6.5l-6.5 -6.5z"/>
<path d="M1718.3 577.2l6.5 6.5l-6.5 6.5l-6.5 -6.5z"/>
<path d="M1715 584.7l6.5 6.5l-6.5 6.5l-6.5 -6.5z"/>
<path d="M1714.8 585l6.5 6.5l-6.5 6.5l-6.5 -6.5z"/>
<path d="M1713.1 589.5l6.5 6.5l-6.5 6.5l-6.5 -6.5z"/>
<path d="M1716.9 585.2l6.5 6.5l-6.5 6.5l-6.5 -6.5z"/>
<path d="M1768.6 548.2l6.5 6.5l-6.5 6.5l-6.5 -6.5z"/>
<path d="M1758.5 548.9l6.5 6.5l-6.5 6.5l-6.5 -6.5z"/>
<path d="M1710.8 591.1l6.5 6.5l-6.5 6.5l-6.5 -6.5z"/>
<path d="M1706.3 593.8l6.5 6.5l-6.5 6.5l-6.5 -6.5z"/>
<path d="M1708 592.7l6.5 6.5l-6.5 6.5l-6.5 -6.5z"/>
<path d="M1690.8 597.4l6.5 6.5l-6.5 6.5l-6.5 -6.5z"/>
<path d="M1705.5 587.1l6.5 6.5l-6.5 6.5l-6.5 -6.5z"/>
<path d="M1770.8 551.2l6.5 6.5l-6.5 6.5l-6.5 -6.5z"/>
<path d="M1772.7 543.4l6.5 6.5l-6.5 6.5l-6.5 -6.5z"/>
<path d="M1775 546.3l6.5 6.5l-6.5 6.5l-6.5 -6.5z"/>
<path d="M1754 562.1l6.5 6.5l-6.5 6.5l-6.5 -6.5z"/>
<path d="M1749.4 558.1l6.5 6.5l-6.5 6.5l-6.5 -6.5z"/>
<path d="M1739.3 571.4l6.5 6.5l-6.5 6.5l-6.5 -6.5z"/>
<path d="M1762.8 554.6l6.5 6.5l-6.5 6.5l-6.5 -6.5z"/>
<path d="M1713.2 586.8l6.5 6.5l-6.5 6.5l-6.5 -6.5z"/>
<path d="M1756.4 556.6l6.5 6.5l-6.5 6.5l-6.5 -6.5z"/>
<path d="M1695 599.2l6.5 6.5l-6.5 6.5l-6.5 -6.5z"/>
<path d="M1691.5 594.1l6.5 6.5l-6.5 6.5l-6.5 -6.5z"/>
<path d="M1717.7 585.5l6.5 6.5l-6.5 6.5l-6.5 -6.5z"/>
<path d="M1692.6 598.5l6.5 6.5l-6.5 6.5l-6.5 -6.5z"/>
<path d="M1734.6 567.9l6.5 6.5l-6.5 6.5l-6.5 -6.5z"/>
<path d="M1749.3 554.9l6.5 6.5l-6.5 6.5l-6.5 -6.5z"/>
<path d="M1741.1 567.9l6.5 6.5l-6.5 6.5l-6.5 -6.5z"/>
<path d="M1761.7 552.6l6.5 6.5l-6.5 6.5l-6.5 -6.5z"/>
<path d="M1706.8 583.9l6.5 6.5l-6.5 6.5l-6.5 -6.5z"/>
<path d="M1755.2 556.3l6.5 6.5l-6.5 6.5l-6.5 -6.5z"/>
<path d="M1752.2 562.4l6.5 6.5l-6.5 6.5l-6.5 -6.5z"/>
<path d="M1730.6 568l6.5 6.5l-6.5 6.5l-6.5 -6.5z"/>
<path d="M1744.1 568.2l6.5 6.5l-6.5 6.5l-6.5 -6.5z"/>
<path d="M1750.6 560.8l6.5 6.5l-6.5 6.5l-6.5 -6.5z"/>
<path d="M1768.1 549.8l6.5 6.5l-6.5 6.5l-6.5 -6.5z"/>
<path d="M1703.5 589.3l6.5 6.5l-6.5 6.5l-6.5 -6.5z"/>
<path d="M1763.9 549.2l6.5 6.5l-6.5 6.5l-6.5 -6.5z"/>
<path d="M1686.6 602.2l6.5 6.5l-6.5 6.5l-6.5 -6.5z"/>
<path d="M1763.1 549.5l6.5 6.5l-6.5 6.5l-6.5 -6.5z"/>
<path d="M1773.6 542.9l6.5 6.5l-6.5 6.5l-6.5 -6.5z"/>
<path d="M1737.6 569.1l6.5 6.5l-6.5 6.5l-6.5 -6.5z"/>
<path d="M1704.3 585.3l6.5 6.5l-6.5 6.5l-6.5 -6.5z"/>
<path d="M1732.6 574.6l6.5 6.5l-6.5 6.5l-6.5 -6.5z"/>
<path d="M1725.6 581.5l6.5 6.5l-6.5 6.5l-6.5 -6.5z"/>
<path d="M1756.7 557.3l6.5 6.5l-6.5 6.5l-6.5 -6.5z"/>
<path d="M1720 582.6l6.5 6.5l-6.5 6.5l-6.5 -6.5z"/>
<path d="M1680.6 600.6l6.5 6.5l-6.5 6.5l-6.5 -6.5z"/>
<path d="M1765.1 554.8l6.5 6.5l-6.5 6.5l-6.5 -6.5z"/>
<path d="M1701.1 595.4l6.5 6.5l-6.5 6.5l-6.5 -6.5z"/>
<path d="M1704.8 589.3l6.5 6.5l-6.5 6.5l-6.5 -6.5z"/>
<path d="M1741.7 565.2l6.5 6.5l-6.5 6.5l-6.5 -6.5z"/>
<path d="M1693 602.1l6.5 6.5l-6.5 6.5l-6.5 -6.5z"/>
<path d="M1701.5 596.7l6.5 6.5l-6.5 6.5l-6.5 -6.5z"/>
<path d="M1691.5 608.3l6.5 6.5l-6.5 6.5l-6.5 -6.5z"/>
<path d="M1733.8 572.8l6.5 6.5l-6.5 6.5l-6.5 -6.5z"/>
<path d="M1687.1 609.5l6.5 6.5l-6.5 6.5l-6.5 -6.5z"/>
<path d="M1717.8 582.4l6.5 6.5l-6.5 6.5l-6.5 -6.5z"/>
<path d="M1721.1 579.4l6.5 6.5l-6.5 6.5l-6.5 -6.5z"/>
<path d="M1711.3 581.9l6.5 6.5l-6.5 6.5l-6.5 -6.5z"/>
<path d="M1691.6 601.2l6.5 6.5l-6.5 6.5l-6.5 -6.5z"/>
<path d="M1762.3 550.8l6.5 6.5l-6.5 6.5l-6.5 -6.5z"/>
<path d="M1699.1 601.7l6.5 6.5l-6.5 6.5l-6.5 -6.5z"/>
<path d="M1692.9 600.4l6.5 6.5l-6.5 6.5l-6.5 -6.5z"/>
<path d="M1707.3 591.2l6.5 6.5l-6.5 6.5l-6.5 -6.5z"/>
<path d="M1777 546.3l6.5 6.5l-6.5 6.5l-6.5 -6.5z"/>
<path d="M1800.8 527.8l6.5 6.5l-6.5 6.5l-6.5 -6.5z"/>
<path d="M1768.6 546.9l6.5 6.5l-6.5 6.5l-6.5 -6.5z"/>
<path d="M1768.6 547l6.5 6.5l-6.5 6.5l-6.5 -6.5z"/>
<path d="M1797.8 526.6l6.5 6.5l-6.5 6.5l-6.5 -6.5z"/>
<path d="M1805.5 521.6l6.5 6.5l-6.5 6.5l-6.5 -6.5z"/>
<path d="M1791.3 531.3l6.5 6.5l-6.5 6.5l-6.5 -6.5z"/>
<path d="M1785.4 534.9l6.5 6.5l-6.5 6.5l-6.5 -6.5z"/>
<path d="M1813.5 515.6l6.5 6.5l-6.5 6.5l-6.5 -6.5z"/>
<path d="M1818.2 511.4l6.5 6.5l-6.5 6.5l-6.5 -6.5z"/>
<path d="M1820.1 512.9l6.5 6.5l-6.5 6.5l-6.5 -6.5z"/>
<path d="M1769.9 543.2l6.5 6.5l-6.5 6.5l-6.5 -6.5z"/>
<path d="M1817.4 515.8l6.5 6.5l-6.5 6.5l-6.5 -6.5z"/>
<path d="M1814.9 513.3l6.5 6.5l-6.5 6.5l-6.5 -6.5z"/>
<path d="M1780.2 539.5l6.5 6.5l-6.5 6.5l-6.5 -6.5z"/>
<path d="M1772.3 551l6.5 6.5l-6.5 6.5l-6.5 -6.5z"/>
<path d="M1819.6 508.7l6.5 6.5l-6.5 6.5l-6.5 -6.5z"/>
<path d="M1810.8 520.2l6.5 6.5l-6.5 6.5l-6.5 -6.5z"/>
<path d="M1823.3 509.5l6.5 6.5l-6.5 6.5l-6.5 -6.5z"/>
<path d="M1798.9 527.4l6.5 6.5l-6.5 6.5l-6.5 -6.5z"/>
<path d="M1779.4 538.4l6.5 6.5l-6.5 6.5l-6.5 -6.5z"/>
<path d="M1771.8 545.6l6.5 6.5l-6.5 6.5l-6.5 -6.5z"/>
<path d="M1790.8 532.5l6.5 6.5l-6.5 6.5l-6.5 -6.5z"/>
<path d="M1772.8 546.4l6.5 6.5l-6.5 6.5l-6.5 -6.5z"/>
<path d="M1765.1 543.7l6.5 6.5l-6.5 6.5l-6.5 -6.5z"/>
<path d="M1818 515l6.5 6.5l-6.5 6.5l-6.5 -6.5z"/>
<path d="M1771.6 549.3l6.5 6.5l-6.5 6.5l-6.5 -6.5z"/>
<path d="M1814.1 517.6l6.5 6.5l-6.5 6.5l-6.5 -6.5z"/>
<path d="M1775.8 541.2l6.5 6.5l-6.5 6.5l-6.5 -6.5z"/>
<path d="M1788.9 536.3l6.5 6.5l-6.5 6.5l-6.5 -6.5z"/>
<path d="M1822.9 509l6.5 6.5l-6.5 6.5l-6.5 -6.5z"/>
<path d="M1775.8 542.1l6.5 6.5l-6.5 6.5l-6.5 -6.5z"/>
<path d="M1777.7 540.2l6.5 6.5l-6.5 6.5l-6.5 -6.5z"/>
</g>
<g fill="#ec5b5f">
<circle cx="1524.7" cy="724.8" r="5.7"/>
<circle cx="1533.9" cy="694.3" r="5.7"/>
<circle cx="1540.4" cy="710.1" r="5.7"/>
<circle cx="1546.3" cy="712" r="5.7"/>
<circle cx="1548.3" cy="719.9" r="5.7"/>
<circle cx="1565" cy="695.3" r="5.7"/>
<circle cx="1572.9" cy="689.4" r="5.7"/>
<circle cx="1576.8" cy="677.6" r="5.7"/>
<circle cx="1590.5" cy="679.6" r="5.7"/>
<circle cx="1590.5" cy="688.5" r="5.7"/>
<circle cx="1595.5" cy="665.8" r="5.7"/>
<circle cx="1599.4" cy="674.7" r="5.7"/>
<circle cx="1603.3" cy="677.6" r="5.7"/>
<circle cx="1607.2" cy="664.9" r="5.7"/>
<circle cx="1613.1" cy="641.3" r="5.7"/>
<circle cx="1620" cy="638.3" r="5.7"/>
<circle cx="1621" cy="644.2" r="5.7"/>
<circle cx="1616.1" cy="654.1" r="5.7"/>
<circle cx="1623" cy="653.1" r="5.7"/>
<circle cx="1617.1" cy="665.8" r="5.7"/>
<circle cx="1633.8" cy="647.2" r="5.7"/>
<circle cx="1634.2" cy="661.3" r="5.7"/>
<circle cx="1647.5" cy="616.7" r="5.7"/>
<circle cx="1661.3" cy="606.9" r="5.7"/>
<circle cx="1647.5" cy="637.3" r="5.7"/>
<circle cx="1656.4" cy="625.6" r="5.7"/>
<circle cx="1657.4" cy="632.4" r="5.7"/>
<circle cx="1657.4" cy="659" r="5.7"/>
<circle cx="1674.1" cy="649.1" r="5.7"/>
<circle cx="1672.1" cy="622.6" r="5.7"/>
<circle cx="1678" cy="610.8" r="5.7"/>
<circle cx="1689.8" cy="625.6" r="5.7"/>
<circle cx="1756.1" cy="525.9" r="5.7"/>
<circle cx="1788.9" cy="538.9" r="5.7"/>
<circle cx="1776.5" cy="556.6" r="5.7"/>
<circle cx="1761.4" cy="552" r="5.7"/>
<circle cx="1756.5" cy="558.9" r="5.7"/>
<circle cx="1752.6" cy="569.7" r="5.7"/>
<circle cx="1738.8" cy="570.7" r="5.7"/>
<circle cx="1726.6" cy="571.3" r="5.7"/>
<circle cx="1719.1" cy="578.6" r="5.7"/>
<circle cx="1723.1" cy="581.5" r="5.7"/>
<circle cx="1696.5" cy="583.1" r="5.7"/>
<circle cx="1697.5" cy="593.3" r="5.7"/>
<circle cx="1689.7" cy="596.3" r="5.7"/>
<circle cx="1710.3" cy="592.3" r="5.7"/>
<circle cx="1713.2" cy="598.8" r="5.7"/>
<circle cx="1695.6" cy="609" r="5.7"/>
</g>
<line x1="1439.1" y1="782.7" x2="1938.2" y2="435.8" stroke="#000" stroke-width="2.5" stroke-dasharray="11.2 14.63" stroke-dashoffset="0.45" stroke-linecap="round"/>
<rect x="1439.1" y="435.8" width="499.1" height="346.9" fill="none" stroke="#000" stroke-width="3.2"/>
<line x1="1439.1" y1="782.7" x2="1439.1" y2="787.3" stroke="#000" stroke-width="3.2"/>
<line x1="1434.5" y1="782.7" x2="1439.1" y2="782.7" stroke="#000" stroke-width="3.2"/>
<line x1="1484.47" y1="782.7" x2="1484.47" y2="791.2" stroke="#000" stroke-width="3.2"/>
<line x1="1430.6" y1="751.16" x2="1439.1" y2="751.16" stroke="#000" stroke-width="3.2"/>
<text transform="translate(1484.47 818.1) scale(1 1.04)" font-size="27.6" text-anchor="middle" stroke="#000" stroke-width="0.4">-4</text>
<text transform="translate(1425.3 760.06) scale(1 1.04)" font-size="27.6" text-anchor="end" stroke="#000" stroke-width="0.4">-4</text>
<line x1="1529.85" y1="782.7" x2="1529.85" y2="787.3" stroke="#000" stroke-width="3.2"/>
<line x1="1434.5" y1="719.63" x2="1439.1" y2="719.63" stroke="#000" stroke-width="3.2"/>
<line x1="1575.22" y1="782.7" x2="1575.22" y2="791.2" stroke="#000" stroke-width="3.2"/>
<line x1="1430.6" y1="688.09" x2="1439.1" y2="688.09" stroke="#000" stroke-width="3.2"/>
<text transform="translate(1575.22 818.1) scale(1 1.04)" font-size="27.6" text-anchor="middle" stroke="#000" stroke-width="0.4">-3</text>
<text transform="translate(1425.3 696.99) scale(1 1.04)" font-size="27.6" text-anchor="end" stroke="#000" stroke-width="0.4">-3</text>
<line x1="1620.59" y1="782.7" x2="1620.59" y2="787.3" stroke="#000" stroke-width="3.2"/>
<line x1="1434.5" y1="656.55" x2="1439.1" y2="656.55" stroke="#000" stroke-width="3.2"/>
<line x1="1665.96" y1="782.7" x2="1665.96" y2="791.2" stroke="#000" stroke-width="3.2"/>
<line x1="1430.6" y1="625.02" x2="1439.1" y2="625.02" stroke="#000" stroke-width="3.2"/>
<text transform="translate(1665.96 818.1) scale(1 1.04)" font-size="27.6" text-anchor="middle" stroke="#000" stroke-width="0.4">-2</text>
<text transform="translate(1425.3 633.92) scale(1 1.04)" font-size="27.6" text-anchor="end" stroke="#000" stroke-width="0.4">-2</text>
<line x1="1711.34" y1="782.7" x2="1711.34" y2="787.3" stroke="#000" stroke-width="3.2"/>
<line x1="1434.5" y1="593.48" x2="1439.1" y2="593.48" stroke="#000" stroke-width="3.2"/>
<line x1="1756.71" y1="782.7" x2="1756.71" y2="791.2" stroke="#000" stroke-width="3.2"/>
<line x1="1430.6" y1="561.95" x2="1439.1" y2="561.95" stroke="#000" stroke-width="3.2"/>
<text transform="translate(1756.71 818.1) scale(1 1.04)" font-size="27.6" text-anchor="middle" stroke="#000" stroke-width="0.4">-1</text>
<text transform="translate(1425.3 570.85) scale(1 1.04)" font-size="27.6" text-anchor="end" stroke="#000" stroke-width="0.4">-1</text>
<line x1="1802.08" y1="782.7" x2="1802.08" y2="787.3" stroke="#000" stroke-width="3.2"/>
<line x1="1434.5" y1="530.41" x2="1439.1" y2="530.41" stroke="#000" stroke-width="3.2"/>
<line x1="1847.45" y1="782.7" x2="1847.45" y2="791.2" stroke="#000" stroke-width="3.2"/>
<line x1="1430.6" y1="498.87" x2="1439.1" y2="498.87" stroke="#000" stroke-width="3.2"/>
<text transform="translate(1847.45 818.1) scale(1 1.04)" font-size="27.6" text-anchor="middle" stroke="#000" stroke-width="0.4">0</text>
<text transform="translate(1425.3 507.77) scale(1 1.04)" font-size="27.6" text-anchor="end" stroke="#000" stroke-width="0.4">0</text>
<line x1="1892.83" y1="782.7" x2="1892.83" y2="787.3" stroke="#000" stroke-width="3.2"/>
<line x1="1434.5" y1="467.34" x2="1439.1" y2="467.34" stroke="#000" stroke-width="3.2"/>
<line x1="1938.2" y1="782.7" x2="1938.2" y2="791.2" stroke="#000" stroke-width="3.2"/>
<line x1="1430.6" y1="435.8" x2="1439.1" y2="435.8" stroke="#000" stroke-width="3.2"/>
<text transform="translate(1938.2 818.1) scale(1 1.04)" font-size="27.6" text-anchor="middle" stroke="#000" stroke-width="0.4">1</text>
<text transform="translate(1425.3 444.7) scale(1 1.04)" font-size="27.6" text-anchor="end" stroke="#000" stroke-width="0.4">1</text>
<g fill="#6fa5d6"><path d="M1463.2 453.7l6.6 6.6l-6.6 6.6l-6.6 -6.6z"/></g>
<circle cx="1463.2" cy="493.4" r="5.8" fill="#ec5b5f"/>
<text transform="translate(1485 466.9) scale(1 1.04)" font-size="27.2" stroke="#000" stroke-width="0.4">Training set</text>
<text transform="translate(1485 499.7) scale(1 1.04)" font-size="27.2" stroke="#000" stroke-width="0.4">Testing set</text>
<text transform="translate(1920.9 733.6) scale(1 1.04)" font-size="25.35" font-weight="bold" text-anchor="end">Training: 0.107 eV/atom</text>
<text transform="translate(1918.5 765.6) scale(1 1.04)" font-size="25.35" font-weight="bold" text-anchor="end">Testing: 0.109 eV/atom</text>
<text transform="translate(1544 851.1) scale(1 1.04)" font-size="37.1" font-weight="bold">E<tspan font-size="27.1" dy="8.4">pred-SAE</tspan><tspan dy="-8.4" dx="-4.8"> (eV/atom)</tspan></text>
<text transform="translate(1382.5 734.6) rotate(-90) scale(0.9885 1.04)" font-size="37.1" font-weight="bold">E<tspan font-size="27.1" dy="8.4">targ</tspan><tspan dy="-8.4" dx="-2"> (eV/atom)</tspan></text>
</svg></body></html>
